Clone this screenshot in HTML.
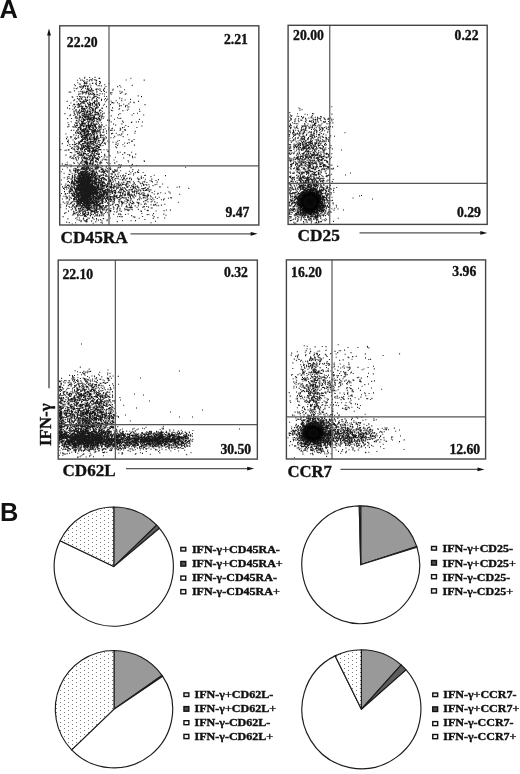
<!DOCTYPE html>
<html lang="en"><head><meta charset="utf-8"><title>Figure</title><style>html,body{margin:0;padding:0;background:#fff}svg{display:block}</style></head><body>
<svg width="520" height="774" viewBox="0 0 520 774" font-family='&quot;Liberation Serif&quot;, &quot;DejaVu Serif&quot;, serif' font-weight="bold" fill="#111">
<defs><pattern id="dots" width="8" height="4" patternUnits="userSpaceOnUse" x="0" y="0"><rect width="8" height="4" fill="#fff"/><rect x="0" y="0" width="1" height="1" fill="#7c7c7c"/><rect x="4" y="2" width="1" height="1" fill="#7c7c7c"/></pattern><radialGradient id="core"><stop offset="0" stop-color="#050505"/><stop offset=".55" stop-color="#050505" stop-opacity=".97"/><stop offset=".8" stop-color="#050505" stop-opacity=".5"/><stop offset="1" stop-color="#050505" stop-opacity="0"/></radialGradient></defs>
<rect width="520" height="774" fill="#fff"/>
<text x="-0.6" y="17.8" font-size="25.4" font-family='&quot;Liberation Sans&quot;, &quot;DejaVu Sans&quot;, sans-serif'>A</text>
<text x="0" y="521.4" font-size="25.4" font-family='&quot;Liberation Sans&quot;, &quot;DejaVu Sans&quot;, sans-serif'>B</text>
<ellipse cx="310" cy="202" rx="13.5" ry="13.5" fill="url(#core)"/>
<ellipse cx="313.3" cy="433" rx="12.5" ry="10.5" fill="url(#core)"/>
<path stroke="#000" stroke-width="1.1" stroke-opacity=".9" fill="none" d="M84.5 181.6h1M85.7 183.7h1M83.4 178.7h1M81 189.9h1M82.7 199.3h1M80.6 183.4h1M84.7 177.2h1M89.7 207.3h1M82.6 183.7h1M82.1 176.3h1M86.4 190.3h1M85.9 192h1M84.9 181.3h1M80.9 195.5h1M84.4 183.4h1M87.2 179.2h1M79.3 189.7h1M82.7 195.3h1M77.1 182h1M79.5 191.1h1M77.3 187.1h1M83.6 214.8h1M79.6 181.3h1M85.6 201.1h1M85.1 187.5h1M83.8 186.8h1M74.7 194.9h1M82.4 196.5h1M84.3 200h1M84.9 191.1h1M78.5 182.3h1M82.6 182.9h1M80.7 192.8h1M81.3 193.5h1M88.6 201.3h1M81.4 192h1M84.4 198.1h1M87.9 202.4h1M82.2 189.6h1M84.1 173.9h1M84.9 176.8h1M84.7 174.3h1M79.7 203.1h1M84.8 179.9h1M89.8 199.7h1M78.5 193.6h1M87.9 204.3h1M85 197.5h1M82 187h1M92.3 186.1h1M87.5 188.8h1M79.8 189.7h1M84.8 183h1M86.7 187.7h1M83.8 203.3h1M87.2 171.8h1M84.2 190.5h1M87.1 179.4h1M90.1 189.8h1M81.9 196h1M85.3 187.5h1M82.7 195.3h1M85 172.9h1M79.9 198.5h1M82.2 182.3h1M83.7 193.9h1M88 189.7h1M89 163.4h1M79.3 180.8h1M81.4 190.1h1M87 202.8h1M76.7 190.7h1M82.7 190.4h1M84.1 174.6h1M89.4 201.6h1M87.2 205.2h1M83.2 188.3h1M83.1 185.9h1M83.5 172.6h1M90.4 196.4h1M82.8 213.7h1M83.3 194.8h1M85.9 200h1M84 193.1h1M83.7 178.6h1M80.2 200.7h1M84.5 176.3h1M82.8 186h1M89 190.6h1M87 196.4h1M84.4 192h1M87.1 191.7h1M83.2 180.8h1M88.6 175.8h1M84.5 188.6h1M86.8 181.3h1M79.5 175.6h1M85.9 176h1M77.9 183.3h1M76.6 170.4h1M83.3 175.2h1M81 172.5h1M85.1 189.7h1M93.3 191.9h1M81.3 207.1h1M82.1 173.8h1M85.3 181.5h1M86.4 196.7h1M83.8 185.9h1M83.7 184.9h1M87.2 204.2h1M86.5 184.8h1M80.5 177h1M84.2 175.5h1M84.6 191.2h1M80.4 190.9h1M85.5 175h1M81.2 178.6h1M88.3 193.1h1M85.3 193.5h1M84.8 181.9h1M82.2 193.9h1M84 193.4h1M76.7 171.1h1M80.1 185h1M85.9 191.9h1M76.2 182.6h1M87.8 167.7h1M77.7 185.3h1M87.5 195.1h1M81.2 203h1M87.5 167.2h1M85 212.8h1M78.5 177.3h1M89.4 197.1h1M90.1 199.7h1M84.2 197.3h1M83.4 189.4h1M83.9 177h1M80.7 194h1M88.8 181.2h1M82.4 164h1M84.3 214.9h1M81.4 194.7h1M82.1 205.3h1M79.5 179.3h1M89.4 201.9h1M83.9 203.1h1M88.3 202.8h1M84.6 187.8h1M81.8 176.6h1M83.2 186.3h1M82.3 167.1h1M84.5 171.8h1M83 188.9h1M83.3 178.6h1M79.1 186.4h1M81.4 187h1M91 206.3h1M81.9 200.3h1M80.4 187.6h1M85.8 199.5h1M90 180.6h1M78.8 184.8h1M83.7 196.6h1M82 176.2h1M77.6 185.3h1M87.4 175.5h1M84.4 189.1h1M84.8 203.5h1M81.6 180.9h1M86.3 190.1h1M82.4 179.5h1M83.9 177.1h1M80.2 176.3h1M79.8 201.8h1M89.7 210.4h1M82.5 192.6h1M85.6 181.2h1M84.4 194.7h1M82.8 184.8h1M82.5 195.6h1M87 190.8h1M83.3 190.7h1M83.9 193.8h1M84.6 182.5h1M89.1 184.2h1M87.2 171.6h1M86 183.8h1M82.3 174.5h1M79.1 186.6h1M88.2 178.9h1M88.3 189h1M84 192.3h1M86.6 174.5h1M87.5 180.3h1M87.7 179h1M88.1 195.1h1M82.7 204.2h1M90.4 196.1h1M79.6 184.7h1M87.9 201.9h1M86.4 173.6h1M87.9 202.2h1M91.8 181.8h1M90.3 161.6h1M80 213.2h1M77.9 203h1M87.7 178.2h1M80.5 189.6h1M84.5 186h1M87.8 189h1M78.1 173.9h1M76.3 181.5h1M85.5 192.4h1M84.7 190.1h1M83.5 199.4h1M84.7 188.8h1M81.1 210.3h1M78.6 181.2h1M83.9 190.5h1M80.7 169.8h1M78.1 176.1h1M86.5 200.6h1M84.3 179h1M86.1 193h1M80.6 187.4h1M81.9 178.1h1M80.6 184.7h1M81 183.1h1M85.3 183.4h1M81.4 195.2h1M85.9 194.2h1M85.8 182.5h1M92.4 179.4h1M79.1 190.7h1M88 187h1M84.2 197.8h1M84.4 213.2h1M78.8 196h1M82.7 187.7h1M87.4 186.4h1M84.2 179.9h1M84.8 179.4h1M83.4 178.5h1M89 184.2h1M84.4 183.9h1M75.9 195.1h1M81.8 184.2h1M76.8 186.1h1M71.8 176.4h1M82.4 203.6h1M89.7 192.8h1M84.7 205h1M79.9 195.6h1M80.8 202.2h1M88.9 185.6h1M85.1 194.8h1M84.7 213.7h1M84.3 176.4h1M84.6 199.2h1M87.6 204.1h1M86.7 192h1M85.3 195.3h1M80.4 200.2h1M86.5 181.6h1M81.8 192h1M88.8 179.6h1M79.5 181.4h1M84 182h1M84.5 186.6h1M79.3 189.4h1M91.2 192.4h1M90.2 174.2h1M82.7 207.3h1M87.5 199.2h1M86 195.1h1M74.3 184.5h1M85.5 187.1h1M84.3 193.3h1M84.8 192h1M80.3 171.6h1M83.4 195.2h1M83.8 216.4h1M89.1 170h1M85.8 197.7h1M84.5 191.6h1M90.5 186.9h1M82.3 201.4h1M83 176.5h1M77.4 189.6h1M90.6 202.3h1M88.3 186.1h1M88.1 183.9h1M87.1 189.1h1M84.9 183.7h1M85.3 203.1h1M83.5 179.1h1M83.7 196.5h1M84.7 175.8h1M90.4 194.5h1M86.7 187h1M84.3 162.8h1M82.2 187.9h1M82 177.6h1M90.8 183.7h1M86.5 203h1M84.8 177.1h1M83.1 177.6h1M80.2 202.1h1M84.2 189.1h1M87.9 203.1h1M83 191.2h1M83.6 179.4h1M83.6 187.4h1M84.9 200h1M78.3 197.2h1M83.6 188h1M81.2 188.5h1M87.9 186.9h1M81.5 182.4h1M86.8 206.9h1M90.4 188.1h1M83.3 177h1M82.2 183.3h1M85.2 195.1h1M84.5 194.3h1M80.6 186.7h1M86.3 181.5h1M92.4 188.2h1M83.5 171.7h1M83.7 175.3h1M80.4 195.8h1M85.7 183.3h1M79.6 191.7h1M80.2 199.9h1M89.5 194.3h1M81 188.2h1M88.7 208.8h1M90.4 194.5h1M85.5 184.5h1M86.7 195.2h1M92.1 192h1M83.7 179.6h1M82.2 188.7h1M79.2 186.4h1M84.7 168.8h1M90.3 186.3h1M88.2 185.2h1M80.8 183.7h1M81.2 171.9h1M82.5 184.5h1M85.6 187.6h1M83.7 189h1M85.3 176.9h1M85.7 194.2h1M83.3 176.1h1M84.3 185.8h1M85.3 200.7h1M84.2 181.2h1M86.5 183h1M91.8 198.5h1M86.8 184.3h1M84.7 185.1h1M77.9 190.2h1M86 198.2h1M76.9 166.5h1M79 179.9h1M87.8 178.2h1M87.3 177.4h1M83.9 179.7h1M77.8 179.8h1M83.1 190.9h1M81.9 179.3h1M87 189.2h1M93.3 191.9h1M85.3 180.9h1M81.5 189.3h1M79.9 203.9h1M84.3 191.1h1M83.8 181.8h1M80 187.4h1M85 179.1h1M80 190.6h1M88.8 196.4h1M88.6 180h1M88.7 186h1M82.7 198.8h1M86.5 183.2h1M84 189.8h1M83 178.1h1M83.2 180.1h1M79.4 183h1M78.9 208.7h1M87.6 184.1h1M83.8 183h1M85.3 182.6h1M88.4 186.4h1M77.7 194.2h1M81.4 189.8h1M85.2 207.5h1M86 190h1M83 201.8h1M88.5 190.6h1M85.3 193.8h1M79.8 174.3h1M80.9 186.8h1M87.6 187.3h1M86.3 185.7h1M77.1 167.5h1M89.8 196.4h1M86.8 184.3h1M89.7 183.8h1M83 185.6h1M83.3 185.8h1M80.1 191.9h1M94.4 175.9h1M83.8 179.2h1M90.7 190.8h1M82 189.4h1M85.1 184.4h1M78 182.5h1M83 180.1h1M88.3 187.4h1M79.6 199.2h1M88.7 177.9h1M85.8 202.5h1M80.4 196h1M82.5 183.7h1M82.7 195.4h1M84.3 174.1h1M82.4 171.6h1M81.3 175.7h1M83.3 184.1h1M80.5 184.9h1M79.5 183.1h1M84.3 188.9h1M87.9 167.7h1M78.5 192.7h1M84.5 174.5h1M82 181.7h1M80.7 184.1h1M87.8 177h1M82.5 175h1M90.3 178.4h1M81.5 187.9h1M86 193.6h1M83.6 193.4h1M81.6 178.6h1M86.8 180.5h1M83.9 179.3h1M86.9 192.3h1M84.3 168.6h1M80.3 199.8h1M84.1 183.4h1M84.7 180.6h1M88.2 191.2h1M81 197.8h1M84.3 191.3h1M77.8 198h1M87 189.3h1M80.3 199.7h1M77.5 199.8h1M84.3 187.1h1M88.8 201.7h1M78.6 189.6h1M80.3 188.8h1M81.6 179.2h1M80.1 185.3h1M86 195.4h1M81.4 175.5h1M81.7 194.2h1M86.8 191.3h1M81.6 190.6h1M86.2 167h1M80.7 187h1M79.8 194.2h1M77.3 180.8h1M91.8 188.9h1M83.3 165.4h1M85.5 194.4h1M84.4 181.7h1M85.1 196.3h1M84.7 170.5h1M91.9 194.6h1M80.4 185.7h1M78.4 195.7h1M80.6 179.2h1M79.3 182.1h1M87.4 209.3h1M87.7 180.1h1M80.8 181.3h1M79.1 185.4h1M83.1 178.3h1M89.9 199.3h1M73.5 204.4h1M86.6 181.3h1M80.3 171.6h1M88.6 199.1h1M80.3 198.5h1M83.4 195.8h1M78.6 199h1M80.7 179.8h1M89.9 186.4h1M87.7 174.9h1M82.9 174.5h1M81.1 197.3h1M77.1 181.6h1M83 209.7h1M84.4 188.7h1M84.2 181.9h1M84.1 195.6h1M80.1 205.1h1M84.2 192.6h1M84.3 176.4h1M89.5 191.5h1M91.8 201.1h1M84 183.3h1M81.5 180.7h1M84.2 197.7h1M82.1 189.3h1M81.6 177.5h1M84.3 184.4h1M80.4 180.8h1M86.9 190.8h1M84.1 189h1M85.5 198.9h1M83.8 194.7h1M81.7 173.1h1M80.8 191.9h1M83.6 196.5h1M82.4 192.3h1M85.4 197.8h1M84.5 182.8h1M79.2 179h1M84.8 196.8h1M79.3 177.9h1M82.1 167.5h1M83.4 197.7h1M76.4 181.1h1M84.9 185.1h1M85.1 174.7h1M83.9 175.4h1M82.8 177h1M83 184.6h1M80.7 191.5h1M83.4 166.2h1M82.3 195.1h1M84.9 176.8h1M79.8 177.9h1M85.4 194.4h1M85.1 187.3h1M83.9 173.4h1M82.8 205.5h1M86.7 179.8h1M78 190.3h1M86.3 189.9h1M85.4 201.4h1M85.6 183.7h1M86 197.6h1M82 181h1M83.5 198.7h1M87 180.8h1M86.2 184.6h1M85.3 206h1M78.6 191h1M86.6 189h1M89.1 209.3h1M88.4 191.4h1M85.4 180.2h1M78.4 195h1M88.2 176.8h1M83.9 198.7h1M74.6 199.5h1M86 182.6h1M78.7 182h1M79.4 189.7h1M82 188.1h1M89.5 178.7h1M83.1 193.4h1M85.6 168.6h1M91.3 183.9h1M90.7 184.2h1M84.1 185.4h1M83.6 190.9h1M79.6 176.3h1M81.8 193.6h1M86.2 186.3h1M86 181.8h1M84.9 175h1M88.4 176.8h1M81.5 191.4h1M84.3 178.8h1M87.4 188.6h1M86.8 198.1h1M88.7 197.8h1M86 202.8h1M83.3 185.2h1M85.9 177.7h1M80.6 197.7h1M78.1 190.9h1M86.8 198.7h1M84.3 188.1h1M85.7 199.4h1M77.9 196h1M83.1 194.8h1M82.2 192.8h1M81.1 191.8h1M75.7 190.2h1M83.2 190.1h1M88 197.4h1M86 183.1h1M82.2 204.5h1M84.4 187h1M87.5 197.4h1M73.7 187.1h1M84 185.7h1M86.6 207.3h1M87.2 185.1h1M91.1 175.9h1M88.9 181.2h1M85.7 185h1M85.7 208.5h1M87.6 190h1M82.4 196.9h1M84.3 178.5h1M88 191.3h1M92.1 194.4h1M83.9 205.1h1M84.3 181.4h1M85.3 193.7h1M89.7 190.9h1M84.4 178.3h1M90.2 187.8h1M80.7 185.5h1M83.8 165.9h1M83.7 193.7h1M87.6 193.1h1M88.6 183.8h1M78.6 175.3h1M80.9 202.1h1M85.8 190.5h1M81.9 197.7h1M78.6 201.4h1M88.6 183.1h1M86.4 195.7h1M86.4 185.7h1M82.6 187.4h1M88.5 187.2h1M83.6 188h1M88.8 198.6h1M80.9 189.2h1M81.2 186.5h1M85.3 185.4h1M81.8 191.2h1M87.1 179.5h1M85.5 183.2h1M80.9 187.5h1M84.8 182.6h1M83.1 186.9h1M88.1 182.2h1M82 207h1M82.8 200.6h1M89.2 192.3h1M93.2 187.5h1M92.3 208.8h1M84.7 191.1h1M85.4 187.2h1M90.5 190.9h1M84 190.9h1M80.7 201.4h1M85 187.8h1M86.3 207.9h1M81.3 179.6h1M78.1 194.6h1M78.9 178.5h1M87.1 205.3h1M81.5 184.9h1M83.9 187.4h1M85.3 196.8h1M86.9 199.9h1M83.2 177.4h1M86.4 184.7h1M81 174.7h1M83.1 189.3h1M80.5 187h1M88.9 184.7h1M84.4 181.5h1M81.6 184.3h1M83.1 180.9h1M83.6 193h1M87.2 202.4h1M78.3 169.7h1M80.5 186.9h1M83 184h1M94.4 192.7h1M88.2 179h1M84.1 186.6h1M87.3 178.1h1M92.5 194.6h1M83.6 188.9h1M83.1 186.5h1M89.2 191.5h1M86.4 185.7h1M87.1 173.2h1M82.5 193.7h1M92 190.7h1M91.2 186.5h1M86.7 197.4h1M87.2 199.6h1M76.6 177.6h1M87 180.6h1M83.7 202.7h1M86.2 201.5h1M87.2 181h1M83.2 176.8h1M77.9 181.9h1M85.9 183.3h1M81.6 173h1M83.2 188.3h1M82.1 175.8h1M83.2 176.5h1M75.5 196.7h1M89.2 181.5h1M85.5 187.3h1M88.8 194h1M92.2 195.7h1M84.6 184.8h1M77.5 188.4h1M81 180.2h1M79.8 204.6h1M82.5 194.2h1M84.8 177.5h1M76.7 188h1M85.8 194.8h1M78.6 192.6h1M85.7 205.4h1M84.1 201h1M83.3 182.9h1M84.2 187.2h1M82.4 175.8h1M82.1 190.4h1M77.9 189.4h1M84.4 213.7h1M91.7 188.9h1M92.2 168.1h1M89.7 181.6h1M87.3 189.1h1M81.9 176.1h1M90.1 179.8h1M84.3 184.5h1M84.2 191.2h1M83.4 186.4h1M84.9 179.6h1M82.8 195.5h1M84.2 182.9h1M80.3 183.3h1M83 174.9h1M93.4 180.5h1M84.2 194.2h1M83.6 172.6h1M86.6 187.3h1M87.3 194.8h1M80.2 184.4h1M83.7 190.3h1M88.1 177.4h1M85.6 200.4h1M85 198.5h1M90.6 190.2h1M81.9 171.3h1M84.8 178.1h1M82.5 197.3h1M90.3 204.3h1M76.9 190.8h1M81.9 199.8h1M82.4 182.2h1M87.1 186.2h1M86.9 188h1M89.9 192h1M78.4 173.5h1M87.4 196.9h1M83.4 200.6h1M81.9 177.1h1M86.6 175.1h1M80.9 191.3h1M76.4 181.8h1M83.1 165.5h1M78.7 195.7h1M82 189.5h1M85.9 183.5h1M85.7 208.1h1M90.7 189.3h1M83.7 180.8h1M78.5 189h1M81.6 178.1h1M80.9 180.8h1M79.8 191.7h1M86.2 182.7h1M82 183.7h1M76.8 203.9h1M87.2 196.2h1M84.1 195.6h1M85.9 193h1M84.9 192.6h1M87 201.8h1M84.6 187.8h1M89.3 205.6h1M86.2 179h1M86 185.6h1M86.1 174.9h1M78.8 184.7h1M83.9 192.9h1M83.5 201.8h1M85.3 181.7h1M79.2 188.1h1M90.9 184.6h1M84.9 181h1M79.8 176.7h1M77.8 188.6h1M83.4 171.5h1M84.2 189.1h1M81.7 188.2h1M84.9 181.8h1M82 178.4h1M86.7 174.8h1M81.7 205.8h1M84.3 175.3h1M88.3 202.8h1M94.5 193.7h1M80.6 184.5h1M82.7 177h1M81.2 197.9h1M87.6 204.4h1M80 179.1h1M82.6 185.2h1M84.4 198h1M80.7 191.2h1M80.8 207h1M82.6 182.6h1M76.3 193.2h1M78.9 176.1h1M82.9 207.9h1M85.1 181.1h1M83.8 167h1M77.6 186.8h1M82.7 186.7h1M87.6 206.2h1M86.7 184.8h1M84.2 187.9h1M81 193.6h1M87 203.1h1M82.2 187.4h1M79.9 197.9h1M81.4 192.9h1M90.1 185.2h1M85.4 188.7h1M89 188.3h1M82.6 179.3h1M88.2 199.5h1M82.2 174.8h1M83.9 199.1h1M94.2 197.1h1M87.5 187.1h1M82.5 180.7h1M84.2 185.8h1M85.8 192.5h1M89.2 195.1h1M82.6 190.7h1M77.7 197.4h1M83.4 182.7h1M84.6 190.2h1M84.9 173.1h1M89.6 195.3h1M85.7 189.5h1M87.7 184.1h1M80.2 199h1M87.9 194.6h1M92.7 161.2h1M87.5 188.4h1M85.5 174.2h1M85.1 198.1h1M91.5 211.6h1M80.9 183.1h1M84.1 188.7h1M86.3 185.6h1M87.4 191.3h1M82.8 194.1h1M85.7 200.2h1M83.4 178.6h1M85 202.9h1M84 179.2h1M80 190.6h1M84.4 199h1M87.9 194.8h1M80.7 179.1h1M83.6 181.3h1M87.1 183.6h1M80.3 187.5h1M85.2 198.9h1M80.4 175.7h1M88.9 192.4h1M93.5 193.8h1M92.4 193.3h1M83.6 192.4h1M87.4 202.4h1M85 192.6h1M84.9 196.1h1M90.5 193.4h1M79.4 205h1M88.6 170h1M84.3 200.2h1M90 185.5h1M85.2 185.3h1M81.9 178.8h1M85.6 170.2h1M87.4 184.4h1M84.6 181.5h1M86.4 192.7h1M82.5 174h1M76.2 201.6h1M88 190.6h1M87.2 185.6h1M85.1 181.3h1M84.8 180.5h1M88.5 177.3h1M82.7 182.8h1M81.7 188.1h1M83.8 186.3h1M89.1 174.6h1M79.1 185.5h1M89.1 179.5h1M82 189.5h1M80.2 205.7h1M89.4 193.9h1M84.1 185h1M79.4 172.6h1M83.1 174.6h1M88.1 172h1M89.1 194.9h1M82.8 180.7h1M86.1 188.6h1M87.3 182.1h1M82 188.9h1M85.9 201.3h1M84.4 181.5h1M82.4 184.8h1M82.6 180.3h1M84.8 196.3h1M84.6 178.3h1M82.3 177.2h1M82.8 174.8h1M88.8 174.6h1M85.3 192.5h1M88 212.4h1M89.2 178.5h1M86.8 197h1M93.4 190.4h1M81.3 177.5h1M87.7 185.4h1M83.3 185.8h1M91.7 181.4h1M91.1 206.3h1M76.9 169.9h1M80.7 191.6h1M87.1 191.1h1M87.6 182.5h1M87.4 189.4h1M84.2 196.3h1M86.3 189.5h1M87 192h1M84.2 194.6h1M88.5 168.7h1M75.7 202h1M87 209.6h1M80.5 197.3h1M88.2 197.6h1M83.6 174.6h1M81 186.9h1M86 180.3h1M80.9 182.4h1M80.9 197.2h1M78.4 180.4h1M84.4 186.8h1M86.4 169.9h1M88.5 186.5h1M83.9 188.9h1M88.6 181.3h1M84.6 181.2h1M84.1 205.9h1M86.7 176.5h1M88.6 178h1M83.2 180.3h1M83.5 199.4h1M83.9 208h1M84.8 191.2h1M81 181.2h1M88.5 183.9h1M82.9 198.1h1M86.3 179.3h1M81.3 201.8h1M85.9 201.5h1M86 188.7h1M82.9 194.1h1M92.4 195.1h1M85.9 202.8h1M91.4 178h1M88.2 199.2h1M81.9 184.4h1M83 180.7h1M86.2 189h1M84.7 186h1M84.7 178.6h1M83.4 172.8h1M77.4 179.1h1M83.6 201.8h1M75.8 206.6h1M86 194.2h1M81.7 199.3h1M81.7 183.1h1M83.6 187.3h1M85.6 190.7h1M78.9 177.7h1M77.7 178.6h1M80.3 188.9h1M76.5 185h1M80.7 177.9h1M90.7 191.7h1M80.4 185.5h1M87 197.7h1M79.2 188h1M85.7 185.1h1M83.3 189.2h1M84.3 186.4h1M86.7 181.7h1M91.3 184.2h1M85.3 195.1h1M85 194.1h1M80.7 200.2h1M86.8 171.9h1M83.5 184.3h1M87.7 184.1h1M84.3 189.6h1M91.3 183.7h1M76.8 183.1h1M83.3 195.4h1M87.9 189.7h1M83.1 176.9h1M81.4 200.7h1M83.5 197.5h1M79.1 182.5h1M85 195.9h1M94 181h1M89 198.7h1M80.2 185.9h1M81.1 180.4h1M82.9 184.5h1M88.4 180.7h1M81.3 189.8h1M81.8 189.7h1M88 188.3h1M87.9 182.7h1M83 153.2h1M80.1 188.9h1M78.5 170h1M81.8 190.3h1M75.8 198.7h1M87.4 190.6h1M82 184.3h1M86.4 186.3h1M91.8 186.7h1M89.1 182.8h1M80 182.5h1M87.9 179.2h1M89 199.3h1M81.6 187.9h1M80.8 197.1h1M84.1 185.6h1M78.3 188.7h1M90.2 186.4h1M75.1 192.4h1M80.2 195.9h1M83.4 190.3h1M83.6 181.6h1M85.1 180.6h1M85.6 203.8h1M83.7 185.3h1M88.9 185.2h1M76.2 201.9h1M84.5 198.3h1M81.7 193.1h1M85 184.2h1M85.4 210.4h1M80.9 191.7h1M82 193.2h1M87.6 186.4h1M85.9 174.6h1M81.8 175.3h1M92.5 191.9h1M93.5 191.7h1M78.8 185.7h1M85.7 176.9h1M94.3 174.3h1M87.6 184.9h1M85.4 174.2h1M83.7 196.5h1M82.4 199h1M83.7 214.9h1M82.4 196.3h1M87.4 182.4h1M82.9 179.7h1M82.8 155.2h1M79.8 182.3h1M84.3 186.3h1M81 197.2h1M83.8 193.8h1M88.6 193.6h1M85.9 190h1M86.5 194.3h1M85.9 201.8h1M84.7 177.9h1M84 183.7h1M83.3 174.8h1M87.5 203.4h1M80.3 200.3h1M89.7 195.1h1M84.6 176.6h1M81.6 189.6h1M82.6 185.8h1M81.9 188.8h1M85.1 186.2h1M81.7 192.9h1M89 184.2h1M81.5 196.1h1M75.6 190.3h1M81.6 185.2h1M76.7 186.9h1M84.3 183.8h1M88.6 195.7h1M87 185.4h1M79.3 190.8h1M81.5 184.3h1M91.4 173.9h1M85.7 196.6h1M84.5 177.9h1M88.6 194.5h1M94.1 192h1M89.6 172.3h1M85 179h1M85.9 183.1h1M86.9 180.2h1M82.1 176.8h1M80.4 195h1M84.7 185.7h1M80.8 191.7h1M84.3 183.9h1M84.9 190.9h1M93.6 180.9h1M81.2 187.7h1M84 193.5h1M83.9 188.4h1M86.2 183.7h1M88.6 177.7h1M82.6 189.6h1M81.3 191.3h1M78.1 185.5h1M80.9 180.7h1M86.6 193.2h1M84.7 211.6h1M80.5 185.1h1M83 191.2h1M84.6 191.6h1M86.5 163.6h1M82.2 189.2h1M83.5 181.3h1M77.4 201.2h1M80 185.6h1M90.8 180.6h1M76 185.9h1M83.2 189.6h1M85.4 182.7h1M83 187.5h1M81.3 175.1h1M84.3 185.9h1M84.5 195.4h1M84.2 206.7h1M77.2 194.7h1M83.9 190.6h1M81.2 199.2h1M82.4 197.7h1M85.4 203.8h1M87 198.3h1M88 186.9h1M82.6 190.5h1M88.1 189.7h1M89.1 190.9h1M88.9 189.9h1M89.9 180.6h1M83.9 168h1M83.8 181.6h1M87.7 168.8h1M79.2 188.6h1M85.3 188h1M82.4 172.1h1M83.1 194.5h1M77.7 196.2h1M81 188.9h1M84.4 203.8h1M88 205.8h1M88.4 176.5h1M84.2 197.8h1M83.8 192.2h1M81.3 192h1M86.1 196.9h1M83.5 181.2h1M86.9 182.4h1M91.3 180.1h1M84.4 180.8h1M78.7 187.1h1M81.1 174.2h1M78.8 178.1h1M79.8 193.5h1M89.6 187.3h1M85.4 191.6h1M78.6 170.1h1M87 180.6h1M89.4 182.7h1M83.1 188.3h1M81.9 182.4h1M83.2 196.9h1M85.6 187.4h1M87 188.2h1M89.1 188.1h1M89.2 194.7h1M89.1 183.5h1M89.8 198.7h1M87.1 192.4h1M78.5 189.5h1M84 188.4h1M85.7 192.9h1M83 197.6h1M88.1 197h1M83.1 191.6h1M80.9 196.3h1M90.1 189.1h1M87.1 199.9h1M85.4 187.7h1M88.1 168.3h1M88.6 200.7h1M85.8 189h1M74.9 176.9h1M87.7 207h1M79.8 201.7h1M114.2 196.5h1M95.7 194.7h1M72 180.3h1M96.3 184.9h1M85.4 201.1h1M112 193.4h1M77.9 215.7h1M64.2 187.3h1M90.8 160.3h1M86 187.3h1M85.2 195.2h1M65.4 196.6h1M94.9 192.5h1M109.2 180.9h1M68 211.1h1M103.5 183h1M83.5 200.9h1M117 187.9h1M95 176h1M87.8 210h1M102.7 159h1M96 180.6h1M83.2 197.3h1M98.2 187h1M84.1 201.4h1M69.4 190.4h1M113.4 185.8h1M86 219.8h1M83 188.8h1M93.9 189.6h1M72.1 177.6h1M74.4 182h1M84.3 200.1h1M84 199h1M90.8 191.7h1M102.9 182.6h1M84.5 200.6h1M95.7 169.6h1M96.9 187.3h1M77.5 188.5h1M92.6 180.7h1M79.2 193.7h1M102.2 183.1h1M95.2 181.3h1M90.2 215.2h1M74.6 201.4h1M91.3 207.4h1M81.2 192.5h1M98.1 204.4h1M88.6 202h1M80.7 207.6h1M100.6 222.6h1M98.3 188.9h1M83.2 195.2h1M103.4 191.2h1M86.6 146.2h1M86.4 173.7h1M91.4 192.1h1M81.3 200.1h1M84.9 184.4h1M88.2 206.7h1M107.6 208.6h1M107.2 186.5h1M87 210.4h1M108.5 214.7h1M89.5 198h1M94.4 179.2h1M100.2 211h1M93.4 189.8h1M117.8 187h1M92.8 193.5h1M76.2 185h1M105 205.9h1M85.3 202.1h1M86.5 207.8h1M101.5 181.7h1M99.4 189.9h1M99.2 203.4h1M101.3 186.7h1M89.5 188.9h1M100.8 184.4h1M81.4 206.9h1M85.9 201.7h1M102.2 191.6h1M94.5 189h1M74.7 197.5h1M94.2 202.9h1M87.9 201.9h1M80.6 188.1h1M95 197.6h1M85.3 203h1M71.9 201.9h1M77.2 151.9h1M110.3 180.4h1M72.6 181.9h1M92.6 189h1M97 194.3h1M97.4 204h1M75.9 200h1M86.3 190.3h1M91.6 192.3h1M99.2 214.9h1M82.6 184h1M76.6 196h1M101.5 212.4h1M102.7 196.5h1M94.3 165.4h1M83 196.9h1M94.7 187h1M91.3 190.5h1M99.6 205.7h1M75.6 198.1h1M91.3 188.6h1M88.2 203.6h1M77.2 197.7h1M92.5 193.4h1M90.4 195.9h1M85.3 195.3h1M94.6 187.6h1M73.7 186h1M89.4 192.3h1M95 179.6h1M93.3 175.6h1M102.4 208.9h1M76.2 188.9h1M72.7 191.7h1M92.7 190.2h1M95.2 192.3h1M114.4 192.3h1M97.1 192.8h1M79.9 181.5h1M99.3 204.1h1M80.3 183h1M72.9 205.5h1M120 167.1h1M93.7 178.2h1M98.2 204.9h1M96.5 190.1h1M110.8 183.3h1M93.3 196.9h1M104 178.4h1M78.2 193h1M74 163.2h1M106.4 186.1h1M107 183.6h1M95.9 199h1M92.6 203.4h1M91.9 180.9h1M82.1 212.9h1M107.7 184.3h1M97.6 165.3h1M95.8 161.1h1M94.3 212h1M102.1 190.9h1M95.8 183.6h1M98.6 182.3h1M76.6 177.8h1M95.9 209.6h1M115.2 190.9h1M84 215.3h1M88.5 189.4h1M100.3 161.4h1M101 203h1M97.2 187.2h1M71.4 188.9h1M95.8 212.4h1M76.4 188.6h1M80.5 207.1h1M96.3 191.9h1M86.6 182.2h1M99.3 198.6h1M126.2 184.2h1M98.9 208h1M98.3 204.5h1M79.7 192.8h1M82.6 199.9h1M77.8 199.3h1M83.9 188.4h1M77.4 203.6h1M82.4 189h1M87.6 200h1M78.5 179.6h1M73.7 193.3h1M74.3 197.4h1M95.2 181.8h1M90.7 186.6h1M101.8 185.1h1M102 201.5h1M86.1 182.7h1M97.7 197.7h1M73.4 211.9h1M116.3 196.7h1M103.7 171.1h1M87.5 193.7h1M76.6 205.6h1M94.4 188.4h1M68.5 206.5h1M81 200.1h1M98.6 197.6h1M90.9 188.7h1M84.4 185.4h1M100.9 188.8h1M78.1 192.9h1M93.3 198.9h1M84.3 197.6h1M80.3 188.2h1M95.3 193h1M78.6 197.2h1M111.9 171h1M83.3 182.2h1M112.9 181.8h1M77.4 189.5h1M97 188.6h1M76.2 188.8h1M74.6 180.8h1M91.8 200.9h1M97.8 195.8h1M75.3 170.8h1M103.6 192.4h1M80.8 177.5h1M91.5 214.3h1M94.4 186.3h1M96.8 187.1h1M69.3 193.3h1M108.6 189.6h1M96.5 191.4h1M85.1 212.3h1M78.2 195.1h1M70.5 203.1h1M74.3 206.9h1M96.3 179.5h1M86.1 214.2h1M77 201.2h1M83.9 204.7h1M108 181h1M86.2 202.9h1M83.3 197.6h1M105.5 185.2h1M95.3 221.9h1M90.5 199.6h1M83 189.1h1M72.1 194.8h1M76.5 204.1h1M84.5 206.9h1M87.5 199.8h1M94.1 208.1h1M96.3 211.4h1M92.6 176.2h1M92.5 185.9h1M78.4 180h1M65.2 193.5h1M84 211h1M79 200.7h1M82.5 178.7h1M86.8 188.4h1M75.7 205.6h1M77.2 185.4h1M88.8 191h1M91.3 196.2h1M82.5 168.6h1M95.7 202.4h1M87.5 196.7h1M78.3 199.7h1M90.5 179.5h1M111.6 182.3h1M82.2 184.5h1M103.4 195.5h1M105.8 193.2h1M107.2 193.9h1M80.5 215.6h1M113.2 209.2h1M91.3 182.9h1M87.1 183.8h1M87.4 214.6h1M96.9 188.1h1M90.6 210.2h1M88 213h1M104.8 185.2h1M81.7 188.8h1M78 193.3h1M99.1 181h1M98.1 179.5h1M102.6 187h1M77.7 203.3h1M102.4 186.4h1M95.5 189.6h1M110.3 186.2h1M75.6 174.5h1M92.5 211.6h1M86.8 161.8h1M71.7 183.8h1M81.8 199.5h1M103 174.1h1M84.6 200.1h1M81.7 208.5h1M100 181.1h1M101.4 195h1M101.3 177.8h1M80.9 198.8h1M89.3 193.4h1M101.9 195.1h1M82.5 210h1M81.4 198.4h1M99.5 209.8h1M108 200.5h1M76.8 176.7h1M60.1 195.7h1M73.3 198.6h1M78.4 173.5h1M88.4 209.6h1M97.1 193.1h1M88.3 197h1M81.9 180.6h1M91.8 193.2h1M78.9 196.1h1M89.5 188h1M82.6 193.3h1M120.8 164.7h1M99.4 210h1M80.4 177.8h1M78.5 163.9h1M85 179.8h1M71.1 181.4h1M81.6 199.3h1M81.5 180.4h1M100.2 195.9h1M85.1 179.8h1M80.9 220.9h1M74.6 199.3h1M76.5 217.7h1M89.2 179h1M87.5 200.9h1M103 179.8h1M82.8 199.8h1M102.2 201h1M93 171.5h1M89.9 177.4h1M66.9 177.1h1M75.2 172.7h1M98.5 182.7h1M106.1 179.7h1M92.4 173.4h1M98.8 193.5h1M85.3 199.3h1M85.7 175.1h1M82.4 184.9h1M101.2 192.3h1M93.9 189.2h1M87.3 183.1h1M86.2 202.7h1M96.4 203.2h1M93.7 201h1M80.4 189.5h1M109.7 218h1M93 214.8h1M90.1 186.9h1M107 190.6h1M101.8 207.6h1M89 181.8h1M96.2 197.3h1M77.7 192.7h1M82.6 183h1M64 189.1h1M104 171.7h1M68.2 185.1h1M97.8 166.2h1M80.4 221.8h1M78.7 211.7h1M87.8 208.1h1M93.1 196h1M97 205.1h1M110.4 208.6h1M94.1 205.3h1M100.1 204h1M83.1 180.2h1M98.2 197.7h1M91.8 185.1h1M84.7 176.7h1M88.9 177.2h1M89.3 197.6h1M92.2 205.8h1M94.6 174.3h1M84.1 214.8h1M81.5 211.2h1M98.6 187.1h1M70.5 186h1M82.9 191.1h1M107.9 204.8h1M82 177.7h1M97.9 196.5h1M71 165.2h1M119.9 193.9h1M60.2 207.1h1M106.5 196h1M107.9 202.2h1M100.5 198.4h1M87.5 201.5h1M94.1 193.9h1M79.7 181.2h1M99.3 189.1h1M77.1 191h1M86.9 208.4h1M101.5 213.1h1M77.2 197.5h1M85.8 182.2h1M91.9 182.5h1M74.6 189.6h1M103.4 210.1h1M93.9 196.3h1M72.6 191.3h1M89.5 182.1h1M81.1 203.5h1M82.4 195.8h1M90.9 191.3h1M81.8 193.3h1M101.1 213.9h1M81.9 189.9h1M101.3 213.9h1M89.5 208.1h1M99.8 192.7h1M83.8 203.5h1M84.2 190.4h1M76.7 181.2h1M96.6 188.5h1M100.8 180.2h1M114.4 198.6h1M104.8 192.2h1M92.9 199.4h1M87.6 202.7h1M94.5 151.4h1M89.7 196h1M106.8 168.6h1M100.9 194.2h1M80.4 180.6h1M82.1 193.4h1M105.7 209.8h1M93.5 169.8h1M87.3 194.5h1M103.6 191h1M85.5 167.4h1M86.8 200.4h1M84.7 192.4h1M67.4 185.4h1M99.9 182.6h1M83.5 186.9h1M81.4 168.6h1M98.4 179.9h1M89.2 187.2h1M90.2 187h1M70.7 191h1M89 178.4h1M73 199h1M93.5 185.7h1M94.2 174.3h1M89.8 181.4h1M113.5 187h1M96.1 203h1M96.9 198.3h1M91.6 187.6h1M87.8 192.3h1M101.1 194.8h1M102.7 218.5h1M75 184h1M102.1 198.1h1M95.9 201.4h1M101 179.6h1M95.4 194.5h1M75.7 194.1h1M76.5 185.9h1M111 199.4h1M92.9 205.4h1M73.7 206.7h1M94 189.5h1M85.8 194.5h1M68.8 222.6h1M63.7 177.7h1M71.6 194.9h1M93.1 203.6h1M89.4 194h1M87.1 200.5h1M93.3 194.2h1M96.9 201.8h1M65.8 208.7h1M86.5 189.1h1M80.5 194.6h1M75.8 191.3h1M83.7 186.8h1M88.6 191.7h1M86.9 177.3h1M73.3 201.7h1M84.4 214.1h1M113.2 214.2h1M77.9 208.6h1M70.6 179.5h1M93.2 211.8h1M96.9 182.7h1M95.3 191.3h1M77.1 216h1M101.5 178.1h1M81 202.9h1M76.9 195.7h1M83 190h1M88.7 180.6h1M98.2 197.5h1M97.2 186h1M89.7 205.6h1M100.7 207.9h1M90.9 174.1h1M100.3 185.4h1M73.9 187.9h1M71.9 176.6h1M98.9 177.5h1M74 193.2h1M86.5 189.3h1M88.9 170.5h1M84.4 185h1M84.8 198.7h1M106 176.3h1M60.9 180h1M100.2 212.6h1M116.4 209.1h1M90.3 170.9h1M89.8 174.4h1M98.4 196.9h1M111 176.5h1M76.3 188.7h1M91 186.1h1M87.9 199.3h1M96.4 159.1h1M91.8 163.4h1M97.6 176.1h1M85.2 205.2h1M90.6 190h1M82.3 169.8h1M82.4 198.4h1M88.4 201.2h1M88.4 188.8h1M76.5 187.7h1M108.1 197.7h1M88.4 207.7h1M74.1 194h1M102.7 198.9h1M81.4 191.4h1M95.8 187h1M89.8 180.1h1M92.9 195.3h1M92 188.1h1M83.4 188.8h1M90.5 204.1h1M113.4 198.3h1M64.3 203.3h1M90.8 171.5h1M95 199.3h1M77.9 184.3h1M74.2 181.5h1M114.8 180.9h1M85.7 207.7h1M113.9 202.8h1M96.2 182.7h1M90.9 177.2h1M95.5 192.2h1M97.3 186h1M103.6 213.6h1M95 173h1M91.7 168.2h1M92 188.7h1M105.5 192.1h1M99.4 193.7h1M78.5 201.8h1M82.7 219h1M93.8 187.5h1M82.8 184.9h1M85.7 169.1h1M79 195.2h1M87 203.1h1M94.9 188.6h1M101.4 207.3h1M90.1 192.4h1M113.9 211.7h1M89.1 196.3h1M126.7 178.3h1M101.5 183.7h1M95.7 172.1h1M84.3 169.4h1M88.2 203.3h1M92 217.4h1M112.1 191.3h1M74.1 188.9h1M111.9 177.6h1M87.1 204.8h1M98.3 197.1h1M60.8 184.3h1M91.6 201h1M86 199.3h1M97.8 167.7h1M91 201.7h1M76.9 193.8h1M100.9 186.9h1M98 186.6h1M96.9 214.7h1M101.6 212h1M102.7 215.7h1M89.7 177.1h1M74.4 183.5h1M74.1 203.8h1M105.5 176.3h1M98.2 182.6h1M91.2 168.5h1M85 216.1h1M90.4 205.8h1M90.3 198h1M86.1 194.8h1M82 186.6h1M114.9 186.8h1M92.6 200h1M83 182.7h1M75 208h1M81.7 185.6h1M98.3 180.6h1M98.7 208.9h1M87.5 190.1h1M90.6 199.2h1M86.5 186.6h1M77.3 162.7h1M105 199.1h1M94.3 174.5h1M118.5 206.1h1M81.3 171.8h1M88.4 167.8h1M100.2 196h1M87.2 197.5h1M74 193.4h1M79.1 176.2h1M91.2 203.6h1M93.9 173h1M88.9 186h1M101.5 181.8h1M101.4 187.1h1M93.7 203.1h1M90.3 183.8h1M87.1 199.3h1M96.3 201h1M100.6 169.8h1M90.7 176.8h1M95.2 187h1M86.3 184.3h1M73.8 196h1M78.5 166.9h1M98.8 201.4h1M95.1 201.7h1M108.3 189.8h1M90.6 174h1M99.9 192.1h1M105.2 185h1M101.4 199.4h1M83 190.9h1M87.9 201.5h1M91.5 186.4h1M78.7 210.8h1M95.5 162h1M101.8 178.8h1M84.5 198.4h1M112.7 172.4h1M86.7 201.6h1M87.7 176.2h1M87.3 193.2h1M81.9 180.1h1M94.8 186.3h1M90.2 194.3h1M109.1 190.6h1M97 187h1M96.2 220h1M87.5 192.1h1M73.7 179.4h1M89 204.1h1M80.2 202.7h1M100.9 207.9h1M89.6 215.2h1M109.2 179.8h1M98.5 205.8h1M99.6 206.8h1M92.7 192h1M92.4 195.2h1M97.5 153h1M100.6 184.5h1M81.8 215.2h1M95.7 168.8h1M120.1 185h1M89 195.7h1M87.1 199.5h1M82 213.2h1M73.3 169.1h1M103.7 192.6h1M90.7 203.2h1M93.4 174.9h1M111.2 191.5h1M118.9 216.5h1M79.8 209.1h1M102.1 199h1M97.2 158h1M94.6 190.3h1M95.5 197h1M89.8 188h1M108.3 191.1h1M94 189.2h1M104.4 179.4h1M100.3 195.2h1M95.3 187.9h1M93.8 188h1M110.2 190.9h1M95.9 202.1h1M89 195.1h1M80.2 176.4h1M86.1 190.3h1M78 198.2h1M91.3 185.9h1M93 206.9h1M66.4 202.1h1M90.2 179.1h1M97.5 196.2h1M91.9 217.8h1M79.1 212.3h1M104.6 191.3h1M82 203.7h1M75.9 183.2h1M77.6 173.2h1M89.9 199.2h1M101.3 195.2h1M103.4 198.7h1M92.4 191.7h1M76.3 196.2h1M82.5 185.3h1M79.7 198.2h1M88 202.8h1M69.6 191.2h1M91.3 202.6h1M97.4 169h1M88.3 181.8h1M95.3 210.8h1M79.2 214.9h1M73.3 195.3h1M82.7 190.7h1M103.3 175.5h1M101.9 196.7h1M84.8 202.1h1M103.9 172.7h1M86.3 199.3h1M107.4 198.4h1M95.6 197.7h1M84.8 177.3h1M99.2 199h1M81.1 172.5h1M79.2 211.4h1M73.3 193.8h1M93 176.9h1M89.4 209.5h1M89.1 207h1M85.3 183.5h1M106.5 220.7h1M85.1 178.9h1M81.7 196.1h1M104.3 207.4h1M106.3 162.5h1M93.9 205h1M70 191.2h1M83.1 191.8h1M97 178h1M90.2 196.3h1M107.9 177.6h1M74.3 179.4h1M97.8 186.2h1M82.8 176h1M105.2 212.4h1M89.1 174.7h1M101.9 182.2h1M82.6 187.9h1M73.8 192h1M77.2 202.3h1M83 202.6h1M78.2 188.1h1M103.8 187h1M105.4 192.5h1M93.1 202.7h1M78.1 201.1h1M88.6 185.3h1M82.1 165.2h1M106.7 219.9h1M93.6 204.4h1M95.6 195.4h1M85.4 196.4h1M66.9 185.2h1M81.1 179h1M77.2 187.7h1M94.3 189.1h1M91.1 183.9h1M80.8 173.1h1M85.5 187.9h1M108 199.5h1M79 185.6h1M79.4 192.3h1M87.4 165.1h1M82 189.3h1M85.1 190.4h1M96.1 176.1h1M109.9 169.5h1M69.5 197.4h1M89.8 181.5h1M90.5 198.3h1M89 186.5h1M87.8 200.1h1M86.1 187.6h1M101.5 172.4h1M84.7 190.9h1M88.5 187.7h1M90 200.5h1M91.2 186.1h1M88 186.9h1M101.5 203.2h1M89.9 207.2h1M92 201.9h1M89.4 205.5h1M78.5 197.9h1M80.5 202h1M77.9 203.4h1M92.2 197.2h1M81.8 192.8h1M77.8 193.8h1M92.7 223.3h1M96 192.2h1M69.8 188.9h1M109.4 187.3h1M90.4 191.6h1M88.8 195.2h1M102.3 177.3h1M90.8 166.3h1M83.1 195.8h1M115.2 171.1h1M77.6 195.4h1M88.9 193.8h1M99.7 207h1M77.7 213.7h1M88.8 196.8h1M94.4 184.8h1M117.6 176.7h1M79.7 181.7h1M89.5 192.5h1M97.6 165.1h1M90.9 193h1M76.2 191.8h1M94.7 200.4h1M91.2 187.6h1M95.1 193.3h1M103 182.4h1M101.7 186h1M94.7 168.9h1M93.6 193.6h1M77.4 212.1h1M88.5 194.1h1M92.5 196.8h1M85.4 179.2h1M91.1 210.6h1M80.5 182h1M107.6 202.4h1M114.7 193.4h1M85.5 179.5h1M94.6 205.4h1M87.3 192.2h1M104.5 194.3h1M95 197.9h1M90.9 191.7h1M87.4 187.1h1M91.5 198.1h1M78.5 186.7h1M97.8 192.8h1M81.8 183.3h1M96.2 172.6h1M91.5 183.2h1M102.6 185.6h1M89.8 192.2h1M101.8 207.4h1M79.4 170h1M97 193.7h1M87.4 163.2h1M92.2 178.4h1M90.8 185.4h1M100.8 162.7h1M66.8 167.8h1M93.7 194h1M72.8 193h1M103.9 190.5h1M67.3 181.6h1M78.5 220h1M70.8 189.9h1M108.9 180.8h1M75.2 213.8h1M91.3 200h1M83.8 187.2h1M69.3 207.5h1M86.1 194h1M97.6 200.4h1M87.9 195.1h1M100.8 178.6h1M85.8 204.6h1M90.1 194.1h1M85.6 178.9h1M94 182.1h1M111.8 204.4h1M94.2 187.2h1M92.2 192.6h1M82.9 200.5h1M81.3 193.7h1M106.8 172.2h1M77.2 200.3h1M79.5 204.2h1M88.9 203.3h1M85.1 213h1M112.5 196.7h1M62.8 202.1h1M94.2 212.7h1M98.2 188.2h1M77.1 214.6h1M82.6 214.6h1M95 202.2h1M108.7 215.9h1M79.4 203.1h1M71.8 180.6h1M101.2 206.8h1M107.5 196.2h1M86.1 197.4h1M64.5 194h1M106.7 209.7h1M87.7 199.2h1M102.9 183h1M89.5 198.3h1M85.7 201.5h1M84.8 182.6h1M106.9 186.4h1M106.5 187h1M65.4 184.1h1M79.2 196.5h1M110.4 205.2h1M85.8 216.6h1M74.4 207.5h1M90.1 205.3h1M88.8 206.9h1M88.9 209.4h1M84.5 187.1h1M86.4 201h1M84.8 196.2h1M93.8 190.3h1M80.7 186.1h1M86.7 185.4h1M88.3 188.5h1M105 175.9h1M94.3 198.8h1M88.7 191.7h1M96.2 193.4h1M94.7 196.4h1M102.5 201.4h1M95.8 184.3h1M110.6 190.6h1M105.5 171.1h1M89.5 163.1h1M85.2 166.8h1M100.1 212h1M95.9 168.3h1M88.9 198.1h1M73 211.2h1M68.9 186h1M94 213.2h1M98.9 216h1M99.2 204.3h1M75.2 222.8h1M101.9 200.1h1M83.9 182.5h1M94.5 198.8h1M94.8 186.3h1M80.8 175.1h1M83.2 175.5h1M66.2 222.1h1M79.5 185h1M69.3 191.8h1M95 183.5h1M90.7 193.9h1M100.5 189h1M94.1 186.8h1M82.7 176.4h1M94 173.8h1M85.5 182.5h1M97 196h1M93.6 219.2h1M78.6 205.9h1M90 215.9h1M90.6 198.5h1M86.5 191.1h1M100.3 175h1M109.7 192.2h1M85.8 164.3h1M86 188.3h1M64.1 213.4h1M88.5 196.5h1M85 206.9h1M65.1 187.3h1M93.3 174.4h1M96.8 186h1M81.6 187.1h1M85.7 207.9h1M78.9 218h1M98.8 182.7h1M72.5 187.6h1M86.4 190.4h1M112.4 187.8h1M90.6 176.1h1M95.4 193.5h1M88.3 197h1M76.5 197.3h1M89.6 176.6h1M94.7 190.8h1M78.2 169.7h1M93.9 204.2h1M104.3 179.1h1M102.3 188.8h1M71.8 186.5h1M78.8 184.8h1M71.4 178.6h1M102.3 169.4h1M97 214.9h1M98.1 195.7h1M79.9 195.8h1M76.6 219.7h1M90.9 191.1h1M91.2 199.6h1M80.2 192.7h1M91.6 207.8h1M97.4 198.9h1M92.6 196.5h1M78 189.1h1M65.7 196h1M87 207.5h1M91.9 165.4h1M87 190.7h1M85.1 187h1M82 188.5h1M98.2 166.7h1M89.4 201.9h1M91.4 181.4h1M78.8 189.5h1M82.9 185.9h1M91.9 170.7h1M78.4 186.6h1M75.5 168.5h1M86.2 180.2h1M103.8 188.3h1M92.2 192.4h1M106.8 193.1h1M88.5 190.6h1M86.4 220.2h1M74 198.1h1M83.4 176.5h1M106.5 184.5h1M93.8 183.9h1M98.4 190.1h1M98.1 184.6h1M89.9 181.3h1M87.6 213.9h1M91.4 193h1M97.7 188h1M95.3 189.2h1M95.7 189.6h1M91.8 210.5h1M81.1 198.7h1M87 207h1M79.2 151.9h1M101.6 196.7h1M65.8 206.2h1M87.5 218.1h1M117.5 192.8h1M86.1 170.1h1M76.9 200.1h1M89.8 184.7h1M104.8 169.2h1M88.2 184.4h1M97.1 206.2h1M91.1 208.1h1M85.7 201.8h1M126.2 178.8h1M83.8 177.3h1M84.4 191.5h1M94.4 173.7h1M94.7 209.6h1M98.9 198.3h1M91.6 204h1M73.5 193.7h1M96.1 191.6h1M86.4 194.8h1M86.7 168h1M72.9 205.4h1M83.4 204.4h1M81.6 187.4h1M89.6 192.4h1M73.3 196.4h1M90.6 212.9h1M91.4 198.1h1M77.1 193.1h1M82.8 185.9h1M80.1 173h1M100.4 184.8h1M60.9 193.5h1M86.1 189.3h1M70.9 193.5h1M85 202.3h1M99.7 198.2h1M82.7 196.2h1M91.6 201.1h1M80.3 195h1M112.3 192.2h1M100.5 198.7h1M103 170.1h1M74.7 208.9h1M77.3 175.8h1M102.4 203.5h1M87.8 192.8h1M87 207h1M93.8 193.1h1M75.6 180.3h1M98.9 206.6h1M90.2 195h1M95.5 194.2h1M82.3 193.7h1M95.9 205.7h1M81.9 203.3h1M101 195.6h1M103 172.5h1M100.5 187.4h1M95.9 194h1M97.3 216h1M99.6 191.5h1M86.8 208.2h1M91.1 191.2h1M86.7 192.3h1M74 194.7h1M83.8 173.2h1M97.6 205.1h1M106.3 198.2h1M82.8 189h1M79.6 177.9h1M106.7 195.5h1M79.9 210.9h1M113.8 184.4h1M90.6 178.9h1M79.8 198.2h1M101.3 172h1M109.5 163.8h1M73.5 186.9h1M107.9 183.8h1M86.8 189.1h1M107.1 185.6h1M85.6 197.1h1M71.9 189.9h1M95.8 185h1M100.7 186.8h1M114.1 201h1M109.8 205.2h1M98 204.5h1M87.3 201.8h1M84 149.9h1M86.6 179.7h1M80.4 188.7h1M86.8 195.4h1M60.7 171.7h1M92.1 211.3h1M89.7 196.7h1M119.5 184.7h1M98.7 194.9h1M84.5 188.3h1M96.5 182.9h1M75.9 199.4h1M83.1 186.9h1M68.5 174.4h1M106.5 184.5h1M96.8 191.3h1M76.5 178.7h1M89.3 209.2h1M100.9 178.6h1M95.7 215.6h1M94.4 204.4h1M80.1 180.6h1M82.7 194.5h1M91.1 208.2h1M100.6 190.3h1M80.5 177.3h1M77.1 194.3h1M103.2 218.7h1M79.3 173.5h1M102.4 200h1M92.8 193h1M100.1 191.3h1M110.1 187.8h1M97.9 188.7h1M98.9 206.4h1M79.4 200.6h1M82 179.9h1M97.4 213.1h1M107.6 176h1M106 201.5h1M116.6 195.3h1M93.6 208.5h1M92.3 197.5h1M101.6 206.6h1M90.2 192.6h1M89.3 205.6h1M78 197.4h1M101.4 220.9h1M77.7 183.9h1M95.9 208.4h1M73.7 199h1M102.6 195.2h1M78.2 185.6h1M99.7 198.8h1M71.7 173.8h1M84.9 175.2h1M103.6 202.2h1M80.7 172.7h1M90.8 211.6h1M84.5 189.4h1M63.4 196.2h1M93.5 193.9h1M95 198.4h1M77.3 189.3h1M96.6 188.2h1M80.8 191.3h1M78.5 206.6h1M90.1 207.7h1M82.2 209.5h1M116.4 197.7h1M72.1 190.4h1M98.5 171.1h1M101.4 201.3h1M67.2 203.9h1M70.1 187.7h1M96.5 203.5h1M84.5 209.7h1M94.4 194.2h1M103.1 206.7h1M85.7 197h1M77.8 170.4h1M92.4 187.7h1M79.3 199.9h1M93.6 181.8h1M92.7 187.3h1M74.1 180.5h1M109.8 192.5h1M102.5 193.9h1M99.8 205.7h1M76.4 203.4h1M85.3 195.1h1M83.7 196.1h1M85.2 194.4h1M77.1 194.5h1M95 213.1h1M92.6 160.7h1M94.2 190.7h1M84.2 197.1h1M104.8 207.7h1M92.2 178.8h1M82.6 204.2h1M89.3 187.2h1M101.1 168.2h1M86.5 188.3h1M87.1 177.4h1M82.4 201.5h1M97.7 181.9h1M84.9 216.1h1M83.1 194.8h1M81.5 182.5h1M96.4 186.4h1M83.9 178.8h1M70.7 198.1h1M97.2 212.4h1M81.9 190.2h1M94.1 205h1M94.3 180.8h1M103.8 197h1M102 223h1M83.4 174.7h1M88.1 209h1M75.2 208.3h1M109.3 168.6h1M95.1 174.4h1M106 180.3h1M86.3 205.6h1M66.4 187.4h1M107.6 190.8h1M91.1 202.2h1M91.5 194.5h1M90.6 195.9h1M97.4 188.8h1M96.1 207.6h1M71.7 182.9h1M102.5 214.8h1M83.9 188.6h1M84.6 182.6h1M109.9 201.4h1M100.6 198.8h1M86.1 167.2h1M68.7 195.9h1M91.9 175.4h1M96.2 182.2h1M89.1 203.2h1M75.7 181.8h1M80.9 197.6h1M75.6 188h1M92.5 218.1h1M99.4 191.7h1M101.8 177.7h1M81.6 178.6h1M92.7 181.2h1M96.4 194.6h1M84.1 192.9h1M88.3 205.5h1M114.4 195.1h1M92.4 194.6h1M100.2 197.1h1M85 191.2h1M90.5 196.7h1M70.3 203.1h1M89.7 203.1h1M103.7 185.8h1M114.1 169.9h1M103.8 182.3h1M97.9 196.5h1M90.6 160.5h1M83.1 186.7h1M88.2 198.7h1M97 185.5h1M81 178.3h1M100.7 215.6h1M78.7 210.8h1M69.5 189.4h1M78.4 210h1M70.8 209.7h1M74.2 178.1h1M87.7 180.6h1M92.5 189.3h1M103.3 178.5h1M104.5 193.8h1M84.2 175.7h1M105.3 192.7h1M94.4 206.8h1M90 195.5h1M95.1 189.3h1M73.6 212.8h1M81 181.1h1M88.8 205.3h1M97 188.8h1M85.7 195.5h1M88.5 193.1h1M101.1 194.3h1M106.2 192h1M98.8 182.5h1M104.6 185.3h1M85.3 198.4h1M86.5 191.2h1M93.7 177.5h1M86.5 183.5h1M84.2 183.6h1M109 191.9h1M87.7 194.9h1M78.9 193.8h1M95.6 184.1h1M111.1 192.8h1M90.9 174.8h1M104.2 155.1h1M85 191.8h1M84.3 171h1M82.1 180.2h1M88.4 176.8h1M111.1 200.7h1M76.7 176.7h1M108.8 196h1M78.4 186.1h1M87.3 176.4h1M99.6 171.9h1M97.2 198.4h1M93.2 197.4h1M71 202.4h1M94.2 216.2h1M78.2 195.9h1M119.5 196h1M87.5 190.7h1M92.2 193.7h1M76.8 187.7h1M84.5 180.6h1M75.2 218.2h1M101.3 168h1M87 195.5h1M96.5 198h1M82.1 194.2h1M84.2 179.7h1M104.8 189.7h1M78.8 186.2h1M69.3 178.2h1M94.7 191.5h1M76.9 186.8h1M84.9 184.9h1M100.5 201h1M80.6 178.3h1M100.1 197.8h1M82.2 184.1h1M107.1 197.6h1M105.2 192.9h1M84.6 195.2h1M87.5 179.3h1M80.4 181.9h1M92.3 180.9h1M103.2 194.2h1M73.4 201.7h1M100.6 206h1M74.8 185.5h1M80.1 193h1M69.4 170.9h1M114.2 163.1h1M90.7 180.7h1M92.8 183.3h1M82.2 171.7h1M102.3 168.8h1M65.8 198.8h1M90.3 181.4h1M115.4 170.1h1M85.6 222h1M90.2 194.1h1M97.7 187.7h1M80.7 200.6h1M90.3 181.9h1M101.1 212.4h1M92.2 171.8h1M94.3 174.8h1M86 190h1M93.6 181.8h1M90.6 210h1M106.7 170.9h1M98.3 182.2h1M87.2 194.8h1M61.9 199h1M98.2 204.7h1M98.7 196.1h1M79.5 220.2h1M67 185.5h1M76.9 193.9h1M100.7 202.7h1M77.8 187.5h1M84.7 187.8h1M92.5 185.6h1M104.1 183.2h1M89.8 176.9h1M88.8 184.4h1M83.7 171.5h1M108.8 196.4h1M102.3 170.9h1M88.9 218.2h1M73.9 213.5h1M80.9 205.8h1M96.7 188.7h1M81.7 183.9h1M100.3 207.3h1M94.2 193.8h1M93.4 198.7h1M97.5 182.1h1M95.7 205.2h1M80.2 181.1h1M86.3 192.8h1M116.9 169h1M76.1 182.9h1M84.5 197.9h1M102.3 185.6h1M88.2 185.6h1M80.7 201.6h1M74.8 190.4h1M96.2 207.4h1M101.7 160.1h1M106.1 198.7h1M90.6 197.9h1M102 171.4h1M78.1 174.5h1M91.9 202.7h1M82.2 177.5h1M92 183.1h1M98.6 199.1h1M102.3 187h1M78.6 197.5h1M104.6 180.1h1M84.5 195.2h1M78.2 205.3h1M88 195.5h1M73.2 162.9h1M90.1 199.7h1M93.3 192.1h1M87.7 179.6h1M96.2 209.3h1M86.4 168.7h1M90 215.6h1M73.4 183.1h1M90.5 211.7h1M80.2 190.7h1M84.8 174.1h1M88.9 192.5h1M92.2 195.6h1M71.1 198.3h1M72 205h1M86.5 179.7h1M95.5 197.7h1M94.1 200.8h1M100.3 187.8h1M105 179.2h1M95.7 178.9h1M89.8 201h1M78.1 201.6h1M79.1 180.6h1M84.6 174h1M93.1 207.3h1M92.5 171.2h1M90 193.3h1M88.2 180.9h1M97.3 168.6h1M92.4 192.9h1M93.4 188.8h1M93.5 209.9h1M83.7 220.7h1M78.1 188.8h1M95.6 204.5h1M94.8 204.8h1M87.5 184.5h1M85.2 180.1h1M116.2 212.1h1M81.3 186.5h1M87.5 190.9h1M93.1 187.5h1M76.7 189.5h1M91.3 183.5h1M110.7 201h1M100.7 207.5h1M97.3 186.4h1M96.8 173.4h1M91.3 191.9h1M101 172h1M88.2 183h1M85.1 207.2h1M91.2 221.3h1M100.4 196.1h1M93.8 177.5h1M97.8 201.4h1M66.7 162.2h1M103.7 182.3h1M116.9 211h1M105.4 200.9h1M86.3 173.4h1M80.2 169.8h1M93.2 202.3h1M78.6 190.7h1M98.3 183.6h1M84 196.6h1M101 183.8h1M105.7 166.4h1M66.6 201.7h1M93.4 182.9h1M82 178.3h1M73.8 174h1M82.9 194.5h1M87.5 180.9h1M101.9 199.3h1M72.5 187.8h1M102.1 205.3h1M113.2 186.3h1M96.9 182.8h1M96.3 165.8h1M89.8 177.1h1M76.5 200.6h1M94.4 175.1h1M98.4 177.9h1M119.5 195.6h1M98.4 197.5h1M94.9 182.5h1M108 192.3h1M74.5 170.5h1M76.9 187.4h1M85.7 202.9h1M82.5 212.4h1M98 189.1h1M86.3 187.9h1M110 197.1h1M107.5 205.6h1M98.9 197.6h1M85.6 181.6h1M97.1 195.9h1M99.3 203.8h1M77.7 182.1h1M94 174h1M98.1 197.9h1M92.5 196h1M108.1 203.8h1M104 192.4h1M80.5 183h1M91.4 185.7h1M80.4 178h1M96.7 179.1h1M80 184.1h1M100.6 185.1h1M94.5 205.7h1M101.2 175.5h1M88.3 190.7h1M73.3 183.7h1M110.3 210.6h1M88 194.7h1M105.8 186.5h1M94.9 201.9h1M97.7 192.2h1M111 185.2h1M93.9 211.2h1M106.1 200.5h1M72.9 213.7h1M100 206.3h1M87.2 201.4h1M88.5 193.1h1M90.1 177.4h1M94 200.6h1M109.1 192.3h1M68.7 200.1h1M90.5 191.3h1M81.8 182.5h1M103.4 178.4h1M85.1 200.5h1M95.3 208.1h1M85.4 187.7h1M97.7 197.3h1M101.7 209.3h1M85.4 180.6h1M90.6 187h1M73.7 177h1M93.5 206.7h1M99.8 194.8h1M83.6 185.5h1M102.9 170.1h1M66.2 189.1h1M68.7 204.3h1M74 187.6h1M84.4 186h1M90.2 199.7h1M89.1 175.5h1M89.2 192.1h1M98.3 199.2h1M84.6 181.4h1M75.5 180.8h1M75.7 194.7h1M114.3 190.2h1M63 188.4h1M88 194.2h1M106.8 194.4h1M95.6 179.5h1M80.5 182.9h1M90 197.3h1M99.9 206h1M103.9 209h1M79.7 180.6h1M98.7 205.6h1M92.9 201.3h1M102.7 191.1h1M106 197.8h1M86.1 202.2h1M73.3 214.6h1M94.6 177.9h1M110.4 199.3h1M97.9 189.7h1M92.6 188.9h1M117.6 206.3h1M78 202.1h1M100.4 178.5h1M83.4 187.9h1M90.6 194.5h1M91 173.4h1M107.4 202.7h1M79.2 190.6h1M83.8 193.7h1M71.7 195.9h1M95.6 214.9h1M84.7 192.1h1M94.9 187h1M77.7 214h1M85.9 185.1h1M101.9 184.8h1M88 173.7h1M97.2 205.5h1M96.1 195.1h1M85.9 197.7h1M72.1 193.7h1M101.3 189.9h1M92 181.5h1M101.3 181.6h1M66.9 197.2h1M71 193.2h1M65.4 212.6h1M79.9 181.8h1M102 185.4h1M96.5 178.5h1M89.6 209.4h1M91.5 175.8h1M98.7 201.6h1M86.5 210.1h1M94.6 189.8h1M91.6 201h1M64.8 164.3h1M85.6 186.7h1M105.6 170.3h1M85.4 193.9h1M88.4 191.8h1M83 181.8h1M84.4 203.8h1M102.9 196.2h1M86.9 184.9h1M78.2 185.1h1M83.4 189.3h1M67.4 218.9h1M69 182.5h1M99.1 197.1h1M98.1 184.6h1M68 202h1M99.8 197.3h1M95.3 188.7h1M81 168.8h1M98.4 185.1h1M71.3 207.1h1M76.1 188.5h1M73.4 199.8h1M77.2 185.5h1M100.1 167.7h1M74.7 197.2h1M76.8 195.8h1M79.1 184.2h1M92.2 186.9h1M86.1 195.4h1M99.9 184.1h1M81.8 196.1h1M75.2 189.1h1M84.2 161.4h1M90.4 189.8h1M79.3 184h1M93.2 180.9h1M110.8 196.9h1M83.2 185.4h1M90.4 198.6h1M105.4 205.7h1M82.4 193.5h1M80.1 171.8h1M77.3 182.3h1M94.4 203.4h1M95.8 188.4h1M88.1 181.3h1M90.3 190.6h1M104.5 198.2h1M99.8 195h1M73.7 200h1M89.7 181.1h1M91 188.2h1M98 188.5h1M87.2 191.4h1M82.3 164.8h1M84.4 188.7h1M69.3 174.5h1M89.4 209.6h1M82.8 211.7h1M95 213.3h1M77.9 202.1h1M84.6 185.5h1M78.4 204.1h1M77.4 189.2h1M97.7 199.6h1M84.3 180.2h1M94.7 184.2h1M76.7 197.7h1M90.7 214.5h1M70.2 191.4h1M84.1 220.7h1M96.3 175.3h1M91.6 191.4h1M87.5 179.5h1M99.2 190h1M91.7 184.9h1M95.7 190.9h1M98.3 204.2h1M88.7 203.9h1M86.1 195.1h1M93.3 191.8h1M84.7 193.3h1M93.9 193.4h1M102.2 199.2h1M99.3 191.9h1M85.1 198.3h1M74.7 175h1M88.8 202h1M88 214.3h1M102.2 194.2h1M85.1 173.6h1M87.1 209.2h1M97.9 187.6h1M84 153.4h1M87.6 189h1M109.1 199.6h1M106.6 196.8h1M96.7 207.8h1M92.5 199.8h1M78.3 193.4h1M95.9 166.4h1M90.1 177.5h1M92 194.1h1M83.5 200.5h1M89.3 178.6h1M87.3 184h1M93.1 197.9h1M105.8 167.3h1M93.6 166.8h1M70.4 188.9h1M78.3 195.1h1M71.3 185.7h1M80.3 162.3h1M95.9 192.1h1M94.1 174.7h1M82.6 200.2h1M92.5 190.5h1M80.8 195.2h1M73.1 200.1h1M73.3 185.1h1M79.6 202.5h1M105.8 207.8h1M74.1 196.9h1M103.7 208.9h1M104.7 183.8h1M87.3 203.6h1M88.9 195.3h1M82.4 179.1h1M89.1 190.8h1M97 185h1M89.5 184.7h1M100.9 193h1M103 205.5h1M93.4 187.8h1M93.2 193.5h1M88.7 173h1M93.4 193.2h1M76.6 206.7h1M94.1 202.3h1M91.8 198h1M79.5 185.1h1M114.1 179.3h1M78.3 190.6h1M79.4 174.6h1M92.6 176h1M67.2 204h1M80.3 180h1M71.9 215h1M78.3 173.5h1M87.9 197.4h1M93.1 176.8h1M102.1 194.1h1M98.6 178.5h1M103 192.4h1M96.1 189.8h1M84 186h1M102.2 198.4h1M83.8 211.3h1M82.3 184.2h1M106.9 203.2h1M98.4 192.9h1M91.9 191.5h1M98 220.1h1M99.5 163.9h1M73.7 183.1h1M88.3 168.5h1M75.8 187.8h1M90.8 188.9h1M105 196.3h1M95.3 215h1M80 208.6h1M89.2 186.2h1M75.4 198h1M89.8 213.3h1M95.6 194.1h1M92.4 194.5h1M67.2 198.3h1M85.5 172.5h1M95.2 181.4h1M92.9 196.2h1M102.7 198.9h1M74.6 180h1M95.4 187.7h1M81.9 190.3h1M91.6 189.9h1M94 200.8h1M97.2 193.2h1M82.7 194h1M91.5 173.6h1M75.9 178.3h1M73.1 196h1M95.7 171.3h1M88.7 195.3h1M70.7 183.3h1M79.6 181.4h1M89.6 200.2h1M107.2 183.1h1M101.3 180.7h1M98.5 183.1h1M68.8 192.5h1M94.8 164.5h1M93.9 191.5h1M94.1 188.7h1M86.7 204.1h1M109.5 187h1M106.3 159.9h1M88.3 208.9h1M78.1 177.7h1M112.9 191h1M83 174.1h1M103.1 177.6h1M111.3 185.3h1M78.5 202.8h1M92.7 202.6h1M85.3 184h1M95.2 198.2h1M93 186.9h1M111.7 193.1h1M96.1 193.7h1M89.2 199.7h1M102.3 183.7h1M86.2 190h1M85.1 194.5h1M115.1 192.8h1M79.9 181.4h1M83.7 213.9h1M89.8 185.7h1M77.2 201.4h1M65.1 194.3h1M101.5 207.4h1M80.3 163.4h1M83.1 218.1h1M85 188.9h1M78 175.7h1M77 193.3h1M91.2 220.8h1M116.9 198.2h1M97.8 175.7h1M97.9 185.6h1M72 208.9h1M89 173.5h1M75.7 189.3h1M98.2 187.8h1M86.7 219.6h1M89.8 187.8h1M88.3 208.6h1M82.6 182.9h1M71.8 181.2h1M96 204.6h1M73.4 199.6h1M75.7 169.3h1M85.9 199.9h1M81.2 199.9h1M92.3 183.7h1M100.9 194.4h1M92.2 195.1h1M91.6 185.3h1M89.6 184h1M99.2 182.9h1M68.1 188.1h1M93.5 174.4h1M78.6 191h1M75.1 172.3h1M89.4 192.5h1M84.9 190.5h1M96 178.2h1M102 202.6h1M62.6 216.6h1M88.5 208.7h1M111.8 173.9h1M99.3 208h1M106 194.4h1M90.5 190.9h1M72.8 183.9h1M76.4 191.5h1M97.5 209.5h1M100.3 198.6h1M80.9 186.2h1M86.2 182.9h1M92.3 186.2h1M69.2 199.1h1M85.3 215.6h1M107.9 177.9h1M114.5 191.5h1M88.1 186.6h1M110.4 181.8h1M83.3 196.7h1M80 198.7h1M63.6 173.3h1M100.3 178.2h1M85 207h1M116.2 195.6h1M93.1 198.3h1M91.5 185.1h1M68.6 186.7h1M106.6 197.5h1M85.2 185.1h1M87.5 177.3h1M64 191.6h1M100 203.2h1M100.7 178.3h1M82.4 205.2h1M90.4 200.6h1M93.9 180.4h1M100.4 191.6h1M90.5 191h1M109.2 199.7h1M86.6 200.1h1M82.4 174.8h1M84 174.2h1M60.2 204.8h1M80.1 193h1M100.9 196.9h1M92.4 195.9h1M79.9 211.3h1M93.4 176h1M66.1 205.6h1M86.1 181h1M95.4 200.9h1M97.4 208.8h1M80.5 173.8h1M99.9 196.7h1M110.9 188h1M84.5 187.8h1M97.9 192.1h1M71.5 178h1M66.8 179.2h1M96.4 200h1M89.9 202.4h1M91.7 184.3h1M82.7 172.8h1M86 221.3h1M98.7 205.7h1M109.2 196.2h1M86.9 178.3h1M70.4 184.1h1M104.1 194.7h1M96.3 179.2h1M97.2 212.1h1M91.5 193.3h1M116.1 196.6h1M90.3 178.3h1M95.3 179.9h1M68.1 181.4h1M82.7 195.1h1M81.5 188.2h1M89.1 187.8h1M93.4 195.6h1M80.8 194.4h1M109.3 210.6h1M77.2 189h1M84.2 178.6h1M92.2 191.4h1M75 210.3h1M96 184.5h1M96.7 192.2h1M86 187h1M111.4 196.7h1M90.4 194.8h1M92.6 181.2h1M78.4 188.6h1M70.1 203.6h1M82.1 205.6h1M85.7 203.4h1M84.2 202.6h1M98.3 187.3h1M62 186.9h1M76.4 203.5h1M68.4 176.6h1M104.9 190.8h1M82.9 167.8h1M83.5 186.7h1M76.7 182.5h1M99.8 176.2h1M84.7 199h1M92 182.2h1M66 186.9h1M102.9 188.3h1M94 182.2h1M95.8 209.7h1M103.7 185.3h1M87.2 194.1h1M87.5 174.9h1M97.7 185.5h1M94.3 187.4h1M86.6 187.7h1M89.9 184.1h1M83.6 193.4h1M97.7 211.5h1M100.2 189.9h1M89.5 189.8h1M111.1 186.6h1M71.7 224h1M86.8 212.2h1M109.1 198.7h1M84.6 200.6h1M71 182.5h1M105.5 189.6h1M95.7 194.3h1M75.7 193.1h1M98.4 180.7h1M77.7 181.6h1M74 198.2h1M87.7 195.6h1M83.9 164.7h1M76.8 192.8h1M85.2 207.8h1M77.9 183.4h1M90.1 194.7h1M89.2 173h1M98 202.2h1M84.2 177.4h1M74.1 175.6h1M74.2 187.6h1M86.6 221.8h1M107.2 183.8h1M99.2 175.5h1M82.1 197.5h1M100.3 194.5h1M76.1 212.7h1M101.1 175.4h1M85 171.3h1M98.3 187.6h1M96.6 196.4h1M86.3 196.2h1M93.2 205.4h1M77.2 172.6h1M88.6 181.1h1M102 189.9h1M136.7 202.3h1M97.6 197.7h1M90.5 186.2h1M77.8 178.6h1M101.7 202.9h1M70.4 203.7h1M93.6 189.3h1M75.6 212.3h1M107.2 176.2h1M102.1 184.7h1M82.9 183h1M83.1 185.7h1M74.3 180.4h1M73.3 184.7h1M94.6 190.9h1M96.7 185.9h1M93.5 200h1M92.5 190.5h1M83 191.6h1M93.6 210.4h1M72.5 195.6h1M89.6 193.6h1M106.5 191.4h1M104.7 192.4h1M84.1 198.9h1M85.6 181.4h1M105.4 206.2h1M110.1 211.6h1M72.2 206.3h1M84.5 185.4h1M92.2 171.3h1M103.5 186.1h1M79.8 193.6h1M96.9 202.2h1M86 189.3h1M116.9 187.8h1M94.4 211h1M87.9 183.1h1M85.6 205.2h1M101.7 203.1h1M97.3 174.7h1M77 195.2h1M92 184.5h1M74 179.5h1M80.8 168.1h1M74.5 171.7h1M74.2 196.9h1M81.6 186.7h1M78.2 195.1h1M95.6 178.1h1M98.7 187.5h1M86.7 188.2h1M76.6 171.9h1M98.8 170.5h1M66.1 197.2h1M67.2 193.5h1M97.9 179.7h1M97.1 190.3h1M100.7 200.1h1M87 214.9h1M74.9 180.3h1M83.6 199.5h1M96 218.6h1M80.6 192.5h1M81.4 210.3h1M73.4 158.7h1M76 210.1h1M99.2 191.5h1M94.7 167.7h1M76.1 201.6h1M77 205h1M83 207h1M95.8 206.9h1M76 191.2h1M87.5 182.1h1M64.7 185.7h1M75 191.2h1M94.3 196.8h1M99.9 185.5h1M76.1 192.2h1M80.6 202.8h1M98.7 195.8h1M85 220.9h1M83.2 219.1h1M95.5 177h1M91.8 184.4h1M102.3 174.9h1M98.7 176.8h1M82.8 198.6h1M88.1 179h1M88.8 178.3h1M73.8 188.2h1M78.3 201.8h1M100.7 187.1h1M71.2 187.1h1M101 203.3h1M92.8 197.6h1M87.9 197.4h1M95.7 203.7h1M95 178.7h1M103.5 194.4h1M84.9 183.5h1M86.9 204.7h1M86.7 202h1M111.2 178.3h1M100.4 208.7h1M78.8 176.7h1M85.7 206.6h1M81.4 194.2h1M89.7 180.5h1M92 177.3h1M116 187.7h1M68.5 191.3h1M101.4 182.5h1M94.6 198.8h1M81.4 173.7h1M87.8 191.5h1M83.8 191.6h1M90.1 167.7h1M101.2 195.6h1M72 175.5h1M104.7 159.7h1M85.2 183.8h1M106.9 188.7h1M94.3 203.2h1M103.8 185.4h1M96.1 210.5h1M102.1 210h1M90.2 205.6h1M80 208.6h1M97.3 196.1h1M97.8 184.5h1M113.8 199.9h1M66.5 204h1M87.3 194.7h1M101.8 188.5h1M75.1 171.5h1M87 200.3h1M114 196.1h1M105.9 174.9h1M79.5 192.9h1M106.1 200.9h1M86.8 138h1M94.3 145h1M94.1 130.7h1M75.4 133.4h1M85.2 130.7h1M91.8 170.8h1M95.4 126.9h1M99.6 90.4h1M71.7 96.9h1M87.2 139h1M93.7 147.5h1M98 140.4h1M101.9 142.1h1M79.9 126.4h1M84.6 86.4h1M78.9 105h1M76.6 112.7h1M97.7 89.3h1M95.6 124.3h1M91.8 117.9h1M82.1 139.5h1M94 140.1h1M75.8 88.6h1M85.7 125.4h1M86.9 139.1h1M95.2 114.9h1M90.1 142.4h1M90 126.4h1M84 147.6h1M87.8 126.3h1M86.6 117.9h1M93.9 134.1h1M86.2 140.6h1M96.4 127.8h1M73.5 111h1M97.8 102.8h1M86.3 112.8h1M97.2 108h1M88.4 126.7h1M94.9 125.8h1M100.3 119.7h1M83.1 121.7h1M88.4 125.8h1M86.3 159.4h1M89.5 150.6h1M74.1 107.8h1M86.3 131.8h1M85.6 113.8h1M81.1 119.3h1M86.1 115.8h1M74.8 106.6h1M99.5 88.9h1M103.5 126.5h1M80.4 150.1h1M77.9 99.8h1M90.1 133.8h1M73.7 112.3h1M89.6 128.3h1M81.8 102.2h1M84.9 116h1M89.8 118.9h1M103.4 126.8h1M93 118.2h1M95.9 137.2h1M76.5 120.7h1M88.4 126.4h1M77.2 130.2h1M80.8 111.4h1M98.7 95.5h1M83 110.7h1M82.3 111.2h1M83 175.1h1M85.1 166h1M99.8 109.7h1M77.8 111.4h1M77.3 129.2h1M92.6 135.1h1M74.3 104.7h1M84.6 97.2h1M97.2 168.1h1M87.7 146.9h1M83.6 83.8h1M80 101.4h1M82.7 126.7h1M88.8 134.6h1M98.1 113.1h1M95.8 82.2h1M82.9 126.6h1M81.5 135.9h1M93.5 121.3h1M72.4 109.3h1M83.9 135.2h1M84.9 119.9h1M78.3 94.1h1M79.2 123.6h1M90.5 89.9h1M73.7 144.7h1M79.9 132.6h1M82.1 97.1h1M88.3 126.4h1M76 151.6h1M85 117.9h1M85.4 161.3h1M84.5 83.5h1M81.9 117.2h1M79.3 86.6h1M97.1 119.6h1M86.6 81.7h1M95.8 108.2h1M81.5 124.6h1M92.8 130.5h1M87.7 131.6h1M80 149.3h1M93.8 138.3h1M74.9 139.3h1M92.9 97.3h1M80 117.4h1M90.9 199h1M99 176.6h1M92.2 141.5h1M82.4 139.3h1M87.2 145.4h1M84.3 111.4h1M77.6 169.2h1M78.1 112.1h1M87.7 119.2h1M91.9 174.6h1M86.8 130.1h1M88.3 105.2h1M78.9 119h1M96 112.6h1M77.1 125.5h1M92.7 102.4h1M100.7 118.7h1M70.2 92.1h1M89.4 111.7h1M89.9 87.2h1M89.2 137.4h1M80.9 89.4h1M84.7 138.3h1M75.6 111.1h1M88.4 113.8h1M91.7 150.3h1M81.7 123.9h1M83.3 133.6h1M87.7 127.8h1M86.4 111.4h1M87.8 86.7h1M76.3 123.2h1M64.4 113.6h1M92.4 170.8h1M99.1 110.4h1M75.4 169.2h1M81.6 155.4h1M89.7 106.2h1M95.2 101.1h1M92.6 153.9h1M97.9 117.9h1M86.7 125.2h1M90.6 115h1M90.6 91.3h1M83.6 112h1M97.2 97.5h1M92.4 83.3h1M95.3 114h1M83.9 165.5h1M95.8 161.3h1M78.4 119.7h1M90.5 124.6h1M65.4 134h1M78.8 155h1M93.3 129.2h1M83.4 109.4h1M88.6 111.5h1M73.7 149.4h1M100 185.9h1M92.1 105.7h1M90.6 141.4h1M89.9 119.4h1M98.9 124.7h1M88.9 152h1M74.9 122.9h1M85 88.3h1M91.9 120.1h1M83.7 92.5h1M92.2 128.5h1M88.1 89.6h1M92.2 112.5h1M74 84.7h1M79.7 112.2h1M92.7 110.2h1M85.3 136.1h1M90.1 154.7h1M103.4 116.7h1M84.6 99.8h1M89.2 170h1M82.5 130.3h1M82 136.5h1M86.5 136.5h1M75.1 157.6h1M69.7 146.5h1M98.5 138.2h1M86.3 140.4h1M96.5 99.9h1M88.2 106.2h1M88.4 118.7h1M92.7 123.7h1M93.1 121.8h1M77.2 129h1M97.2 122h1M79.1 110.7h1M88.8 80.9h1M108.4 142.2h1M87.8 136h1M101 99.4h1M84.3 133.8h1M92.3 131.2h1M87.6 123.2h1M80.1 91.3h1M79.5 106.4h1M89.9 161.6h1M74.2 99.9h1M80.2 112.7h1M92.5 93.6h1M82.1 109.1h1M79.8 129.9h1M84.1 137.9h1M88.4 122.2h1M85.6 106.3h1M102.5 145.5h1M83.5 145.6h1M88.1 117.2h1M87.2 149h1M88.5 104.7h1M73.8 113.5h1M96.6 145.2h1M86.9 114.7h1M86.8 91.5h1M74 104.2h1M91.1 88.2h1M86.6 135.2h1M98.4 78.3h1M83.7 146.4h1M76.9 80.3h1M88.2 122.5h1M79.6 84.7h1M90.6 113.5h1M78.2 146.9h1M86.1 149.4h1M85.3 153.9h1M86.9 119.1h1M82.9 124h1M80.5 127.1h1M86.7 136.7h1M82.4 111.4h1M88.4 148.8h1M84.9 129.5h1M68.6 149.9h1M86.7 133.3h1M98.6 138.3h1M89.7 103.1h1M92.1 110.9h1M90.9 89.1h1M83.3 113.9h1M76.2 116.9h1M93.8 142.2h1M95.9 89.9h1M91.8 202.2h1M90.7 118.3h1M90.4 152.8h1M86.9 147.3h1M87.3 114.8h1M89.9 158.2h1M82 140.6h1M91.8 98.4h1M84.4 109.7h1M67.3 126.9h1M68.4 126.2h1M102.9 105.2h1M93.1 102.6h1M92.7 138.9h1M81.7 209h1M77.9 129.9h1M85.4 135.1h1M87.4 120h1M80.9 103.2h1M88.5 127.8h1M92.8 159.3h1M92.1 126h1M78.7 143.6h1M69.5 115.6h1M87.2 184.3h1M81.8 80.1h1M90.9 135.9h1M100.6 134.8h1M100.6 127.9h1M89.6 93.3h1M96.3 92.8h1M100.6 115.4h1M87.6 123.7h1M89.5 90.9h1M94.2 94.6h1M87 135.2h1M83.2 147h1M81.1 107.2h1M87.3 103.7h1M82.2 103h1M93.8 183.1h1M84.6 133.4h1M99.2 119.5h1M97.1 146.3h1M77.2 178.5h1M96.1 150.4h1M84 85.4h1M98.4 119h1M91.5 111h1M86.9 112.5h1M92.8 90.6h1M82.8 111.3h1M90 93.9h1M90.5 129.6h1M86.2 122.2h1M90.5 85.7h1M79.2 78.3h1M91.9 109h1M77.5 137.3h1M92.4 133.4h1M91.2 119.4h1M82.9 108.6h1M112 102.5h1M85.6 112.6h1M88.6 90.4h1M81.3 110.2h1M99 104.3h1M83.6 189h1M95.5 138.6h1M79.8 116.2h1M90 119.8h1M84.5 118h1M95 125.7h1M85.1 110.8h1M80.5 120.6h1M91.2 146.7h1M77.9 141.8h1M79.8 128.7h1M93.7 154.4h1M72.4 126.6h1M93.7 96.4h1M84.3 77.2h1M80.2 103.6h1M89.5 119.4h1M92.7 131h1M82.9 148h1M86.2 106.6h1M94 100.8h1M93.7 140.3h1M87.2 150.5h1M81.4 109h1M80 129.5h1M82.8 155.5h1M93.1 129h1M92.3 119.6h1M98.8 154.2h1M85.2 137.1h1M84.6 124.2h1M84.6 109.3h1M103 89.7h1M71.1 118.5h1M90 118.3h1M91.3 148.5h1M88.2 90.6h1M106.5 157.1h1M97.1 121.9h1M93.9 150.8h1M80.5 96.7h1M91.7 129.7h1M84.8 151.6h1M88.1 123.9h1M89.4 84.1h1M83.9 112.7h1M92.8 134.4h1M100.8 85.9h1M96.1 84.8h1M89.5 126.9h1M72.3 97.2h1M96.5 138.1h1M96.4 91.5h1M84 101.5h1M93.1 158.4h1M81.4 99.4h1M94.2 120.9h1M79.2 127.2h1M80.5 97.2h1M88 148.4h1M76.2 125.5h1M87.9 132.2h1M92.1 78.9h1M83.4 116.3h1M92.3 115.3h1M89.6 139.1h1M84.3 158.2h1M83.7 114.7h1M74.3 114.3h1M82.4 132.3h1M81.8 159.3h1M101 100.4h1M96 136.7h1M77 114.9h1M94.3 112.7h1M89.7 141.5h1M84.9 101.3h1M91.6 94.3h1M94.2 137.7h1M83.4 120.4h1M85.8 114.5h1M89.3 117.7h1M80.1 133.5h1M89.4 111.8h1M87.3 140.2h1M82.5 131.5h1M81.3 158.2h1M90.4 152.8h1M94.9 142.6h1M90.6 116h1M81.2 124.1h1M93.9 106.3h1M89.3 192.5h1M92.7 115.6h1M97.2 135h1M80.8 155.1h1M86.9 87h1M83.2 100.5h1M81 111.3h1M103.9 96.3h1M95.4 89.4h1M73.9 108.2h1M91.4 153.5h1M83.6 139.3h1M97.1 122h1M88.6 121.9h1M86.6 79.6h1M89.1 138.6h1M91 131.8h1M88.2 94.1h1M86.2 126.4h1M86.9 116.4h1M92 108.2h1M79 96.5h1M88 104.3h1M87 97.6h1M84.1 132.8h1M93.8 130.4h1M77.7 129.3h1M85.1 116.7h1M81.2 111h1M92.3 172.3h1M88.4 151.2h1M91 130.1h1M75.3 123h1M91.6 108.5h1M82.1 115.8h1M86 91.6h1M87.1 86.6h1M94.4 118.5h1M93.9 79.8h1M102 142.2h1M89.4 149.1h1M84 82.4h1M93.2 128.1h1M100.7 126.6h1M90.7 124.1h1M83.4 131.8h1M90.2 139.9h1M90 142.9h1M88.3 166h1M82.1 122h1M67.8 142.9h1M83.7 80.7h1M96.4 118h1M89.7 90.8h1M70.5 156.2h1M88 179.7h1M73.3 134.9h1M103.8 88.8h1M89.5 118.5h1M78.4 122.1h1M94.3 126.3h1M81.8 148.6h1M92.5 145.2h1M78.6 155.5h1M93.3 109h1M77.4 107.4h1M98.6 156.8h1M88.5 114.7h1M79.8 87.1h1M73.6 88.3h1M100.8 122.8h1M99.5 144.1h1M78 158.9h1M101.1 117.1h1M89.3 109.7h1M86.2 162h1M87.3 110h1M85.9 157.9h1M99.4 127.3h1M89.2 127.4h1M73.4 115.5h1M104.6 128.8h1M95 109.8h1M79.4 104.4h1M85.2 118h1M80.8 105.2h1M88.4 129h1M91.1 123.6h1M89.9 114.9h1M83.3 116.4h1M81.6 115.7h1M94.7 164.9h1M87.2 121.2h1M105.9 106.6h1M81.6 114h1M94.3 138h1M88.4 116.4h1M82 117.7h1M98.8 115h1M89 125.5h1M80.9 131.2h1M85.5 132.5h1M96.1 80.5h1M78.3 94.7h1M93.4 141.4h1M85.8 149.1h1M98.8 153.9h1M101.9 125h1M92.8 150.1h1M89.4 120.5h1M102.7 118.4h1M99.9 82.9h1M80.6 101.9h1M86.4 106.6h1M86.3 144.3h1M84.7 162.8h1M76.1 109.7h1M95.2 130.7h1M88.7 128.3h1M88.8 102.1h1M99.2 78.4h1M83.5 102.6h1M87.5 85.5h1M90.2 113.5h1M84.6 117.8h1M87.1 116.9h1M94.1 117.2h1M87.9 133.4h1M98.6 98.1h1M82 143.5h1M89.6 79.6h1M76.6 122.9h1M87.1 131.1h1M82.4 101.6h1M98.9 81.5h1M93.9 137.3h1M92.1 104.5h1M102.7 140.8h1M99.5 140.5h1M93.7 121.2h1M82.5 121.3h1M76.4 146h1M87.8 130.7h1M85.2 98h1M82.8 125.5h1M85.7 135.1h1M74.8 126.4h1M99.9 126h1M78.9 117.6h1M82.6 118.4h1M92.6 98h1M75 85.7h1M95.4 149.4h1M95.5 105.5h1M85.5 126.9h1M79.4 83.9h1M84.2 125.3h1M73.2 100.7h1M99.1 195.2h1M88.4 96h1M82.1 97.3h1M80.7 144.8h1M92.6 149.6h1M77.8 127.6h1M83.4 143.2h1M73.9 90.9h1M93.4 138.3h1M89.3 108.2h1M106.1 96.5h1M87 112.6h1M84.5 109.8h1M82.3 86.7h1M94.9 176.9h1M74.9 110h1M94 102.7h1M90 142.5h1M83.9 119.5h1M80.7 154.4h1M96.5 114.6h1M103 130h1M84.4 123.6h1M92.3 125.4h1M102 116.1h1M83 118.7h1M86 162.9h1M78.2 104.4h1M86.8 107.7h1M87.3 112.7h1M84.6 135.4h1M82 131.2h1M75.2 144.5h1M77.2 88h1M80.1 127.7h1M93.2 116.9h1M83.9 114.2h1M81.1 125.3h1M92.5 128h1M81.9 124.9h1M82.9 85.9h1M93.3 118.9h1M90.9 159.7h1M81.2 111.7h1M89.9 136h1M87.8 115.7h1M97 101.2h1M81 98.5h1M95.1 111.4h1M91.5 153.5h1M79.8 141.5h1M96.5 103.8h1M95.4 146h1M77.3 118.1h1M104.1 104.2h1M78.7 131.9h1M80.6 98.7h1M85.4 82.4h1M94.2 153.3h1M87.2 134.7h1M99.1 83.6h1M91.3 120.6h1M99.3 116.4h1M110.9 110.4h1M67.1 118.6h1M84.3 120.4h1M79.2 99.1h1M88.8 119.6h1M88.8 145.9h1M78 103.6h1M78.6 127.7h1M85.8 92.9h1M86.4 130.8h1M66.7 137.1h1M95.9 182.6h1M88.3 143.7h1M87.9 132h1M90.4 156.1h1M79.6 96.8h1M87.6 147.8h1M96.5 107.9h1M96.8 106.1h1M91.8 148.4h1M85.7 127.2h1M81.3 154.1h1M98.8 85.7h1M92.3 128.1h1M84.5 108.4h1M70.1 114.8h1M72.1 144.5h1M98.3 126.6h1M89.6 97.2h1M81.9 88.3h1M85.7 100h1M109.5 155.9h1M98.1 119h1M76.9 113.3h1M86.9 133.7h1M77.8 121.8h1M73.7 127.2h1M89.4 139.8h1M108 129.7h1M101 143.2h1M88.4 92.3h1M84.9 123.1h1M89.7 112.9h1M96.6 124.3h1M75.8 120.7h1M72.4 106h1M103.7 113.1h1M90.3 145h1M101.4 108.1h1M90 91.2h1M100.3 136.3h1M82.9 145.6h1M92.2 115.1h1M101 124.9h1M96.5 101.2h1M84.1 116.8h1M95.5 149h1M82.4 141.5h1M76 125.5h1M92.4 115.1h1M99.7 81.9h1M95.1 129.6h1M77.4 133.1h1M95.3 147.7h1M93.7 171.3h1M84.1 131.1h1M67.1 145.4h1M96.5 94.6h1M95.5 151.5h1M92.2 143.2h1M73.4 155.3h1M75.5 138.5h1M96.5 133.1h1M94.8 158.2h1M92.2 105.8h1M85.9 137.8h1M91.3 148.5h1M83.4 102.9h1M85.4 93.9h1M80.7 132.7h1M90.2 125.1h1M84.5 137h1M96 137.9h1M94.1 103.4h1M81.1 130.4h1M103.5 149.7h1M78.5 113.5h1M91.8 115.3h1M97.2 94.7h1M98.8 142.2h1M69.3 169.8h1M96.5 88.9h1M98.3 140.8h1M100.2 144.3h1M69.2 108.6h1M82.3 113.2h1M87.2 96.8h1M84.2 103.2h1M99.4 126.4h1M82.2 138.2h1M98.4 125.2h1M92.8 143.2h1M75.7 127.4h1M79.6 93.9h1M84 157.8h1M88.8 151.3h1M96.4 105.1h1M86.4 165.6h1M95.7 133.9h1M74.6 125.7h1M62.1 169.2h1M91.9 83.4h1M84.9 139.8h1M79.4 116.5h1M91.6 99.4h1M104.4 159.3h1M87.1 134.4h1M81.8 91.4h1M80.8 106.5h1M104.7 143.2h1M87.7 166.1h1M98.4 128.7h1M97.2 113.3h1M80.2 80.1h1M96.1 118.6h1M95.2 83.6h1M92.2 109.6h1M96.6 162.1h1M83.2 135.2h1M87.4 141.7h1M83.5 137.3h1M94.4 131.4h1M82.4 146.4h1M91.3 94.3h1M78.7 114h1M87 143.6h1M84.9 105h1M87 112.1h1M89.1 152.2h1M86.4 160.2h1M86.1 108.1h1M70.4 103h1M97.4 137.1h1M82.7 129.5h1M85.9 106.5h1M81 137.5h1M96.5 136.4h1M80.3 124.9h1M92.3 194.6h1M98 156.1h1M102 142.8h1M98.1 147.9h1M93.3 195.2h1M77.8 149.8h1M99 105.4h1M98.1 130.8h1M95.1 124.8h1M94.8 109.1h1M88.7 129.4h1M83.7 129.1h1M97.2 121.7h1M98.8 111.1h1M79.2 143.3h1M95.8 84.1h1M90.1 143.2h1M95.6 123.3h1M90.4 129.7h1M96.8 164.1h1M95.6 80.8h1M76.4 101.9h1M95.1 138.8h1M88.5 108.2h1M78.6 113.1h1M76.5 112.4h1M95.7 128.3h1M102.5 139.7h1M83.9 116.1h1M95.9 128.4h1M92 133.8h1M93.6 106.6h1M76.7 104.7h1M93.3 171.1h1M89.3 102.3h1M94.4 153.3h1M88.2 124.8h1M97.4 159.1h1M90.5 107.5h1M93.9 135.8h1M99.7 131.2h1M89.7 117.6h1M96.6 130.7h1M90.1 104.3h1M92.6 121.2h1M83.8 113.3h1M94.8 141.8h1M98.6 120.9h1M87.5 89h1M94.9 114h1M91.8 120.7h1M79 101h1M91.2 155.7h1M99.3 133h1M84.2 143.8h1M73.3 104.4h1M90 113.4h1M82.9 147.8h1M104.2 88h1M87.9 132.1h1M88.2 125.3h1M83 110.9h1M90.4 125.3h1M83.6 96.8h1M80.7 128.6h1M87.8 93.3h1M81.5 91.8h1M99.3 157.4h1M78.5 105.9h1M82.5 147h1M76.8 104.2h1M70.7 121.7h1M100.4 145.9h1M76.5 131.8h1M89.1 165.4h1M107.2 120.1h1M70.5 137.8h1M76.9 98.4h1M99.2 127.2h1M89.7 160.8h1M83.7 135.5h1M88 127.1h1M89.3 113.9h1M100.8 91.5h1M85.1 142.3h1M89.5 105h1M98.3 132h1M104.9 98.5h1M83.4 169.5h1M90.8 94.3h1M83.6 126.5h1M82.9 187.8h1M85 128.5h1M83 101.7h1M73.9 138.3h1M71.7 147.6h1M82.2 144.6h1M98.4 128.5h1M86.9 169.9h1M93.8 124.9h1M94.5 111.8h1M87.3 139.8h1M87.9 135.2h1M103.9 94h1M85.5 163.2h1M84.2 117.2h1M91.9 157.7h1M86.1 161h1M104.2 154.2h1M85.5 136.7h1M95.1 101.2h1M96.1 146.4h1M102 169.1h1M77.4 143.3h1M101.3 162.8h1M88.4 104.1h1M87.4 148.4h1M85.7 146.4h1M85 86.4h1M85.4 83h1M68.9 105.5h1M92.5 125.3h1M88.8 134.5h1M80.4 117.7h1M87.8 121.7h1M107.4 120.5h1M91.5 125.5h1M85.1 137.7h1M102.5 135.6h1M81.7 121.9h1M87 129.7h1M83.7 112.1h1M86.3 143h1M94.4 110.8h1M93.1 164h1M82.2 122.7h1M87.2 130.1h1M89 104.5h1M84.9 114.8h1M88 127.4h1M82.3 123.8h1M82.2 107.9h1M88.7 94.5h1M79.7 124.3h1M91.7 127.1h1M86.7 137h1M80.6 154.3h1M83.2 115.6h1M86.9 119.8h1M89.2 77.5h1M86.5 91.4h1M81.1 148.9h1M100.1 137.4h1M95.8 107.3h1M89.2 107.6h1M96.1 121.1h1M91 79.8h1M86.1 135.3h1M89 114.7h1M110.3 169.1h1M96.5 97h1M96.9 148.3h1M85 106.4h1M93.2 148.7h1M106.9 99h1M91.8 141.6h1M97.1 112.4h1M98.6 102.9h1M93.6 119.6h1M101.3 135.2h1M90.2 133.5h1M92.4 162.7h1M83.1 143.8h1M90.8 113.4h1M99.7 113.8h1M84.2 138.9h1M88.2 90.1h1M81.8 94h1M88.4 127h1M85 116.2h1M92.7 162.8h1M87.2 131.4h1M83.3 136.7h1M85.8 167h1M87.3 110.9h1M84 123.4h1M96 98.7h1M93.8 129.9h1M89.4 149.2h1M78.4 157.5h1M92.5 122.5h1M77.7 105.7h1M89.8 104.4h1M88.6 88.7h1M83.4 126.5h1M81.4 157.3h1M86 158.4h1M86.5 83.3h1M96.1 131.7h1M91.7 92.1h1M96.9 143h1M78.2 143h1M79.3 127.7h1M115.6 144.1h1M87.9 124.8h1M85.9 137.6h1M89.5 169.1h1M96.4 151h1M78.5 107.2h1M90.6 103.5h1M88 117.6h1M93.7 117.9h1M89.6 125.4h1M83.9 108.5h1M81.1 139.9h1M68.3 124.6h1M96.3 132.7h1M76.2 123.8h1M84.9 139h1M101.8 93.8h1M84.8 163.2h1M93.2 132.4h1M86.5 134.9h1M93.9 139h1M88.5 150.8h1M84.1 142.1h1M99.3 129.7h1M86 119.2h1M77.3 82.7h1M85.5 129.1h1M92.6 116h1M79.1 116h1M94.7 183.9h1M94.5 77.4h1M105.6 125.2h1M83 154.1h1M93.6 147.9h1M74.6 154.8h1M84.8 92.2h1M89.1 99.9h1M91.5 139.4h1M87.8 116.5h1M87.5 166.7h1M83.2 129.6h1M84.6 128.8h1M90.7 135h1M92.8 117.2h1M93.4 127h1M96.3 107.1h1M97.9 123.1h1M73.5 111.9h1M84 130.4h1M86.9 88.6h1M83 86.8h1M96.8 135.5h1M94.3 129.7h1M87.3 100h1M89.2 118.4h1M98.5 97.9h1M85.4 175.1h1M85.7 85h1M95.6 166.9h1M92 103.6h1M99.8 134.7h1M91.2 117.6h1M94.3 114.6h1M83.8 147.5h1M80.6 144.5h1M88.1 116.9h1M66.6 101.4h1M91.5 176h1M96.1 159.3h1M88.8 127.7h1M86.4 116.8h1M97.1 131.5h1M87.9 126.3h1M96.2 154.1h1M106.1 100.1h1M94.1 124.7h1M95.9 104.6h1M92.2 156.9h1M90.3 169.3h1M90.5 121.9h1M88.8 137.7h1M97 159.4h1M75.1 116.8h1M86 100.9h1M93.6 150.2h1M81.4 136.9h1M87.4 119.1h1M82.6 160.8h1M91.8 130.2h1M95.3 79.8h1M100 132.9h1M92.3 122.8h1M82.4 171.3h1M90.3 123.9h1M92.9 119.1h1M99.7 135.2h1M70.8 130.4h1M91.2 89.1h1M73.4 127.3h1M94 116.1h1M91.8 159.4h1M92.3 184.3h1M95.4 96.4h1M91.4 100.2h1M83 103.2h1M91.1 107.9h1M98 107h1M87.3 125.7h1M88.5 151.5h1M78.4 91.8h1M97.6 85.8h1M84.1 78.3h1M82.2 151.9h1M84.6 157.5h1M81.2 86h1M86.2 83.5h1M98.6 127.6h1M94.7 151.7h1M99.8 149.7h1M100.3 129.2h1M81 141.4h1M92.1 132.5h1M100.4 110.5h1M106.9 172.1h1M76.7 124.3h1M76.7 96.5h1M92 112.7h1M85.5 85.8h1M80.2 124.8h1M91.3 151.8h1M81.8 92.7h1M69.8 152.5h1M88 176.7h1M89.2 133.8h1M93.4 95.4h1M95.8 103h1M89.7 116h1M86.3 92.3h1M82.8 93.1h1M74.8 117.9h1M84.6 119.9h1M96.3 139.5h1M93.5 94.4h1M104.8 171.2h1M87 150.9h1M73.7 146.6h1M94.9 108.1h1M96.6 167.9h1M78.7 115.8h1M75.1 169.8h1M89.4 151.2h1M94 101.9h1M79.1 113h1M85.4 171.2h1M81.9 149.4h1M78.6 120.5h1M77.5 129.5h1M89.3 129.3h1M85.1 105h1M82.7 119.4h1M67 107.9h1M102.3 113.7h1M80.5 136.1h1M87 100.4h1M78.9 142.6h1M91.2 127.1h1M75.9 143.5h1M88.9 146.6h1M86.6 155.6h1M95.6 140.1h1M79.2 142.1h1M82.9 119.9h1M86.2 138.6h1M105.1 101.8h1M76.2 118.2h1M90.5 143.1h1M82.8 123.1h1M90.6 135.5h1M93.4 97.9h1M89.3 158.6h1M90.2 109.9h1M90.4 134.3h1M83.3 123.8h1M86.3 147.7h1M74.7 114.8h1M85.2 99.3h1M86 116.7h1M94.1 94.5h1M91.2 137.8h1M91.9 160.5h1M68.7 92.1h1M91.6 132.1h1M87.9 155.3h1M87.3 132h1M77.5 132.5h1M92.5 137.1h1M97.4 138.8h1M96.4 165.6h1M87.4 139.7h1M93.2 93.3h1M95.5 112.5h1M102.8 129.6h1M98 104h1M89.2 117.8h1M88.8 111.2h1M89.4 106.8h1M89.9 141.8h1M84 114.6h1M94.3 96.9h1M82.4 106.4h1M81.5 125.3h1M90.9 177.4h1M83.4 130.9h1M86.1 161.6h1M71.2 136.8h1M88 133.9h1M87 103h1M91.8 90.3h1M89.7 97.3h1M82.4 169.3h1M104.3 84.7h1M84.4 108.8h1M95.9 153.5h1M102.9 141.1h1M83 81.3h1M88.8 121.5h1M81.4 111.4h1M96.5 119.4h1M85.3 143.2h1M79.1 109.8h1M98.7 116.3h1M95.5 161h1M97.6 114.9h1M89.6 136.1h1M110 92.9h1M101.9 108.4h1M83.5 91.2h1M85.8 128.2h1M80.9 108.6h1M89.1 144.1h1M88.4 150h1M94 125.5h1M88.7 114.7h1M76.1 130.8h1M81.4 125.7h1M99.5 93.6h1M97.4 151.3h1M86.7 130h1M86.9 144.1h1M86.6 90h1M88.2 146.4h1M74.4 177.3h1M95.3 139.8h1M82.7 87.7h1M89.2 125.2h1M67.5 122.8h1M89.9 129.7h1M98.9 118.4h1M69.9 136.7h1M100.3 112.5h1M91.8 130h1M82.1 106.9h1M75.1 126.7h1M97.4 149.3h1M90.1 111.8h1M92.8 141h1M85.8 101.8h1M81.5 114.8h1M95.1 118.2h1M80.3 155.6h1M95.3 104.9h1M74.4 154.9h1M80.5 87.2h1M76.2 120.2h1M98.6 147.2h1M73.8 141.7h1M78.7 98.7h1M93.4 93.3h1M89.9 146.3h1M105.8 92.3h1M103 138.8h1M93 111h1M93.6 123.9h1M73.2 182.6h1M80.8 163.3h1M85.3 145.3h1M86.6 89.4h1M76.8 132.2h1M80.4 125.5h1M81.1 121.6h1M96.6 157.9h1M91.5 80.7h1M85.3 132.1h1M85.8 127.3h1M90.4 105.1h1M82.3 167.7h1M85.9 92.1h1M74 124.8h1M88.5 147.6h1M67.8 149.9h1M74.7 151.9h1M78.9 164.8h1M94.9 131.9h1M96.3 143.9h1M93.1 134.6h1M89.9 138.1h1M67.7 140.1h1M89.7 163.6h1M83.1 176.5h1M98.4 166.7h1M100 135.4h1M108.1 150.9h1M94.2 136h1M95.2 155.5h1M78.3 165.7h1M88.4 157.3h1M76.5 160.7h1M95.9 148.2h1M76.8 125.7h1M85.8 125.5h1M80.2 148.8h1M83.4 157.1h1M91.9 165.7h1M82.6 145.7h1M89.7 150.9h1M78.6 153.2h1M100.4 163.1h1M81.8 149.1h1M96.9 136.5h1M107.2 163.3h1M65.5 155.1h1M78.6 154.7h1M85.8 134.3h1M98.4 149.9h1M83.3 128.8h1M91.1 125.3h1M81 147.1h1M92.8 144.6h1M76.6 157h1M95.3 167.8h1M60.3 149.6h1M70.4 172h1M104.3 142.7h1M89.2 159.4h1M79.5 134.4h1M107.8 151.6h1M97.3 146.1h1M98 147.4h1M83.8 157.3h1M93.3 126.8h1M92.3 151.4h1M72.5 140h1M93.1 151.4h1M86 154.8h1M99.4 145.4h1M99.6 145.4h1M81.8 135.8h1M82.1 156.8h1M89.4 141.7h1M93.6 155.5h1M83.9 132.4h1M86.6 166.8h1M93.2 137.4h1M91.5 164.2h1M98.3 144.5h1M89.8 156.7h1M79.5 148.2h1M71.4 158.4h1M95.1 150.1h1M84.6 165.6h1M84.4 158.3h1M85 158.4h1M73.2 170.6h1M84 141.4h1M63.7 166h1M83.9 150.9h1M79.4 131.8h1M104.5 155.9h1M91.7 147.5h1M85.6 170.8h1M89.1 143.9h1M94.3 150.6h1M80.6 152.9h1M85.5 126.5h1M84.3 156.3h1M110.5 137.8h1M88.3 167.3h1M69.5 170.5h1M94.9 149.9h1M111.5 130.5h1M78.8 152.2h1M119.7 152.2h1M87 158.9h1M96.8 146.4h1M82.4 135.3h1M85.1 148.2h1M76.2 138.6h1M77.8 171.8h1M67.8 141.3h1M98.2 142h1M77 149.4h1M91 134.7h1M90.6 144.5h1M81.6 148.3h1M88 144h1M86.7 146.9h1M83 165.3h1M88 155.3h1M88 133.5h1M78.1 144.7h1M75.6 159.2h1M79.7 142h1M88.7 151h1M100.4 149.6h1M101.2 156.5h1M90.5 147.8h1M96.3 148.3h1M88.7 139.4h1M97.8 154.4h1M88.7 138.6h1M91.2 171.3h1M84.9 149.8h1M87.5 147.2h1M105.2 159.7h1M76.4 149h1M87.6 151.1h1M82 149.4h1M96.4 141.1h1M104.4 138.7h1M84.6 141.4h1M61.8 163.9h1M93.2 142.3h1M93.2 145h1M71.9 144.5h1M85.3 158.6h1M86.9 174.4h1M66 138.6h1M93.8 156.7h1M91.6 151.5h1M89.7 146.3h1M77.6 156.2h1M80.9 134.4h1M81.6 160.2h1M92 152.7h1M78.3 137.7h1M101.1 169.6h1M91 160.5h1M67.2 164.3h1M103.2 132.1h1M89 146.7h1M82.3 143.6h1M88.4 157.7h1M70.4 166.6h1M89.2 126.6h1M64.5 150.2h1M77.9 148.5h1M100.1 162.3h1M99.2 149.5h1M84.3 134.4h1M78.4 147.6h1M96.2 137.3h1M87 140.5h1M89.4 150.5h1M93.3 144.1h1M77.4 153.4h1M94.9 131.4h1M67.6 178.5h1M101.1 165.5h1M72.7 158.8h1M81.5 134.1h1M81.2 123.5h1M94.2 139.4h1M94.4 147.1h1M90.8 177.4h1M92.5 166h1M91.8 143.6h1M86.7 164.8h1M69.5 165h1M65.8 150.2h1M65.8 164.9h1M86.9 154h1M85.2 142h1M86.1 135.6h1M89.5 148.5h1M85.2 162.2h1M78 133.4h1M73.3 130.2h1M69.6 156.7h1M98.8 116.7h1M95.9 172.4h1M74.6 144.6h1M84.8 159h1M91.5 172.8h1M102.3 132.2h1M81.7 137.1h1M89 177.5h1M98.2 146.5h1M71 148.4h1M80.4 152.8h1M86.9 163h1M80.5 166.3h1M107.2 151.3h1M95.5 145.9h1M89.2 149.6h1M78.3 153.7h1M95.4 166.1h1M93.2 151.7h1M82.5 172.3h1M83.2 139.5h1M73.5 156.5h1M86.6 171.5h1M95.4 165.8h1M96.7 154.1h1M92.7 139.2h1M95 141.3h1M81.7 148.1h1M82.9 153.8h1M98.6 146.9h1M91.5 132.1h1M79.8 140.9h1M92 156.4h1M95.1 160.2h1M93.9 132.8h1M88.3 145.5h1M82.4 129.5h1M91 143.1h1M103.2 193.5h1M88.6 150.8h1M81 145.8h1M90.4 142.8h1M75.7 135.2h1M89.4 127.2h1M84.4 149.5h1M96.2 146.6h1M88.2 168.1h1M97.1 129.9h1M108.8 155.3h1M85.2 166.5h1M79.4 126h1M91.5 158.1h1M86.4 130.2h1M88.6 156.4h1M81.6 168.1h1M92.4 150h1M87.9 153.5h1M67 141.5h1M85 153.5h1M90.3 163.9h1M98.3 147.8h1M81.8 148.3h1M79.7 154.8h1M98 160.1h1M81.5 129.9h1M88.2 150.7h1M91.6 141.6h1M94.1 156.1h1M87.3 162.7h1M76.8 153.8h1M96.7 165.9h1M83.1 137.8h1M82.3 145h1M106 137.9h1M95.4 150.7h1M77.3 151.2h1M82.7 147.6h1M84.9 135.1h1M80.2 149.1h1M69.3 144.6h1M94.7 157.4h1M94.4 146.7h1M89.5 164.3h1M83.4 152.8h1M89.2 127.2h1M93.2 147.9h1M77.4 132.5h1M84.1 161.9h1M82 167.6h1M93.7 149.7h1M89.6 155.5h1M75 132.3h1M81.4 122.4h1M103.7 143.2h1M78.1 146.9h1M88.6 131.4h1M81.3 151.1h1M98.8 153.9h1M86.6 157.9h1M83.1 169h1M76.2 160h1M84.9 145.5h1M94.9 151.3h1M93.4 157.4h1M74.8 137.2h1M101.7 166.3h1M84.8 161.1h1M77.3 147.2h1M88.3 142.2h1M81.3 196.7h1M81.7 160.4h1M81.2 161.6h1M86.3 172.1h1M82.5 162.1h1M71.2 152.6h1M92 158.7h1M82.3 138.8h1M98.3 158.8h1M92.1 131.1h1M92.9 155.3h1M88.8 156.9h1M99.2 130.9h1M84.1 173.6h1M77.9 135.9h1M90.3 162.9h1M61.8 143.6h1M83.7 153.9h1M89.1 142h1M83.2 180.7h1M98.8 162.8h1M93.6 172.4h1M88.1 159.8h1M83.4 158.7h1M97.3 152h1M80.8 147.2h1M83.2 157.7h1M94 152.2h1M92.6 148.3h1M106 133.3h1M85.1 146.4h1M69.6 157.7h1M93.2 144.4h1M98.8 154.5h1M85.5 148.5h1M101.6 137.6h1M103.6 139.1h1M80.9 141.1h1M82.6 146.7h1M75.4 147h1M92.1 164h1M93.7 136.9h1M92.7 125.1h1M75.6 158.7h1M80 144.7h1M73.8 148.8h1M72.1 181.6h1M74.5 168.3h1M72.4 157.5h1M85.4 161.9h1M91 151.8h1M92.8 162.1h1M86.8 142.8h1M80.8 141.6h1M86.9 144.6h1M92.3 169.8h1M84.3 169.5h1M87.5 142.9h1M84.2 164.6h1M82.2 148.4h1M87.3 163.6h1M76.7 146.4h1M96.8 162.1h1M72.5 149h1M91.3 146.8h1M74.4 150.1h1M101 152.3h1M95.1 143.2h1M79.5 133.5h1M82.8 171.3h1M76.5 145.6h1M86.5 128h1M90.8 122.5h1M110.7 115.9h1M74.3 142.9h1M98.5 167.2h1M81.6 130.3h1M89.6 146.5h1M95.1 127.8h1M92 164h1M90.9 154.9h1M130.5 167.6h1M146.4 182.5h1M150.9 181h1M141.4 213.5h1M116.7 186h1M105.1 202.3h1M109.5 168.6h1M98.6 194.4h1M153.4 199.8h1M122.6 192.6h1M127.6 160.5h1M128.6 195.1h1M156.7 202.7h1M116.9 208.8h1M143.8 197.8h1M130.3 172.8h1M123.3 190.5h1M96 203.8h1M139.8 183.2h1M114.1 199.8h1M118.5 187.3h1M129.1 194.1h1M127.1 202.1h1M143 184.5h1M128.2 194.8h1M129.9 197.1h1M126 184.1h1M136.1 193.7h1M121.7 189.8h1M144.2 175.5h1M114.7 174.7h1M103.4 196.4h1M125 192h1M143.9 161.5h1M117.7 167.3h1M115.9 189.3h1M120.3 192.2h1M128.2 200.3h1M122.9 178.2h1M130.4 200.1h1M99.1 189.3h1M148.8 186.9h1M134.6 191.3h1M112.4 204.8h1M146.8 199.7h1M132.6 203.7h1M148.4 184.8h1M107.5 189.6h1M151.3 179.1h1M126.4 186.4h1M93.9 188.2h1M137.3 187.4h1M121 201.6h1M110 198.1h1M122.3 202.1h1M95.6 194.5h1M134.7 205.9h1M122.3 194.4h1M121.5 204.6h1M147.5 199h1M126.2 201.8h1M115.4 192.2h1M111 178.1h1M124.7 175.7h1M142.1 216.5h1M116.7 197.7h1M109.6 198.3h1M139.9 191h1M126.6 187.5h1M157.9 179.6h1M106.9 192.2h1M128.7 192.4h1M98.2 179.4h1M121 177.7h1M134.7 184.6h1M143 188.9h1M106 187.2h1M138.5 202.8h1M137.7 178.9h1M123.7 197.9h1M163.6 210.6h1M125.6 203.7h1M112 179.3h1M132.2 157.6h1M96.9 203.1h1M149.7 199h1M140.9 186h1M119.5 208.4h1M135.1 188.1h1M133.9 194.3h1M155.5 180.5h1M116.1 196.8h1M105.7 187.8h1M94.2 187h1M121.1 206h1M101.4 195.6h1M122.9 175.1h1M132 201.3h1M118.8 203h1M111 183h1M144 188.3h1M122.5 193.6h1M129.2 190h1M140.3 194.5h1M105.5 200.8h1M111.4 187.1h1M164.2 218h1M123.2 184.5h1M109.5 186.5h1M121.7 216.6h1M116.8 221.6h1M106.6 193.5h1M119.3 190.8h1M125.3 180.1h1M125.4 206.7h1M133.9 195.1h1M98.8 182.8h1M102.5 197.9h1M137.8 209.4h1M118.8 201.2h1M144.4 219.5h1M130.3 206.9h1M103.8 198.3h1M133.9 192.6h1M110 199.6h1M129.6 207.6h1M144.6 203.3h1M158.2 205.7h1M124.5 195.7h1M136.4 202.2h1M130.3 207.6h1M137.8 191h1M86.2 177.4h1M119.6 213.7h1M130.1 200h1M132.9 187.7h1M114 195.8h1M138.3 190h1M142.6 172.5h1M126.7 190.8h1M122.1 175.9h1M120.1 195.4h1M127.8 191.7h1M143.8 206.6h1M148.7 191.6h1M118.4 197.5h1M111.3 189.4h1M113.4 188.4h1M140.8 176.2h1M129 204.9h1M130.2 195h1M133 186h1M131.4 195.5h1M123.7 188h1M109.6 184.3h1M116.1 196h1M127.5 207.6h1M131.7 189.8h1M119.9 175.9h1M119.2 185.6h1M146.7 214.6h1M118.4 183.3h1M129 207.3h1M120.7 190.1h1M112.4 201.9h1M102.3 191.7h1M117.4 174.1h1M113 188.1h1M138.7 218.3h1M108 191.4h1M119.3 199.8h1M135.7 189h1M123.9 191.4h1M133.2 196.9h1M138.5 198.7h1M100.1 219.6h1M119.3 192.8h1M110.9 190.8h1M146.3 185.1h1M123.8 177.3h1M133.2 173.7h1M151.7 201h1M120.2 170.7h1M126.8 209.9h1M131.9 203.3h1M121.5 189.5h1M144.9 179.2h1M138.1 193.4h1M141 193.3h1M126.4 206.6h1M120.4 184.1h1M120.2 188.5h1M120 192.4h1M100.5 189.7h1M131.2 185.5h1M138.1 172.5h1M125.5 173.4h1M118 184.9h1M126.2 190.3h1M129 205h1M130.6 220.7h1M153.1 213.6h1M112.5 197.8h1M131.2 215.6h1M136.1 191.6h1M126.8 186.7h1M122 220.8h1M110 180.2h1M116.5 188.1h1M136.4 189.9h1M147.7 210.6h1M115.6 185.9h1M132.8 202.4h1M133.5 188.2h1M140.9 178.4h1M129.3 195.9h1M132.3 195.1h1M139.2 179.2h1M107.9 182.7h1M126.3 183.5h1M98.7 204.6h1M95.6 198.6h1M113.1 195.9h1M102.2 198.9h1M133.3 187.3h1M140.7 198.8h1M120.9 185.8h1M123.5 177.1h1M122 184.6h1M121.6 195.6h1M127.6 194.1h1M130.9 205.8h1M118.5 172.8h1M113.6 190.4h1M117.7 197.8h1M137.7 181.5h1M119.2 196.1h1M147.5 188.2h1M121.9 179.5h1M146.3 206.5h1M107.5 176.4h1M115 205.1h1M132.8 188.1h1M132.9 181.8h1M123.2 182.5h1M156.4 184.2h1M126.6 182.9h1M129.9 196.3h1M116.9 170.7h1M150.6 208h1M138.5 203.1h1M131.8 209.7h1M100.8 181.3h1M131 165.3h1M118.5 185.6h1M131.5 191.1h1M139.3 196.7h1M114.2 186.9h1M128.8 192.1h1M138.8 194.9h1M128 174.5h1M120.5 214.8h1M109.5 179.6h1M115.4 196.3h1M106.4 206h1M140.4 183.7h1M127.1 193.2h1M107.2 212.7h1M125.4 189.7h1M106 205.7h1M76 196.6h1M143.7 195.9h1M143.1 201.7h1M103.3 190.4h1M114.7 190.6h1M128.6 204.7h1M119.7 196.3h1M112.6 199.1h1M117.7 178.8h1M121.9 193.3h1M117.1 207.7h1M128.6 203.9h1M122 197.3h1M114 187h1M125.8 185.8h1M100.5 198.4h1M147.2 210.2h1M99.3 193.7h1M124.2 208.8h1M130.6 189.6h1M131.7 207.6h1M129.4 181.2h1M144.4 195.4h1M108.5 180.4h1M124.4 201.1h1M127.6 200.1h1M118 181.8h1M116.5 184.3h1M144.8 187.9h1M114.7 175.3h1M118.2 182.1h1M121.3 182.8h1M122.2 202.6h1M127.8 209.8h1M122.3 187.9h1M131 189.7h1M127.4 195.7h1M132.6 186.9h1M145.9 189.8h1M112.7 203.2h1M150.1 195.9h1M118.7 192.2h1M135.4 186.3h1M127.8 210.8h1M120.9 185.8h1M96 194.6h1M149.5 180.8h1M114 186.1h1M113.6 194.3h1M141.3 188.5h1M126.5 199.6h1M153.8 194h1M150.5 176.6h1M136 165.5h1M129.1 205.1h1M136.8 186.2h1M105.7 210.9h1M127.9 193.3h1M127.6 184h1M118.3 199.9h1M129.1 189.9h1M103.5 193.3h1M138.8 182h1M144.6 200.8h1M106 206.3h1M127.5 186.9h1M148.4 214.5h1M131.6 186.4h1M109.9 196.2h1M110.6 173.6h1M138.1 170.1h1M152.7 218.4h1M109.1 210.2h1M125.9 206.9h1M113.7 172.8h1M121.1 195.9h1M129.9 198.2h1M124.7 194.1h1M115.1 196.7h1M156.7 182.1h1M122.9 191.2h1M122.6 179.5h1M141.8 189h1M125.5 197.6h1M122.3 183.8h1M139.4 189.8h1M109.9 188h1M136.4 193.3h1M140.6 204.2h1M135.2 196h1M122.6 197.9h1M125.2 175.9h1M99.7 188.8h1M123.4 202.9h1M129.6 182.8h1M138.2 187.9h1M127.4 181.5h1M119.5 209.1h1M112.8 187.7h1M124.6 184.4h1M127.3 200.5h1M143.3 206.3h1M125.4 199h1M117.8 204.9h1M123.7 195.7h1M118.1 191.6h1M121.8 187.8h1M92.5 187h1M101.6 186h1M107.5 197.5h1M132.2 191.8h1M124.1 194.2h1M127.5 200.4h1M142.5 192.5h1M109.8 176.7h1M142.2 183.6h1M131 179.7h1M114.7 170.2h1M147.4 194.3h1M104.1 178.7h1M108.5 177.7h1M122.2 180.2h1M131.3 203.6h1M122.4 189.4h1M93.6 205.1h1M120.8 192h1M124 187.9h1M163 199.9h1M145.6 200.2h1M127.1 194.5h1M109.1 180.6h1M130.3 187.6h1M108 178.9h1M128.3 190h1M130.7 194.2h1M119.3 210.8h1M129 210h1M120.4 201.2h1M116.8 204.5h1M148 195.8h1M120.7 211.4h1M127.9 197.6h1M133.6 198h1M137.9 205.7h1M147.1 195.3h1M132.1 196.8h1M108.7 181.2h1M155.3 204.3h1M142.4 194.7h1M137.5 202.7h1M145 190.4h1M103.2 171.7h1M119.7 199h1M117.7 207h1M142.8 177.7h1M107.8 181.4h1M120.5 189.4h1M147.7 190.1h1M134.8 172.6h1M119.5 214.1h1M153 205.1h1M105.5 185.6h1M131.9 171.3h1M121.8 197.4h1M132.8 216.8h1M121.1 202.9h1M112.8 206.9h1M128.4 181.7h1M105.7 195.8h1M133.1 175h1M120.5 216.7h1M138.8 199.8h1M118.6 167.7h1M115.3 170.8h1M131.1 198.8h1M143.4 194.7h1M94.6 189.3h1M126.9 200.4h1M134.4 217.1h1M104.2 197.4h1M112.2 171.3h1M134.7 191.1h1M112.9 177.3h1M115.7 183.3h1M150.6 196.9h1M111.2 190.9h1M112.4 180.2h1M91 192.6h1M109 183.2h1M107 199.3h1M150.5 190h1M143.2 197.6h1M106.5 189.7h1M154.2 201.9h1M136.5 191.3h1M122.5 192.8h1M137.1 186.1h1M130.8 194.6h1M113.8 171.6h1M111.7 184.7h1M125.1 194.1h1M119.9 187.2h1M114.2 187h1M139.5 197.7h1M109.4 186.7h1M138.3 187.7h1M118 176.3h1M126.7 181.8h1M108.6 178.8h1M125 214.5h1M113.6 176.8h1M99.3 180h1M124.8 195.2h1M124.4 210h1M137.4 172.5h1M129.3 174.3h1M110.1 194.3h1M116 196.9h1M88.4 175.8h1M108.5 171.2h1M144.3 181.3h1M147.5 201.8h1M136.4 192.3h1M129.6 201.7h1M133.8 191.5h1M132.3 192.4h1M99.5 200.2h1M112.2 191.4h1M142.6 195.6h1M142.6 181.8h1M128.7 185.6h1M120.5 198.4h1M119.4 189.9h1M117 183.8h1M111.4 200.7h1M96.6 199.3h1M127.3 192.7h1M118.4 183.7h1M121.9 203.5h1M150.5 222.7h1M133.8 182.9h1M114.7 174.3h1M133.7 183.4h1M102.8 181.6h1M140.7 177.6h1M129 178.6h1M122.2 202.9h1M133.5 203h1M146.7 210.5h1M118.2 201.7h1M110.4 187h1M156.4 205.7h1M125.3 185.4h1M147.2 188.6h1M115.1 178.6h1M130.7 207.4h1M115.6 204.8h1M134.5 187.1h1M121 189h1M115.1 193.1h1M148.1 195.1h1M130.1 202.8h1M94.9 193.5h1M121.6 197.5h1M111.4 174.7h1M107 189.1h1M116.4 171.2h1M118 214.1h1M125.6 209.4h1M113.3 201.3h1M97.4 206h1M117.1 216.7h1M138.1 203.9h1M104.8 173.6h1M134.2 190.2h1M131.9 164.4h1M118.4 182.9h1M129.6 177.7h1M113.9 192.5h1M119.1 197.3h1M109.8 181.5h1M132 189.2h1M145.4 196h1M114.9 190.7h1M142.8 190.5h1M111 184.2h1M142.4 207.4h1M162.1 184h1M153.6 216.6h1M125.7 198h1M145.1 175.3h1M153.7 205.1h1M133.9 217.3h1M160.2 192.8h1M136.6 207.3h1M144.1 193.2h1M147.7 188.6h1M185.1 167.2h1M144.3 209.2h1M140.3 190.7h1M160.9 199.7h1M141.9 183.1h1M152.5 185.6h1M113.4 207.9h1M154.2 191.3h1M149.1 191.2h1M128.8 181.7h1M171.1 197.9h1M145.6 204.1h1M146.3 190.5h1M128.4 193.5h1M123.4 182.1h1M140.3 211h1M125 188.8h1M157.2 193.9h1M163.3 214.1h1M139.2 193.1h1M123.7 178.5h1M143.1 185.4h1M132.4 191.6h1M152.1 215.2h1M152.3 198.1h1M142.6 193.1h1M150.6 204.8h1M166 210h1M176.6 187.3h1M141 211.4h1M160.9 205.1h1M145.6 200.6h1M132.4 169.5h1M169.9 197.8h1M155.6 211h1M151.6 192.6h1M155 221.2h1M146.8 196.5h1M132.5 184.4h1M177.8 202.2h1M163.7 198.9h1M153.6 204.9h1M164.8 193.2h1M169.9 210.1h1M146.1 189.5h1M158.7 197.2h1M144.2 181.9h1M159.7 186.8h1M145.3 198h1M188.3 188.4h1M143.6 190.7h1M157.6 193.4h1M156.7 198.5h1M144 204.2h1M164.3 204.2h1M148 207.1h1M142.7 198h1M149.4 189.7h1M137.3 178.1h1M168.5 191.9h1M159.3 186.9h1M165 175.6h1M127.7 214h1M153.7 175.3h1M137 199.7h1M150.7 201.9h1M169.7 193.1h1M146.5 196h1M167.3 187.2h1M165.5 215.3h1M178.9 186.9h1M119.6 179.8h1M154.6 184.6h1M142.7 188.6h1M135.3 196.3h1M151.2 199.5h1M130.7 178.8h1M113.6 199.7h1M134.9 220.6h1M145.2 187.8h1M179.2 194.3h1M137.8 203.5h1M130.6 209.2h1M117.7 188.3h1M143.7 185h1M145.5 184.5h1M151.7 208h1M126.2 205.8h1M137.1 171.6h1M113.1 171.9h1M152 182h1M124.2 179h1M105.4 200.3h1M167.9 198.2h1M157.4 217.6h1M155 204.6h1M154.9 197.1h1M131.9 141.1h1M108.8 112.2h1M103.2 90.6h1M119.1 108.7h1M129.2 155.6h1M100.7 117.3h1M128.7 142.6h1M128.4 103.9h1M113.2 137.8h1M120.6 105.6h1M115.7 100.8h1M119.7 128.2h1M127.8 126.5h1M109.8 167.3h1M130.4 78.3h1M128.5 139.6h1M128.9 171.3h1M96.8 164.1h1M98 114h1M126.5 105.4h1M112.2 110.8h1M111 133.6h1M110.2 130.4h1M103.8 135h1M115.6 142.2h1M110.7 94.3h1M111.4 92.6h1M124.1 89.8h1M105.5 86.5h1M131.3 122.1h1M93.9 133.9h1M146.8 197.7h1M103.5 140.3h1M125.3 125.5h1M129 165.8h1M118.7 103.9h1M127.1 134.7h1M117.5 153h1M99 147.6h1M122.6 136.6h1M131.6 115h1M112.6 89.3h1M99.8 120.6h1M112 107.9h1M122.4 144.8h1M122.1 121.1h1M131.1 141.1h1M124.4 152.9h1M96.3 100.5h1M143.7 80.1h1M119.3 85.5h1M128.4 107h1M114.9 157.3h1M117.1 145.5h1M119.4 91.3h1M136.4 127.5h1M135.8 122h1M125.7 80h1M141 96.6h1M124.6 100h1M133.3 102.2h1M119.2 98.1h1M129.8 102.1h1M138.1 101.4h1M95.6 158.2h1M143.2 115h1M122.4 131.9h1M115.2 146.7h1M97.3 150.8h1M115.4 144.5h1M93 109.1h1M119.8 93.5h1M116.9 102.7h1M139.3 111.4h1M115.2 125.1h1M130.9 122.5h1M132 156.4h1M142 122h1M116.1 176.4h1M127.4 154.5h1M101.8 111.2h1M106.4 149.7h1M118.6 164.5h1M105.2 136.8h1M114.2 136.4h1M113.7 197.2h1M117.1 117.7h1M108.9 120.9h1M134.5 157.2h1M138.9 119.4h1M121.2 100.6h1M117.6 143.9h1M137.7 95.9h1M124.3 146.3h1M111.4 128.9h1M103.7 157.3h1M112.3 90.3h1M143.7 160.7h1M112.2 133.4h1M151.5 181.5h1M118.9 106.3h1M116.5 178.2h1M133.9 145.1h1M116.2 147.6h1M123.2 104.2h1M107.2 141h1M104.9 144.2h1M110.6 101.2h1M121.5 91.9h1M111.4 102.9h1M96.8 166.9h1M124.3 129.5h1M117.1 151.8h1M115.8 133.3h1M112 128.3h1M93.5 131.4h1M136.9 113.2h1M113.5 160h1M124.9 130h1M134.7 131.4h1M131.7 85.4h1M121.3 133.8h1M119.1 105.7h1M122.4 110.6h1M129.2 154.7h1M125.5 93.7h1M113.9 119.3h1M124.1 143h1M123.2 158h1M126.8 110.2h1M121.3 134.1h1M134.4 133.2h1M121.3 92.7h1M112.5 142.2h1M108.3 127.9h1M117.2 86.6h1M125 106.7h1M133.3 113.5h1M118 114.7h1M113.1 124.1h1M113.2 188.1h1M133.6 102.6h1M120.2 129.1h1M113.3 102.9h1M127.3 107h1M104.1 99.8h1M120.3 118.4h1M118.5 109.2h1M117.5 135h1M106 131.1h1M130.1 99.4h1M138 179.8h1M104 91.5h1M120.3 135.2h1M126.3 187h1M144.5 104.6h1M114.3 162.9h1M108.3 165.6h1M118.9 134.7h1M119.8 165.6h1M122 127.6h1M139 109.3h1M94.9 161.5h1M94.6 104.2h1M129.2 155.4h1M127.7 109.3h1M103.4 140.3h1M124.8 94.2h1M119.5 113.6h1M121.4 98.8h1M109.9 104.6h1M113.9 130.3h1M109.1 120.1h1M119.6 130.4h1M116.4 161.7h1M138 121.7h1M101.2 116.7h1M123.7 127.3h1M135.2 154.1h1M122.2 154.5h1M131.2 152.2h1M118.6 118.5h1M126.9 143.4h1M108.5 83.7h1M127.9 161.9h1M103.4 137.5h1M133.6 139.5h1M101.9 114.1h1M95.1 126.6h1M125 105.9h1M117.1 141.2h1M120.3 87h1M123.8 152.8h1M118.7 140.5h1M109 182.9h1M121.4 123.9h1M122.9 122.3h1M124.6 130.5h1M141.4 126h1M110.7 121.9h1M119.8 93.4h1"/>
<path stroke="#000" stroke-width="1.1" stroke-opacity=".9" fill="none" d="M318.4 208h1M320.9 204.3h1M318.4 195h1M301.2 189h1M314.9 209h1M303.9 194.9h1M304.3 190h1M316.7 208.2h1M316.1 193h1M320.9 201.4h1M316.7 206.9h1M303.6 209.4h1M316 208.3h1M313.1 214h1M307 194.4h1M303 195.4h1M319.4 206.7h1M323.8 205.6h1M301.3 201.6h1M307.4 211.6h1M323.7 189.8h1M319.1 194.7h1M306.2 211.9h1M295.5 189.3h1M318.5 191.2h1M301.5 202.9h1M298.7 210.9h1M312.9 193.9h1M312.9 192.6h1M314.9 208.3h1M295.2 210.1h1M319.2 209.6h1M319.1 192.1h1M296.7 201.7h1M302.4 214.1h1M323.3 207.4h1M315.7 211.6h1M308.5 187.9h1M312.8 193.4h1M294.1 208.3h1M317.5 208.6h1M303.6 193.6h1M301 210.3h1M311.1 187.7h1M322.7 205h1M293.6 196.7h1M304.6 189.5h1M304.2 193.2h1M317 200.7h1M308.1 182.9h1M303 209.5h1M311.5 209.3h1M322 209.8h1M306.7 193.3h1M313.6 194.9h1M316.1 191.3h1M308.3 194.5h1M309 210.6h1M320.3 199.6h1M310.8 222.9h1M301.9 206.4h1M294.1 200.2h1M299.8 208.1h1M312.7 195.4h1M319.3 201.4h1M308 193.1h1M301.1 185.5h1M318.5 193.3h1M308.8 192.1h1M316.8 206.2h1M300.8 204.7h1M303.3 214.8h1M327 205.2h1M314.4 192.9h1M311.6 194h1M321.6 220h1M319.9 197h1M301.9 188.2h1M314.5 208.8h1M309.5 214.8h1M316.2 197.6h1M316.2 192.4h1M315.6 206.8h1M308.9 194.2h1M299.9 201.8h1M323.4 198.8h1M307.4 195h1M323.6 219.7h1M315 207.7h1M306.9 194.6h1M300.6 198.3h1M314.3 195.7h1M306.7 212.3h1M306.7 209.2h1M313.8 193.8h1M305.3 207.7h1M316.8 217.9h1M314.6 216.8h1M310.1 212h1M297.7 201.1h1M300.3 214.4h1M301.9 200.5h1M300.5 193.9h1M316.4 193.8h1M303.6 197.1h1M300.8 206.4h1M297.6 209.9h1M314.5 214.2h1M315.4 194.4h1M305.6 209.5h1M316 219.3h1M298.5 197.3h1M318.5 197.9h1M302.5 214h1M311.6 208.8h1M313.3 189.1h1M307.5 193.6h1M305.8 196.1h1M314.2 195.6h1M318.6 199.1h1M310 212.8h1M316.7 202.6h1M305.7 213.6h1M317.5 192.8h1M298.5 193.5h1M300 198.1h1M310.5 217.2h1M320.5 213.5h1M321.9 193.7h1M294.2 208.6h1M307.2 189.6h1M320.1 206.6h1M312 211.4h1M306.1 190.5h1M304.9 187.9h1M313.3 188h1M330.7 193.3h1M301.6 199.4h1M318.4 207h1M307.5 194.4h1M305.1 208.9h1M304.2 191h1M301.2 212.5h1M322 205.1h1M306.7 191h1M320.8 204.6h1M297.4 204.8h1M329.7 211.7h1M317.4 200.7h1M303.3 209.1h1M310.9 210.1h1M330.5 200.6h1M305 207.6h1M299.5 195.5h1M308.2 214h1M315.5 208.6h1M315.1 186.6h1M297.5 214h1M321.1 205.9h1M316.3 200.3h1M310.1 210.5h1M313.1 211.1h1M316.8 203.3h1M316 213.1h1M316.3 217.3h1M324.2 199.7h1M306.8 208.7h1M317.2 216.7h1M316.7 197.5h1M304.5 213.6h1M312.9 190.1h1M315.1 209.4h1M294.8 192.7h1M305.1 196.6h1M296.5 202.4h1M298.9 204.4h1M309.5 191.8h1M315.5 215h1M303.8 197.3h1M298 205.4h1M319 210.8h1M308.5 189.5h1M303.8 197.2h1M305.6 212.7h1M317.7 210h1M290.7 190.3h1M318.9 196.8h1M295.3 217.6h1M307 211h1M317.2 211.2h1M311 190.2h1M314.2 192.1h1M316.5 197.8h1M312.2 192.1h1M300.8 203h1M312.8 194h1M292.2 200.5h1M322.9 199.4h1M316.8 187.8h1M312.5 187.6h1M322.2 197.1h1M318.8 215.2h1M323.5 205.1h1M307.3 194.8h1M317.8 198.5h1M300.1 192.7h1M296.8 204.1h1M310.5 209.8h1M311.5 193.5h1M316.3 194.6h1M321.7 204.9h1M298.8 214.5h1M321.8 208.5h1M313.6 208.3h1M298.3 217.7h1M317.2 214.2h1M310.6 213.2h1M322.7 198.2h1M311.6 189.6h1M301.5 214.9h1M309.6 191.5h1M317.5 193h1M315.3 208.3h1M315.3 206h1M308.6 209h1M301 201.7h1M299.1 203h1M316.4 209.1h1M320.8 183.6h1M320.8 204.1h1M304 211.5h1M321.3 215.3h1M321.8 207.2h1M304.7 196.8h1M313.9 209.3h1M322.9 216h1M319 196.9h1M316.8 187.2h1M309.1 184.8h1M311.2 192.5h1M302.7 205.4h1M321.3 198.3h1M307.9 212.3h1M303.4 195h1M316.7 209.5h1M316.1 204.7h1M303.8 209.3h1M302.8 207.9h1M303.5 192.5h1M312 193.8h1M300.5 204.1h1M316.5 207.4h1M307.8 217.7h1M316.9 206.6h1M316.3 198.6h1M302.7 196.9h1M302.1 192.6h1M314.6 192.5h1M318.1 202.9h1M305.1 196.5h1M297.4 200.5h1M320.8 198.9h1M317.4 202.3h1M311.5 182.6h1M297.6 204.1h1M318.2 197.6h1M319.8 203.4h1M322.3 197h1M301.6 204.7h1M315.6 191.4h1M315.6 197h1M306.1 193.8h1M319.4 197.1h1M302.6 196h1M292 193.6h1M325 194h1M312.3 191.1h1M299.2 196.5h1M296.1 198.6h1M305.6 190.2h1M307.7 211.4h1M316.3 191.5h1M319.2 190.5h1M302.1 194h1M321.1 209.9h1M299.7 204.5h1M304.6 191.7h1M320 193.3h1M318.1 201.2h1M307.9 193.2h1M316.5 193.7h1M313 208.6h1M308.5 212.5h1M298.9 207.3h1M307.7 212.8h1M290.1 195.6h1M304 210h1M316.1 189.1h1M289.9 208.7h1M324.9 205h1M307.5 208.7h1M298.2 203.3h1M313.2 210.4h1M326.2 207.3h1M303.8 207.3h1M312.2 192.2h1M311.1 210.8h1M305 210.6h1M312.2 209.5h1M319.4 196.7h1M303.7 211.2h1M317.5 208.8h1M298.1 198.9h1M319.1 208.5h1M324.6 197.5h1M300.8 204.4h1M303.5 187.1h1M323.2 197.2h1M321.7 199.4h1M303.1 213.7h1M315.6 206.9h1M309.7 194.7h1M297.9 194h1M302.2 198.7h1M313.8 196.3h1M312.2 191.8h1M312.1 210.7h1M301.2 182.7h1M298.9 205.3h1M321.5 202.7h1M320.9 201.5h1M325.5 202.8h1M303 213.4h1M305.4 209.4h1M304.7 208.7h1M323.7 197.4h1M309.6 209.7h1M312.7 194.4h1M321.8 209.4h1M311.3 192.2h1M307.2 217.4h1M312 211h1M319.4 198h1M320.5 187.2h1M308.7 210.6h1M324.7 200.1h1M308.2 216.9h1M320.3 206h1M316.1 221h1M312.8 189.9h1M303.6 215.9h1M305.2 210.6h1M302.6 198.3h1M308.5 191.3h1M314 195.6h1M303 198.1h1M316.5 196.8h1M322.5 214.3h1M310.4 212.7h1M318.9 199.9h1M320.2 202.7h1M302.5 214.2h1M302.3 198.8h1M313.1 213.3h1M300.7 203.2h1M314 208.9h1M304 196.4h1M297.5 198.2h1M310.2 189.8h1M304.7 194h1M301.9 198.4h1M303.1 191h1M302.4 197.5h1M300.6 201h1M304 182.9h1M333.4 192.2h1M298.3 205.1h1M300.9 202.2h1M310.3 192.1h1M318.1 194.2h1M300 189.9h1M314.8 190.1h1M308.4 191.4h1M323.9 200.9h1M304.9 219.8h1M321.1 209h1M303.2 210.8h1M297.5 201.9h1M303.6 213.4h1M317.4 202.4h1M303.5 209.7h1M317 193.1h1M306.1 186h1M306.1 193.2h1M307.7 212.1h1M322 208.4h1M298.8 200.6h1M321.9 207.5h1M303.5 194.8h1M304.7 211.6h1M305.1 195.1h1M304 195.1h1M319.2 200.9h1M310.1 188.7h1M303.2 198.3h1M299.8 204.6h1M299.2 199h1M318.3 210.6h1M316.3 189.5h1M302.6 200.2h1M321.6 201.8h1M311.4 211.9h1M308.3 195.1h1M308.4 219.9h1M298.3 208.3h1M300.1 208.1h1M313.1 193.2h1M302.9 198.5h1M290.5 208.7h1M295.5 214.9h1M306.6 209.7h1M299.1 191h1M316.5 196h1M309.4 186.8h1M298.9 180.7h1M310.2 211h1M313.8 181.9h1M302.6 211.5h1M310.7 192.3h1M318.4 204.3h1M300.7 201.9h1M311.7 210.9h1M316.7 199.1h1M301.7 197h1M298.6 208.8h1M301.8 210.2h1M300.2 208.7h1M308.6 192.5h1M303.6 190.5h1M312.9 212h1M318.8 202.9h1M315.5 216h1M322.6 190.1h1M321.9 199.8h1M298.4 203.7h1M293.2 211.2h1M316.6 192.6h1M316.8 211.6h1M315 208.7h1M306.5 191.6h1M311.1 184.9h1M317.5 198.8h1M305.1 194.8h1M303.6 198.1h1M320.5 210.6h1M314.7 207.3h1M315.9 189.2h1M318.7 200.4h1M318.4 206.2h1M309.6 220.1h1M316.1 198.2h1M322.6 207.2h1M307.3 216.1h1M322.1 206.4h1M293.5 198.6h1M320.6 193h1M301.1 207.4h1M298.5 195.6h1M302.4 199.8h1M314.2 208.8h1M299.5 211.3h1M309.1 194.4h1M289.3 193.9h1M312.2 211.1h1M322.4 195.7h1M300.5 211.9h1M319.4 198.3h1M307.7 209.5h1M301.5 202.9h1M297.3 202.6h1M327.3 200.9h1M300.1 206.9h1M307.9 210.8h1M320.3 208.3h1M311.2 188.4h1M295.1 202.8h1M305.3 181.1h1M300.1 206.9h1M296.7 206.5h1M312.5 193h1M316 206.3h1M304.2 197.1h1M305.1 211.3h1M316.3 195.9h1M302.1 197.2h1M318.5 203.7h1M316.8 194.4h1M309.9 218.5h1M301.7 199.2h1M314 214.8h1M322.8 199.7h1M321.5 196.4h1M313.8 210.8h1M320.7 203.5h1M304.9 196.2h1M316 182.3h1M309.6 189.2h1M295.2 199h1M317.3 213.3h1M316.1 209h1M298 213.1h1M301.7 203.5h1M323.7 215h1M303.2 206.4h1M313.4 207.9h1M317.6 195.8h1M303.4 205.6h1M316.6 194.3h1M324.1 209.9h1M315.8 209.2h1M291.9 198.2h1M319.8 201.8h1M324.1 206h1M318.9 190.9h1M313.7 194.6h1M316.1 208.8h1M332.1 200.4h1M304.7 192.5h1M307 185.7h1M318.1 198.7h1M311.8 189.1h1M294 202.8h1M312.5 215.3h1M303.1 192.7h1M311.8 193.1h1M296.6 194.3h1M325.9 195.6h1M322.9 215.1h1M301.6 201.4h1M300.2 196.3h1M310.4 218.7h1M300 199.1h1M320 196.1h1M317.7 210.5h1M309.7 192.3h1M317.6 198.2h1M306.1 191.5h1M302.9 192.1h1M295.7 199h1M307 195.1h1M299.9 203.9h1M312.9 195h1M318.5 205.8h1M291.7 199.8h1M301.7 193.1h1M318.1 203.9h1M301.9 189.2h1M317.1 207.7h1M300.8 204.4h1M317.3 206.9h1M305.2 212.4h1M294.6 205.1h1M319.8 208.7h1M296.3 196.9h1M300.7 199.3h1M315.7 210.9h1M300.6 201.4h1M309.6 212.4h1M307.8 210h1M302 203.3h1M304.9 215.4h1M311.9 190.9h1M302.5 201.2h1M311.6 212.3h1M313.9 213h1M312.7 208.4h1M318.7 205.2h1M327.4 213.7h1M299.5 200.4h1M306.2 209.8h1M316 204.9h1M316.3 197.4h1M317.9 199.4h1M314 195.2h1M312 194.4h1M300.3 198h1M301.8 209.6h1M312.6 191.5h1M309.3 191.6h1M314.4 209.8h1M319.3 214.2h1M319.2 207.6h1M301.1 193h1M321.5 202.9h1M303.1 197.7h1M306.8 193.1h1M298.1 199.7h1M320.6 204.5h1M317.7 200.7h1M312.7 209.3h1M316.9 206.4h1M312.5 194.4h1M319.1 200.4h1M292.4 201.7h1M298.1 208.1h1M294.9 204.1h1M311.4 213.8h1M306.9 193.8h1M321.7 208.5h1M302.2 208.3h1M305.2 188.6h1M301.3 197.9h1M297.3 220.9h1M300.7 202.5h1M312.6 193.9h1M328.1 203.5h1M324.3 207.2h1M301.5 189.1h1M291.9 177.6h1M291.8 187.2h1M292.9 210.1h1M317.8 213.7h1M308.2 219.4h1M296.3 190.8h1M303.6 212.2h1M322.8 205.5h1M292.1 203.3h1M305.4 208h1M313.9 211.4h1M289.8 199.5h1M311.2 212.6h1M298.1 204.2h1M295.1 192.2h1M316.5 188.6h1M318.7 207h1M306.8 183.1h1M293.7 214.9h1M317.4 199.6h1M320.4 190.4h1M299.6 205.7h1M318.1 191.3h1M293.3 202.9h1M298 200.1h1M310.9 213.4h1M296.9 210.7h1M316.4 211h1M322.5 198.4h1M310.1 213.8h1M324.1 203.6h1M321.5 205h1M322.6 190.5h1M300.2 208.4h1M329.5 188.2h1M320.4 206.8h1M317.2 203.2h1M312.7 192.7h1M311.9 211.6h1M300.8 201.2h1M306.2 210.2h1M319.7 196.1h1M313.6 211.8h1M308.8 190.6h1M321.3 197.3h1M301.7 200.1h1M318.5 198.4h1M306.2 212.3h1M315.7 208.9h1M324.2 202.7h1M317.2 210.2h1M296.6 211.8h1M299.5 196h1M314.2 208.8h1M319.3 221.7h1M307.8 181.1h1M314.5 196.9h1M308.1 209.6h1M327.3 195.3h1M311.1 210.4h1M315 191.2h1M319.5 198.4h1M316.2 205.9h1M309.7 194.4h1M314.2 193.5h1M305.9 215.3h1M300.2 200.1h1M307 213h1M305.6 221.9h1M315.5 216.8h1M326.9 202.2h1M301.7 195.1h1M320.8 186.2h1M315.9 216.4h1M297.3 218.9h1M309.4 190.2h1M315.1 194.1h1M316.7 209.6h1M305.3 213.2h1M320.9 185.8h1M293.8 223.3h1M317.4 196.2h1M322.4 205.7h1M299.9 194.4h1M320.4 210.3h1M302.2 215.8h1M309.5 211.5h1M313.6 210.4h1M317.8 194.5h1M304.4 194.1h1M299.5 197.5h1M316.4 178.1h1M306.8 190.6h1M319.5 200.8h1M322.9 196.5h1M308 194.9h1M308.5 210.6h1M291.8 210h1M316.6 198.8h1M319.6 194.7h1M326.8 186.1h1M305.4 194.6h1M305.2 210.3h1M307.6 192.1h1M303.9 207.7h1M311.1 193.8h1M300.7 219.1h1M314.7 216.1h1M302.7 194.9h1M314.2 192h1M292.8 208.2h1M300.8 213.9h1M318.7 202h1M304.3 191.3h1M311.2 188.1h1M325.4 193.6h1M305.9 212.1h1M308.5 211.7h1M311.7 194.4h1M323.4 197.2h1M331.4 208.8h1M315.9 222.5h1M309.1 179.3h1M317.9 196.6h1M300.5 194.9h1M317.9 202h1M290.4 218h1M316.2 199.9h1M332.7 203.9h1M301.9 199.7h1M316.4 206h1M301.6 196.3h1M302.5 201.8h1M299.6 183.4h1M296.4 208h1M300.6 184.7h1M291.3 200.1h1M294.5 194.4h1M316.4 212.4h1M302.6 189h1M295.6 209.8h1M301.8 201.3h1M297.8 203.8h1M306.6 187.9h1M306.7 190h1M290.9 201.1h1M315.1 215h1M319.4 216.5h1M322.3 203.7h1M301 201.6h1M317.4 219.7h1M308 211.7h1M317.9 198.1h1M316.5 201.6h1M297.1 200h1M302.4 196.2h1M290.2 205.9h1M303.2 195h1M297.3 201.5h1M303 221.6h1M315.5 185.2h1M326.2 199.4h1M320.7 210.4h1M297.8 207.3h1M322.7 206.9h1M317 198.7h1M322.2 200.5h1M293.4 193.5h1M297.1 194.1h1M303.5 189.9h1M321.7 212.5h1M312 194.5h1M316.8 209.7h1M301.6 198.7h1M320.2 205.5h1M301.1 205.8h1M307.7 182.9h1M315.6 215.8h1M323.1 211.6h1M307.1 189.3h1M307.9 210.6h1M326.6 200.4h1M326.6 214.1h1M311.7 211.5h1M306.6 211.3h1M316.3 220.7h1M312.8 212.4h1M302.6 197h1M322.5 190.9h1M333.5 210.1h1M302.1 187h1M302.6 199.3h1M298.2 196.1h1M317.5 214.8h1M296.6 205.4h1M313.6 210.6h1M316.9 198.8h1M296.2 213.4h1M311.3 221h1M318.2 201h1M313.4 212.9h1M304.5 184.8h1M320.6 191.1h1M322.8 193.2h1M322.5 187.9h1M301.4 202.2h1M317 210.8h1M296.6 212.2h1M321.4 201.2h1M304.6 215.8h1M308.6 214.4h1M298.7 198.2h1M295.5 196.7h1M326.7 206.3h1M306.3 220.2h1M324.6 189.1h1M312.9 210.3h1M315.8 192.6h1M320.2 195.5h1M318.2 203.1h1M316 195.2h1M326.1 191.4h1M319.3 196h1M300 209.8h1M307.1 217h1M303.5 186.9h1M324.3 206.6h1M288.5 202.6h1M317.6 209.6h1M301.4 206.1h1M316.7 202.2h1M297.5 216.6h1M312.9 212.7h1M313.9 192.1h1M303.6 194h1M317.5 215.6h1M311.1 186.3h1M323.3 209.6h1M301.3 213.3h1M325 190.6h1M321.8 202h1M304.1 197h1M315.1 194.2h1M303.8 207.1h1M297.1 188.1h1M315.9 192.3h1M294.8 199.5h1M316.6 204.3h1M303.6 207h1M295.1 219.1h1M298 205.6h1M291.9 210.7h1M326.8 188.3h1M291.8 196.1h1M297.8 211.9h1M313 189.3h1M310.4 214.4h1M319.7 207.3h1M322.4 203.5h1M309.3 191.9h1M304.6 192.6h1M318.9 198.5h1M315.7 213.4h1M315.9 193.2h1M294.1 196.7h1M302.7 186.7h1M299.9 212.1h1M316.4 219.6h1M320 207.1h1M327.2 194.6h1M309.9 192.6h1M302 205.4h1M317.5 191.4h1M290.8 201.5h1M291.9 179.1h1M315.9 207.8h1M296.7 221.4h1M299 199h1M300.1 210.6h1M312.3 190.5h1M328.6 204.5h1M298.4 197.2h1M302.2 201.6h1M315.4 194.7h1M314.2 208.3h1M307.2 194.4h1M319 197.2h1M313.3 196h1M322.5 206.9h1M297.1 198.9h1M312.4 194.6h1M313.8 184.2h1M301 185.2h1M317.7 204.9h1M297.3 219h1M318.4 197.9h1M292.9 189.8h1M291.5 204.1h1M315.3 207.5h1M294.7 195.6h1M309.3 219.7h1M307.4 193.7h1M294.5 215.9h1M292.3 192.6h1M314.7 209.4h1M305.4 214.4h1M320.3 221.8h1M336.2 187.5h1M311.7 209.9h1M326.8 195.9h1M313.3 192.7h1M315.2 194.2h1M302.8 209.2h1M325.8 208.5h1M308.2 210.1h1M299.1 198.9h1M314.9 208.7h1M302.1 213.3h1M310.9 219.1h1M320.9 203.9h1M322.4 200h1M327.5 194h1M321.3 198.8h1M313 190.3h1M326.2 196.9h1M321.9 193.6h1M311.8 192.7h1M325.4 192.4h1M324.7 213h1M304.4 209.1h1M309.7 214.5h1M319.3 194.9h1M313.3 190.5h1M311.4 190.5h1M319.8 200.4h1M298 212h1M325.9 208.8h1M314.9 208.5h1M301.9 212.2h1M309.9 209h1M310.6 179.5h1M296.4 195.2h1M323.7 201.2h1M314.6 216.6h1M320.8 201.8h1M307.2 216.7h1M309.8 216.4h1M320.5 205.8h1M315.1 208h1M320.2 213.7h1M327 206.1h1M297.5 198.6h1M297.9 193.7h1M315.8 206.9h1M308.1 212.4h1M313 219.3h1M311.4 209.4h1M309.6 212.7h1M301 200.8h1M314 188.9h1M323.6 196.7h1M303.1 206.1h1M329.1 197.1h1M326.1 219.8h1M303.1 213.5h1M318.8 200.7h1M300.7 218.2h1M300.8 217.4h1M293.5 209.6h1M301.2 202.6h1M302.7 212.9h1M292.4 219.8h1M329.3 205.2h1M307.7 194.5h1M300.4 207h1M306.7 191.2h1M303 198.6h1M296.3 192.4h1M302.7 204.3h1M306.2 210.6h1M313.8 193.4h1M323.4 187.9h1M319.9 202.7h1M307.1 216.3h1M294.3 200.1h1M320.5 192.3h1M312.4 212.2h1M337.5 209h1M307.9 189.2h1M317.3 191.3h1M302.3 214.7h1M301.4 194.6h1M312.9 193.2h1M317.5 205.5h1M321.6 197.1h1M325.2 192.5h1M323.8 219.8h1M316.2 208.6h1M323.2 207.8h1M301.6 202.6h1M317.3 201.8h1M309.5 209.7h1M327.9 191.4h1M304.2 195h1M301.5 209h1M310.4 189.8h1M304.8 217.3h1M323.5 200.1h1M295 204.3h1M298.3 214.7h1M317.9 203.8h1M299.5 197.2h1M323.1 207.3h1M292.5 208.9h1M320.5 194.6h1M302.3 208.6h1M306.2 211.4h1M327.8 206.9h1M304.5 211.1h1M312.9 215h1M328.6 198.1h1M311.3 185.9h1M303.3 196.2h1M298.8 214.4h1M304.1 213.5h1M305.2 208.8h1M316.7 196.7h1M305.9 209.5h1M321.5 193.3h1M325.5 186.3h1M294.5 211.7h1M310 187.7h1M299.6 214h1M316.6 223.2h1M310.4 194.9h1M301.4 196.4h1M294.5 206.1h1M319.7 211.7h1M318 213.1h1M328.4 211.5h1M308.8 194.8h1M316.7 199.8h1M295 204.1h1M306.8 186.2h1M303.8 197.7h1M321.5 189.8h1M308.4 212h1M308.4 194h1M306.4 212.6h1M292.8 208.1h1M310.1 213h1M314.4 217.3h1M299.9 188.7h1M301.6 201.9h1M318 192.7h1M303.7 211.5h1M315 215h1M299.1 204.8h1M296.7 214.5h1M298.9 187.6h1M323.8 196.1h1M310.7 211.7h1M302.1 189.2h1M324.5 205.2h1M318.2 204.6h1M300.8 209.9h1M317.3 215.3h1M297.2 198.6h1M321.3 211.9h1M318.3 205h1M315.1 217.9h1M316.5 193h1M322.6 196.8h1M303.8 215.9h1M328.3 210h1M298.5 202.2h1M316.9 190.8h1M318.9 205.8h1M295.3 213.6h1M310.1 211.1h1M319.9 215.9h1M300.2 196.1h1M312.3 216.6h1M301.3 203.6h1M323 215.5h1M305.5 188.1h1M300.9 198.1h1M311.6 195.3h1M312.8 190.4h1M316.1 181.6h1M322 206.5h1M301.2 192h1M313 194.5h1M290.9 204.8h1M300.6 206.9h1M316 195.6h1M310.9 216.6h1M322.1 196.6h1M307.3 214.9h1M324.7 220.6h1M316.4 210.4h1M325.7 194.9h1M322.6 215.1h1M296.9 204.3h1M316.5 206.6h1M305.8 191.1h1M314.8 189h1M299.3 215.9h1M317.4 217.6h1M300.4 220.3h1M323.6 205.3h1M308.7 209.9h1M312.8 216.7h1M322.4 201.9h1M322.4 211.1h1M296.5 203.9h1M323.3 208.6h1M306.1 219.9h1M313.5 188.4h1M311.6 213.6h1M316.1 199.6h1M320.1 198.4h1M305.3 190.1h1M310.5 177.9h1M318.3 222.8h1M320.7 210.9h1M313.2 185.4h1M315.2 209.1h1M307.5 217.6h1M308.1 186.7h1M288.7 205.3h1M293.8 202.1h1M314.1 213.2h1M317.6 193.7h1M314.8 196.8h1M311.6 179.4h1M307.8 213.4h1M315.9 208.8h1M310.5 185.8h1M324.6 210.9h1M297.6 189.4h1M305 190.7h1M308.3 184.5h1M292.6 189.2h1M299.4 193.7h1M320.5 192.3h1M315.3 213h1M309.2 209.4h1M322.7 203.3h1M301.3 197.2h1M328.4 202.2h1M309.9 190h1M320.7 193.7h1M315.4 197.7h1M309.4 194.2h1M293.5 189.3h1M291 212.3h1M310.4 186.1h1M319.4 190.4h1M303 191.4h1M295.8 201.2h1M296.4 171.9h1M316.9 215.9h1M317.3 213.9h1M321.6 210.9h1M317.7 197.2h1M300.8 186.5h1M310.3 212.8h1M318.6 202.2h1M314.3 210.8h1M288.6 213.2h1M317.7 198.4h1M319.6 185.3h1M315.1 207.2h1M313.6 211h1M314.5 195.1h1M321.6 204.8h1M305.5 209.4h1M309.7 176.4h1M308.2 210h1M302.6 200.6h1M302.6 191.4h1M291.7 187.3h1M319.7 199.4h1M322.1 196.1h1M303.8 208.8h1M313 193.4h1M323.4 207.1h1M311.7 210.8h1M307.7 216h1M301.6 198.8h1M320.8 210h1M308 175h1M317 185.4h1M322.2 181.5h1M319.6 216.1h1M303.7 210.4h1M325.7 195.8h1M292.4 206.2h1M323.4 185.4h1M301.6 216.8h1M303.4 223.1h1M290.3 197.7h1M296.1 213.6h1M294 205.6h1M316 205h1M320.8 210h1M322.6 215.4h1M335.8 205.4h1M321.3 194.8h1M316 212.3h1M313.2 209.4h1M320.2 205.8h1M292.1 202.5h1M318.1 196.2h1M304.7 193.5h1M320.4 195h1M302.9 211.5h1M303.1 188.9h1M306.3 193.3h1M325.1 215.6h1M313.1 218.8h1M313.7 210.9h1M295.3 223.1h1M318.5 196.1h1M304 207h1M314.4 196.6h1M315.2 206.9h1M296.4 206.5h1M301.7 202.4h1M321.7 180.9h1M310.5 193.3h1M317.9 215.9h1M318.3 193.1h1M312.7 192.5h1M322.7 210.2h1M300.7 200.5h1M328.5 200.6h1M305.3 192.7h1M307.3 210.9h1M328 194.1h1M300.1 189.5h1M319.1 199.6h1M307.1 211.9h1M311.9 190.9h1M337.7 218.2h1M311.2 208.8h1M298.9 205.9h1M319.1 196.5h1M327.5 212.5h1M321.5 203.1h1M317.7 206.3h1M307 211.4h1M306.5 209.6h1M310.9 190.8h1M306.9 222.2h1M305.1 213.4h1M311.1 211.3h1M318.7 211.6h1M330.3 192.7h1M321.7 204h1M327.8 212.6h1M296.8 191.5h1M318.8 200.2h1M321.4 212.7h1M317.6 214h1M319.6 205.2h1M296 213.6h1M301.2 204.3h1M291 181.2h1M305 194.6h1M308.4 192.4h1M318.6 203.9h1M312.4 192.7h1M302.4 203.5h1M301.2 201.9h1M315.7 197.7h1M313.7 196.1h1M311.5 214.7h1M297.1 212.7h1M309.9 194.5h1M317.3 200.8h1M299.6 199.8h1M314.2 193.6h1M316.7 209.8h1M307.8 182.4h1M298.8 209.5h1M299.9 203.3h1M294.9 213.7h1M293.3 222.2h1M316.8 196.3h1M313.1 190.5h1M295.2 198.4h1M291.1 203.4h1M293.5 203.2h1M325.4 210.3h1M320.8 207.6h1M297.6 212.2h1M300.9 192.9h1M319.1 176.7h1M316.9 201.8h1M318.7 203.2h1M315 186.4h1M326.2 197h1M315.4 207.1h1M307.2 194.2h1M302.8 212.3h1M318 222.1h1M329.1 206.3h1M303.6 213.8h1M296.5 214.8h1M316.1 189.9h1M315.7 205.8h1M302.9 195.8h1M302.4 205.3h1M323.7 207.8h1M314.5 194.6h1M326.4 200.8h1M289.5 192.9h1M314.3 219.2h1M312.9 187.9h1M322.2 202.7h1M304.3 192.7h1M326.7 199.4h1M320.1 197.5h1M318.1 203.6h1M309.2 209.5h1M306.3 209.5h1M295.7 203.1h1M309.4 213.1h1M316.9 199.5h1M313.4 185.2h1M319.7 209.9h1M311.8 212h1M309.1 192h1M318.9 206.9h1M306.5 180.1h1M302.7 209.9h1M323.2 209.3h1M305.8 210.2h1M314.2 216.6h1M306.3 192.5h1M312.7 211.4h1M326.4 181.1h1M298.5 198.9h1M297.2 209.1h1M316.2 185h1M325.2 205.3h1M318.4 204.7h1M301.9 211h1M316.8 211.9h1M323.3 206.3h1M322.2 190.6h1M317.3 199.4h1M305.9 180.7h1M307.6 192.2h1M302.1 203.8h1M328 207.5h1M322.3 202h1M310 183.6h1M312.9 190h1M304.5 191.3h1M315.5 196.6h1M315.3 196.5h1M314.7 222.9h1M311.1 211.7h1M297.5 196.9h1M294.9 196.6h1M331.5 197.2h1M306 182.7h1M308.8 213.2h1M302.6 208.2h1M325.6 203.1h1M293.3 206.5h1M305 183.3h1M322.3 203.2h1M318.4 202.3h1M311.2 189.5h1M296.5 180.7h1M317.8 212.9h1M319.6 192.3h1M316.6 200.1h1M316.3 218.1h1M303.2 187.8h1M312.7 212.1h1M313.9 177.9h1M308.3 210.8h1M301.2 197.3h1M308.3 180.5h1M302.2 202.5h1M299.2 201.3h1M320.2 186.6h1M314.4 188.6h1M307.3 194.8h1M303.8 192.7h1M301.9 192.4h1M300.3 215.1h1M322.5 196.9h1M307.7 212.4h1M321.6 209.9h1M315.9 195.1h1M309.7 184.4h1M325.6 208.4h1M304.3 213.2h1M302.6 206.1h1M301.5 195.1h1M298.6 212.9h1M315.2 189.3h1M304.7 184.9h1M322.3 199.3h1M329.1 207.4h1M309.1 217.9h1M303.1 217.5h1M316.3 198.6h1M316.3 204.2h1M297.6 210.3h1M317.1 192.1h1M300.5 200.4h1M298.6 196.4h1M306.7 194.7h1M323.9 197.2h1M304.4 219.6h1M314.6 218.8h1M301.5 216.1h1M316.1 186.2h1M292.7 207.8h1M317.6 198.2h1M318.4 201.9h1M301.8 192.3h1M314.3 208.9h1M301.3 200.4h1M291.7 188.3h1M313.2 212.9h1M317 191h1M325.9 208.6h1M302.1 209.8h1M314.4 212.1h1M303.9 173h1M296.8 182.5h1M293.2 192.8h1M303.7 193.3h1M310.8 221.1h1M328.1 215.1h1M323 210.4h1M302.9 205.7h1M303.4 183.6h1M305.3 211.5h1M293.4 219.1h1M325.7 198.9h1M312.6 209.5h1M316.9 207.1h1M326.4 199.6h1M325.4 211.8h1M322.1 197h1M313 210.3h1M305 211.1h1M320.3 217.2h1M303.6 189.4h1M291.9 212.7h1M326.9 187.5h1M325.2 218.7h1M304.3 190.7h1M304.4 215h1M312.5 185h1M309.4 189.6h1M298 212.1h1M296.3 203.4h1M320.9 192.5h1M298.1 200.3h1M299.4 202.9h1M302.2 196.8h1M297.6 216.2h1M300.9 205.3h1M317.3 213h1M304.2 193.5h1M323.8 199.5h1M294.5 215.4h1M301.5 187.8h1M310.4 190.2h1M315.8 210.9h1M293.9 200.1h1M288.8 204h1M317.3 206.8h1M300.3 205.7h1M300.8 205.8h1M298.3 197.9h1M298.6 199.5h1M319.3 200h1M299.3 195.4h1M311.8 214.9h1M306.3 188.6h1M296.9 197.3h1M334.2 208.2h1M300.6 202.3h1M320.3 218.5h1M320.9 221.6h1M324.3 213.5h1M304.7 213h1M321.4 202.6h1M315.2 184.3h1M299.3 185.3h1M297.8 196.3h1M313.9 211.5h1M305.1 195.8h1M313.9 182.1h1M294 209.1h1M325.3 206.2h1M325.6 197.7h1M299.8 205.8h1M308.8 187h1M308.7 193.4h1M305.2 210.7h1M325.7 190.6h1M310.9 212.9h1M315.9 206.4h1M300.6 202.5h1M316.1 185.2h1M292.2 196.8h1M306.2 208.3h1M308.7 214.6h1M295.3 197.7h1M300.9 206.7h1M315.7 194.8h1M308.9 194.8h1M302 202.3h1M319.1 208.5h1M322.6 181h1M322.7 204h1M307.4 213.5h1M307.9 192.8h1M303.5 217.1h1M313.7 186h1M315.1 196.4h1M315.5 206.8h1M316.7 192.2h1M310.1 215h1M320.7 209.3h1M313.8 193.6h1M317.9 192.2h1M296.6 205.4h1M305.8 214.1h1M310.4 193.6h1M313.5 194.8h1M323.8 201.7h1M297.8 201.6h1M293.4 201h1M303.6 218.7h1M310.3 211.4h1M316.2 199h1M297.7 220h1M300 206.6h1M296.2 197.5h1M322 204.2h1M309.4 214.5h1M309.7 193.2h1M320.4 186.7h1M294 197.4h1M309.6 183.1h1M300.7 194.5h1M306 191.5h1M316.9 213.1h1M303.2 189.2h1M290.2 200.5h1M314 208.2h1M317.2 202.1h1M301.5 196.1h1M317.4 138.2h1M312.8 135.1h1M298.3 131.5h1M288.6 140h1M301.5 109.8h1M310.5 171.3h1M316.2 141.1h1M302.8 193.5h1M290.5 158.3h1M303.9 187.7h1M309.6 189.2h1M302.6 165.7h1M307.4 155.5h1M298.7 193.9h1M299.5 177.6h1M311.2 155.4h1M293 146.9h1M308.6 160.2h1M320.2 184.8h1M302.8 178.3h1M303.5 144.6h1M300.1 156.2h1M295.5 164.5h1M302.6 149.4h1M295.7 157.9h1M306.1 134.5h1M302.8 138.9h1M297.1 167.7h1M308.6 166.4h1M318.2 152.2h1M316.1 217.1h1M305.4 155.7h1M307.9 178.6h1M297.8 167.5h1M305.7 147.8h1M314.7 178.2h1M315.7 189h1M321.5 160.6h1M293.1 173.4h1M311.9 137.1h1M323.5 154.9h1M308.1 175.3h1M320.3 160.4h1M307.8 139h1M297.6 147.7h1M311.2 154.3h1M303.1 153.2h1M307.7 161.8h1M315.7 166.3h1M314.5 150.6h1M317.6 178.5h1M292.7 177.3h1M319.5 132.5h1M299.8 144.5h1M308.9 131.9h1M304 169.1h1M296.6 182.9h1M316.8 154.7h1M298 192.7h1M302.5 145.5h1M322.5 152.1h1M291.3 165.3h1M317.5 203.7h1M303.9 131.5h1M315.8 175.2h1M307.9 162.6h1M303.2 191.3h1M315 125.8h1M301.1 130.4h1M302.6 204.9h1M310.3 193.3h1M297.2 188.6h1M293.8 157.4h1M291.6 188.2h1M317.3 160.9h1M327.1 132.3h1M319.8 157h1M301.7 153.6h1M302.9 133.5h1M298.2 145.6h1M308 142.5h1M318.4 174.1h1M307.3 185.9h1M307.9 189.6h1M311.1 132.8h1M296.2 175.4h1M305.6 181.7h1M311.7 171.3h1M309.3 136h1M323.4 164.6h1M292.7 183.8h1M324.6 122.1h1M313 174.7h1M301.1 149.2h1M305.6 125.9h1M308.3 148.7h1M318.7 156.5h1M305 182.1h1M308.2 181.2h1M295 192.6h1M322.9 180.1h1M312.8 148.5h1M303.6 149h1M295 164.6h1M308.1 151.4h1M317.1 117.4h1M331.3 106.8h1M327.5 180.1h1M304.7 163.4h1M304.2 211.7h1M298.7 147.1h1M313 187.4h1M300.9 164.2h1M314.2 173h1M311.7 162.1h1M312.7 189.1h1M298.8 173.7h1M320 148h1M306.5 157.6h1M296.4 154.3h1M308.2 162.4h1M310.3 166.2h1M309.2 149.2h1M318 145.3h1M320.6 160.1h1M331.4 114.1h1M307.7 170.9h1M320.8 170h1M327.4 131.8h1M308.4 159.7h1M306.3 171.6h1M314.1 185.9h1M314.9 172.5h1M302.6 184.8h1M302.9 157.5h1M314.3 178.4h1M307.1 156.9h1M306.4 162.5h1M320.9 116.9h1M312.2 125h1M311 186.5h1M289.7 187.2h1M310.3 138.9h1M305.8 120.3h1M303.7 190.2h1M296.4 169.1h1M306.4 209.9h1M327.2 193.2h1M300 213h1M321.6 181.8h1M307 145.5h1M314.9 189.1h1M332.4 122.9h1M313.3 174.9h1M298 149.3h1M306.5 193.6h1M299.9 145.5h1M314.3 185h1M317 187.8h1M313.3 167.7h1M298.4 144.4h1M302.6 177.3h1M308 147.4h1M326.1 176.3h1M303.4 162.4h1M301.1 179.7h1M318.4 135.1h1M302.3 142.4h1M298.2 208.1h1M307.3 168h1M317 155.2h1M310.2 136.3h1M305 146.4h1M323.2 166.1h1M322.7 128.3h1M292.6 158.8h1M297.1 153.2h1M299.5 108.8h1M306.5 160.1h1M310.4 191.8h1M307.9 148.5h1M309.5 154.3h1M313.3 166.6h1M295.8 144.2h1M311.7 160.7h1M321.3 148.2h1M310.7 143h1M304.6 196.1h1M314.4 162.7h1M305.5 140.4h1M295.7 141.9h1M316.4 181h1M312 113.5h1M315.6 175.6h1M303.8 146.9h1M314.4 144.6h1M323.1 189.1h1M305.5 178.5h1M303.9 137.7h1M321.2 159.4h1M309.8 176.5h1M297.1 156.8h1M304.7 170.7h1M322 141.7h1M312.5 193.6h1M327.6 197.8h1M315.3 142.7h1M311.5 122.8h1M319.5 147.6h1M302.8 182.5h1M319.6 165.3h1M308 158.5h1M306.4 164.6h1M312.9 121.3h1M304.3 158.7h1M297.7 157.2h1M300 143.4h1M314.1 180.5h1M311.9 142.8h1M309.8 143.2h1M316.2 178.2h1M300 176.4h1M304.9 161.8h1M325.2 165.9h1M299.5 170.1h1M321.8 168.7h1M306.3 134.3h1M314.2 181.7h1M311.4 212.5h1M306.5 170h1M310.1 153.1h1M318.6 190.6h1M302 176.3h1M299.5 140.4h1M317.6 157.5h1M305.1 145h1M307.3 186.7h1M307.2 125.7h1M304.8 192.7h1M291 142.3h1M308.1 167.8h1M304.4 148.6h1M295.6 170h1M303.4 190.3h1M311.4 176.4h1M326.3 128.2h1M303.6 153.2h1M322.4 163.5h1M304.5 209.1h1M313.6 146.6h1M306.5 149.5h1M316.5 139.8h1M310.4 158.6h1M305.1 177.2h1M293.7 134.1h1M318.9 196.6h1M294.1 192.9h1M303 181h1M326.6 176.3h1M309.9 132.3h1M310.3 145.6h1M311.5 216.2h1M305.7 128h1M312.5 168.2h1M307.5 155.5h1M305.8 135.5h1M313.7 135.2h1M315.4 154.4h1M312.6 167.1h1M318.5 172.9h1M327.7 175.5h1M326.2 161.8h1M310.1 160.8h1M298.3 176h1M320.5 143.4h1M310.3 125.3h1M316.8 181.9h1M317.7 174.6h1M298.1 193.4h1M310.9 127.3h1M329.2 137.6h1M306.7 168h1M288.5 134.6h1M321.9 187h1M318.9 176.8h1M322.9 134.1h1M298.1 180h1M313 122.3h1M322.4 148.1h1M307.5 165.9h1M313.2 194.6h1M307.2 180.6h1M323 122h1M309.7 136.8h1M315.1 167.2h1M317.7 173.4h1M289.8 191.6h1M320.7 127.7h1M297.7 130.4h1M307.3 148.3h1M306 145.1h1M314.1 162.8h1M307.6 151.4h1M305.2 129.3h1M316.2 165.7h1M329.8 123h1M303.4 141.6h1M302.9 168.2h1M303.7 136.3h1M297.4 159.4h1M297.4 177h1M316.4 191.5h1M304.4 183.1h1M301.3 172.9h1M308.3 126.8h1M301.5 137.4h1M324.5 145.5h1M309.6 156.2h1M292.7 134.7h1M303.8 148.3h1M300.3 189.1h1M300.6 148.2h1M304.1 152.3h1M303.4 155.9h1M302.6 150.3h1M296.6 216h1M312.8 184.1h1M300.8 204.3h1M299.1 179.6h1M317.1 166.2h1M320.9 157.4h1M298 137.7h1M307.5 165.3h1M318.1 184.8h1M291.4 164.6h1M318.1 139.8h1M308.4 143.4h1M313.2 152.4h1M307 190.3h1M300.5 178.6h1M304.3 137.4h1M312.4 174.2h1M296.6 163.5h1M324.2 212.9h1M331.4 120.9h1M318.1 134.6h1M304.8 158.6h1M310.9 135h1M307.3 156.4h1M317.9 143.7h1M310 136.1h1M323.6 156h1M312.3 144.5h1M295 134.9h1M307.5 152.8h1M309.2 159.9h1M303.5 167.8h1M297.1 113.8h1M328.4 148.5h1M308.5 190h1M308.9 121.5h1M293.2 162.5h1M314.6 146.3h1M308 187.5h1M319.9 191.2h1M325.8 166.1h1M302.9 146h1M302.1 117.8h1M320.6 145.3h1M319.8 137.1h1M312.3 160.1h1M316.3 199.5h1M306.2 208.8h1M309 167.1h1M309.2 162.4h1M316.5 167h1M316.9 153.9h1M300.2 204.9h1M303.9 139.7h1M312.2 162.3h1M316.3 143.3h1M309.4 183.9h1M313.4 176.6h1M310.5 164.5h1M299.5 160.8h1M306.1 174.4h1M305.6 147.4h1M296.4 205.4h1M301.4 185.8h1M305.4 180.9h1M309.5 149.3h1M307.5 124h1M319.5 141.1h1M316.8 214.8h1M321.8 149.2h1M326.1 138.9h1M314.8 117.2h1M299.8 186.9h1M305.8 190.9h1M323.9 165.6h1M330.2 118h1M321.7 157.9h1M316 183.6h1M301.1 198.2h1M310.2 171.7h1M312.1 171.4h1M318.3 200.3h1M317.6 204.3h1M300.7 129.7h1M320.8 172.1h1M303.8 130.2h1M312 140.8h1M315.6 190.1h1M316.1 131.9h1M314.3 156.4h1M303.9 192.8h1M308 172.5h1M318.4 118.4h1M304.8 158.2h1M297.8 154.9h1M309.4 213.5h1M300.4 162.4h1M309.2 162.3h1M298.7 187.6h1M304.9 165.3h1M305.6 127h1M318.5 161.3h1M300.6 172.1h1M297.5 165.4h1M310.2 188.5h1M317.2 183.8h1M300.2 174.7h1M314.1 157.2h1M309.3 162.5h1M314 211.3h1M290.9 119.1h1M310 190.6h1M306.6 173.1h1M311.2 143.8h1M302.4 161.4h1M307.9 177.3h1M308.9 166h1M322.5 176.6h1M311 138.9h1M309.8 165.2h1M323 166.9h1M302.4 139.8h1M294.6 121h1M298.2 116.5h1M302.4 187.1h1M310 156.8h1M317.2 159.4h1M301.8 156.4h1M299.1 143h1M317.8 206.9h1M319.6 179.7h1M301.4 200h1M316.5 131.1h1M307.2 177.3h1M304.2 178.8h1M307.7 132.8h1M300.6 139.6h1M292.2 140.9h1M295 188.1h1M301.5 167.7h1M311.9 143.7h1M312.8 179.8h1M317.4 145h1M301.1 165.2h1M308.6 160h1M294.7 140h1M299.2 186.3h1M319.1 163.3h1M327.5 157.1h1M302 185.2h1M288.4 167.8h1M321.9 130.6h1M318.7 161.4h1M344.5 132.8h1M329.4 122.7h1M312.2 171.8h1M298.6 169.1h1M291.4 115.8h1M305.1 148.1h1M308.6 162.6h1M294.3 121.5h1M315.8 189.6h1M318.6 142.9h1M299.2 172h1M306.4 178.4h1M294.9 137.8h1M319 170.7h1M300 164.8h1M297.6 172.2h1M289.3 150.7h1M298.7 186.7h1M291.6 180.1h1M319.4 201.2h1M315.2 189.2h1M296.6 127.2h1M300 147.4h1M308.1 172.9h1M309.9 187.4h1M298.3 144h1M322.3 162.2h1M315.2 169.8h1M329 159.1h1M293 136.5h1M316 174.8h1M311.1 141.6h1M306 172.8h1M297.3 138.2h1M313.9 154.6h1M303.7 185.6h1M322.5 137.4h1M319.9 163.8h1M318.1 178.2h1M290.4 159h1M312.1 154.9h1M326.5 162.1h1M327.3 139.2h1M321.4 181.2h1M320.3 180.3h1M301.2 206.1h1M323.6 169h1M327.8 189.7h1M313.2 149.1h1M314.1 174.1h1M307.5 138.5h1M310.8 168.1h1M305.9 153.8h1M313.7 186.3h1M293.7 157.6h1M302.7 154.2h1M313 178.8h1M311 143.7h1M323.6 151.1h1M318.6 193.9h1M322 145.9h1M308.4 152h1M319.7 190.9h1M302.2 172.1h1M317.9 170.6h1M311.4 168.5h1M301 116.6h1M318.5 125.8h1M323.6 140.8h1M316.7 140.1h1M322.1 178.8h1M318.3 150.6h1M318.2 197.9h1M300.9 161.2h1M290.2 177.4h1M305.5 145h1M303.3 172.8h1M297.7 184.1h1M310.1 145.2h1M301.7 194.5h1M308.9 155.8h1M299.9 201.6h1M306.3 130.7h1M323.9 153.1h1M298.5 178.4h1M291.3 160.1h1M323.1 147.3h1M316.6 178.3h1M308.5 185.9h1M304.8 151.7h1M311.9 181.3h1M305.2 151h1M318.6 141.9h1M305.8 194.5h1M302.5 147.6h1M314.4 149.5h1M300.8 181.2h1M314.4 137.1h1M297 138h1M303.4 155.3h1M310.7 164.2h1M301.8 185.5h1M318.7 157.1h1M307.9 145.4h1M311 129.4h1M289.1 153.7h1M314.5 150.1h1M309.7 189.8h1M288.9 121.1h1M311.3 116.8h1M301.7 155.7h1M297.8 172.8h1M294.6 202.6h1M309.1 120.7h1M309.1 165.6h1M306.7 146h1M329.1 202.7h1M308.6 170.4h1M292.9 161h1M311.9 188.7h1M318.1 170.7h1M299.8 145.4h1M329.8 185.4h1M303.1 153.7h1M305.1 158.9h1M304.9 130.4h1M317.4 200.5h1M321.3 175.6h1M297.6 130.2h1M303.5 141.4h1M299 211.3h1M306.5 150.8h1M296.2 168.5h1M306.9 114.8h1M312.9 148.6h1M324.5 164.6h1M308 154h1M314.7 172.4h1M317.8 173.8h1M301 130.6h1M309.6 127.4h1M327.5 175.5h1M312.5 181.9h1M330 126.6h1M296.6 178.5h1M301.6 125.7h1M309.1 157h1M298.5 193.8h1M315.3 119.6h1M297.5 161.1h1M312.2 155.7h1M293.7 132.2h1M300.2 180.6h1M311.3 137.2h1M314.8 144.1h1M299.1 132.9h1M293.6 172.2h1M314.4 175.3h1M298.7 195.8h1M312.8 154.8h1M321.9 139.8h1M293.5 145.2h1M321.3 178.4h1M320.1 202.3h1M302.9 181.2h1M304.5 114.3h1M323.2 134.1h1M312 140.8h1M313.2 182.3h1M319.9 140.9h1M314.3 180.5h1M337.2 166.4h1M322.9 164.9h1M310.5 160.2h1M310.2 141.4h1M306 195.8h1M321.2 163.9h1M297 199.3h1M317.9 137.3h1M303.1 117.1h1M290.5 196.5h1M318.9 130.5h1M313.4 163.4h1M311.9 150.8h1M305.9 156.4h1M308.8 151.8h1M302.7 132.1h1M322.6 129.5h1M322.9 165.7h1M308.6 141.9h1M312 162.2h1M318.3 196.1h1M311.4 147.9h1M304.6 180.6h1M306.8 144.7h1M312 135.8h1M307.7 153.8h1M305.3 154.9h1M313.4 125.7h1M318.4 143.1h1M300.3 178.2h1M317.6 155.7h1M309.5 163.6h1M306.7 179.8h1M302.4 156.2h1M302.9 141.4h1M304.5 124.8h1M310.5 158h1M308.4 173.8h1M329.5 165.1h1M314.1 189.9h1M311.8 149h1M308.4 166.9h1M301.3 138.2h1M312.9 174.6h1M294 147.6h1M325.6 176.2h1M325.1 143.7h1M294.4 119.8h1M321.5 136.2h1M320.4 151.9h1M320.7 141.8h1M316.2 152.2h1M325.9 173.7h1M301.3 159.1h1M304.8 171.6h1M315.5 155.5h1M309.9 141.8h1M295 134.1h1M319.7 174.5h1M307.2 187.7h1M313.2 133.8h1M319 134.8h1M303.8 168h1M300.6 161.7h1M307.9 153.2h1M296.9 157.9h1M296.6 116.3h1M311.6 155.9h1M327.7 154.3h1M297 171.7h1M325.5 140.8h1M319 145.5h1M319.5 164.6h1M305.2 143.7h1M320.7 211.7h1M294.2 135.5h1M301.4 160.7h1M312.7 135.3h1M317.2 194.5h1M295.6 162.8h1M290.3 164.5h1M313.6 185.9h1M312.4 193h1M316.4 142.5h1M308.7 165.9h1M296.3 146.8h1M320.8 189.4h1M311.1 215.8h1M331.3 153.7h1M324.6 166.8h1M308.1 137.9h1M297.8 162.8h1M321.3 169.8h1M292.3 189.4h1M316.7 126.1h1M306.7 178.9h1M318.6 180.5h1M313.2 145.8h1M299.4 110.3h1M315.3 163.6h1M309.1 147.4h1M318.5 199.9h1M329 153.6h1M307.5 177.8h1M326 168.7h1M308.5 164.6h1M315.6 127.7h1M311.4 141h1M302.8 162.4h1M310.8 157.6h1M305 156.9h1M315.2 179.6h1M298.9 160.9h1M299.8 178.2h1M318.3 162h1M314.9 169.4h1M315.3 146.2h1M315.2 121h1M320 181.6h1M314.3 182h1M318.8 176.4h1M301.8 138.9h1M314.8 188.1h1M302.2 162.2h1M297.1 164.1h1M307.3 142.4h1M316.1 147.1h1M309.8 143.4h1M327.5 169.2h1M316.4 142h1M313.9 159h1M310.8 145.6h1M296.1 126.7h1M310.1 161.1h1M309.9 163h1M327.2 161.6h1M308.4 186.3h1M302.4 159.5h1M311.1 135h1M292.3 208.9h1M312.6 160.3h1M309.8 178.7h1M311.5 163h1M308.8 190.5h1M314.5 130.4h1M309.4 187.6h1M320.6 156.4h1M313 147.5h1M296.8 133.7h1M314 160.5h1M293 131.4h1M300.8 178.1h1M303.7 146h1M298.4 148.1h1M309.6 210.7h1M305.9 179.8h1M302.1 143h1M313.4 169h1M302.2 118.1h1M322.5 140.3h1M316 155.1h1M305.2 140.5h1M314 133.8h1M302.7 176h1M303.2 144.1h1M319.9 138.7h1M293.5 144.1h1M314.2 142.7h1M328.9 179.8h1M290.1 193.8h1M297.7 134.1h1M303.5 160h1M290.2 144.8h1M307.4 172.7h1M317.7 158.5h1M301.6 191.9h1M310.6 117.9h1M315.7 143.7h1M327 166.6h1M308.5 146.8h1M316.7 148.7h1M314.6 129.9h1M305.9 154.8h1M313.1 177.2h1M316.4 139.5h1M296 147.6h1M305.6 157.5h1M312.4 194.4h1M312.8 212.4h1M326 198.2h1M320.1 197.3h1M296.6 154h1M325.5 141.7h1M302.2 192.8h1M300.9 141.2h1M320.4 173h1M306 143.8h1M292.1 132.7h1M315.7 161h1M313.9 136.6h1M314.8 151.6h1M295 181.7h1M317.5 154.5h1M303 184.9h1M318.5 148h1M296.6 168.2h1M299.5 133.7h1M289.2 192.9h1M320.2 166.6h1M311.7 173.6h1M323.3 117.7h1M311.4 120.6h1M317.1 157.2h1M312.7 152.6h1M308.2 150.7h1M310.7 174.9h1M313.7 217.3h1M320.8 133.5h1M315.4 168.4h1M318.3 160.4h1M297.9 187h1M312.5 118.1h1M310.8 131.9h1M313.7 131.7h1M299 165.4h1M310.7 147.1h1M298.4 108h1M310.1 140.2h1M308.4 118h1M307.4 139.8h1M312.4 154.2h1M304.1 139.1h1M309 190.2h1M316.3 216.5h1M324.6 171.8h1M313.3 119.8h1M317.5 195.5h1M315.1 212.4h1M326.2 154.4h1M330.6 168.7h1M302.7 187h1M316.3 164.2h1M312.3 191.1h1M325.4 173.2h1M302.6 146.7h1M291.5 152.7h1M323.3 141.7h1M312.1 192.5h1M316 167.3h1M313.4 154.1h1M312.1 179.7h1M313.4 161.1h1M305 185.6h1M312.5 163.5h1M308.6 144.2h1M303.4 129.1h1M322.6 168.8h1M301.6 143.9h1M298.4 156.6h1M316 130.3h1M324.2 193.2h1M296 166.9h1M299.1 149.8h1M298.4 121.6h1M313.1 212.8h1M314.9 162.1h1M308.6 144.4h1M306.6 158.3h1M303 162.9h1M320.7 131.3h1M303.1 188.3h1M300.7 173.9h1M306.8 160.2h1M308.9 142.3h1M313.2 113.8h1M302.7 147.3h1M327 153.7h1M328.7 128.8h1M297.6 166.5h1M310.6 179.2h1M298.8 146.9h1M306.3 148.6h1M296.5 158.5h1M311.9 195.3h1M310.8 116.8h1M295.4 146.4h1M290.2 150.6h1M321.6 203.6h1M307.3 171.8h1M309.8 191.1h1M323.9 149.9h1M298.9 161.3h1M313.3 172.9h1M302.2 158.7h1M311 157.7h1M289.9 195.4h1M305 155h1M308.3 192.8h1M310.2 143.9h1M294.4 151.2h1M306.5 177.6h1M318.1 172.2h1M308.1 183.8h1M317.8 160.2h1M315.8 158.5h1M311.6 147.2h1M305.3 119.1h1M309.8 148.7h1M299.5 185.6h1M315.9 157.5h1M312.4 164.4h1M321.2 190.9h1M317.7 168.1h1M314.9 145h1M311 187.9h1M317.8 122.1h1M323.2 150.3h1M306.2 146.3h1M296.1 150.7h1M295.2 145.1h1M319.3 206.8h1M313.9 153.7h1M314.6 155.5h1M291.9 122.8h1M303.3 125.7h1M293.2 140.1h1M297.4 128.5h1M303.3 172.2h1M302.1 144.4h1M325.3 147.8h1M296.1 155.7h1M302.7 136.2h1M301.4 127.3h1M309.8 142.1h1M316.5 164.4h1M300.8 156.5h1M292 137.7h1M313.1 168.6h1M297.9 176.2h1M319 198h1M298.6 136h1M302.4 183.5h1M304.4 165.7h1M328.6 166.6h1M317.1 120.9h1M312.7 138.8h1M298.7 159.4h1M297.6 158.1h1M301.9 198.3h1M325.4 149.8h1M322.4 165.5h1M310.5 151.5h1M301.8 126.5h1M291 150.6h1M304.4 161.9h1M314.7 190.7h1M313 145.8h1M301.8 136.8h1M314.3 158.7h1M307.4 145.1h1M318 221.4h1M311.6 180.8h1M316.9 158.2h1M312.4 146h1M304.2 132.6h1M321.1 157.2h1M315.9 149.8h1M304.5 148h1M311.8 115.4h1M303.7 182.3h1M298.6 151.1h1M299.6 179.2h1M297.6 141h1M309.3 169.9h1M312.3 180.7h1M293.2 139.4h1M310.4 156.4h1M318.7 157.1h1M297.4 144.9h1M299.9 157.3h1M318.4 160.4h1M307.3 151.1h1M320.1 116.5h1M305.6 166.4h1M294.4 123.2h1M308.7 157.5h1M308.5 185.1h1M312.1 127.6h1M300.4 156.4h1M304.4 164.7h1M329.8 158.6h1M303.4 148h1M325.2 160.2h1M297.6 176.8h1M311.4 134.4h1M312.9 155.6h1M317.9 177.7h1M309 144.8h1M302.5 129.7h1M310.1 179h1M294 177.2h1M293.4 159.5h1M325 143.6h1M317.6 197.9h1M327.9 191h1M314.1 179.9h1M294.2 147.4h1M299 162.8h1M312.2 137.8h1M295.8 127.7h1M319.8 162.2h1M305.8 171.8h1M295.8 123.8h1M314.4 172.7h1M293.1 163.4h1M298 169.9h1M318.9 128.9h1M304.9 169.3h1M292.2 133.5h1M296.5 149.3h1M307.5 181.5h1M307.9 168.9h1M318 146.3h1M316.6 183.8h1M304.4 126.5h1M327.8 127.5h1M304 176.3h1M299.6 144.4h1M291.9 173.2h1M309.8 121.4h1M314 123.6h1M318.4 152.6h1M316.2 147.6h1M319.2 166.6h1M326.2 157.4h1M312.1 183.1h1M328.4 118.4h1M320.2 148.7h1M295.1 165.2h1M305.6 122.3h1M317.3 182.4h1M297.4 169.2h1M324.4 148.8h1M321.2 162.8h1M313.8 137.2h1M298.7 152.6h1M314.4 130.6h1M323.1 121.5h1M316.2 132.4h1M299 173.4h1M328.2 141.5h1M309.7 167.5h1M322.7 182.7h1M319.2 129h1M324.2 169.8h1M300.6 149.8h1M290.6 164.1h1M323.3 184.1h1M315.2 174.5h1M301.7 177.6h1M301.4 129.9h1M308.9 177.2h1M326.1 187.9h1M296.2 185.8h1M326.4 175.6h1M304.3 178.2h1M323.1 158.6h1M299.9 185.6h1M316.3 171.6h1M313.4 124.9h1M324 144.4h1M328.4 126.2h1M315.8 184.4h1M320.2 118.3h1M302.3 154.1h1M297.6 168.9h1M315.9 148h1M295.8 184h1M298.6 142.7h1M313.4 145.5h1M293 135h1M293.9 179.9h1M316 162.9h1M308.8 171h1M294.5 161.2h1M312.4 148.4h1M319.5 118.8h1M308.4 172.8h1M294.3 186.8h1M296.9 133h1M320.1 164.5h1M295.5 163.5h1M328.1 121.5h1M325.7 157.5h1M299.1 166.1h1M300.1 177h1M328.4 156.4h1M323.8 118.3h1M328.5 155.8h1M317.6 186.1h1M310 156.5h1M301.8 164.8h1M295.2 118.8h1M316.5 177.5h1M319.6 144.1h1M318.4 124.8h1M302.3 180.6h1M318.1 140.5h1M317.6 181.7h1M305.3 141.6h1M293 132.5h1M328.5 187.7h1M315 119.3h1M314 150.8h1M291.8 163.6h1M313.8 186h1M310.8 158.1h1M305 151.1h1M316.1 136.4h1M325.5 139.2h1M325.9 137.7h1M293.7 152.8h1M293.6 123.2h1M303.5 177.1h1M317.8 183.1h1M294.5 145.9h1M297.4 165.4h1M299.7 187.6h1M310 175.1h1M326.3 153.2h1M314.8 123.6h1M310.7 146.9h1M310.6 136.4h1M314 123.4h1M319.6 126.1h1M307.3 154.5h1M314 169.8h1M320.6 120.8h1M303.2 136.5h1M304.2 123.6h1M293.2 168.6h1M297.8 167.3h1M313.2 132.2h1M323.5 169.4h1M306.3 151.9h1M311 181h1M315.6 180.2h1M307.5 178.9h1M319.2 170.3h1M295.1 189.8h1M295.2 162.3h1M327.7 166.8h1M315.4 122.4h1M289.7 154.5h1M309.9 171.1h1M323.4 178.4h1M323.9 127.5h1M327.1 187.3h1M307.1 139.1h1M293.1 130.6h1M324.7 119.4h1M328 140.1h1M293.3 178.1h1M299.8 154.7h1M301.4 120.3h1M302.3 147.3h1M323.4 153h1M302.5 173.2h1M290.6 164.3h1M319.2 134.9h1M309.3 167.8h1M321.6 159.4h1M315.4 123.4h1M328 167.9h1M308.8 165.1h1M309.1 179.8h1M327.2 162.7h1M296.4 175.1h1M304.3 142.9h1M328.1 167.7h1M328.5 119.4h1M321.4 169.3h1M316.9 118.3h1M322.1 159.1h1M324.4 156.9h1M314.4 124.9h1M308.4 148.1h1M310.2 134.3h1M301.6 174.1h1M304.1 147.3h1M319.9 155.1h1M290.9 125.7h1M324 164.8h1M300.4 136.7h1M312.2 179.9h1M296.5 177.8h1M321.5 123.3h1M319.1 134.2h1M296.6 125.8h1M308.3 182.1h1M309.1 166.5h1M312.7 119.7h1M290.4 160.9h1M320.4 171.7h1M316.9 119.5h1M313.6 133.5h1M303 133.2h1M314 128.2h1M312.2 125.4h1M300.2 162.7h1M305.3 128.1h1M326.8 167.9h1M301.2 150.4h1M308.6 128.1h1M303 153h1M315.8 182.6h1M304.9 182.6h1M325.9 188.8h1M295.1 159.5h1M301 128.1h1M327.7 129.6h1M315.3 174.6h1M318.2 158.9h1M307.1 184.2h1M291.6 181.6h1M290.9 166.8h1M319.8 178.5h1M328 154.9h1M308.1 184.4h1M317.5 153.6h1M302.6 161h1M319.1 189.1h1M299.8 175.7h1M304.1 159.7h1M320.1 129.4h1M309.2 128.2h1M309.7 182h1M290.3 118.5h1M301.3 163.2h1M299.5 165.9h1M306.1 143h1M296.1 134h1M326 160.8h1M321.7 187.8h1M320.9 154.7h1M305.3 163.5h1M314.8 148.7h1M302.7 135h1M300.3 163.1h1M325.5 170.7h1M320.4 156.8h1M323.6 180.7h1M314.4 189.2h1M315.9 127.7h1M328.4 137.6h1M312 168.7h1M299.8 158.3h1M297.3 123.7h1M325.8 144.6h1M297.2 143.3h1M291.5 187.1h1M311.8 126.5h1M292.8 181.9h1M307.5 185.6h1M301.6 142.4h1M302.4 157.5h1M319.3 159.5h1M302.3 185.9h1M325.5 137.2h1M321.7 156.5h1M322.8 150.6h1M299.9 182.9h1M302.6 186.9h1M299.9 131.3h1M305.3 161.7h1M300.6 158.7h1M305 128.1h1M313.9 153h1M312.9 129.3h1M319.4 137.1h1M322.5 150h1M304.4 125.1h1M325.1 137.7h1M305.2 143.4h1M297.8 120.2h1M304.6 183.2h1M300.2 187.3h1M299.2 166.8h1M293.6 173.3h1M324.2 130.7h1M298.9 153.4h1M325 121.3h1M325.5 135h1M328.6 123.6h1M303.2 176h1M290.1 181.3h1M320.2 129.5h1M320.6 124.9h1M325.5 126.9h1M310.1 185.2h1M323.1 137.3h1M302 148.2h1M291.3 181.5h1M298.2 118.6h1M323.9 160.4h1M319 155.4h1M295.1 130.2h1M302.7 162.6h1M307.9 179.7h1M325.9 128.8h1M321.9 128.9h1M298.3 159.2h1M299.4 170.3h1M325.5 176.2h1M319.2 187.8h1M319.1 179.4h1M304.6 155h1M325.2 153.8h1M296.3 157.9h1M290.3 146.7h1M326.5 176.6h1M293.6 127h1M289.6 171.7h1M321.7 127.9h1M308 137.6h1M326.1 153.3h1M307.9 184.3h1M314.4 186.7h1M307.1 176.9h1M310.2 157.1h1M299.3 166.6h1M292.6 130h1M308.5 163.5h1M307.8 181.2h1M314.4 163.3h1M293.2 153.4h1M300 143.6h1M293.3 149.1h1M289.5 146.7h1M299.5 158.9h1M293.7 185.4h1M297 146.3h1M311.5 156.2h1M310.3 171.6h1M300.4 133h1M290.1 161.8h1M326.3 157.9h1M328.4 174.9h1M302.8 169.3h1M313.5 119.7h1M294.7 138.8h1M314.9 119.5h1M296.9 168.8h1M309.9 166.2h1M326.7 161.3h1M319.5 178.2h1M300.4 182.7h1M323.8 141.6h1M300.7 179.2h1M316.6 155.2h1M298.8 184.9h1M323.9 122.1h1M294.5 128.1h1M297.5 165.9h1M314.8 129.7h1M290.7 165.9h1M318.7 127.5h1M302.2 180.1h1M322.9 156.6h1M300.4 120.1h1M314.7 139.9h1M309.9 153.4h1M321.5 169.5h1M300.4 138.7h1M290.3 168.6h1M325.5 165.9h1M300 181.4h1M323 146.5h1M302.6 126.8h1M301.9 134h1M300 176.9h1M320.4 153.3h1M295.4 158.9h1M316.3 141.2h1M308.3 177.6h1M310.8 121.8h1M323 189.6h1M289.5 172h1M316.2 134.1h1M312.8 168.1h1M299.2 135.1h1M289.5 138.3h1M325 160.3h1M312.8 157.9h1M328.9 175.6h1M312.3 165.8h1M305 118.2h1M314.2 130.3h1M327.3 119.1h1M297 169.9h1M328.3 164.1h1M302.6 186.7h1M308.1 157.2h1M310.9 162.7h1M294.2 167.9h1M299.1 133.6h1M302.5 148.6h1M301.2 167.4h1M290.2 148.2h1M318.7 157h1M324.2 119.2h1M300.2 145.5h1M289.6 147.2h1M313.4 172h1M307.7 173.1h1M293.6 179h1M324.6 168.8h1M313.4 152h1M321.1 166.6h1M293.4 153.7h1M305.9 149.9h1M314.4 143.6h1M305.7 180.3h1M321.9 136.2h1M326.5 123.6h1M320.2 120h1M303.7 138.1h1M304.9 121.4h1M310.7 171.7h1M331.7 181.6h1M328.4 202.7h1M330.8 192.9h1M333 168.3h1M330.1 135.9h1M332.6 169h1M330.4 194.7h1M333 221.4h1M331 157.2h1M330.4 212h1M330.5 145.6h1M334 136.3h1M329.4 175.2h1M332.1 126.9h1M332.7 179.5h1M332.6 119.2h1M330.7 212.3h1M330.1 147.7h1M331.8 148.9h1M333.5 188.4h1M330.9 119.3h1M331.4 165.1h1M332.5 202.7h1M330.3 188.8h1M331.1 174.3h1M330.8 189.3h1M331.8 181.6h1M333 190.4h1M331.5 169h1M290.3 196.9h1M289.9 173.2h1M290.7 220.4h1M290.4 176h1M289.6 172.5h1M289.9 128.8h1M290.6 210.2h1M288.8 130.9h1M288.5 157.6h1M289.8 216.8h1M289.7 123.9h1M290 206h1M289.9 187.6h1M289 126.4h1M290.8 185.7h1M290.9 178.8h1M289.1 216.9h1M289.5 212.7h1M290.8 127.8h1M290 220.6h1M290 127.7h1M290.7 200.3h1M289 159h1M288.9 210.3h1M290.2 161.6h1M289.5 117.1h1M289.1 211.8h1M288.9 148.4h1M289 190h1M290.8 209.2h1M289.5 150.5h1M288.8 189.2h1M289.3 150.1h1M288.9 204h1M290.8 220.5h1M289.1 136.2h1M289.4 201.8h1M289.5 216.6h1M288.5 153.8h1M290 124.9h1M289.3 176.5h1M290.6 188.8h1M289.5 144.9h1M289.3 112.6h1M289 177h1M289.7 131.1h1M290.8 153.8h1M291 193.6h1M289.7 127h1M290.5 169.2h1M289.1 134.6h1M290.7 183.7h1M290 160.2h1M289.3 182.5h1M290.3 140.7h1M289.9 185.3h1M289.6 125.5h1M289.9 177.6h1M291 116.1h1M289.3 187.7h1M289.1 205.7h1M290 176.7h1M290 164.7h1M289.1 213.7h1M289.4 194h1M289.5 211.8h1M289.2 183h1M288.5 209.3h1M288.6 218.7h1M289.2 152.7h1M290.8 216.7h1M289.9 210.3h1M290.8 142.1h1M289.8 132.6h1M289.9 167h1M289.5 205.9h1M290.3 119h1M290.1 190.3h1M288.7 160.6h1M289.4 202.5h1M289.8 115.1h1M289.8 184.4h1M288.6 144.5h1M289.3 184.2h1M290.3 120.3h1M289.6 220.7h1M290.5 214.5h1M289.2 153.8h1M290.2 161.7h1M288.6 214.8h1M345 175h1M350 173h1M352.5 198h1M359 196h1M361 195.5h1M372 199h1M341 150h1M336 207h1M343 210h1"/>
<path stroke="#000" stroke-width="1.1" stroke-opacity=".9" fill="none" d="M78 431.8h1M98.1 436.1h1M63.9 436h1M97.6 442h1M105 433.5h1M97.4 438.8h1M126.9 445.4h1M87.6 442h1M75.8 437.4h1M80.7 433.3h1M89.1 441.7h1M114.4 441.6h1M119.8 445.6h1M89.3 440h1M112.2 440h1M100.9 431.7h1M75.8 440.6h1M74.5 443.8h1M80.5 438.8h1M80.6 437.3h1M69.9 436.5h1M84.9 439.9h1M74 433.2h1M122.1 442.5h1M105.3 441.6h1M74 438.3h1M79 439.2h1M92.7 434h1M75.1 444.2h1M97.8 440.3h1M74.9 438.6h1M77.8 439h1M72.5 445.3h1M91.3 435.7h1M109.9 439h1M70.5 442.1h1M69.6 444.4h1M115.1 439.9h1M77.8 441.1h1M66.6 441.1h1M90.8 439.2h1M60 434.1h1M69.1 440.4h1M98.2 439.5h1M86.9 440.2h1M88.1 436.6h1M93.4 450h1M69.6 444.3h1M62.6 438.3h1M76 435.6h1M66.4 439.4h1M101.9 438.4h1M94.9 439.4h1M85 441.1h1M90.7 434.4h1M77.6 436.1h1M80.5 439.7h1M102.2 430.9h1M90.3 443.4h1M107 440.8h1M68.7 443.7h1M83.5 440.3h1M86 439.3h1M80.5 441.4h1M100.6 440h1M91.7 444.3h1M86.8 439.5h1M79.7 444.6h1M64.2 447.2h1M97.6 442.5h1M81.3 440.1h1M72.7 434.1h1M80.1 437h1M119.8 434.7h1M72.1 439h1M103.1 443.8h1M65.3 432.1h1M66.1 441.1h1M115.7 431.8h1M64.5 437.5h1M87.1 442.6h1M115.4 437h1M81.7 440.3h1M89 438.5h1M74 439.5h1M97.9 439h1M91 440.9h1M81.5 433.7h1M94.4 438.9h1M80.3 436.2h1M93.1 436h1M118.2 439.8h1M101.1 447.8h1M90.3 448.4h1M59.4 438h1M72 439.9h1M99.2 442.8h1M90.1 437.3h1M108.4 439.8h1M78.7 436.8h1M92 448.8h1M99.2 435.2h1M83.1 439.5h1M92.6 446.1h1M90.3 441.5h1M100.7 429.2h1M69.6 442.9h1M68.3 439.8h1M70 442h1M87 431.8h1M88.1 450h1M58.6 432.4h1M88.1 445.4h1M95.9 434.3h1M71.6 434.2h1M91 443.4h1M65.8 436.6h1M89.5 448.9h1M64 446.2h1M88.2 441.7h1M101.5 441.6h1M85.7 441.2h1M71.7 437.6h1M104.2 439.9h1M99.9 444.2h1M92.4 436.5h1M76.9 439.4h1M88.5 443.5h1M107.5 442.1h1M97.1 427.5h1M86.9 442.7h1M92.6 437.3h1M109.5 444.4h1M71.1 437.8h1M98.7 434.9h1M60.1 453h1M114.6 435.2h1M97.4 433.2h1M74.6 439.9h1M96.3 443.4h1M77.7 441.9h1M91.3 440.4h1M65.9 434.8h1M99.2 448.9h1M91.8 431.9h1M88.5 440.8h1M94.2 432.7h1M78.1 440.7h1M90.4 439.6h1M95.6 441.7h1M72.5 434.9h1M75.3 435.7h1M119.8 429.9h1M75.3 435.7h1M88.6 434.5h1M67.9 437.7h1M60.3 434.8h1M108.7 440.8h1M106.5 439.6h1M65 443.1h1M70 437.5h1M128.8 443.8h1M96.2 442.4h1M87.5 432.6h1M80.9 445.8h1M87.1 435.3h1M83.9 439.2h1M105.8 445.8h1M91.9 437.4h1M108.7 444.1h1M80.2 436.8h1M116.4 437.1h1M90.6 444.8h1M78.5 438.3h1M67.3 444.4h1M72.7 446.4h1M94.7 442.6h1M102.9 442.3h1M74.4 436.8h1M74.3 436.7h1M122.4 440.3h1M88.3 441.9h1M101.3 433.3h1M85.3 437.6h1M66.4 439.8h1M77.7 443.6h1M74.8 435.1h1M70.5 440h1M74.2 435.8h1M68 436.7h1M87.3 450.2h1M93.2 449.2h1M88.5 433.7h1M111.2 450.4h1M107.7 432.6h1M82.8 437.5h1M93.4 436.8h1M93.7 445.5h1M104.1 437.5h1M77.2 444h1M121.6 437.5h1M88.2 438.8h1M110.9 436.7h1M71 438.7h1M81 436.7h1M64.5 449.4h1M86.4 446.7h1M78.2 444.6h1M75.4 450.7h1M101.8 438.9h1M78 436.1h1M92.1 435.9h1M66.4 432.7h1M58.8 438.2h1M125.7 440.8h1M98.6 434.9h1M95.1 440.6h1M69 440.2h1M95.2 436.6h1M87.8 434.2h1M87.3 440.3h1M108.5 438.9h1M116.3 435.7h1M100.4 432.4h1M71.5 446.9h1M72.9 443.4h1M89.7 437.6h1M63.9 436.1h1M75.8 442.8h1M69.4 437.1h1M96.7 440.8h1M107.7 429.3h1M90.6 440.6h1M105.4 443.5h1M82.9 444.7h1M89.1 441.8h1M94.5 443.2h1M77.9 441.1h1M98 440h1M75.7 438.2h1M65.5 431.1h1M93.8 435h1M102.7 441h1M115.5 430.6h1M97.5 443.4h1M115.5 433.9h1M100 443.4h1M80.5 438h1M100.2 436.6h1M104.7 433.6h1M64.7 434.4h1M84.3 429.5h1M87.4 434.1h1M113.8 446h1M90.8 432.4h1M86.2 442.7h1M83.2 442.5h1M72.5 436.2h1M103.9 439.2h1M68.7 437.4h1M83.7 444.1h1M58.5 443.5h1M82.5 430.9h1M117.2 440.9h1M102.9 444.2h1M114.4 436h1M113.5 430.8h1M105.2 431.8h1M70.2 439.5h1M99.9 435.5h1M99.2 442.4h1M92.1 441.6h1M74.3 437.8h1M97.7 439.4h1M83.7 441h1M102.3 439.4h1M58.7 442.5h1M67.3 436.4h1M60.6 442.5h1M85.2 442.5h1M97.6 439h1M84.9 439h1M116 436.4h1M108.8 437.5h1M98.9 435.7h1M108.3 444.8h1M75.5 440.1h1M91.6 433.8h1M113.8 438.5h1M73.9 445.4h1M104.9 446.5h1M119.8 445.1h1M104.7 433.6h1M134 442.7h1M79.7 433.4h1M87.4 447.8h1M71.6 448.5h1M110.9 433.7h1M92.5 440.7h1M88.7 433.4h1M114.6 440.3h1M73.9 436.4h1M94.7 434.6h1M108.7 443.9h1M97.6 443.9h1M103 441.7h1M60.4 434.5h1M116.8 436.3h1M95.5 444.2h1M78.7 444.5h1M88.5 437.5h1M80.3 449.2h1M102.8 442.3h1M112.5 447.2h1M92.6 442.2h1M77.4 445.7h1M79 437.1h1M88.4 439.3h1M89 432.1h1M76.4 440.5h1M115.5 433.7h1M97 437.2h1M118 434.8h1M75.7 437.7h1M123.9 436.9h1M80.5 434.2h1M101.8 446.6h1M95.8 434.9h1M69.2 444.8h1M94.7 445.7h1M90.9 443.6h1M108.8 437.3h1M97.3 435.8h1M83.1 433.4h1M103.2 433.6h1M129.9 433.5h1M102 436.7h1M85.9 440.1h1M91.8 443.4h1M90.6 433.6h1M79 443.4h1M58.8 435h1M74.6 450.6h1M119.4 445.3h1M111.9 448.7h1M97.9 441.1h1M97.1 435.3h1M122.1 432.4h1M114.7 440.1h1M85.2 432.3h1M90.2 442.4h1M101.9 442.5h1M77.2 435.5h1M96.7 444.5h1M96.9 439.9h1M94.4 440.9h1M94.8 442.3h1M96.2 435.6h1M92.9 439.1h1M91.4 434.7h1M90.9 441.7h1M84.7 435.7h1M94.1 445.4h1M80.7 444.1h1M88.1 436.3h1M85.1 438.9h1M93.7 438.9h1M90.7 445.6h1M72.7 441.7h1M111.9 440.5h1M62.2 449.8h1M84.3 440h1M92 440.5h1M86.2 439.4h1M103.9 441.3h1M95.6 434.4h1M115.4 446h1M94.9 432.6h1M102.5 443.8h1M92.2 445.2h1M105.7 436.2h1M101.6 429.5h1M64.2 443.3h1M99.2 435.3h1M99.8 437h1M88.9 443.4h1M86 436.3h1M86.8 441.1h1M75.9 437.4h1M76.7 438h1M99.6 435.3h1M99.1 430.8h1M90.3 442.7h1M112.9 434.9h1M98 437.5h1M128 444h1M122.8 433.2h1M83.1 443.9h1M102 437.2h1M74.6 443.3h1M98.1 443.2h1M95.3 444.2h1M82.8 437.8h1M109.4 440.9h1M79.4 436.4h1M95.1 440h1M105.6 437.7h1M82.7 443.2h1M75 452.4h1M86.7 443.8h1M74 434.7h1M114.8 439.3h1M96.7 438.7h1M103.9 432.9h1M82.4 434.5h1M70 441.7h1M97.3 433.1h1M74.8 449.3h1M91.9 431.5h1M71.3 438.7h1M66.8 447.1h1M102.3 441.5h1M84 443.6h1M80.9 430.3h1M106.9 437.5h1M107.4 436.1h1M87 440.2h1M62 435.1h1M61.8 443.5h1M74.6 434.6h1M93 439.7h1M101.8 434.6h1M85.1 433.8h1M90.7 436.5h1M76.3 445.6h1M81.1 433.4h1M98.5 441.1h1M98.5 428.9h1M68.7 442.1h1M70 435.4h1M77.3 437.3h1M118.6 441h1M77.3 438.7h1M111.2 440.9h1M86.2 438.5h1M120.2 440h1M103.9 432.7h1M94.2 437h1M86.9 437.4h1M104.1 432.2h1M111.9 440.7h1M78.2 440.2h1M95.3 434h1M62.6 438.5h1M66 440.8h1M77.6 436.6h1M114.7 441.3h1M94.8 441.9h1M81.1 433.7h1M122.3 442.8h1M69.8 445.4h1M77.1 435.5h1M81.3 441.9h1M83.1 430.5h1M88.5 428.3h1M80 438.8h1M98.8 433.9h1M85.3 442.8h1M86.4 446.9h1M74.8 437.5h1M75.3 435.9h1M98.2 441.7h1M83.6 441.9h1M87.9 441.6h1M77.8 434.8h1M78.9 439.6h1M89 436.4h1M105.8 443.1h1M67.7 436.4h1M61.1 431h1M68.9 441.6h1M91 442.6h1M84.1 436.5h1M84.3 438.1h1M89 434.3h1M81.2 439.7h1M87.8 445h1M97.2 442.2h1M100.6 439.2h1M87.5 436.8h1M65.6 449.2h1M98.6 430.7h1M95.1 438.1h1M88.5 435.4h1M107.3 434.6h1M64.5 437.7h1M87.1 437.3h1M101.8 445.2h1M75.5 446.3h1M88.6 444.4h1M84.6 441.6h1M94.1 436.8h1M71.3 436.5h1M121.4 446.2h1M60.5 441.5h1M88.3 430.3h1M74.4 436.5h1M105.2 432.2h1M58.9 439.4h1M65.4 443.4h1M93.8 444.8h1M63 438.4h1M72.2 438.9h1M76.1 437.8h1M92.6 431.4h1M96.8 436.3h1M88.5 440.1h1M117.3 441.1h1M111.3 438.1h1M96.6 441h1M61.6 431.5h1M104.3 439.4h1M73 438.5h1M90.3 447.1h1M95.4 436h1M84.2 444.2h1M102.6 438.2h1M89.2 439.5h1M81.9 440.2h1M75.2 442.8h1M80.6 431.8h1M73 429.7h1M65.3 444.6h1M105.8 442.5h1M113.8 444.4h1M88.6 437.4h1M63.7 444.9h1M76 430h1M85.4 428.8h1M66.9 427.8h1M84.7 444.2h1M92.6 439.6h1M62.5 441.1h1M100.7 434.3h1M92.8 441h1M101 433.9h1M77 437.9h1M78.2 438.7h1M121 446.2h1M101.4 443.9h1M107.4 440.4h1M104.6 440.2h1M74 430.5h1M90.6 442.7h1M110.6 441.6h1M95.4 438.2h1M79.1 442.1h1M106.1 437.9h1M99.1 435.5h1M88.6 439.4h1M85.7 439h1M90.9 436.1h1M94 432h1M91.5 443.9h1M102.7 430.8h1M110.7 445.1h1M72.1 439.2h1M114.1 438.8h1M65.6 437.7h1M101.4 437.3h1M71.3 435h1M123.6 437.5h1M93.7 435.7h1M103.4 442.3h1M126.2 431.1h1M109.7 435.4h1M118.8 435.8h1M63.5 446.7h1M76.3 441.4h1M92.3 440.3h1M81.5 444.8h1M79.4 436.1h1M79.5 434.5h1M68.9 442.3h1M116.6 437.7h1M110.3 443.4h1M89.7 449.2h1M111.8 440.3h1M69.2 443.7h1M149.5 438.6h1M81.1 438.2h1M113 440.3h1M77.9 446.4h1M97.2 440.3h1M108.1 445.7h1M112.9 438.6h1M76.6 436.3h1M85.8 436.8h1M83.9 440.7h1M120.9 438h1M84.5 435.8h1M72.8 440.2h1M98.6 446.2h1M65.5 443.8h1M78.2 444.6h1M73.8 442.7h1M65.6 447h1M71.3 440.2h1M96.2 436.8h1M79.8 431.8h1M100.9 443.6h1M89.6 443.9h1M59.2 441.3h1M80.1 439h1M104.5 442.2h1M118.7 441.2h1M61.9 434.9h1M96.7 445.5h1M109.5 439.1h1M131.9 438.5h1M83.2 441.1h1M106.2 447.2h1M69.2 436.9h1M109 438.7h1M102.5 437.4h1M58.9 435.2h1M75.8 431.2h1M82.7 442.4h1M94 436.5h1M90.2 441.3h1M94.3 446.9h1M96.4 440.1h1M67.2 439.5h1M63.1 436.2h1M94.5 439.9h1M66.3 433.9h1M77.8 432.2h1M85.3 435.4h1M119.4 439.4h1M90.7 437.4h1M115.8 438.2h1M103.1 435.9h1M70.1 435.2h1M120.4 441.9h1M80 443.3h1M110.7 444h1M94.9 442.7h1M78.3 438.9h1M97.8 438.4h1M85.7 443.4h1M132.7 432.2h1M77.7 430.8h1M88.5 439.7h1M77.8 436.5h1M75 436.3h1M112.6 443.5h1M111.8 439.9h1M66 437.2h1M77.5 436.1h1M81.1 436.1h1M71.6 442.9h1M105.4 439.1h1M88.6 444.6h1M80.1 430.6h1M91.6 442.1h1M95 439.1h1M83.2 439.1h1M84.8 442.5h1M98.8 434.4h1M99.7 438.1h1M74.8 438.8h1M99.9 442h1M83.7 439.1h1M108.2 431.5h1M128.9 437.9h1M101.3 438.6h1M96.4 441.2h1M134.9 431.2h1M117.6 441.1h1M92.6 443.6h1M87 441.9h1M104 440.4h1M73.8 437.9h1M94.8 431.9h1M62.5 436.7h1M73.7 439.8h1M106.7 436.1h1M100.7 442h1M144 442h1M105.6 432h1M123.4 441.7h1M97 447.1h1M86.2 435.4h1M84 441.5h1M89.7 443.5h1M101.8 433.8h1M132.1 440.6h1M90.7 443.2h1M69.9 436.6h1M90.5 441.3h1M96.8 443.3h1M96.7 447.8h1M99.8 432.3h1M73.8 442.2h1M86.6 447.6h1M96.3 442h1M98.2 442.5h1M67.8 442.2h1M86.5 435.9h1M65.8 435.1h1M73.9 439.1h1M87.1 441.1h1M102.6 436.7h1M83.8 443.6h1M80.9 444.3h1M89.7 437.1h1M83.4 438.3h1M79.3 428.6h1M109.5 438.6h1M92.2 439.9h1M103.6 448.8h1M59 436.7h1M70.1 445.4h1M78.8 443.1h1M73.1 441.9h1M87.3 443.2h1M84.2 443.8h1M98 439.9h1M118.4 444h1M77.1 430.3h1M90.9 440.1h1M97.8 440.5h1M113.8 446.6h1M66.8 442.5h1M90.9 438.2h1M84 437.1h1M99.6 436.5h1M113.1 444.2h1M74.1 436.7h1M81.3 439.5h1M95.7 431.3h1M98.7 435.5h1M143.4 446.8h1M80.9 439.8h1M79.8 436.2h1M89.2 438.7h1M98.9 450.7h1M87.8 438.8h1M109.5 444.2h1M89.1 435.5h1M86.6 438h1M78.7 436.7h1M94.7 436.9h1M117.5 447.5h1M91 437.2h1M109.4 442.5h1M88.4 435.2h1M117.1 437h1M83.6 438.2h1M75.1 439.3h1M83.7 434h1M85.8 436.3h1M98.5 439.7h1M80.7 435.2h1M67 442.8h1M97.5 433.8h1M82.1 433.3h1M115.6 440.7h1M91.8 447.8h1M97.4 448.9h1M84.5 445.7h1M77.3 436.5h1M105.5 442.4h1M85.1 430.2h1M66.8 436.3h1M97.9 450.9h1M85.3 442.7h1M82.1 440.8h1M102.1 439.7h1M62.3 441.2h1M97.6 440.2h1M90.6 432.1h1M88.4 450.2h1M88 439.8h1M75.1 438.1h1M74.5 436.3h1M91.2 435.6h1M89 439.8h1M106.5 441.1h1M74.1 434.1h1M105 439.2h1M121.6 434.2h1M61.1 448.3h1M113.7 445.3h1M95.6 437h1M85.7 440h1M87.7 441h1M106.4 434.6h1M106.2 441.7h1M95.4 434.4h1M106.5 437.3h1M97.5 434.7h1M61.5 435.4h1M95.5 432.8h1M83.3 444.8h1M63.8 440h1M105.7 435.5h1M86.9 439.3h1M62.5 440.9h1M96.8 444h1M63.5 440.6h1M96.3 445.6h1M64.3 443.2h1M87.1 441.1h1M102.1 438.2h1M69.5 449.6h1M95.2 442.1h1M66.2 439.6h1M103.1 440.6h1M72.1 441.7h1M87.3 443.1h1M67.4 440.4h1M105.4 431.6h1M148.4 441.6h1M78.3 433.4h1M81.3 442.6h1M80 444h1M68.7 441.3h1M61.7 440.2h1M104.4 437h1M115.2 432h1M71.2 442.3h1M72.6 443.6h1M75.8 437.1h1M68.4 442.8h1M85.1 442.2h1M79.1 439.7h1M59.4 432.1h1M87.5 441.8h1M78 439.3h1M111 448h1M109.4 441.1h1M59 437.2h1M88.7 446.8h1M93.7 439.7h1M76.6 437.8h1M75.1 437.7h1M89.3 439.4h1M86.1 441.1h1M62.6 437.6h1M86.1 438.6h1M84.4 435.6h1M97.2 435.5h1M79.9 439.8h1M58.5 437.5h1M83.4 440.8h1M93.7 437.9h1M63.9 434.5h1M87.1 437.2h1M94 440.1h1M74.7 445.5h1M60.9 439.8h1M96.8 434.5h1M125.8 439.8h1M122.1 431.4h1M76.7 441.7h1M73.1 430.5h1M63.4 446.2h1M89.9 441.6h1M80.3 442.1h1M78.7 441.9h1M103.9 436.8h1M83.1 441.4h1M122.7 444.6h1M83.2 440.9h1M83.5 436.7h1M73.9 444.9h1M114.6 443.6h1M90.9 438.3h1M108.2 446.5h1M73.3 444h1M87.2 440.4h1M100.7 433.4h1M94.7 434.5h1M97.9 440.6h1M64.8 432.7h1M97.4 433.7h1M71.6 441.3h1M77.4 428.2h1M77.7 442.2h1M104.4 448.3h1M73.6 441.4h1M80 438h1M92.4 435.1h1M75.5 436.2h1M102.6 443.8h1M74.1 440.3h1M81.8 438.6h1M87.6 445.6h1M91 439.4h1M91.1 438.1h1M118.2 433.9h1M71 443.2h1M104.9 433.9h1M133.6 440h1M96.7 438.6h1M91.1 443.9h1M84.7 446.6h1M90.7 447.6h1M100.7 439.6h1M100 435.3h1M74.4 430.9h1M104.8 449.2h1M87.9 443.4h1M61.2 438.3h1M100.3 436.3h1M85.5 442.5h1M98.2 436.5h1M61.6 434.2h1M109.4 438.5h1M79.2 439.4h1M70.2 438.4h1M107.3 447.9h1M118.6 439.7h1M90.7 439.6h1M77 433.8h1M114.8 439.7h1M111.1 443.5h1M88.8 438.3h1M97.7 437.9h1M84.6 443.4h1M124 446.9h1M76.4 437.1h1M104.1 441h1M82.6 440.4h1M90.5 432.6h1M95.8 443.7h1M103.6 438.1h1M72 440.7h1M110.5 435h1M97.3 442.7h1M119.6 432.4h1M61.6 443.7h1M74.5 446h1M96.5 439.3h1M84.7 434.2h1M59.6 437.9h1M84 449.7h1M93.7 435.4h1M87.9 439h1M103.5 439.8h1M74.9 434.3h1M75.1 447.9h1M108.1 432.2h1M93.2 440.5h1M103.3 440.7h1M87.5 435.9h1M100.7 434.8h1M114.3 438.5h1M81.7 435.3h1M99.5 440.1h1M91.2 434.1h1M89.9 437.4h1M104.9 444.1h1M124.6 440.8h1M75.3 444.5h1M109.8 444.7h1M63.7 443.1h1M102 439.5h1M110.3 439.5h1M75.1 435.2h1M90.4 447.2h1M71.7 430.5h1M110.1 446h1M119.4 435.9h1M104.1 434.5h1M100 437.8h1M69.9 436.4h1M78.3 436.5h1M95.7 433.8h1M68.9 448.5h1M107.3 442.8h1M66.8 446.5h1M92.4 440.2h1M83 437.7h1M94.1 440.1h1M91.4 432.4h1M73.5 431.6h1M62.2 436.9h1M78.5 448.5h1M65.5 441.1h1M99.2 443.1h1M99.1 439.9h1M115.9 437.8h1M81.2 430.2h1M84.2 436.6h1M81.7 436.4h1M94.4 437.9h1M89.6 442.5h1M69.8 435.9h1M96.2 442.6h1M87.1 441.5h1M69.8 442.8h1M92.1 436.6h1M94.8 449.6h1M77.8 440h1M111.1 437.7h1M68 446.9h1M61.3 445.4h1M126.3 442h1M94.8 440.1h1M80.6 443.6h1M85.2 437.8h1M60.7 437.3h1M74.3 443.1h1M72.8 438.9h1M100.7 442.9h1M84.5 442.1h1M100.8 436.3h1M85.5 436.3h1M93.6 446.2h1M97.8 435.7h1M104.2 440.8h1M70.8 445.2h1M113.4 440.4h1M99.7 445.5h1M85 438.1h1M87.8 436.5h1M81.8 438h1M111.1 438.4h1M87.2 440h1M108.9 427.2h1M104.5 434.5h1M75.5 439h1M94 437.6h1M85.4 447.2h1M120.3 439.7h1M77.4 437.5h1M84.1 441.8h1M86.9 447.1h1M59.7 432.1h1M78.6 438.3h1M89 438h1M104.9 444.5h1M65.8 440.9h1M119.6 442.5h1M102 443.4h1M86.9 437.3h1M91.1 433.8h1M113.9 437.4h1M95.1 437.5h1M76.8 438.4h1M80.7 440.3h1M110.6 441.3h1M102.4 444.3h1M78 440.6h1M70.7 438.3h1M99.2 438.7h1M87.2 439.5h1M92.2 439.5h1M85.7 440.9h1M80.7 443.8h1M119.2 436.7h1M101.2 443h1M78.3 432.8h1M101.6 442.1h1M96.9 443.9h1M82.6 444.1h1M95.1 440.5h1M102.9 440.1h1M84.4 440.2h1M99.9 442h1M62.6 434.6h1M108 440.1h1M119.6 434.1h1M75.2 436.8h1M85.2 441.7h1M131 432.2h1M76.5 442.9h1M80.5 442h1M107.4 435.6h1M62.2 438.9h1M134.1 445.7h1M74.6 438h1M93.6 436.4h1M69.4 439.7h1M82.4 439.1h1M114.1 442.1h1M74.4 447.1h1M110 434.6h1M77.1 440.2h1M93.3 429.6h1M101.4 436.9h1M65.7 436.8h1M95.5 433.1h1M102.1 443.1h1M117.9 435.8h1M90.4 439.5h1M112.3 439.4h1M105.4 441.3h1M80.6 436.4h1M101 431.7h1M86.1 445.5h1M117 439h1M62.9 437.1h1M111.8 446h1M82.3 431.7h1M99.5 440.6h1M98 431.2h1M71.6 441.3h1M75 434.7h1M119.1 434.9h1M72.4 439.2h1M100.2 440.2h1M111.1 440.7h1M96.3 438.5h1M68.2 440.2h1M91.1 442.5h1M85.2 449h1M72.5 438.9h1M97 442.6h1M86.6 438h1M94.2 437.5h1M115.2 447.9h1M77.1 438.5h1M90.2 447.3h1M58.9 443.1h1M78.1 445.1h1M93.5 434.6h1M133.6 433.2h1M87.5 447.9h1M95.8 438.1h1M74.3 437.5h1M78.9 439.1h1M84.6 439.6h1M87.8 432.2h1M80.8 446.1h1M107.7 439h1M85.9 443.5h1M73.1 447.7h1M122.7 441.8h1M59.4 435.3h1M104.8 442.6h1M95.8 438h1M85.5 440.3h1M79.4 440.2h1M74 440h1M60.5 434.8h1M102.5 431.6h1M121.5 441.9h1M61.5 436.1h1M69.5 441.6h1M84.6 436.7h1M87.8 437.9h1M102.3 444.5h1M73.8 432.7h1M87.6 440.5h1M76.4 440.5h1M86.1 436.4h1M64.6 438.4h1M87.3 432.2h1M109.4 446.9h1M86.4 435.4h1M105.7 441.8h1M60.6 433.9h1M105.6 436.8h1M76.1 436h1M90.7 435.5h1M102.4 442.1h1M81.4 437.4h1M102.6 433h1M90.7 444h1M67.8 442.9h1M107.3 440.2h1M111 441h1M89.1 440.2h1M79.7 435.1h1M98.4 443h1M92.3 440.8h1M71.1 439.8h1M62.8 441.8h1M101.3 440.1h1M72.3 435.7h1M69.3 442.9h1M88.7 435.7h1M87.4 432.9h1M68.4 444h1M74.4 436.2h1M87.3 439.2h1M73.7 439.6h1M61.4 441.1h1M99.9 435.4h1M81 435h1M96 434.1h1M96.5 440.8h1M67.8 437.2h1M106.4 436.5h1M84.1 440.8h1M89 433.6h1M80.7 443.8h1M95.9 443.1h1M77 445.3h1M106.7 439.3h1M68.6 435.7h1M70.6 439.3h1M64.5 437h1M63.4 433.6h1M64.7 438h1M117 442.2h1M95.3 443.9h1M77.8 427.2h1M112.7 434.5h1M75.1 436.4h1M71.9 440h1M70.6 435.4h1M104.3 441h1M95.3 439.9h1M80.5 437.5h1M80.6 439.5h1M76.7 433.1h1M95.4 434.3h1M98.9 441.2h1M99 433.6h1M98.5 439.9h1M94.9 440.6h1M74.2 435.2h1M66.2 433h1M69.7 443.2h1M73.2 444.9h1M125 448.3h1M93.3 441.4h1M106.4 443h1M76.5 433.8h1M103.7 436.5h1M87.6 441.4h1M107.5 436.1h1M59.4 439.9h1M114.5 445.2h1M93.8 437.7h1M72.7 438.4h1M94.7 437.7h1M68.8 441.2h1M102.8 442.2h1M107.1 441h1M78.4 435.4h1M78.4 434.7h1M88.9 443.9h1M84.7 449.1h1M108.8 444.1h1M73.2 450h1M77.7 436.6h1M81 441.3h1M108.9 431.3h1M112.2 444.3h1M113.5 441.2h1M59.2 435.8h1M126.6 434.5h1M89.6 440.9h1M87.7 437.9h1M88.4 437.6h1M131.4 435.5h1M109.8 440.1h1M109.2 439.5h1M73.6 438.8h1M130.4 432.7h1M68.3 444.6h1M100.4 434.1h1M116.5 439.7h1M101.5 440.2h1M94.8 438h1M101.6 437.4h1M69.3 443.8h1M101.9 434.1h1M88 444.5h1M106.9 431.8h1M83.7 436h1M106.1 440.9h1M68.7 446h1M106.3 452.2h1M110.3 431.4h1M67.4 435.3h1M72.9 441.5h1M63.3 444.1h1M83.8 440.2h1M83.8 441.5h1M73.2 436.4h1M92.5 433.2h1M85 435.8h1M127.8 441.7h1M99.2 440.9h1M91.8 426.2h1M96.5 438.8h1M106.2 439h1M93.4 437.6h1M77.4 438.8h1M107.5 431.4h1M100.6 441h1M72.6 435.5h1M92.9 448.1h1M116.7 435.1h1M107.7 434h1M90.6 441.2h1M92.6 441.6h1M101.9 449.2h1M87 436.3h1M106.7 441.4h1M69.7 433.2h1M100 441.3h1M67.3 440.9h1M76.8 436.9h1M87.7 445h1M109.6 441.1h1M108.2 440.1h1M70.2 440.2h1M88.1 439h1M120.3 441h1M75.3 444.1h1M117.8 440.2h1M84.4 440.2h1M83.5 435.6h1M98.8 436.4h1M67 450.1h1M67.6 439.7h1M59.5 438.2h1M86.4 440.3h1M72.7 444.4h1M84.6 429.3h1M96 433.8h1M71.5 438.3h1M78.6 442.7h1M92.2 440.4h1M118.3 436.5h1M120.7 435.9h1M85.3 441.9h1M100.4 433h1M98.3 429.7h1M59.3 433.3h1M74.9 439.5h1M89.7 445.4h1M76.6 435.2h1M116.9 437.6h1M92.9 433.6h1M92.4 439.6h1M61.6 438.4h1M60.3 442.7h1M75.5 435.5h1M110.5 436.3h1M61.3 441.2h1M82.4 436h1M94.6 436h1M73.7 443.9h1M70.3 437.3h1M76.9 443.3h1M64.5 433.3h1M107 433.5h1M103.8 430.6h1M79.5 437.9h1M60.8 435.8h1M66.4 435h1M96.9 446.1h1M72.5 440.8h1M87.1 443.8h1M108.7 440.8h1M98 438.5h1M76 440.7h1M83.9 431.8h1M89 439.6h1M86.2 441.8h1M85.2 438.2h1M87.5 440.9h1M91.2 441.2h1M114.4 434.3h1M78 437.4h1M96.3 426.1h1M119.7 441.9h1M122.9 444.7h1M90 440.7h1M95.8 447h1M136.6 441.4h1M94.8 444.6h1M93.5 439.1h1M69.2 431.3h1M95.6 438.7h1M87.9 444.2h1M68.4 436.3h1M83.4 434.8h1M129.3 434.6h1M87.2 446.9h1M80.2 437.5h1M112.1 435.3h1M92.1 436.4h1M99.3 440.6h1M98.6 437.6h1M83.7 441.7h1M100.9 437.7h1M70.3 438.3h1M96 440.5h1M75.5 446.4h1M123 435.7h1M107.7 432.2h1M117.4 446.4h1M101.1 445.4h1M111.2 437.8h1M75.3 442.7h1M117.2 442.5h1M91.9 432.9h1M89.6 440.4h1M135.7 437.7h1M89.6 435.2h1M92.1 440.7h1M78 435.8h1M103.5 444.7h1M90.8 434.4h1M69.4 443.1h1M97.7 441.7h1M95.4 445.1h1M94.7 436.5h1M81.5 437.9h1M100.3 436.3h1M68.5 439.7h1M68 441.6h1M90.9 437.6h1M98 444.1h1M106.2 430.8h1M76.4 447.2h1M109.6 439.8h1M110.9 440.7h1M70.5 438.5h1M86.4 444.7h1M91.4 445.1h1M63 437.1h1M69.3 445.3h1M84.7 445.4h1M97.6 438h1M89.5 442.3h1M108.3 442.2h1M100.8 430.3h1M96.6 435.3h1M82.5 439.6h1M65 435.9h1M126.9 443h1M68.2 434.6h1M76.9 438.7h1M93.4 435.8h1M68.9 442.6h1M95 442.6h1M75.9 438.9h1M88.8 441.3h1M122.8 445.4h1M89.2 439.1h1M88.8 443.2h1M109.4 444.7h1M95.5 435.4h1M99.8 434.6h1M62.2 433h1M74.4 441.2h1M107.3 439.5h1M79.5 447.3h1M80.3 438h1M124.8 442.7h1M81.2 439.9h1M109.6 435.2h1M92.1 438.3h1M87.1 446.1h1M93.3 430.8h1M84 445.3h1M66.8 438.2h1M106.2 439.5h1M86.4 436.9h1M115.4 441.5h1M92.2 440.5h1M80.2 439.6h1M84.5 425.9h1M102 440h1M81.4 439.5h1M90.3 441.7h1M96.6 439.3h1M82.9 442.1h1M60.7 441.8h1M113.8 443.4h1M97.2 445.9h1M87 445.2h1M83.5 441.5h1M80 436.4h1M83.1 447h1M96.7 443.6h1M83.4 446.3h1M93.7 435.6h1M115.8 435.5h1M93 433.3h1M99.7 441.8h1M108.2 438.1h1M86.9 446.8h1M97.7 437.2h1M93.1 442h1M77.9 443.4h1M75.3 439.7h1M143.3 442.4h1M84.8 441.2h1M101.4 439.6h1M79.2 442.4h1M72.2 435.7h1M86.3 442h1M122.5 445.1h1M91.6 432.4h1M69.2 440.5h1M101.3 438.3h1M96.3 439.2h1M90.4 432.9h1M61.7 436.5h1M84.7 438.7h1M110.2 441.9h1M86.2 437.3h1M120.5 433.8h1M94.8 438.9h1M82.6 437.3h1M88.7 437.8h1M115.1 440.2h1M74.9 435.8h1M64.6 442h1M90.8 444.5h1M100 439h1M89.2 442.9h1M71.3 437.3h1M94.3 437.4h1M106.6 434.8h1M77.4 437h1M117.9 435.4h1M76.5 438.4h1M117.4 439.8h1M109.6 444.1h1M93.6 438.4h1M83.7 443.6h1M99 443h1M72.4 436.6h1M108.6 436.1h1M72.5 437.4h1M76.1 440.3h1M133.5 440.7h1M86.7 431.6h1M72.2 439.5h1M83.2 437.9h1M107.2 443.4h1M64.6 437.2h1M84.7 433.2h1M93.9 442.8h1M85.2 445.7h1M96.8 447.4h1M65.1 438h1M113.1 440h1M101.9 438.5h1M116 434.1h1M108.5 443.5h1M109 450.3h1M81.3 443.4h1M99.6 436.3h1M72 442.7h1M97.4 440.2h1M67.9 443.7h1M107.8 436.4h1M110.5 434.9h1M72.5 435.6h1M80.5 441.6h1M77.3 430.7h1M84.9 437h1M67 441.7h1M67.2 437.8h1M91.6 435.6h1M101.6 442.9h1M98.2 439.4h1M73.8 432.4h1M99.7 439.6h1M116.6 435.8h1M59.4 433.8h1M123.1 439.8h1M101.9 443h1M84.6 431.9h1M86 437.9h1M76 440.6h1M91.9 446.6h1M141 435.2h1M87.8 438.2h1M83.4 446.5h1M58.5 444.1h1M87.2 443.4h1M82.3 437.3h1M119.7 447.2h1M84.4 440.6h1M105.5 435.6h1M81.6 432.5h1M75.8 440h1M100.3 437.2h1M71.8 442.6h1M86.8 442.5h1M89.2 443.2h1M78.5 446.7h1M88.6 436.3h1M129.3 437.4h1M73.3 433.6h1M67 435h1M114.2 436.5h1M66.6 432.7h1M59.1 446.6h1M70.5 435.4h1M94.8 441.2h1M102.1 437.4h1M78 435h1M94.1 444.7h1M62 438.2h1M104.1 440.9h1M94.9 442h1M82.9 437.8h1M84 443.6h1M111.5 436.3h1M87.7 441.2h1M76.4 437.2h1M107.1 442h1M63 437.5h1M68.6 440.4h1M103.6 438.6h1M72 443.5h1M58.6 436.1h1M86.8 436.5h1M83.7 438.3h1M66.8 439.5h1M92 435.7h1M60.5 442.1h1M87.1 442.4h1M78.2 451.3h1M96.7 437.2h1M91.8 439.8h1M95.5 440.3h1M123.8 436.7h1M79.9 442.5h1M83.3 444.4h1M64.8 442.8h1M104.8 439.8h1M111.5 439.6h1M79.3 445.1h1M91.6 449.1h1M112.2 445.3h1M86.7 440.1h1M117.2 443.2h1M112.3 438.8h1M84.1 446.3h1M77 435.6h1M74.5 433.5h1M67 447.4h1M122.3 439.2h1M79.7 448.2h1M71.8 440.3h1M63.7 433.7h1M74.7 442h1M100.7 439.3h1M93.7 442.8h1M91.6 439.5h1M97.1 438.8h1M99.7 434.8h1M111.2 444h1M95.7 440.5h1M133.4 445.2h1M73.2 439h1M109 443.8h1M71.8 444.1h1M76.8 437h1M120.4 438.8h1M105.2 445.7h1M73.9 431.3h1M96.7 441h1M75.6 431.5h1M74.4 445.3h1M101.6 422.9h1M103.2 432.1h1M98.9 438.8h1M101.5 439h1M59.4 450.3h1M91 440h1M62.2 452.9h1M100.3 432.5h1M97.7 438.6h1M90.4 433.8h1M99.7 420.1h1M95.7 439.4h1M104.9 433.1h1M90.1 432.5h1M98.5 430.1h1M96.7 433.8h1M73.6 425.3h1M72.4 439.6h1M90.4 416.5h1M78.3 422.2h1M82.1 441.5h1M96 435.2h1M99.8 425.5h1M84.4 435.7h1M87.7 425.7h1M70.7 441.1h1M95.5 451.7h1M98.2 440.8h1M80.8 429.5h1M95 442.7h1M80.4 448.9h1M65.9 429.1h1M99.9 444.5h1M96.9 434.6h1M65.9 441.4h1M88.6 443.8h1M69 430.1h1M92.5 426.6h1M83.1 450.5h1M68.3 440.7h1M81 443.4h1M70.3 435.6h1M65.2 442.6h1M88.2 442.9h1M98.8 436.7h1M63.1 434.4h1M88.6 451.4h1M83.7 435.9h1M62.3 432.1h1M66.8 439.2h1M60 434.2h1M99.3 423.3h1M76.9 415.6h1M76 423.6h1M66.4 447.2h1M74.5 435.7h1M77.4 411.1h1M98.9 431.9h1M95.2 448.8h1M79.6 424.8h1M98.1 445.8h1M59.3 427.9h1M109.4 433.1h1M91.6 433.8h1M69.3 443.9h1M96.5 434.8h1M74.7 429.3h1M125.4 445.1h1M104.3 439.1h1M60.2 425.7h1M82.9 429.7h1M72.2 433.3h1M92.5 434.8h1M78.5 435.6h1M79.1 439.7h1M86 436.8h1M116.7 446.5h1M86.2 429.9h1M107.8 440.1h1M76.9 448.7h1M87.7 443.4h1M72.2 443.2h1M82.3 435.4h1M74.7 428.9h1M85.9 423.4h1M86.4 430.9h1M102.8 448.9h1M63.8 428h1M78.6 441.8h1M92.2 439.2h1M83.2 453.8h1M96.2 429.2h1M89.2 449.4h1M79 425.8h1M91.5 443h1M123.1 450h1M88.4 432.9h1M97.8 440.6h1M91.6 446.3h1M82.3 431h1M78.2 429h1M107.4 437.4h1M75.5 428.9h1M94.4 452.4h1M64.4 437.9h1M75 447.4h1M88.7 438.2h1M89 456.2h1M105.2 449.3h1M69.2 438.3h1M97.9 420.1h1M100.9 429.2h1M93 444.9h1M74.4 444.6h1M70.5 431.1h1M85.4 446.2h1M70.3 427.9h1M92.8 430.2h1M68.3 421.3h1M82.7 432.2h1M91.2 431.6h1M86.3 442.5h1M97.6 445h1M82 434.9h1M104.8 446.4h1M69.2 448.5h1M97.3 418.9h1M81.5 434.5h1M121.7 452.6h1M63.4 444.1h1M86.9 440.3h1M73.7 432.3h1M74.3 442.1h1M67.6 448.9h1M98.1 436.8h1M65.4 446.2h1M79.7 424.6h1M76 435h1M75.6 429.8h1M79.4 436.3h1M84.5 426.3h1M87.2 437.3h1M61 442.5h1M83.2 433h1M83.3 454.2h1M62.4 438.7h1M64.7 442.3h1M102.1 440.1h1M64.7 448.8h1M85.6 433.6h1M71.2 435.4h1M94.6 441.8h1M84.5 439.6h1M59.3 423.5h1M75 444h1M91.8 434.2h1M60.8 437.4h1M93.4 434.2h1M79.3 432.7h1M102.3 439.4h1M110.4 427.4h1M61.4 426h1M96.6 436h1M87.3 447.5h1M63.7 434.6h1M101.8 435.5h1M62.4 436.1h1M85.2 438.3h1M78.7 434h1M82 440.4h1M85.2 438.4h1M88.8 441h1M64.6 444.1h1M74.4 447.7h1M94.1 436.7h1M94.5 439.1h1M92.7 440.4h1M102.3 433h1M66.2 432.6h1M74.7 436.6h1M79.1 441.2h1M89.7 437.4h1M92.1 417.3h1M99.7 427.8h1M87.9 439.1h1M84.4 434.1h1M64.7 437.7h1M83.8 433.5h1M64.1 446.7h1M64.8 441.6h1M73 444.3h1M89.5 427.7h1M107.6 447.1h1M64.2 432.1h1M64.8 454h1M113.1 434.4h1M128.7 436.5h1M83.7 422.1h1M99.4 439.8h1M100.7 430.2h1M95.9 432.2h1M73.1 444.6h1M93 456.7h1M78.7 433.1h1M73.8 427.2h1M106.5 419.3h1M78.8 432.3h1M79.9 440.8h1M74.5 426.2h1M95.4 429.3h1M75.8 449.6h1M81.2 447.3h1M84 447.8h1M85 428.9h1M84.1 431.2h1M86.3 428.5h1M83.7 434.9h1M63.4 435.3h1M100.3 441.6h1M75.7 443.6h1M79.3 442.6h1M64.3 444.8h1M73.4 446.1h1M72.4 435.2h1M82.8 435.4h1M69.6 432h1M80.7 455.8h1M99.8 430.6h1M106.3 430.9h1M66.2 434.7h1M59.7 437.8h1M101.8 436.9h1M79.2 438.4h1M105 432.2h1M97.3 449.5h1M117.3 426.6h1M87.4 429.2h1M76.5 447.4h1M69.1 428.7h1M85.8 430.4h1M74.4 444.4h1M62.6 453.4h1M91.4 432.2h1M81.7 430h1M71 438.4h1M92.7 429h1M84.4 431.1h1M70 435.7h1M75.2 451.6h1M69.9 445h1M97.2 447.4h1M105.4 446.1h1M60.1 435.7h1M93.3 428.5h1M89.9 443.9h1M81.7 430.6h1M102.8 449.5h1M114.3 435.3h1M84.6 442.1h1M92.4 440.9h1M79 442.6h1M59.7 433.8h1M78.5 440.9h1M82.7 441.9h1M95.5 425.2h1M112.4 440.5h1M72 441.1h1M89.3 447.2h1M85.9 442.1h1M80 429.9h1M103.9 435.6h1M70.6 445.1h1M90.5 445.1h1M108 433.5h1M93.1 442.2h1M78.6 432.1h1M95.1 442.5h1M82.7 442.5h1M72.8 437.2h1M73.9 441h1M68.4 450.8h1M99.9 442.1h1M72.6 440h1M94.2 437.4h1M92.8 435.3h1M104.1 428.1h1M116.1 429.4h1M75.4 425.6h1M61.5 436h1M83.1 430h1M111.7 424.1h1M93.6 447.7h1M80.3 436.3h1M114.3 446.3h1M86.2 449.7h1M82.9 451.1h1M122 437.7h1M70.7 418h1M81.6 442.1h1M102.2 437.6h1M81.4 425.3h1M84.1 416.8h1M86.6 447.3h1M73.9 447.3h1M73.8 449.2h1M110.3 450.6h1M87.5 448.6h1M86.5 441.6h1M67.2 446.9h1M68.6 443h1M112.3 439.7h1M98.1 443.8h1M89.5 434.2h1M83.5 431.6h1M62.3 455.3h1M77.2 457.6h1M91.5 449.2h1M93.4 431.9h1M74 447h1M75.2 442.8h1M91.7 437.4h1M66.6 453.6h1M80.6 439.3h1M62.6 438.8h1M85 433.2h1M88.9 446.8h1M84.9 424.3h1M78 439h1M71.3 452.3h1M77.9 444.2h1M76.6 428.7h1M74.2 445.6h1M94.7 445.3h1M72.9 439.5h1M79.4 433.8h1M87.1 428.1h1M95.9 435.8h1M100.7 440.4h1M100.9 443.1h1M89.2 440.1h1M92.6 424.1h1M95.1 428.4h1M69 433.4h1M83.2 437.4h1M118 437.5h1M122.1 447.7h1M114.2 432.9h1M70.3 434.8h1M75.8 431.5h1M95.7 425.9h1M92.1 427.3h1M62.3 442h1M94.7 431.6h1M88.8 443.9h1M71.2 434.3h1M91.8 439h1M100.2 439.4h1M88.6 432.7h1M81.7 441.2h1M62.8 426.9h1M92.7 435.2h1M78.3 451h1M82 443.7h1M60 424.1h1M87.7 431.2h1M75.5 439.8h1M108.1 429.5h1M98.3 432.7h1M94 426.9h1M86.1 444.4h1M91.9 435.1h1M81.5 437.8h1M87.1 427.4h1M111.4 435h1M118.3 453h1M116.6 444.8h1M72 438.6h1M63.7 431.1h1M79.2 436h1M97.8 439.1h1M90.5 455h1M88.6 440.2h1M112.1 436.5h1M66.2 436.9h1M98.5 429.2h1M81.4 440.5h1M77.9 429.6h1M96.3 432.1h1M68.3 434.7h1M85.7 457h1M69 453.3h1M64.8 436.7h1M104.5 445.6h1M76.8 440.1h1M111.3 443.9h1M66.4 437.9h1M75.9 445.1h1M77.3 453.2h1M90.9 438.2h1M73.3 438.8h1M60.5 429.6h1M84.1 443.9h1M84.2 431.7h1M109.6 432.5h1M114.4 439.6h1M81.9 441.7h1M105.7 449h1M84.9 443.9h1M99.1 436.3h1M75.5 428.4h1M89.8 423.3h1M65.5 442.3h1M90.1 438.2h1M89.2 439.8h1M92.7 442.8h1M89.4 455.7h1M91.4 435.9h1M77.1 441.2h1M101.1 443.3h1M85.8 445.2h1M63.6 436.8h1M81.4 450.1h1M107.9 433.6h1M92.4 439.3h1M98.3 423.5h1M92.5 440.3h1M71.1 437.3h1M121.9 435.5h1M95.6 432.5h1M116.5 443.1h1M78.8 433.7h1M108.2 444.1h1M109.6 443.9h1M101.8 450.4h1M101.1 434.2h1M89.9 433.3h1M74.9 438.8h1M91 433.7h1M83.4 439.1h1M95.6 432.6h1M98.1 439.6h1M72.5 448.2h1M74.5 439.5h1M115.7 442.6h1M63.9 445.6h1M90.1 445.8h1M67.1 442.1h1M87.6 425.1h1M95.3 429h1M67.4 451.1h1M88.1 432.1h1M89.4 437.4h1M67.4 447.7h1M115 431h1M83.4 420.7h1M116.7 431h1M76.5 443.9h1M90.2 449.2h1M88.9 422.1h1M69.5 422.7h1M83.1 436.9h1M95.8 422.6h1M100.9 446.5h1M81.4 420.9h1M75.8 438.5h1M85.7 429.4h1M115.7 443.3h1M102.9 455.7h1M86.2 438.9h1M66.2 416.6h1M86.3 432.2h1M78.2 431.2h1M73.8 438.5h1M112.9 434.3h1M64.4 432h1M85.6 425.8h1M81.4 424.2h1M88.4 426.9h1M62 436.6h1M73.9 443.3h1M69.8 439.7h1M107.9 433.3h1M69.6 441.1h1M58.8 446.9h1M97.9 426.8h1M92.1 423.7h1M67.9 432.5h1M79.2 449.7h1M61.4 432.8h1M91.5 441.1h1M88.1 441h1M114.5 448.7h1M70 449.4h1M91.6 426.8h1M129.8 421h1M95.5 431.5h1M87.8 443.4h1M108.4 445.4h1M113.9 432.9h1M82.2 454.7h1M101.3 437.2h1M119.6 450.2h1M81.2 437.7h1M77.5 426.2h1M100.6 433.8h1M94.3 446.1h1M97.5 447.5h1M87.1 439.7h1M79.6 456.8h1M81.6 441.1h1M86.9 444.6h1M95.4 436.5h1M121.9 429h1M75 440.1h1M63.6 438.1h1M111.8 435.4h1M98.4 441.9h1M94.4 436.7h1M68 448.4h1M63 446.9h1M100.3 435.3h1M104.2 452.1h1M77 439.1h1M100 426.2h1M100.3 428.5h1M88.6 435.6h1M71.6 444.4h1M77.3 434.5h1M65 449.3h1M89.6 440.8h1M96.2 432.2h1M73.7 450.7h1M82 424.2h1M116.9 446.9h1M89.5 436h1M104.2 440.6h1M111.8 441.8h1M64.9 434.2h1M101.8 432.1h1M58.6 455.4h1M95.3 444.5h1M67 442.9h1M102.3 452.4h1M65.2 433.6h1M72.3 447.4h1M101.9 438h1M77.1 425.7h1M79.4 433.4h1M104.9 440.8h1M98.2 431.9h1M77.3 431h1M96.4 445.3h1M99.4 440.5h1M83.1 435.2h1M93.9 425.7h1M93.2 444.5h1M92 449.1h1M100.8 440.5h1M112.9 444.9h1M84.7 438h1M116.7 449.6h1M98.2 448.5h1M77.1 442.1h1M83.6 447.9h1M103.7 438.9h1M103.3 452.6h1M121 449.1h1M82.1 438.4h1M79.6 450.2h1M61.9 442.1h1M66.5 438.1h1M71.9 441.6h1M96.9 435.4h1M72.9 444.7h1M96.9 438.9h1M74.9 440.2h1M77.5 456.9h1M108 418.7h1M98.6 436.2h1M81.1 450.9h1M109.1 432.8h1M66.9 428.6h1M89.2 450.9h1M63.6 454.1h1M103.1 436.2h1M95.7 441.9h1M79.6 436.3h1M78.7 431.7h1M108.2 444.5h1M87.3 445.2h1M71.3 439.9h1M108.5 440.9h1M112.6 434.5h1M105.1 434.7h1M98.4 441.3h1M88.5 439.8h1M81.7 427.6h1M70.3 445.9h1M97.5 435.6h1M83.3 436.5h1M96.2 429.6h1M86.3 432.9h1M87.1 426.4h1M101.9 437.9h1M88.4 432.2h1M134.5 435.2h1M109.8 448.8h1M80.7 432.9h1M87.9 446.5h1M109.6 431.5h1M126.9 438.5h1M60.8 424.8h1M84.3 439.6h1M91.6 412h1M81.9 430.9h1M89.7 441.8h1M103.7 440.1h1M64.3 433h1M74.8 436.8h1M90.2 443.1h1M76.3 441.2h1M76.4 424.5h1M62.1 444.7h1M83.5 439.4h1M115.1 439.6h1M115.9 435.8h1M131.6 448.7h1M103.6 444.3h1M82.1 442.4h1M92.2 434.8h1M75.1 437.5h1M77.9 446.5h1M61.3 438h1M64.1 430.9h1M100.1 442.7h1M75.5 444.2h1M81.5 427.5h1M93.4 443.7h1M107 433.3h1M65.3 438.5h1M119.4 440h1M84.2 450.5h1M78.6 441.2h1M92.7 447.9h1M76.5 441.3h1M86.7 433.5h1M78.1 449.9h1M72.3 439h1M93.6 433.9h1M86.4 447.3h1M76.1 445.5h1M74.4 442.9h1M81.7 441.8h1M73 441.6h1M107.1 441.6h1M96.8 438.7h1M65.7 435.7h1M77.7 442h1M64 435.5h1M94.7 451.2h1M94.4 439.3h1M82.5 438.4h1M86 423.9h1M92.9 435.6h1M88.1 437.8h1M109.4 423.7h1M84.4 433.3h1M103.1 432.1h1M119.3 437.7h1M63.4 445.3h1M70.7 423.6h1M61 442.4h1M75.7 447.8h1M83.9 447.6h1M92 437.9h1M84.1 443.7h1M78.8 439.6h1M104.7 444.1h1M66.8 444.7h1M91.1 437.1h1M110.7 426.8h1M94.2 432.6h1M91.8 426.2h1M62.6 441.3h1M67.1 435.3h1M112.3 421h1M87.4 442.4h1M92.7 426.1h1M93 423.2h1M113.5 446.7h1M79.7 436h1M94.5 431.8h1M67.3 437.7h1M110.7 449.6h1M78.4 437.2h1M63 449h1M75.6 443.5h1M66 444.9h1M80.9 428.9h1M76 426.7h1M82.4 432.3h1M77.8 447.1h1M66.9 432h1M102.1 435.3h1M59.4 430.2h1M68.9 438.3h1M72.8 433.1h1M94.1 443.3h1M87.3 431.3h1M73.5 437.5h1M75.1 445.2h1M103.6 430h1M109.9 428.4h1M83.4 428.8h1M70.3 422.7h1M90 446.2h1M115 438.5h1M74.1 445.1h1M91.6 433.8h1M66.2 438.3h1M83.3 446.2h1M99 440.8h1M90.5 449.4h1M69.7 436.5h1M78.7 421h1M77.7 427.5h1M94.1 429.7h1M64.4 436.1h1M82.2 430.6h1M104.4 428.1h1M106 433h1M91.1 425.6h1M107.4 437.8h1M93.7 436.7h1M96.8 442.4h1M118 449.6h1M148.2 444h1M138.2 445.1h1M136.7 438.7h1M138 441.3h1M126.8 439.7h1M184.3 441.7h1M97.9 440.7h1M162 446.2h1M161.9 438.4h1M157.1 441.7h1M148.9 444.2h1M169.3 445.2h1M186.6 434h1M143.6 446.2h1M156.2 444.6h1M183 443.4h1M98.2 438h1M176.7 433h1M128.7 440.5h1M142.3 441.6h1M178.5 433.7h1M171.1 439.2h1M154.1 439.2h1M142 439.9h1M135.5 445.2h1M154.7 433.4h1M171.6 439.1h1M180.6 437.4h1M160.1 443.2h1M157.2 446.1h1M181.4 446.4h1M140.8 439.3h1M150.5 449.1h1M159.1 441.4h1M145.7 449.5h1M174.4 435.7h1M146.7 436.5h1M145 439.6h1M133.3 432.4h1M174.9 440.5h1M161.3 431.5h1M132.7 437.4h1M163.3 441.5h1M121.8 435h1M121.8 439.8h1M161.6 438.3h1M95 437.7h1M101.6 442.6h1M133.4 436h1M133.2 444.1h1M158.1 434.6h1M100 441.9h1M161 438.3h1M135.8 440.3h1M146.9 436.1h1M122.6 438.3h1M124.3 438.7h1M159.5 439.5h1M148.6 446.8h1M185.2 435h1M68.3 444.3h1M149.9 443.3h1M172 433.7h1M133.5 446.5h1M137.4 440.2h1M169.8 441h1M141.3 438.6h1M142.8 439h1M119.5 439.9h1M144.1 441.4h1M142.5 445.4h1M152.1 443.2h1M176 442.1h1M141.8 439.9h1M88.7 436.1h1M114 437.9h1M172.2 443.7h1M129 441.8h1M139.9 437.5h1M173.8 440h1M100.1 442.6h1M162.3 445.6h1M148 440.7h1M101.7 435.5h1M115.8 439.6h1M178.8 439h1M97.7 442.8h1M160.6 439.2h1M148.2 440h1M91 437.5h1M150.4 436.5h1M177.9 434.2h1M163.1 442.4h1M163.5 440.4h1M158.3 439.2h1M163.8 442h1M175.3 441.6h1M131 438.8h1M146.7 432.4h1M176 446.5h1M137.6 435.8h1M104.6 445.1h1M154.3 437.3h1M134 438.1h1M183.7 436.2h1M188.9 432.6h1M183.9 445.3h1M191.9 433.6h1M185 438.5h1M147.4 438h1M122.1 439.7h1M168.4 444.7h1M166.9 440.3h1M177.8 440.9h1M164.9 439.4h1M120.3 437.2h1M156.8 445h1M185.4 440.5h1M149.2 439h1M150.8 439.6h1M125 438.5h1M114.1 441.9h1M132.1 440.6h1M113.5 438.7h1M180.2 437.8h1M114 436h1M172.7 440.6h1M161.3 440.6h1M137.8 437.2h1M153.4 446h1M148.3 437.5h1M167.5 443.3h1M136.2 435.4h1M148.9 441.7h1M88.1 439.5h1M147.8 433.2h1M166.4 444.7h1M103 433.1h1M145.7 441.4h1M93.9 439.5h1M169.2 443.8h1M143.6 443.6h1M162.2 441h1M102.8 428.1h1M155.9 435.6h1M156.4 449.9h1M116.4 442.9h1M175.8 436.5h1M141.9 445.2h1M130.1 439.6h1M165 441.9h1M143.1 447.6h1M123.3 437h1M151.2 441.3h1M122.7 434.4h1M148.4 443.2h1M117.3 438.6h1M118.9 431.1h1M163.6 443.9h1M133.9 447.6h1M136.1 441.3h1M137.5 434.4h1M177.1 445.2h1M163.5 440.4h1M178.1 435.5h1M166.4 439.1h1M129.1 438h1M123.6 445h1M152.6 443.4h1M144.5 435.9h1M177.4 441.5h1M140.5 444.3h1M107.2 438h1M143.7 439.6h1M110.9 442.5h1M146.4 434.2h1M173.5 438.7h1M159.7 438.7h1M141.6 440.5h1M162 442.5h1M143.5 444.4h1M105.6 444.4h1M159.1 450.2h1M93.3 438.1h1M184.9 437.7h1M128.9 437.5h1M143.7 442.3h1M165.2 437.7h1M184.5 438.3h1M144.4 439.2h1M140.3 439.7h1M158.5 447.9h1M190.3 440h1M139.1 438.8h1M156 437h1M137.6 436.7h1M146.9 440.4h1M135.6 442.4h1M159.4 438.4h1M144.1 437.9h1M129.6 443.8h1M159.3 433.6h1M135.1 435h1M150 440.1h1M178.5 447.9h1M177.2 438.5h1M153.4 446.1h1M154.9 439.6h1M151.1 431.7h1M66.3 446.2h1M137.5 443.3h1M143.2 437.6h1M173.8 438.3h1M186.5 445.2h1M140.3 440.3h1M129.4 444.2h1M115.6 443.2h1M163.8 439h1M168.7 439h1M135.1 443.4h1M181.5 448.5h1M180 441h1M147.8 434.8h1M142.9 441.2h1M140.5 435h1M154.9 440.1h1M92.4 441.6h1M103.9 438.4h1M145.7 437.9h1M159.8 437.9h1M180.3 441.8h1M88.3 442.4h1M101 438.7h1M164.1 433.7h1M157.7 431.9h1M114.3 438.9h1M159.7 443h1M145.1 433h1M145.6 440.8h1M156.5 441h1M117.6 443h1M120.9 443.7h1M103.5 440.2h1M166.9 446.4h1M165 440.8h1M124.5 435h1M121.4 439h1M151.4 440.3h1M126.7 444h1M161.3 440.8h1M170.1 441h1M117.4 435.5h1M154.1 438.8h1M136.7 442.1h1M174.7 433.1h1M100.4 442.8h1M182 442.5h1M145.6 437.9h1M153.8 441.9h1M137.4 443.4h1M96.1 443.2h1M157.9 444.1h1M178.6 437.3h1M174.5 438.4h1M149.7 436h1M115.1 432.7h1M110.6 442.8h1M172.9 441.3h1M148.5 434.8h1M158.5 442.7h1M139.5 442h1M130.4 438.6h1M162.9 426.2h1M116.6 439.2h1M176.3 438.4h1M160.8 443.5h1M172 439.6h1M166.8 437.5h1M186.6 442.6h1M149.3 443.3h1M171.3 445h1M165 443.5h1M163.5 434.2h1M152.1 439.1h1M116.3 442h1M180 434.2h1M163.1 436.2h1M181.5 441.7h1M144 435.7h1M114.2 444.3h1M153.1 444.8h1M127.5 439.8h1M165.5 442.6h1M126.9 436h1M174.4 437.3h1M171.9 441.4h1M147.1 440.5h1M167.1 442.8h1M117.3 442h1M174.6 441.3h1M150.6 431.3h1M128.7 446.4h1M158.5 436.9h1M146 444h1M159.3 436.1h1M174.9 443.2h1M163.7 443.7h1M149.9 438.4h1M148.5 438.4h1M151.2 435.2h1M178.1 438.1h1M110.8 439.3h1M168.4 437.1h1M161.2 435.5h1M103.6 431.2h1M138 437.9h1M152.8 440.2h1M158.4 436.2h1M136.8 434.4h1M162.8 439.6h1M166.2 439.7h1M164.6 445.7h1M160.4 441h1M117.2 441.2h1M183 440h1M130.5 442.4h1M169.2 429.7h1M149 438.5h1M154.2 443.3h1M159.4 435.5h1M186.1 433.6h1M175 442.4h1M159 435.6h1M125.9 437.4h1M158.7 441.1h1M176.2 445.2h1M159 435.1h1M146.5 443.1h1M123.4 439.8h1M155.1 441.5h1M155.4 438h1M154.5 439h1M141.4 448.1h1M134.9 441.5h1M127.6 444.4h1M141.4 432.6h1M116.1 445.8h1M146.2 441.5h1M162.9 440.5h1M142.9 436.9h1M179.8 438.2h1M138.2 437h1M128.6 434.1h1M143.9 437.1h1M149 438h1M188.4 441.5h1M181.7 442.2h1M154.8 446.1h1M160.7 437.8h1M155.5 435.3h1M156.3 438.4h1M141.2 436.6h1M178.6 436.9h1M159.2 436h1M163.3 441.4h1M146.3 443.5h1M125.5 442.2h1M181.9 431.8h1M162.1 432.5h1M137.3 444.1h1M158.1 434.3h1M106.1 443.3h1M151.6 436.3h1M181.2 438.6h1M165.5 449.7h1M144.9 442.3h1M149.7 438.3h1M144.1 447.5h1M148.1 438.3h1M149.8 437.4h1M115.7 441.9h1M128.6 445.5h1M153.6 442.6h1M155.4 446.6h1M175.2 445.1h1M163.9 445.1h1M157.4 441.2h1M121.2 438.8h1M173.1 437.3h1M111.3 439.6h1M139.4 437.7h1M157 439h1M130.3 433.3h1M181.3 432.7h1M184.2 450.3h1M125.5 446.2h1M126.4 440.4h1M160.9 443.7h1M152.8 443h1M173.6 435.4h1M116.8 442.1h1M123.3 435.7h1M130.5 442.6h1M118.6 439.2h1M120.7 448.5h1M164.7 441.9h1M179.2 436.4h1M171.6 440h1M154.1 432.9h1M137.6 440.8h1M179.1 439.3h1M108.8 441.4h1M189.1 440.6h1M169.8 435.8h1M131.9 444.2h1M121 439.1h1M153.7 440.1h1M145.2 444.4h1M169.1 434.7h1M150.8 440.3h1M120.6 442.8h1M156.2 434.5h1M140.3 446.4h1M183 442.6h1M183.5 436.6h1M164.7 445.8h1M182.1 438.8h1M153.9 437.7h1M149.4 436.1h1M106.5 439.4h1M180.7 440.9h1M189.7 439h1M136.4 439.9h1M183.3 439.1h1M157.7 442.3h1M168.5 441.4h1M141.5 436.1h1M144.9 437.9h1M186.6 436h1M134.7 440.6h1M123.8 445.3h1M129.1 439.8h1M118.9 446.1h1M167.8 433.7h1M99.9 436h1M136 439h1M172.2 439.4h1M169 438.9h1M152.1 437.6h1M186.2 454.6h1M179.2 434h1M146.6 441.1h1M104.4 436.7h1M148.8 440.7h1M174 440.1h1M170.1 441h1M178.4 438.5h1M169.6 440.2h1M98.6 438.4h1M121.9 439.9h1M180.2 439.9h1M183.5 445.1h1M184.8 443.5h1M149.8 431.8h1M182.6 438.5h1M134.5 433.9h1M172.5 445.6h1M154.7 438.2h1M118.7 448.1h1M106.6 439.7h1M123.1 436.5h1M167.6 443.8h1M159.6 429.5h1M150.2 444.3h1M151.7 443.6h1M156.8 439.6h1M145.1 435.2h1M128.2 439.2h1M149.2 431.6h1M128.6 439.5h1M176.2 442.4h1M162.4 435h1M161.5 435.2h1M178.7 445.1h1M122.3 439.3h1M132.4 438.3h1M145.9 440.9h1M125 433.8h1M157 439.7h1M123.7 441.4h1M123.6 445.7h1M126.7 442h1M182.6 433.7h1M181.8 444h1M184.6 436.4h1M169.8 439.2h1M167.3 443.7h1M146.2 443.1h1M147.9 437.3h1M156.6 434h1M180.6 444.2h1M101.7 440.3h1M182.5 441.1h1M181.3 441.9h1M154.2 440.2h1M173.9 440.1h1M161 444.4h1M159.5 443h1M177 437.1h1M131.1 441.1h1M102.1 439.5h1M136.3 442.4h1M155.7 439.9h1M136.6 436.4h1M107.1 445.4h1M182.1 438.9h1M84.2 446.1h1M176.8 441.3h1M149.3 443.5h1M162.4 440h1M169.2 434.8h1M117.9 439.7h1M135.7 439.7h1M86.5 438.9h1M96.6 432.5h1M159.8 441.2h1M161.6 437.6h1M136.5 442.9h1M176.7 443.4h1M168.2 436.6h1M184.9 436.7h1M175 442.4h1M159.6 442.2h1M111.1 439.5h1M141.4 446.6h1M143.3 440.4h1M142 438.2h1M166.8 435.8h1M158.2 443h1M136.5 438.3h1M175 441.7h1M158.2 443.4h1M135.2 438.6h1M164.7 443.6h1M144.2 444.5h1M170.6 439.9h1M113 434.2h1M159.5 435.8h1M147 436h1M165 438.1h1M155 438.5h1M135.1 443.7h1M180.1 447.6h1M164.8 439h1M187.1 441.7h1M127.5 436.2h1M177.8 442.3h1M169.5 442.1h1M159.4 441.6h1M127.7 442.2h1M169 445.9h1M115.5 438.8h1M165.6 438.7h1M174.4 439.2h1M145 444.7h1M159.6 436.4h1M141.9 441.6h1M141.6 437.6h1M184.5 439h1M106.3 445.9h1M118.4 440.8h1M140.7 436.9h1M86.5 442.5h1M133 441.9h1M135.4 444h1M175.6 439.3h1M188.3 440.7h1M149.2 436.4h1M180.7 442.1h1M80.8 435.1h1M137.7 441h1M134.3 444.5h1M167.3 443.6h1M150.4 434h1M145.3 440.5h1M151.4 440.1h1M114.5 442.3h1M120.7 442.3h1M157.1 435.8h1M180.5 444.9h1M117.5 436.3h1M146.1 437.9h1M135.7 433.3h1M133.5 439.7h1M156.6 441h1M158.8 447.3h1M137.5 437.5h1M134.2 438h1M173.9 439.1h1M149.7 444.2h1M147.1 439.6h1M159.2 436.2h1M143.5 442.3h1M165.5 438.6h1M177.7 437.3h1M177.6 439.2h1M158.4 439h1M119.1 440.4h1M160.1 443.4h1M155.2 449.3h1M155.4 441h1M125 442.6h1M137.6 445.3h1M146.7 437.3h1M127.7 440.7h1M170.4 440.6h1M138.9 447.9h1M117.7 443.4h1M121.1 436.1h1M149 431.3h1M79.6 441h1M178.8 436.3h1M159.7 435.3h1M128.9 439.1h1M128.4 437.5h1M140.8 446.8h1M167.5 443.1h1M179 432.6h1M185.7 444.6h1M124.9 436h1M108 439.8h1M146.8 439.2h1M119.3 443.7h1M165.1 438.6h1M151.6 442.8h1M157 439.5h1M143.4 441.2h1M127.5 445.7h1M168.1 446.9h1M129.2 437.4h1M160 440.5h1M113.7 441.8h1M127.9 438.7h1M136.9 448.1h1M182.6 438.2h1M160.5 441.5h1M183 443.4h1M160.7 436.8h1M113.1 440.7h1M149.5 443.9h1M168.6 435.9h1M187.1 438.9h1M138.5 436.7h1M129.2 436.2h1M150.7 439.6h1M132.4 435.5h1M118.5 440.2h1M114 443.4h1M134.8 440.1h1M173.3 443.3h1M165.9 442.7h1M160.8 438.5h1M166.2 437.5h1M139.8 440.6h1M187.8 438.9h1M122.2 437.9h1M135.5 434.7h1M152.6 446.3h1M100.6 443.2h1M154.9 450h1M154 442.4h1M176.3 442.5h1M134.7 430.7h1M149.9 438.5h1M129.1 445.6h1M136.2 441.2h1M93.2 443.7h1M184.7 441.2h1M184.5 441.9h1M161.3 438.7h1M163.5 438.3h1M159.6 433.8h1M168.8 433.2h1M177.7 444.6h1M187.3 437.2h1M147.7 437.6h1M152.2 441.9h1M182 443.3h1M161.2 441.1h1M175.2 442.7h1M166.3 441.8h1M175 436.7h1M139.7 448.4h1M147.3 444.1h1M147.4 436.3h1M151.4 437.8h1M186.1 435.1h1M156.8 441.4h1M172.6 438.2h1M169.4 431.3h1M177.8 447.6h1M152.7 440h1M130.4 444.5h1M134 439.7h1M152.3 443.1h1M182.3 437.5h1M136.7 443.9h1M161.1 435.1h1M148.3 448h1M120.2 441.6h1M115.5 443.1h1M121.2 443.5h1M144.4 440h1M166.1 440h1M141.3 438.1h1M146.7 440.8h1M143.5 441.8h1M124.8 438.3h1M155 437.4h1M164.1 443.6h1M177.7 433.6h1M158.5 447h1M154.7 438h1M152.3 441.4h1M184 443.9h1M128.7 449h1M119.5 437.5h1M121.8 434.1h1M136.6 438.3h1M185.3 432.7h1M165.6 434.9h1M176.8 432.2h1M173.4 442.3h1M151.1 439.4h1M126.2 442.6h1M154.4 441.7h1M145.6 434.5h1M129.8 442.6h1M144 437.6h1M162.1 434.8h1M168 438.3h1M190 434.9h1M124 436.6h1M141.3 433.1h1M172.6 436.8h1M153.6 439h1M176.6 437.8h1M110.6 443.2h1M168.5 438.1h1M151.2 438.1h1M155.3 443.2h1M174.5 442.5h1M146.6 440.8h1M116.5 439.4h1M139.8 436.8h1M123.2 434.1h1M103.3 444h1M164.9 444.4h1M118 449h1M167.9 440.2h1M133.2 440.9h1M109.3 440.6h1M139.3 441.6h1M174.7 435h1M159.8 443.2h1M169.4 435h1M162.4 446.3h1M154.4 434.5h1M136.6 439.5h1M148.7 432.3h1M158.5 441.1h1M127 442.3h1M136.8 440.5h1M129.4 435.9h1M161.9 443.7h1M155 438.7h1M162.4 435.6h1M160.6 441.2h1M171.6 442.1h1M119 444h1M141.2 439.6h1M154.6 437.1h1M112.2 435.7h1M151.1 441.6h1M107.3 437.8h1M186.8 438.8h1M142.6 440.3h1M155.5 442.4h1M158.2 445.1h1M156.3 441.9h1M173.2 435.4h1M181 444.8h1M182.7 448.4h1M116.9 440.5h1M119.5 439.3h1M156.1 435.1h1M157.8 438.6h1M171.5 435.4h1M126.2 444.4h1M149.8 433h1M138 437.5h1M164.9 442.1h1M140.9 435.3h1M158.6 446.2h1M146.3 431.8h1M159.8 437.4h1M141.7 443.3h1M122.8 433.6h1M163.8 436.7h1M161.5 433.6h1M145.2 442h1M169.8 437.1h1M180.4 437.7h1M157.7 434.9h1M142.1 428.2h1M148.2 433h1M112.2 441.4h1M180.1 444.1h1M176.9 439.1h1M130.5 443.2h1M153.5 439h1M106.2 441.3h1M167.5 433h1M126.8 433.8h1M146.7 442.5h1M189.6 444.1h1M143.9 440.1h1M174.3 435.5h1M167.2 438.1h1M175.1 443.3h1M174.1 441.8h1M156.3 435.3h1M148.6 445.5h1M151 433.1h1M107.5 436.9h1M178.3 431.3h1M133.9 440.9h1M139.1 448h1M117.3 439.3h1M149.1 438.1h1M130.3 438.1h1M164.8 439h1M134.9 441.7h1M167.4 442.5h1M148.4 440.5h1M160.3 445.1h1M120.5 433h1M158.1 438.5h1M116.6 440.6h1M154.3 438.9h1M105.1 446.4h1M152.6 439.7h1M153 434.9h1M173.4 439.3h1M157 443.7h1M170.7 446.1h1M169.8 440.5h1M130.3 443.1h1M141.3 441h1M84 439.3h1M173.5 432.3h1M116.3 435.7h1M150.1 442.7h1M152 442.1h1M129.7 440.3h1M134.4 446h1M178.7 440.6h1M141.9 445h1M162.2 437.1h1M135.5 439.4h1M132.4 449.7h1M186.4 443.2h1M124.3 434.5h1M154.1 442.9h1M160.9 439.1h1M151.3 443.2h1M133.1 442.6h1M157.5 441.3h1M123.9 440.3h1M157 435.9h1M90.7 439.5h1M124.3 445.6h1M119.1 445.4h1M168.6 437.1h1M138.2 439.7h1M183.8 445.6h1M73.9 443.8h1M154.2 437.6h1M125.3 443.8h1M143.3 439.5h1M172.4 439.7h1M158.3 436.8h1M162.8 442.4h1M130.7 441.8h1M135.4 443.5h1M163.2 441.8h1M126.4 439.3h1M148.2 436.5h1M164.4 437h1M161.1 441.8h1M130.6 438.1h1M151 441.4h1M138.2 433.8h1M131.5 439.7h1M168.6 439.8h1M153.3 438.1h1M172 438.2h1M153.1 433.4h1M156.7 438.8h1M143.9 442.4h1M175.1 447.3h1M154.7 439h1M143.8 443.1h1M177.3 448h1M141.6 443.6h1M158.6 438.8h1M173.8 436.6h1M134.7 438.9h1M148.2 444.5h1M140.1 452.7h1M112.3 436.9h1M145.2 439.8h1M120.5 445.2h1M107.9 438.1h1M151.9 445.4h1M137.1 445.4h1M149.8 438.6h1M148.8 441.6h1M175.5 443.5h1M188 434.8h1M172.1 438.8h1M157.7 437.2h1M167.6 436.1h1M108.1 444.8h1M167 438.6h1M163 439.6h1M159.3 442.5h1M136.5 443.7h1M168.3 439.8h1M184.6 440.5h1M119.9 444.6h1M158.7 439.2h1M123.6 442.4h1M101.3 439.3h1M149 442.3h1M158.3 441h1M155.3 444.6h1M148.8 440.7h1M162 440.4h1M172.2 434.6h1M121.3 433.3h1M115.6 448.1h1M151.5 444h1M177.8 433.5h1M184 446.8h1M132.7 435.1h1M134.9 440.9h1M178.1 447.8h1M158.5 446.9h1M149.9 441.4h1M155.2 439.8h1M133 438.6h1M140.5 436.8h1M127.6 434.5h1M149 441.9h1M178.9 440h1M146.7 436.1h1M109.1 446h1M177.8 431.1h1M146.2 441h1M176.4 439.4h1M135.4 437.8h1M160.7 431h1M189.3 442h1M171.6 441.9h1M184.3 436.3h1M147.7 444.2h1M167.1 438.4h1M157.6 442.6h1M137.5 438.1h1M182.1 438.4h1M161.4 438.8h1M114.3 441.7h1M121.3 438.8h1M180.8 445.9h1M162.9 441.2h1M137 438.1h1M173.5 436.1h1M141.8 433.4h1M146.2 445.4h1M166.4 446.8h1M173.8 441.9h1M161.9 442.4h1M136.8 438.5h1M165.5 442.9h1M157.1 437.6h1M178.6 441.5h1M138.5 438.7h1M129.2 443.2h1M180.8 438.1h1M156.6 439.9h1M123.1 438.4h1M142 445.1h1M154.8 445h1M136.7 445.5h1M118.4 442.4h1M122.5 448.1h1M182.3 445.5h1M118.7 443.5h1M167.9 445.1h1M119.8 442.7h1M104.6 445h1M123.1 435h1M169.2 437.9h1M133.7 439.3h1M98.5 437.7h1M172.8 440h1M189.2 442.7h1M120.1 441.6h1M173.8 434.7h1M125.5 444h1M189.5 446.2h1M145 446.3h1M133.5 444.1h1M123.3 445h1M178.3 440.7h1M129.2 439.4h1M124.6 440.4h1M144.9 435.7h1M145.4 438h1M128.3 438.8h1M182.6 440.1h1M180.4 444.5h1M99.1 443h1M105.2 436.4h1M110.6 438.2h1M149.8 433.1h1M151.3 444h1M181.1 443.4h1M148.2 443.6h1M149.3 436.3h1M134.9 443.1h1M118.5 442.8h1M158 444.6h1M165.1 438.5h1M156.9 443h1M168.3 448.1h1M172.2 432.2h1M158.3 438.6h1M144.7 440.1h1M185.7 442.8h1M140.5 437.9h1M150.3 444.1h1M148.4 434.4h1M109 441.8h1M154.7 440.4h1M129.3 435.9h1M145.2 441.1h1M144.2 444.8h1M160.2 438.7h1M179 440.8h1M160.7 437.9h1M186.4 438.4h1M116.3 445.7h1M175.7 442.3h1M126.2 431.3h1M173.4 435.8h1M129.2 436.4h1M142.6 437.9h1M155.3 436.8h1M154.9 440.2h1M148.5 443.7h1M113.4 445.5h1M139.2 439.3h1M172.6 440h1M152.5 447.1h1M160.7 434.7h1M100.5 443h1M132.4 441.9h1M153.3 440.3h1M116.2 444.5h1M147.4 438.9h1M185 441.4h1M153.3 433.2h1M174.8 444.6h1M117.1 440.6h1M161.4 432.9h1M168.5 444.9h1M139.2 437.7h1M134.9 442.2h1M188.4 441.3h1M148.7 439.5h1M145.9 444.3h1M144.4 435.7h1M154.2 440.9h1M119.6 448.6h1M141.1 442.5h1M144.3 434.5h1M177.8 439.5h1M161.9 439.9h1M152 439.6h1M173.5 439.1h1M174.8 439.6h1M174.6 438.6h1M139.5 435.2h1M154.7 437.2h1M174.1 439.7h1M141.3 437.8h1M110.8 444.4h1M125.6 439.7h1M125.3 436.7h1M167.4 434.8h1M141.4 445.5h1M177.9 438.6h1M144.1 435.8h1M137.5 439.1h1M137.5 440.3h1M158.9 441.2h1M145.4 440.8h1M162.1 439.8h1M136.5 438.4h1M144.4 440.8h1M168.7 438.1h1M174.3 447.3h1M131.8 443h1M136.9 443.3h1M192.3 439.4h1M116.6 444.8h1M166.4 440.3h1M131.5 435h1M171 434.6h1M134.3 439.8h1M167.7 440.2h1M124.5 442.8h1M166 439.8h1M166.1 439h1M156.2 441h1M172.2 435.1h1M160 442h1M165.5 441h1M152.5 440.6h1M82.4 442.1h1M114.6 431.3h1M159.8 432.4h1M165.4 432.5h1M154.8 445.2h1M189.9 436.2h1M146.8 439.6h1M139.2 446.6h1M141.9 432.5h1M185.3 435.2h1M173.4 439.5h1M178 444.5h1M134.9 442.1h1M190.4 435.2h1M145.2 438.9h1M162.9 438.1h1M158 437.9h1M161.7 443.6h1M153.6 441.9h1M149.3 433.6h1M133.4 441.7h1M155.1 444.1h1M176.1 438.8h1M135.6 443.9h1M150.3 445.4h1M111.7 436.6h1M125.5 439h1M99.4 437.6h1M174.3 440.3h1M156 440.2h1M143.4 434.4h1M159.2 440h1M156.1 440.3h1M131.9 436.5h1M154.7 440.8h1M149.2 440.2h1M126.6 441.6h1M160.6 446.8h1M170.1 440.3h1M135.6 441.2h1M152.2 434h1M139.6 442.8h1M191.6 441.1h1M135.7 440.6h1M187.9 437.9h1M146.8 443.4h1M119.6 442.7h1M157.7 442.9h1M124 436.6h1M126.3 444.8h1M173.6 442.5h1M170.9 447.6h1M152.6 440.1h1M147.4 439.3h1M135.7 442.4h1M181.4 442h1M139.3 438.2h1M150.2 439.8h1M159 432.9h1M104.9 444.5h1M149.2 439.9h1M158.8 439h1M167.1 439.1h1M132.4 439h1M165.3 441.2h1M86.2 438.3h1M141.8 439.2h1M161 434.4h1M177.4 441.4h1M172.2 439.7h1M151.2 437.2h1M172.4 439.9h1M162.4 438.5h1M178.8 437.9h1M185.1 440.2h1M124.5 443.6h1M144 441.9h1M156 439.6h1M124.2 436.2h1M147.2 443.5h1M160 432.7h1M151.5 446.6h1M144.5 444.5h1M164.9 443h1M151.6 442.6h1M126.7 437.6h1M165.2 444.1h1M116.9 444.4h1M128.9 445.8h1M185.8 438.7h1M153.5 438h1M171.7 448.2h1M149.4 440.9h1M116.9 433.3h1M154.1 437h1M106.9 440.8h1M115 435.7h1M167.6 439.1h1M148.5 437.3h1M120.1 439.6h1M177.2 436.4h1M147 443.3h1M128.6 436.9h1M88.4 439.2h1M145.3 442.1h1M113.7 438.5h1M185.7 446.2h1M160 437.1h1M166.3 441.4h1M184.6 438.5h1M121.1 438.2h1M135.6 434.7h1M144.2 439h1M145.9 440.9h1M118.6 439.9h1M151.4 436.8h1M176.1 437.8h1M174.7 441.8h1M153.8 443.2h1M147.2 438.9h1M179.2 437.7h1M153.5 448.2h1M146.6 438.8h1M102.6 443.8h1M133.6 437h1M148.8 439.1h1M148 436h1M151.4 439.8h1M184.5 438.4h1M95.1 440.6h1M164.4 441.2h1M151.1 436h1M107.2 447.6h1M162.7 437.1h1M152.5 441.3h1M106.3 443.9h1M156 442.2h1M165.4 437.9h1M145.8 437.6h1M169.5 438.5h1M136.4 429.7h1M157.5 443.2h1M154 445.9h1M168.9 444.5h1M124.3 447.9h1M115.1 440.2h1M158.3 442.6h1M156.5 438.8h1M184.6 432.1h1M134.6 441.8h1M117.1 446.7h1M184.5 434.8h1M172.8 435.3h1M87.7 440.8h1M169.3 441.5h1M179.3 437.2h1M165.4 435.6h1M175.5 440.5h1M182.4 437.3h1M174.1 441.5h1M151.7 441.2h1M119.4 444h1M138.3 442.2h1M174 442.4h1M188.8 432h1M168.8 449h1M129.9 441.9h1M172.8 437.3h1M126.7 438.8h1M172.7 447.3h1M129.4 442.4h1M177 441h1M174.7 439h1M140.6 439.5h1M169.2 447.7h1M171.7 434.9h1M147.2 441.3h1M161.1 432.2h1M155.1 445.3h1M110.6 442h1M144 442.6h1M170.3 436.2h1M108.2 442h1M167.5 440.1h1M172.3 441.1h1M162.6 438.6h1M176 438.5h1M186.4 437.5h1M162.8 432.2h1M110.5 442.7h1M111 440.3h1M177.4 442.9h1M164.8 440h1M156 431.4h1M126 444.6h1M124 435.5h1M136.1 434.8h1M161.1 445.5h1M127.3 437.3h1M157.4 439.9h1M147.7 435.4h1M152.1 440.9h1M149.6 438.2h1M114.6 445.5h1M173.4 441.3h1M180.8 430.2h1M107.8 434.9h1M141.1 441.1h1M167.6 440.8h1M161.5 434.2h1M113.4 439.6h1M155.8 443.9h1M135.6 441.9h1M175.1 441.8h1M135.5 437.7h1M172.7 434.6h1M137.1 444.4h1M173.8 443.4h1M152.3 438.8h1M128.1 437.5h1M137.3 443.6h1M150.7 441.2h1M177.3 443.8h1M118.7 439.8h1M166.7 438.6h1M160.6 443.5h1M164.7 440h1M145.3 437.8h1M153.8 438h1M117.7 442.8h1M165.6 441.5h1M182.2 438.1h1M112.6 441.8h1M165.7 431.2h1M107.7 444.5h1M141.6 445.9h1M159.2 443.4h1M157.4 437.9h1M148.1 441.8h1M172.4 437.4h1M179.8 436.7h1M162 439h1M135.1 441.6h1M145.8 451.5h1M166.2 441.2h1M173.9 442.1h1M159.8 435.7h1M122.2 441.3h1M142.1 443.5h1M161.6 443.7h1M118.8 441.6h1M148.3 437.3h1M143.2 447.1h1M178.6 442h1M184.8 447.2h1M128.7 442.7h1M143 436.8h1M150.8 441.8h1M140 443.4h1M135.6 437h1M115.2 433.4h1M82.8 446h1M159.3 436.6h1M123.4 448.3h1M171.3 438.6h1M137.5 435.9h1M158.9 439.6h1M149.3 444.6h1M168.3 434.5h1M169.5 441.4h1M172.1 435.5h1M177.3 434.5h1M126.9 438.8h1M140.4 434.8h1M185.9 440.4h1M130.8 435.4h1M183.1 435.6h1M159.6 433.8h1M187.4 442h1M162.3 436.9h1M153.8 440.1h1M157.8 442.9h1M111.5 440.5h1M169 439.2h1M158.9 437.9h1M183.6 435.2h1M170.1 442.3h1M130.2 439.8h1M156.3 432.4h1M169.6 437.1h1M157.9 444.7h1M182 441.6h1M158.5 441.2h1M161 443.9h1M117 433h1M176.7 438.4h1M140 439.6h1M130.9 443.2h1M148.6 438.7h1M160.8 437.8h1M130.2 448.9h1M138 444.3h1M123.3 444.9h1M131.2 446.7h1M171 441.1h1M163.7 444.2h1M143.8 443.1h1M167.5 441.9h1M169.4 436h1M136.1 440.8h1M188.4 443.5h1M139.4 442h1M173.6 445.1h1M144.8 437.9h1M169.2 434.4h1M146.3 439.9h1M189.3 442h1M165.3 447.4h1M135.4 437.8h1M156.4 440.5h1M185.7 436.5h1M165.1 442.4h1M143.6 444.9h1M152.8 444.5h1M177.5 437.6h1M144.1 436.3h1M174.2 441.1h1M179.3 433.5h1M187 446.1h1M131 444h1M158.2 438.3h1M165.7 441.9h1M175.4 447.1h1M184.8 441.1h1M180.6 444h1M136.1 442h1M127.6 447.4h1M158.1 439.2h1M173.1 430h1M118.6 442.2h1M149.1 438.6h1M164.9 434.5h1M159.8 438h1M183.9 436.9h1M130.9 441.5h1M166.8 442.3h1M152.6 436.2h1M112.3 444.5h1M188.1 435.8h1M115 443.3h1M169.9 439h1M161.5 436.2h1M123.7 441.3h1M135 439h1M162.5 429.1h1M180.5 440h1M165.5 434.6h1M123.7 435.9h1M143.9 428.7h1M150.8 440.6h1M98.7 436.8h1M134.7 442.2h1M118.1 440.4h1M120.5 438.8h1M186.4 436.7h1M139.6 439.2h1M140.5 441.4h1M158.3 443.4h1M145.9 438.6h1M140.1 440.1h1M111.8 442.4h1M133.6 443.5h1M169.6 442h1M167.9 438.3h1M140.4 441.1h1M122.2 440h1M130.4 444.9h1M167.1 436.7h1M141.2 442.4h1M150.8 441.1h1M178.3 439.5h1M120.1 441.2h1M131.5 438h1M132.4 435h1M144.5 444.9h1M145.7 439.7h1M112.8 446.3h1M175.2 444h1M159.4 437h1M157.8 442.4h1M149.6 440.2h1M105.9 438.2h1M164.9 439h1M184.4 441.2h1M142.5 442.6h1M156.7 441.3h1M171.9 439.4h1M135.4 435.2h1M157.4 437.7h1M121.5 439.6h1M181.7 438.4h1M115.2 440.3h1M118.6 435.8h1M167 438.3h1M159.8 434.3h1M135.4 446.9h1M191.7 441.4h1M183.4 437.5h1M180.6 440.4h1M110.4 443.1h1M145.3 448.2h1M116 435.6h1M162.9 441.9h1M170.5 444.6h1M177.1 441h1M143.8 433.9h1M110.6 434.9h1M142.8 449.1h1M184.4 441.7h1M178.3 436.3h1M141.8 435.4h1M170.9 433.1h1M178.9 437.8h1M135.8 437.1h1M134.8 436.7h1M151.8 446.5h1M160.7 447.3h1M166.1 431.2h1M149.8 434.1h1M140.9 445.4h1M128.9 435.3h1M155.6 438.3h1M125.7 439.5h1M91.4 443.9h1M164.4 441.2h1M126 439.3h1M129.2 435.7h1M157.9 443.1h1M187.9 441.2h1M157.3 435.7h1M146.1 433.3h1M116.4 448.3h1M141.4 432.5h1M155.9 441.4h1M181 437h1M181.6 437h1M178.8 439.5h1M146.2 446.3h1M131.3 441.7h1M129.2 438h1M164.1 445.9h1M121.2 435.1h1M148.3 443.6h1M173.2 444.3h1M164.1 439.8h1M155.9 440.8h1M125.8 442.7h1M165.4 447.2h1M165.9 444.4h1M172.7 438h1M147.5 438.6h1M144.3 437.3h1M123.8 435h1M116.7 437.5h1M157.7 436.2h1M154 436h1M148 442.1h1M131.3 441.2h1M119.1 442.1h1M169.3 442.5h1M142.9 440.5h1M157.1 442.3h1M156.1 434.1h1M134.1 440.1h1M176.1 439.1h1M156.2 443.8h1M157.6 439.9h1M154 435.6h1M132.5 445h1M144.3 442.7h1M140 442.7h1M125.4 443.5h1M172.7 436.8h1M165.9 439.3h1M166 432.6h1M164.8 444.3h1M113 441.1h1M176.5 438.9h1M186.1 436.2h1M157.5 433.6h1M132 445.7h1M170.6 442.2h1M191.8 436.4h1M161.7 436.6h1M134.5 445.2h1M161.9 441.1h1M134.4 438.9h1M109.3 441.5h1M170.3 440.3h1M133.7 435.3h1M107 446.2h1M163.3 443.9h1M152.9 440.6h1M158.5 432.8h1M175.4 442.7h1M144 438.2h1M160.6 442.1h1M166.7 441.8h1M175.8 434.6h1M130.8 441.6h1M134.9 438.8h1M181.4 436.6h1M161.8 439.2h1M160.6 444.8h1M108.7 441.9h1M188.4 435.4h1M162.7 440.7h1M136.7 436.4h1M170.7 441.6h1M142.1 440h1M149 444.6h1M155.4 439.1h1M170.6 435.3h1M158.3 436.9h1M132.2 431.2h1M163.7 436.4h1M137.3 444.8h1M127.5 434.2h1M126.4 441.7h1M139.7 437.2h1M96.3 442.1h1M157.2 440.5h1M135.2 438.7h1M181.1 433.6h1M119.7 435.3h1M146 437.2h1M120.1 447.3h1M149.9 446.2h1M142.8 434.1h1M174.9 440.2h1M161.1 434h1M164.6 438.4h1M132.7 445.9h1M148.6 443.6h1M131.8 441.3h1M133.4 432.9h1M127.7 436.5h1M137.9 435.7h1M146.4 448.5h1M107.8 439.5h1M160 444.8h1M143.3 441.4h1M149.1 439.4h1M100.2 439.5h1M135.3 441.7h1M145 440.3h1M127.5 436.9h1M160.6 442.6h1M150.3 436.5h1M160.1 440.6h1M165.4 436.1h1M173.4 432.4h1M164 444.1h1M159.2 443.4h1M140.9 440.4h1M161.5 433.4h1M176.1 435.3h1M146.4 441.2h1M155.2 434.3h1M158 451.5h1M160.7 435.9h1M114.9 438h1M153.9 444.9h1M158.9 443.6h1M114.9 442.4h1M153.5 443.1h1M158.3 443.9h1M106.6 440.7h1M162.9 439.5h1M186.5 441.2h1M147 441.7h1M158.9 444.4h1M128.5 442.4h1M146.1 443.9h1M149 438.6h1M168.5 437.6h1M107.1 439.4h1M147.4 434.6h1M185.1 437.4h1M147.8 441.7h1M117.8 438h1M177.3 436.3h1M161.6 436.3h1M156.1 446.2h1M146.7 445.7h1M174.2 447h1M81.7 404.4h1M89.7 423.2h1M70.4 408.2h1M81.3 419h1M77.7 431.1h1M72.6 407.9h1M95.4 421.1h1M75.3 393.6h1M78.1 410.4h1M91.2 401.1h1M71.9 388.9h1M72.8 414h1M99.1 403.5h1M94.6 410.8h1M99.3 379.2h1M89.4 407.7h1M73 439.3h1M90.1 381.7h1M72 414.8h1M105.1 406h1M86.5 392h1M77.5 389.3h1M96.3 406.2h1M95.8 420.8h1M86.9 415.4h1M101.7 412.1h1M93.3 415.7h1M82.2 424.4h1M87.6 379.2h1M102.2 406.3h1M87.2 412.9h1M77.6 415.3h1M89.4 396.3h1M95.2 402.1h1M94 415.2h1M68.9 413.6h1M71.8 433.6h1M83.4 373.7h1M98.8 404.2h1M90.2 399h1M108.7 408.1h1M109.1 404.5h1M98.4 392.5h1M89.9 407.7h1M85.2 381.6h1M75.4 385.5h1M90.1 385.8h1M71.9 406.8h1M99.5 416.3h1M64.1 423.7h1M103.8 380.8h1M84.6 398.8h1M77.2 422.3h1M89.2 403.6h1M89.1 426.5h1M88.1 428.3h1M69.5 394.9h1M100.5 404.9h1M87.6 391.2h1M97.3 402.9h1M82 433.9h1M73.7 403.6h1M88.9 393.3h1M100.9 403.5h1M71 407.4h1M94.3 384.6h1M85.8 400h1M87.1 411.3h1M83.1 388.2h1M94 376h1M104.3 414.6h1M97.4 395.4h1M103.5 401.9h1M99.7 411.9h1M85.7 419h1M78.6 394.5h1M70.5 386.3h1M60.6 383h1M78.8 387.3h1M91.4 405.3h1M85.1 448.3h1M86.1 410.9h1M98.6 393.1h1M99.9 400.2h1M83.8 396.9h1M85.5 378.8h1M66.4 402.7h1M102.3 409.1h1M84.6 405.8h1M87.1 402.8h1M84.3 391.5h1M97.1 397.4h1M87.1 372.8h1M93.7 415.5h1M79.3 398h1M71.5 399.2h1M85 414.2h1M89.8 453.2h1M82.5 388.2h1M99.2 429.6h1M92.4 387h1M90.5 420.1h1M89.7 415.6h1M93.7 399.9h1M95.2 384.5h1M74 386h1M86.7 421.5h1M83.4 428.7h1M82.6 399.2h1M88.1 399.9h1M87.2 392.2h1M69.1 405h1M83.6 395.1h1M100.9 421.4h1M96 418.2h1M61.2 411.4h1M78.9 387h1M92.1 379.1h1M68.7 394.4h1M89.2 426.2h1M108.1 416.2h1M93.1 401.1h1M74.2 418.9h1M91.8 413.4h1M62.5 388.5h1M85.5 429h1M59.3 422.2h1M79.4 383.7h1M60.5 398.2h1M76.9 417.7h1M81 431.5h1M100.9 425.8h1M92.1 387.4h1M112 395h1M104.8 424.8h1M88 391.8h1M96.1 408.4h1M73.4 398.1h1M87.2 413.5h1M80.2 380.7h1M73.2 381.6h1M100.7 387.2h1M77.9 437.2h1M91.8 436.9h1M82.6 434.3h1M99.8 393.6h1M93.1 387.8h1M65.4 410.4h1M91.7 398.2h1M97 412.6h1M102.5 385.9h1M95 422.9h1M109 407.9h1M79.4 397.6h1M78.1 381h1M81.1 402.7h1M68.1 403.4h1M73.5 414.3h1M103 405.1h1M77.9 402.9h1M77.3 381.1h1M104.8 393.2h1M94.7 403.9h1M80.3 410.9h1M77.8 398.8h1M84.1 378.6h1M88.3 384.5h1M101.8 395.1h1M92.4 413.1h1M74.7 397.9h1M84.7 384.6h1M68.4 401.1h1M79.5 400.4h1M110.1 426.5h1M68.8 402.9h1M80.4 393.7h1M98.7 402.5h1M90.1 411.3h1M83.3 371.4h1M76.8 396.3h1M75.6 385.3h1M96.9 392.5h1M85.5 396.5h1M91.6 426.4h1M96.3 415.4h1M67 408h1M63.2 385.2h1M93 408h1M100.3 412.5h1M87.1 376.5h1M98.1 374.3h1M66 424.9h1M82.6 420.8h1M79.8 404.2h1M79.7 420.4h1M93.7 418.9h1M101.1 409.1h1M82 423.1h1M71.4 408.8h1M91.2 391.8h1M68.4 380.7h1M98.6 425.8h1M76.5 437.9h1M91.5 384.6h1M70 414h1M84.8 417.4h1M85 393.6h1M94.7 378.8h1M67.4 421.8h1M98.7 426h1M61.4 403.8h1M83.7 411.3h1M75.9 401.9h1M87.4 426h1M108 408.5h1M84.8 412.1h1M109.8 407.6h1M90 393.6h1M105.4 403.2h1M105.3 425.5h1M104.7 415.3h1M86.9 400.4h1M100.9 403.7h1M91.1 422.6h1M74.7 400.6h1M95.9 378.7h1M93.3 424.4h1M67.7 441h1M71.2 420.7h1M104 422.1h1M83.8 374.1h1M98.1 394h1M69.1 420.8h1M77.5 413.3h1M94.2 414.5h1M67.1 421.2h1M75.5 399.2h1M89.5 429.1h1M72.6 379.5h1M66.2 411h1M86.1 420.9h1M77 408.2h1M119.4 397.5h1M83.2 407.2h1M87 417.3h1M74.5 431.6h1M79.9 378.5h1M75.7 402.8h1M73.4 401.6h1M63.5 431h1M89.9 383.7h1M86.9 433.4h1M85.8 389.5h1M81.9 390.1h1M109.1 380.2h1M76.9 400.6h1M79.8 395.7h1M109.7 405.5h1M91.2 400.6h1M79.1 415.4h1M75.4 410.9h1M82.7 423.5h1M85.4 403.8h1M107.6 402.7h1M67.6 394.8h1M88.5 419h1M96.2 397.5h1M96.5 422.4h1M83.4 383.9h1M76.4 431.3h1M92 425.6h1M96.2 382.7h1M85.3 417.1h1M81.3 394.4h1M105.7 382.9h1M83.5 394.9h1M85.5 405.7h1M106.2 392.2h1M87.1 412.1h1M87.1 424h1M83.7 379.1h1M86.4 402.1h1M106.8 406.5h1M98.1 404.9h1M87.9 416h1M100.7 413.3h1M114.3 403h1M76.5 388.6h1M92 400h1M100.3 379.2h1M91.6 411.7h1M104.3 400.8h1M107.5 392.4h1M71.4 378.7h1M82.7 430.5h1M94.6 418.5h1M89.5 413.5h1M84.2 390.9h1M93.1 387.4h1M75.8 428.6h1M79.5 394.6h1M103.7 417.5h1M91.4 437.2h1M107 374.8h1M71.1 410.4h1M69.1 375.4h1M90.7 397.4h1M109.4 394.3h1M67.3 418.4h1M85.5 380.6h1M105.8 406.2h1M72 414.1h1M118.1 384.3h1M70.6 385.9h1M74.9 420.1h1M61.9 417.2h1M94.1 376.6h1M87.7 432.3h1M87.3 406.1h1M78.4 393.1h1M80.4 404.9h1M81.1 401.7h1M92 411.5h1M76.4 430.2h1M75.1 427.7h1M70.5 391.8h1M101.2 395h1M106 397.5h1M94.1 431.8h1M64.7 422.7h1M87.3 371.1h1M94 396.5h1M100.2 395.3h1M86.3 423.5h1M75.3 424.3h1M87.1 386.6h1M76 406.2h1M92.7 412.5h1M103 407.9h1M82 384.1h1M94.4 399.2h1M90.1 413.3h1M84 409.7h1M82.5 413.6h1M91.1 389h1M85.1 405.5h1M71.5 399h1M91.7 412.6h1M81.6 410.9h1M82.6 395.9h1M85.4 400.7h1M59.5 415.7h1M63.8 401.5h1M106.8 378.1h1M72.3 411.4h1M80.9 374.7h1M93.8 389.2h1M82.4 439.4h1M85 409h1M59.2 418h1M69.7 413.6h1M89.7 417.2h1M88.9 405.8h1M101.3 417.4h1M96.2 405.6h1M79.6 389.2h1M87.9 410h1M77.3 406.2h1M95.3 419.5h1M76.3 423.8h1M93 428.2h1M92.4 388.9h1M106 409.4h1M73.8 433.7h1M86.5 394.9h1M67.1 392.4h1M100.2 396.1h1M83.6 394h1M77.6 390.4h1M71.5 431.4h1M75.7 395.2h1M82.2 406h1M82.1 386.5h1M106.2 440h1M83.1 386.7h1M86.7 381.7h1M78 392.9h1M110.7 431.3h1M109.1 433h1M83.4 395.2h1M95 406h1M97.4 395.2h1M96.9 380.4h1M93 445.6h1M108.3 396h1M85.5 372.1h1M95 402.8h1M88.6 418.3h1M65.4 399.6h1M107.5 396.6h1M88.9 398.9h1M70.7 383.1h1M110.9 411h1M102.4 409.5h1M85.2 427.4h1M90.7 386.8h1M61.8 432.6h1M88.9 423.9h1M69.4 400.3h1M108.6 415.8h1M89.7 398.6h1M61.2 421.2h1M77.3 403.5h1M98 390.7h1M83.3 400.4h1M87.8 387.7h1M83.7 416.5h1M69.4 399.9h1M104.8 389.7h1M61.9 445.8h1M82 404.6h1M66.8 425.9h1M83.1 393.7h1M85.9 412h1M83.4 394.9h1M89 415.7h1M96.4 410.2h1M58.6 443.6h1M103.6 405.3h1M108.8 431.7h1M99.2 372.3h1M67.4 419.2h1M76.2 405.1h1M98.4 411h1M102.8 393.6h1M80.3 396h1M82.2 372.6h1M96.6 395.8h1M101.7 399.2h1M80 390.7h1M72 430.7h1M62.5 405.9h1M76.5 424.7h1M63.9 410.3h1M75.3 386.1h1M102.2 401.2h1M92 401.1h1M79.1 396.2h1M100.2 419.7h1M66 415.3h1M93 398.6h1M78.2 412.4h1M92.1 389.3h1M102.7 395.9h1M70.2 426.3h1M94.9 422.9h1M84.4 419.8h1M82.4 431.4h1M63.2 405h1M84.8 399.9h1M84.5 409.2h1M87 421.7h1M83.2 428.5h1M70.5 404.8h1M106.5 403.7h1M83.2 424.3h1M102.3 414.1h1M81.7 408.1h1M74.4 392.2h1M103.4 402h1M102.1 406.7h1M80.3 408.3h1M88.2 405h1M92.5 422.6h1M66.6 406.7h1M78.9 400.7h1M99.2 410.6h1M59 413.5h1M83.1 414.1h1M67.3 413.6h1M84.5 395.8h1M82.4 425.6h1M78.7 385.9h1M81.1 416.4h1M97.7 416.1h1M89.7 391.3h1M70.3 396.3h1M81.3 420.2h1M86.4 420.5h1M97 394.3h1M102.9 393.3h1M82.9 413.6h1M90.1 426.7h1M85.5 440.8h1M90.1 406h1M71.7 411.4h1M77 389.6h1M97 400.7h1M89.8 371.4h1M82.2 424.2h1M92.6 409.8h1M76.8 392.2h1M109.7 422.7h1M67 401.2h1M89.5 395.2h1M102.4 390.5h1M81 401h1M73.3 430.6h1M78.7 396.1h1M89 438.1h1M101.5 415h1M85.8 423.8h1M92.6 404.5h1M96.5 382.6h1M90.4 420.9h1M94.7 385.9h1M93.5 423.1h1M95.5 419.5h1M75.2 402.3h1M78.1 390h1M76.5 391.9h1M112.7 414.8h1M83.9 389.6h1M102.5 380h1M93.4 421.4h1M81.4 411.2h1M101.8 388.5h1M74.1 397.1h1M71.5 398.2h1M74.9 444.6h1M104.9 383.5h1M86.3 387.7h1M102.6 403.5h1M70.9 410.7h1M61.7 395.5h1M90.1 418.2h1M82.1 404.6h1M60 393.5h1M89.5 393.3h1M114.5 400.8h1M89.7 402.3h1M67.5 410.6h1M76.7 425h1M75.5 400.1h1M59.2 417.6h1M72.2 418h1M71 394.9h1M79.8 367.1h1M79.3 405.3h1M88 408.6h1M92.9 425.9h1M86.4 414.6h1M73.9 400.7h1M87.9 410.6h1M89.2 424.2h1M81.5 414.6h1M90.8 409.7h1M96 384.6h1M96.9 409.2h1M83.4 410.3h1M98.5 416.6h1M65.2 408.4h1M59.5 401.8h1M73.3 397.9h1M111.8 421h1M99.6 410.2h1M100.4 416.9h1M77.8 412.1h1M91 396.2h1M73.1 409.8h1M83.4 418.8h1M101.7 396.6h1M101.2 412.5h1M84.8 406.9h1M74.2 426.3h1M79.4 404.5h1M63.7 402.7h1M62.8 392.4h1M80.5 394.6h1M92.1 411.5h1M102.7 424.2h1M109.6 376.4h1M85.3 395.7h1M96 409.4h1M60.1 413.1h1M94.1 391.3h1M96 400.9h1M107.8 413.5h1M98.1 412.7h1M98.8 396.3h1M102.8 411.1h1M70.5 398.9h1M80.5 399.2h1M106.2 418.7h1M77.2 404.2h1M104.3 415.9h1M76.6 413.2h1M83 397.5h1M76 394.3h1M100.2 407.7h1M91.4 403.5h1M70.4 411h1M70.9 406.6h1M93.9 386.6h1M91.7 398.3h1M60.9 414.7h1M93.9 381.1h1M103 382.5h1M88.5 414h1M94.9 412.2h1M86.2 403.6h1M81.1 396.2h1M94 402.7h1M85.5 420.6h1M70.8 417.7h1M82.1 442.4h1M70.4 429.4h1M110.3 411.5h1M70.2 401.6h1M111.7 422h1M77.3 410.4h1M67.1 409.9h1M82.5 417.9h1M109.6 405.5h1M88.7 395h1M109.2 414.2h1M98.6 399.5h1M91.4 394h1M77.9 415.2h1M98.8 388.9h1M88.7 383.3h1M79.6 437.3h1M85.5 418h1M96.5 400.5h1M91.3 409.7h1M104.4 405.5h1M96.1 393.4h1M98.3 384.9h1M97.2 412.7h1M94.7 426.7h1M85.3 429.3h1M78.3 408.2h1M80.5 430h1M74 408.3h1M96.9 424.1h1M68.6 430.3h1M85.4 398.8h1M74.9 409h1M75.6 402.9h1M96.7 395.4h1M89.4 408.5h1M100.2 425.4h1M74.5 429.6h1M79.4 397.4h1M88.5 406h1M96.5 437.7h1M94.7 396.9h1M105.7 404.3h1M69.3 439.8h1M84.5 402.9h1M77.6 419.4h1M110.4 405h1M65.5 380.6h1M74.1 416h1M101.3 376.9h1M73.8 381h1M61.6 427.4h1M106.7 417.6h1M97.8 404h1M78.5 421.9h1M73.1 426.6h1M83.8 412.8h1M75.9 384.7h1M77.2 388.2h1M97.1 424h1M75.4 404.9h1M83.3 426.2h1M76.7 390.2h1M97.2 416.3h1M84.6 375.3h1M102.3 417h1M69 412h1M77.6 424.7h1M82.8 373.3h1M87.8 384.4h1M80.3 393.6h1M115.4 413h1M78.5 432.9h1M81.3 425.2h1M67.7 382.6h1M80.8 397.1h1M90.5 417.2h1M73.9 383.2h1M100.3 415.9h1M81.7 415.9h1M94.3 419.9h1M70 406.6h1M78.1 412.4h1M107 422.5h1M87.4 411.6h1M89.6 423.8h1M92.9 420.2h1M99.7 417.9h1M78.2 400.2h1M71.7 417.9h1M84.5 421.9h1M99.6 396.7h1M81.3 391h1M101.4 413.7h1M63.7 417.1h1M77 393.1h1M71.9 412.4h1M58.5 440.6h1M85.1 412.8h1M93.9 407.2h1M71.3 404.8h1M105.3 413.2h1M95.5 403.8h1M97.8 418.7h1M83.9 438.7h1M93.4 403.5h1M83.6 418.6h1M71.6 425.9h1M81.3 387.7h1M101.5 399.6h1M72.5 392.9h1M100.8 402.1h1M104.8 423.2h1M88.8 393.8h1M81.6 427.7h1M98 440.9h1M79.3 392.8h1M98 409.2h1M95.2 418.8h1M85.6 386.7h1M79.7 372.5h1M73.4 406.1h1M84.6 390.5h1M70.8 406.3h1M84.8 392.4h1M89.2 397h1M81.7 394.9h1M93.3 407h1M100.6 420.6h1M67.9 407.5h1M85.9 413.1h1M74.2 385.6h1M76.8 432.3h1M82.9 424.2h1M101.2 432.8h1M103 405h1M77.8 393.1h1M85.7 413.9h1M83.3 386.8h1M83.1 404.4h1M109.6 401.6h1M99.5 401.8h1M92.2 418.9h1M96.1 382h1M70.2 406.4h1M107.6 401.7h1M109.8 416.2h1M68.2 404.7h1M82.2 434.8h1M75.8 434.8h1M76.4 390.6h1M67.5 404.3h1M87.4 419.7h1M64.7 401.4h1M100.5 434.5h1M96.6 406.7h1M74.7 400.4h1M90.1 407.7h1M81.4 395.3h1M106.3 405.4h1M116.5 416h1M88.1 398.9h1M69.8 406.2h1M69 419.8h1M61.5 413.1h1M89 417.5h1M89 395.2h1M76 380.5h1M107.5 389.4h1M78 397.5h1M88.6 412.7h1M100 397.2h1M99 391.2h1M94.9 396.9h1M94.6 409.6h1M91.2 397h1M103.7 422.8h1M101.3 414.2h1M73.6 409.5h1M93.7 393.6h1M87.2 433.2h1M82.8 410.8h1M107.5 420.7h1M89.1 413.6h1M91.3 397.7h1M103.1 397.9h1M73.2 398.6h1M79.1 418.3h1M82.8 412.6h1M72.5 376.7h1M90.4 414.2h1M73.5 377.7h1M90.8 394.3h1M87.5 425.9h1M87.5 404.7h1M94 399.8h1M97 415.3h1M81.9 399.4h1M87.1 402.3h1M85.9 381.8h1M98 387.3h1M90 402.5h1M74.6 370.7h1M113.9 415.9h1M104.3 415.6h1M88.6 385.8h1M96.5 388h1M75 405.3h1M98.7 403.5h1M79.1 389.3h1M96.9 401.7h1M88.8 385.3h1M72.1 376.5h1M93.3 416.7h1M86.3 410.9h1M80.7 381.3h1M85.7 403.9h1M99 406.1h1M90.2 429.9h1M80.7 425.7h1M80.7 428.4h1M84.6 398h1M64.9 422.2h1M75.9 391.9h1M80.3 386.7h1M59.4 440.7h1M113.3 388h1M85.4 426.5h1M106.4 395.1h1M83.7 393.1h1M86.7 435.7h1M63.3 404.5h1M71.2 411.9h1M93.8 390.5h1M81.3 385.5h1M91.4 387h1M90.3 440.6h1M70.7 383.8h1M73.2 397.1h1M69.9 416.3h1M86.4 387.4h1M101.8 395.1h1M104.9 401.3h1M95.2 388.6h1M77.7 409h1M72.8 378.3h1M108.8 400.5h1M90.1 416.8h1M75.3 419.9h1M72 380.3h1M117.8 376.4h1M96 437.6h1M90.2 418.3h1M88.7 369.1h1M83.7 419h1M99.6 408h1M96.4 411.5h1M107.1 429.4h1M62.4 400.6h1M96.5 413.9h1M90.1 395.2h1M99.2 429.6h1M94.8 414.1h1M59.2 425.2h1M86.6 411.3h1M107.9 380.8h1M97.1 402.6h1M74 402h1M61.4 408.4h1M103.7 388.7h1M88.3 393h1M93.5 392.8h1M75.1 382.4h1M101.7 407.4h1M83.6 390.8h1M83.8 426h1M69.9 393.4h1M88.6 371.8h1M91.5 404.8h1M73.1 423h1M79.1 423.1h1M93.4 389.5h1M69.2 395.6h1M91.7 397h1M99.3 410.6h1M86.7 394h1M85.5 420.2h1M102.4 412.5h1M87.3 382.8h1M68.3 399.4h1M98 394h1M91.8 385.4h1M106.2 405.6h1M107.1 382.5h1M97.1 399.6h1M83.3 413.7h1M84.3 404.8h1M77.5 411.9h1M86.2 412.5h1M72.4 392.3h1M100.7 385.4h1M90.2 371.3h1M87.3 404h1M109.2 428.6h1M76.4 414.7h1M92.7 441.9h1M73.1 408.8h1M80.4 447.1h1M87.7 435.4h1M83.3 415.9h1M76.2 434.5h1M81.9 395.7h1M99.6 383.3h1M74.7 412h1M68.3 430.5h1M107.8 415.7h1M67.4 416.8h1M81.9 405.1h1M68.5 394h1M73.2 415.2h1M100.5 416.8h1M96.3 396.1h1M81.8 426.4h1M107.3 434h1M101.4 411.1h1M91.8 380.9h1M101 396.9h1M86.3 405.4h1M92 415.9h1M85.1 413.6h1M94.3 391.4h1M87.4 410.2h1M84.9 397.9h1M77.1 414.6h1M77.7 402.3h1M86.8 405.6h1M98.9 375.3h1M90.3 409.6h1M89.1 395.1h1M97.3 407.8h1M76.5 397.3h1M100.5 435.4h1M80.7 426.2h1M94.8 440.1h1M77.8 394.3h1M99.4 412.5h1M70.6 401.4h1M111.9 391.6h1M80 413.4h1M80.2 391.5h1M75.8 443h1M71.7 401.8h1M82.6 416.2h1M65.6 397.2h1M100 401.3h1M84.4 396.9h1M86.6 422.8h1M93.4 412.4h1M89 394.7h1M78.3 405.7h1M83.8 414.8h1M67.3 411.3h1M66.6 394h1M95.2 395.2h1M102.8 399.2h1M106.4 434.4h1M77.1 379.7h1M91.6 407.3h1M81.2 395.5h1M91.1 385.8h1M88.4 392.5h1M74.3 379.4h1M101.6 408.9h1M79.2 410.4h1M77.4 383.2h1M82 407.5h1M76.8 403h1M84.1 400.2h1M91.5 391.2h1M96.1 386.4h1M81.6 382.7h1M77.6 384.2h1M109.1 385.4h1M101.9 416.3h1M104.8 396.5h1M64.4 406.1h1M96 391.9h1M63.3 395.2h1M102.7 404.6h1M84.3 396.2h1M80.5 411.7h1M86.9 381.9h1M82.8 389.2h1M108.1 378.4h1M102.1 429.1h1M65.7 428.9h1M98.6 403.3h1M112.1 396.1h1M79.1 398.9h1M82.4 437h1M85.5 408.7h1M96.3 396.5h1M85.7 410.2h1M94.4 413.6h1M81 393.7h1M99.8 399.6h1M77.9 414.9h1M80.7 405.5h1M81.8 395.2h1M102.6 407.5h1M88.6 404.7h1M82.9 400.1h1M65.1 395.2h1M99.5 409.9h1M80.9 394.8h1M90.1 383.9h1M82.5 389.5h1M90.5 401.3h1M89.5 390.2h1M63 382h1M61.9 419.7h1M82.7 378.1h1M62.6 389.2h1M95.4 420.2h1M86.6 391.3h1M101.7 395.5h1M96.1 377.5h1M94.9 402.7h1M77 371.7h1M90.1 416.1h1M98.7 394.4h1M100.2 412.5h1M89.8 394.2h1M84.4 380.3h1M76.4 390.4h1M81.5 425.9h1M79.3 406.5h1M101.5 399.5h1M102.5 423.5h1M83.6 374.3h1M77.9 396.7h1M96.8 419h1M103.7 387.2h1M95.1 409.6h1M69.2 396.5h1M63.9 426.5h1M108.5 413.2h1M98.9 406.9h1M79.7 398.6h1M85.7 392.7h1M84.8 379.8h1M86.9 386.6h1M98.6 399.5h1M76.9 408.8h1M70.6 438.4h1M102.3 409.4h1M112.1 417.7h1M70.5 429.6h1M76.5 403.7h1M93.3 425.3h1M75.8 425.5h1M100.7 417.6h1M101.2 424.6h1M84.8 430.6h1M79.9 415.6h1M83.1 422.5h1M73.9 417.2h1M113.3 418.7h1M87.8 420.3h1M111.9 420.3h1M72.2 416.1h1M118 417.1h1M80.4 428.9h1M85.6 431.5h1M97.2 423.2h1M105.1 426.8h1M111.2 418.4h1M89.5 417.5h1M71.7 422.3h1M112.4 428.8h1M85.3 422.4h1M69.1 411.4h1M67.1 427.4h1M81 436h1M82.8 409.1h1M78.9 422.4h1M110.9 434.6h1M100.1 419h1M84.5 423.6h1M69 424h1M79.8 405.9h1M97.4 415.4h1M59.5 418.1h1M81.7 424.2h1M63.6 421.6h1M109.3 414.9h1M79.9 418.5h1M71.2 412.2h1M89 414.5h1M74.9 416.8h1M78.9 422.9h1M87.9 432.6h1M77.6 418.5h1M77.1 416.9h1M112.8 421.1h1M87.6 404.5h1M77 425.5h1M112 427.5h1M95.1 414.2h1M108.9 416.8h1M77.6 433h1M84.9 421.1h1M95 417.3h1M98.5 415.9h1M81.2 432.3h1M69.8 415.2h1M96.8 423.3h1M83.7 433.4h1M83.5 413.6h1M85.4 408h1M76.7 421h1M105.2 426.7h1M92.7 411.9h1M94.6 409.7h1M99 429.5h1M117.8 416.6h1M75.6 423.3h1M82.4 413.1h1M100 426.3h1M83.3 415.2h1M91 413.6h1M67.3 428.4h1M78.4 425.6h1M100.2 419.8h1M93.6 411.6h1M106.6 425.5h1M113 418.9h1M113.7 414.6h1M73.5 421.7h1M88.5 413.1h1M73 422.2h1M96.3 418.7h1M83.2 419.5h1M95.6 422.6h1M79.6 414.1h1M89.9 420.9h1M73.9 421.5h1M78.8 409.8h1M75.2 431.4h1M83.5 419.1h1M95 419.5h1M105.3 427.6h1M73.5 426.2h1M100.3 407.1h1M73.9 434.1h1M110.8 432.2h1M87.2 417.4h1M73.9 424.6h1M85.2 424.6h1M100.4 413.9h1M87.9 422.2h1M95.6 423h1M87.1 431.7h1M123.2 405.3h1M104.2 418.3h1M92.2 413.5h1M94.5 430.4h1M93.7 413.6h1M91.5 414.7h1M72.4 421.7h1M103.6 422.7h1M78.3 423.5h1M85.1 418.1h1M74.3 415h1M104.3 415.6h1M80.5 416h1M63.9 413h1M77.1 435.1h1M77.7 420.7h1M85.4 420.8h1M81.8 418.1h1M80.6 418.9h1M83.8 432.2h1M104.9 433.4h1M100 417.5h1M74.8 420.1h1M88.2 434.1h1M80.4 412.9h1M105.5 421.3h1M64.2 425.9h1M96.4 416.4h1M98.9 427.6h1M81.6 410.8h1M79.9 425.9h1M93 431.5h1M63.2 412.8h1M76.1 424.5h1M64.5 432.1h1M94.5 417.7h1M71.1 421.2h1M81.7 420.2h1M77.7 420.6h1M103.6 433h1M93.7 420.1h1M108.5 430.2h1M94.2 412.6h1M65.5 422.5h1M101 430.7h1M95.3 417.7h1M94 431.3h1M95.8 420.2h1M101.7 419.1h1M97.8 410.3h1M92.3 412.1h1M96 415.7h1M92.2 419.9h1M89.4 433.1h1M88.5 433.1h1M83.3 428.5h1M90.9 421.5h1M99.1 424.2h1M86 429.9h1M86 410.9h1M90.1 413.6h1M76.3 432.2h1M111 424.2h1M63.1 423.3h1M112.6 422.7h1M108.3 417.8h1M80.1 424.1h1M85.7 417.9h1M71.1 417h1M90.7 420.1h1M70.1 430.1h1M65.2 413.5h1M90.5 426.4h1M77.5 428.1h1M85.7 419.7h1M82.8 418h1M75.2 424.7h1M90.6 416.4h1M72.5 409.1h1M94.8 431h1M78.3 411h1M106.5 416.5h1M79.6 415.5h1M97.9 419.6h1M101.4 426.9h1M85.6 417.4h1M67.2 418.5h1M98.8 422.8h1M66.4 416.3h1M93.5 424.2h1M62.9 429.6h1M80.3 424.1h1M84.9 433.9h1M77.4 425.3h1M90.4 425.2h1M95.9 402h1M89 416.9h1M90.1 427.6h1M108.5 412.1h1M98.9 419.2h1M93 426.6h1M78.3 428.6h1M68.8 422.1h1M77 420.7h1M101.4 423.6h1M88.7 406.5h1M98.3 422.3h1M65 414.7h1M88.9 410.7h1M81.7 419h1M60.6 423.9h1M87.9 423.4h1M93.5 410.6h1M66 414.9h1M104.2 413.3h1M91.8 423.3h1M83.8 427.1h1M70.6 424.2h1M71.7 424.3h1M81.4 432.3h1M100.6 420h1M84.7 419.8h1M59.5 427.5h1M58.9 411h1M90.3 412.1h1M81.9 421.1h1M100.1 433.9h1M94.8 414.1h1M100.4 421.3h1M105.5 415.6h1M100.8 425.7h1M92.1 423.7h1M98.1 416.5h1M101 418.1h1M95.8 408.7h1M67.8 413.1h1M94.6 424.4h1M104 402.2h1M94.4 431.2h1M81.6 413.9h1M73.6 431.6h1M88.5 410.2h1M103.3 414.6h1M84.4 420.7h1M69 428.5h1M108.6 434h1M95.6 417.7h1M106.9 430.5h1M89.1 419.3h1M68.9 418.3h1M111 427.5h1M82.6 414.6h1M93 411.6h1M92.8 429h1M101.7 422.9h1M95.4 421.1h1M109.7 422.6h1M85.8 406.5h1M104.8 425h1M113.1 434h1M83.4 420.8h1M70.1 425.1h1M86.1 422.5h1M108.2 429.6h1M92.7 425.4h1M103.9 405.4h1M87.8 426.7h1M73.5 407.1h1M65.1 419.3h1M83.1 431h1M105 416.6h1M96.7 439.1h1M94.2 424.6h1M95.4 421.9h1M82.2 424.5h1M100.2 427.3h1M97.6 414.2h1M103.8 424.7h1M106 442.3h1M86.5 424.3h1M60.6 419.9h1M102.5 416.7h1M80.3 422.6h1M82.7 419.6h1M81.7 411.3h1M83.4 412.3h1M70.7 419.4h1M93.3 418.5h1M107.8 431.9h1M86.6 427.8h1M69 421.7h1M81.5 428.1h1M84.2 419.2h1M83.5 413.5h1M92.4 409h1M85.5 421.6h1M87.1 424.7h1M87.8 428.3h1M67.9 402.9h1M93.8 414.7h1M102.6 421h1M92.2 419.5h1M89.7 406.2h1M93.5 418.1h1M75.1 413h1M73.7 432.1h1M63.8 413.4h1M70.4 433h1M72.1 420.7h1M85.9 427.5h1M90.7 419.1h1M81.6 412.6h1M87.4 430.1h1M75.7 418.3h1M72.2 428.5h1M70.6 414.7h1M74.6 391.8h1M59.1 386.2h1M106.1 397.4h1M73.7 400.2h1M65.3 417.5h1M94.1 408.3h1M84.8 413.9h1M98.2 420.5h1M88.4 389.2h1M83.4 395.4h1M100.2 390.8h1M95.2 381.8h1M79.2 410.3h1M111.4 426.5h1M61.2 421.1h1M105.5 425.4h1M69.7 384.5h1M88.1 420.9h1M104.2 382.9h1M89.7 421.5h1M91.1 389.9h1M71.9 398.6h1M76.3 417h1M111.9 397.5h1M62.3 400.5h1M107.9 379.9h1M111.5 424.1h1M67.2 388.2h1M112.9 415.3h1M59.1 414.8h1M61 417.1h1M84.6 389.2h1M78.5 417.7h1M100 416.1h1M111.7 409.5h1M61.3 402.2h1M96.4 427.6h1M75 399.3h1M100 402.6h1M91.6 387.2h1M71.2 393.5h1M102.8 403.1h1M68.3 399.3h1M71.3 404.3h1M109.9 388.9h1M67.4 416h1M82 418.7h1M61.1 378.4h1M105.8 410.6h1M85 424h1M78.3 383h1M59.5 395.3h1M76 412.6h1M74 389.8h1M98.1 398.5h1M73.4 403.5h1M76.5 417.1h1M62 416.9h1M68.1 395.2h1M70.7 420.9h1M70.8 411.6h1M99.8 405.2h1M58.5 424.7h1M89.9 391.4h1M71.9 391h1M97 418.5h1M107.1 391.7h1M87.5 392.7h1M89.1 407.5h1M109.8 387.5h1M58.9 414.9h1M64.7 415.2h1M61.8 387.5h1M85.7 385.8h1M104.3 397.7h1M79 386.1h1M85.8 427.7h1M109.3 417.6h1M99.9 416.8h1M97.9 423.9h1M77.7 418.9h1M111 415.4h1M62.7 391.8h1M61.4 417.5h1M102.9 420.3h1M109.2 392.3h1M82.6 385.6h1M112 392h1M102.3 417.4h1M109.5 408.2h1M103.2 412.3h1M100.1 420.5h1M64.5 425.7h1M73.6 418.1h1M72.8 409h1M85.8 413h1M87.6 396.6h1M110.6 413.5h1M64.5 419.7h1M113.4 422.4h1M85.6 415.1h1M113 426.7h1M72.8 413.8h1M94.5 424.3h1M95.2 388.2h1M84.9 418h1M99.6 411.4h1M95.5 396.5h1M80 396h1M61.9 420.7h1M72.9 409.3h1M101.3 391h1M61.8 426.6h1M82.1 401.3h1M80.9 406.1h1M84.7 398h1M87.6 409.7h1M83.7 400.2h1M84.4 425h1M93.8 425.9h1M112.8 421.4h1M106.8 409.2h1M58.7 412.6h1M63.8 417.5h1M109 418.8h1M95.6 408.2h1M61.4 412.3h1M69 413.5h1M79.3 415.3h1M69.1 393.3h1M81.6 424.8h1M75.8 404.9h1M109.1 414.6h1M70.6 419.2h1M67.2 407.5h1M67.7 398.9h1M98.9 412.9h1M92.3 384.8h1M113.4 400.9h1M86.2 409.9h1M62.5 424.3h1M100.9 406.4h1M72.4 421.2h1M100.7 400.9h1M105.6 414.5h1M61.5 423.1h1M60.9 424.4h1M106.6 423.4h1M104.1 395.9h1M89.1 413h1M90.6 390.4h1M105.4 424.8h1M67.9 409.6h1M103.2 392.6h1M100.6 423.4h1M76 408.5h1M60.6 421.4h1M102.9 392.9h1M68.2 416h1M112.6 410.5h1M73.6 415.3h1M88.1 411.2h1M113.7 408.5h1M62.1 399.3h1M109 397.1h1M110 422.4h1M62.9 419h1M92.5 396.9h1M100.6 407.3h1M96.4 415.2h1M61.3 395.6h1M69.9 418.1h1M78.2 418.1h1M110.8 418h1M63.3 398.8h1M113.1 417.6h1M65.4 391.1h1M59.5 387.6h1M70.9 413.3h1M68 397.8h1M92.9 402.3h1M107.2 378.6h1M74.5 398.4h1M99.9 418.6h1M60.3 411.7h1M58.9 426.3h1M85.8 409.7h1M62.4 423.9h1M77.4 402.6h1M70.1 399.9h1M72.3 377.6h1M67.4 409.6h1M112.1 417h1M74.5 391.9h1M74.1 387.4h1M88.3 389.1h1M91.9 419.4h1M84.4 420.7h1M70.2 414.2h1M68.1 400.3h1M65.9 392.8h1M60.2 407.8h1M106.3 415.3h1M62.3 422.2h1M112.1 400.9h1M104.5 416.1h1M104.4 419.1h1M80.5 415h1M63.8 413.9h1M100.3 427.2h1M77.4 377.7h1M106.2 413.5h1M77 381.4h1M72.7 387.7h1M71.9 406.2h1M63.5 395h1M112.6 422.5h1M65.5 425.6h1M63.4 426.3h1M77.6 397.8h1M97.6 407.7h1M111.1 427.3h1M112.4 423.2h1M74.2 396h1M86.1 383.2h1M90.9 418.6h1M105.9 412.6h1M94.6 422.5h1M95.1 408.9h1M106.6 404.8h1M89.4 391.1h1M78.2 423.2h1M110.6 421h1M97.5 425.8h1M82.7 426.7h1M109.6 397.3h1M59.2 427.7h1M94.1 376.2h1M95 413.5h1M73.7 397.8h1M71.6 406.2h1M87.3 426.9h1M63 397.6h1M59.2 389.7h1M82.3 418.9h1M77.6 417.7h1M89.7 395.2h1M80 404.4h1M72.5 399.6h1M110.9 423.5h1M62.9 420.8h1M69.4 382.9h1M63.2 395h1M113.2 427.3h1M88.3 396.6h1M94.4 424.8h1M73.9 404.9h1M79.3 399.6h1M102.9 426.3h1M95.7 393.9h1M69.1 420.2h1M99.4 411.6h1M63.5 411.5h1M61.2 390.1h1M59.1 398.1h1M81.2 390.4h1M108.5 409.9h1M109.2 419.9h1M65.6 415.3h1M85 421.9h1M110.5 402.8h1M67.9 426.1h1M67.5 398.1h1M109.2 400.3h1M82.1 418.2h1M93.8 417.1h1M106.9 400.7h1M63.9 392h1M82.2 425.5h1M64.3 425.1h1M74.2 420.5h1M87.2 418.5h1M67.5 421.8h1M76.4 426h1M80.1 425.8h1M68.7 409.7h1M68.7 409.9h1M107.6 423.4h1M105.8 426.8h1M88.9 377.8h1M110.9 378.3h1M66.7 427.1h1M111.8 407h1M69.6 425.7h1M87.9 420.8h1M110.7 426.1h1M62.8 393.7h1M59.1 417h1M92.2 389.5h1M113.3 422.2h1M104.8 395.4h1M71.3 384.6h1M89.2 420h1M112.5 418.5h1M102.9 421h1M81.8 399.4h1M103.3 414.3h1M83.2 395.7h1M105.2 397.4h1M82 411h1M65.2 412.1h1M64.6 404.4h1M58.9 405.7h1M73.8 425.4h1M98.1 392.3h1M73.2 415.1h1M92 428h1M65.9 412.9h1M69.2 393.7h1M97.8 395h1M114.7 401.6h1M104.1 409.6h1M99.4 409.5h1M66.1 417.1h1M71.9 375.6h1M112.7 411.8h1M112.9 427.8h1M66.2 406.7h1M73.6 416.5h1M94.2 407.7h1M71.3 427.5h1M62.4 420.3h1M95.6 403.1h1M69.8 396.5h1M74.1 390.8h1M63.1 407.2h1M98.4 422.9h1M60.3 383.3h1M67.5 403.5h1M77.5 419h1M98.6 405.1h1M79.8 415.1h1M101 419.8h1M94.8 409.6h1M66.1 413.5h1M78.2 384.6h1M105.5 393.3h1M93 390.6h1M86.7 379.9h1M60.6 427.6h1M110.6 409.3h1M97.2 410.6h1M70.9 414h1M113 422.2h1M82.1 425.4h1M62.5 407.5h1M82.3 388.2h1M79.3 408.4h1M96 419.6h1M71.9 426.1h1M68.5 388.5h1M102.7 405.8h1M62.7 417.4h1M86.3 400.3h1M73.9 417.9h1M75.8 418.6h1M60.4 419.2h1M108.3 400.8h1M72.7 413.9h1M107.5 370h1M74 412.2h1M105.9 415.5h1M78.8 389.3h1M94.9 415.1h1M98.9 428h1M94.6 392.5h1M105.4 411h1M63.2 393.2h1M104.1 415h1M105 422h1M109.4 399.6h1M70.7 398.6h1M105.4 423.7h1M65.1 413.1h1M95.7 404h1M60.1 414.4h1M94.4 406.1h1M112.7 414.6h1M96.4 407.5h1M76.2 426h1M66.2 389.2h1M105.8 400.3h1M74.3 399.2h1M89.2 417.9h1M106.1 402h1M74.4 401h1M108.2 420.2h1M88.4 407.3h1M73.8 408.9h1M77.2 374.8h1M71.4 415.9h1M60.1 427.5h1M100.6 411.2h1M81.1 427h1M80.4 424.4h1M86.4 425.5h1M76.8 397.5h1M96.9 410.2h1M89.5 427.2h1M110.9 406.9h1M76.1 403.7h1M80.6 407.1h1M76.3 387.9h1M62.5 408.5h1M101.1 400.8h1M77.6 418.1h1M104.2 398.3h1M71.7 425.1h1M62.1 404.2h1M88.5 422.9h1M86.1 404.8h1M88.5 410.2h1M97.8 385.5h1M93.4 412h1M84 389.2h1M112.4 426.1h1M85.2 398.3h1M66 414.3h1M108.4 421.5h1M97.4 407.3h1M82.5 418.4h1M91.4 427h1M71.2 393.8h1M60.6 410h1M66.7 410.6h1M92.5 401.4h1M78 418.9h1M59.7 410.8h1M64.1 413.8h1M77.1 404.1h1M60.3 418.4h1M85.6 408.3h1M96.7 396.4h1M68.5 409.6h1M109.8 410h1M86.5 418.4h1M89.4 422.2h1M103.2 404.5h1M99.9 398.4h1M80.1 426.8h1M81.9 421.6h1M96.1 417.2h1M66.9 419.9h1M109.5 390h1M83.1 395.1h1M77.4 413.5h1M86.2 386.8h1M91.9 426.3h1M108.1 405.2h1M73.9 380.2h1M110 412.4h1M90.2 401.7h1M109 408.4h1M93.7 411.4h1M104.2 417.3h1M60.5 427.5h1M82.6 389.8h1M67.7 408.8h1M67.8 385.6h1M90.2 411.5h1M59 381h1M58.8 381.8h1M94.1 419.6h1M67.4 418.7h1M96 406.7h1M82.6 389.3h1M108.9 396.8h1M98.2 424.4h1M88 412.3h1M69.3 407.8h1M109.2 424.1h1M81.4 413.9h1M74 375.5h1M79.9 421.1h1M97.1 411h1M68.5 416.3h1M59.9 386.4h1M88.3 380.2h1M69.7 405.7h1M105.3 418h1M93.1 390.9h1M71 399.9h1M87.5 425.5h1M109.6 376.7h1M89.3 422.9h1M87.6 403.3h1M59.4 425.9h1M95.1 390.2h1M86.9 406.1h1M95.6 402.3h1M74.5 426.7h1M112.3 407.4h1M110.8 389.3h1M74.3 395.6h1M82.2 421.8h1M89.9 412.7h1M95.7 394h1M67.1 411.9h1M105.3 420.6h1M113 417.3h1M73.9 396.7h1M67.1 427.2h1M85.3 393.8h1M96.4 400.4h1M83.7 399.8h1M112.5 416.6h1M66.3 393.4h1M69.1 380.9h1M111.6 412.8h1M112.5 376h1M58.7 395.3h1M88.1 425.9h1M99.3 415.9h1M100.7 411.8h1M92.3 417.5h1M80.1 413.4h1M79.7 417.6h1M69.7 405.2h1M82.7 423.7h1M81.3 391.1h1M66.2 416.4h1M80.8 405h1M64.5 382.9h1M96.8 403.4h1M98.2 406.8h1M108.3 399h1M79.4 420h1M111.1 416.7h1M109.6 413.6h1M107.3 373.1h1M84.4 393.7h1M111.9 404.6h1M107 395.3h1M102 419h1M68 395.3h1M86.5 413.4h1M75.5 402.7h1M111.3 416.8h1M59 423.6h1M100 409.7h1M80.4 406.6h1M108.5 410.1h1M99.7 403.3h1M58.7 422.1h1M63.9 391.5h1M62.5 401h1M87.1 398.4h1M78.4 419.4h1M106 394h1M103.2 420.9h1M77.8 424h1M104 402.6h1M103.9 427h1M102.1 397.4h1M65.6 415.4h1M101.6 401.5h1M98.6 395.2h1M93.9 417.2h1M80.4 416.7h1M106.6 422h1M91.5 425.1h1M75.9 394.2h1M100.4 383.4h1M64.2 380.6h1M87.3 394.9h1M76.8 399.5h1M89.9 415.1h1M106.3 397.1h1M68.7 415.6h1M110.7 415.9h1M105.1 394.6h1M60.7 413.5h1M64.3 410.6h1M64.6 419.7h1M102.5 382.8h1M98.2 401.8h1M109.6 424.5h1M99 385.1h1M108.4 396.8h1M84.9 416.8h1M84.5 373h1M89.8 380.1h1M72 401.1h1M69.1 419.5h1M87.3 419.5h1M114.7 423h1M78.6 395.6h1M102.2 415.2h1M91.5 376h1M112.2 383.9h1M92.4 383.5h1M66.3 396.9h1M107.7 423.2h1M74.9 399.6h1M96.6 394.3h1M63.9 394.5h1M80.6 383.4h1M96.2 425.4h1M83.8 387.3h1M80.3 405.1h1M86.9 420.2h1M79 408.7h1M112.6 414.5h1M98.4 416.1h1M109.5 373.2h1M105.7 412.3h1M113 385.7h1M111.3 408.9h1M101.2 402.2h1M65.7 425.2h1M105.5 422.8h1M98.8 418h1M107.4 427.8h1M111.1 426.6h1M59.2 417.8h1M93.6 426.1h1M65.2 425.6h1M63.7 414.3h1M87.5 408.2h1M60.4 387.1h1M69.6 422.8h1M88.8 420.8h1M101.2 414.9h1M69.2 427.8h1M93.1 403.8h1M93.4 423.3h1M59.7 417.9h1M79.9 411.2h1M63 421.1h1M68.8 384.6h1M58.7 437.2h1M61.4 406.9h1M60.2 414.2h1M61.1 436.7h1M59.7 418.6h1M60.9 418h1M60.5 384.9h1M61.4 403.6h1M61.2 414.8h1M61.5 397.9h1M60 417h1M59.4 435h1M58.6 437.3h1M59 387.6h1M61.3 415.3h1M60.8 414h1M58.6 395.3h1M61.2 428.1h1M60.4 439.5h1M60.5 409.7h1M59.9 389.2h1M60.4 426.8h1M59.1 428.6h1M58.9 435.2h1M61 437.1h1M60 438h1M59.5 386.5h1M59.7 395.8h1M61.5 418.5h1M59.4 402.9h1M61.5 437.3h1M60.4 389.7h1M61.3 412.7h1M59.1 412.7h1M60.6 406.3h1M60.5 412.6h1M60.5 400.4h1M60.4 423.6h1M60.9 413.9h1M60.4 414.4h1M60.4 437.8h1M60 415.4h1M61.4 400.5h1M61.5 436.7h1M60.6 439.3h1M60.9 398.5h1M60.3 431.8h1M59.4 430.9h1M59.9 430.5h1M59.5 406.9h1M59 410.5h1M60.7 397.5h1M59.9 398.9h1M59.4 439.4h1M61.1 425.9h1M60.2 416.1h1M59.7 437.1h1M59.1 414.8h1M61 413.1h1M61.1 438.1h1M58.9 386.8h1M59.8 432.5h1M59.2 420h1M60.7 398.6h1M58.7 397.1h1M60.2 421.8h1M60.3 421h1M59.8 437.4h1M59.8 425.2h1M60 411.3h1M61.3 413.4h1M60.9 399.1h1M60.4 403.7h1M60.1 429.1h1M58.9 416h1M60.7 390.4h1M58.8 420.8h1M58.9 407.4h1M59.3 414.3h1M59.8 436.8h1M60.6 432.1h1M59.9 415.8h1M60 407.1h1M59.9 381.4h1M59.2 439.1h1M60.8 418.4h1M58.6 433h1M61 383.9h1M61.3 435.5h1M59.6 414h1M61.4 430.8h1M60 412.3h1M59.4 401.2h1M58.9 390.7h1M61.5 429.4h1M60.8 427.2h1M59.6 431.1h1M61.5 432.9h1M61.3 437.3h1M61.3 427h1M60.1 389.5h1M60.1 408.2h1M58.7 407.3h1M61.3 423.4h1M60.9 427.2h1M58.9 436.8h1M59.5 394.4h1M61.3 414.4h1M61.1 422.9h1M59.8 406.2h1M61.2 380.8h1M59.9 416h1M60.3 406.2h1M59.8 424.1h1M61.1 433.1h1M59.9 394.2h1M58.8 402.5h1M59.6 438.1h1M59.5 407.9h1M60.3 413.2h1M59.8 433.6h1M58.9 424.1h1M61 408.9h1M60.6 416.6h1M59.8 430.2h1M61.5 417.4h1M60.1 434.6h1M59.6 425.3h1M60.3 401.4h1M59.5 433.3h1M58.7 433.3h1M61.3 431.8h1M59.5 398.5h1M59.9 432.4h1M61.2 424.9h1M60 429.7h1M59.5 409.1h1M61 422.1h1M60.5 437.8h1M59.7 437.2h1M60.2 402.7h1M59.7 436.2h1M60.6 415.7h1M59.2 432.8h1M59 410h1M60.3 436.4h1M60.2 413.5h1M59.1 431.1h1M59.5 435.1h1M60.4 439.8h1M59.8 419.4h1M61 439.8h1M59.6 425.8h1M59.8 391.5h1M61 439.3h1M61.5 435.6h1M61.1 433.5h1M59.6 429.7h1M58.8 431.1h1M60.4 408.2h1M60.5 416.3h1M59.1 427.4h1M58.8 433.8h1M58.6 397.7h1M59.7 427.1h1M132.3 429.1h1M185.9 433.4h1M178.1 451h1M192.5 430.5h1M125.4 447.4h1M172.3 439.4h1M132.6 450.5h1M124.7 448.5h1M167.5 438.7h1M150.9 432.1h1M190.5 452.8h1M179.5 444.1h1M158.1 445.2h1M121.7 433.2h1M164.1 436.7h1M133.6 428.2h1M121.5 454.1h1M134.8 454.2h1M188.7 440.6h1M176.6 446.6h1M177.2 448.1h1M179 444.1h1M134.8 449.8h1M123.1 431.7h1M169.3 429.9h1M162.9 428.4h1M178.1 442.2h1M153.2 437.3h1M122.1 453.1h1M177.8 443.4h1M127.6 450.6h1M135.4 453.6h1M170.3 451h1M167.8 443.5h1M161.6 428h1M160.6 433.1h1M142 453.4h1M171 435.7h1M135.3 436.2h1M159.3 452.9h1M137.8 429h1M129.3 431.3h1M149.8 454.3h1M145.5 427.2h1M154.8 436.4h1M161.6 449.1h1M139.8 450h1M131.1 446.8h1M158 439.9h1M140.5 434.4h1M130.9 438.4h1M129.7 451.4h1M188.6 445.9h1M169.1 441.5h1M174.4 449.4h1M171.8 437.1h1M81 344h1M179 371h1M140 378h1M143 395h1M149 401h1M170 412h1M179 417h1M192 417h1M202 410h1M239 429h1M134 394h1M136 408h1M120 400h1M125 415h1"/>
<path stroke="#000" stroke-width="1.1" stroke-opacity=".9" fill="none" d="M307.5 422.2h1M304.9 429.2h1M307.5 442.1h1M308.3 443.5h1M315.3 426.5h1M320.5 446h1M307.1 426.4h1M317.5 428.1h1M308.9 424.7h1M321 426.3h1M317.6 428.4h1M312.4 423.9h1M319.3 439h1M312.8 438.8h1M307.1 438.5h1M307.2 430.6h1M317.2 441h1M317.1 429.3h1M327.1 438.7h1M306.3 423.8h1M319.7 431.6h1M305.7 428.3h1M305.6 446.5h1M323.2 420h1M307.9 436.7h1M309.4 437.4h1M319.4 438h1M309.5 441.8h1M303.9 426.3h1M297.5 432.6h1M314.7 443.3h1M321.7 420.8h1M308.1 438.9h1M318.9 425.7h1M302.9 429.3h1M320.9 426.4h1M307.8 447.6h1M295.8 420.4h1M301.8 436.7h1M318.5 429.2h1M308.9 439h1M316.7 443.7h1M317.3 439.6h1M322.2 433.4h1M320.3 420.2h1M305.3 432.7h1M319.6 430.2h1M322.3 440.7h1M316.6 438.9h1M318.8 435.9h1M314.2 442.8h1M317.3 437.7h1M319.3 432.6h1M307.7 438.5h1M308.6 438.4h1M327.2 435.2h1M320.3 437.1h1M315.5 426.4h1M312.1 450.8h1M325.1 436.6h1M306 432.8h1M307.9 421.5h1M318.6 435.9h1M327.4 439.3h1M298.8 438.4h1M307.6 441.2h1M319.1 439h1M307.2 435.3h1M309.4 439.8h1M312.6 448.5h1M314.2 438.3h1M311.5 425.6h1M324.9 440h1M305.8 436.4h1M309.1 437.9h1M322.2 432.4h1M304.3 431.3h1M311.1 438.3h1M311.9 427.5h1M324.9 439.6h1M319.4 432.8h1M317.5 429.8h1M311.4 426.4h1M320.9 423.4h1M311.9 427.7h1M318.8 436.2h1M322.3 430.7h1M320.2 436.5h1M322.2 432.2h1M315.3 426h1M317.6 423.7h1M310.9 442h1M322.3 430.7h1M318.3 438.1h1M308.8 421.3h1M309.7 427h1M312.2 421.6h1M308.3 423.9h1M319.7 440.7h1M320.6 443.4h1M312.6 426.8h1M306.6 434.2h1M315.5 416.7h1M306.6 421.6h1M321.1 439.7h1M317.9 440.1h1M306.5 441.6h1M307.3 439.5h1M307.8 436.5h1M325.2 433.2h1M315.3 438.3h1M306.5 427.5h1M308.3 428h1M303.4 427.3h1M312 441.1h1M307 439.2h1M326.7 433.6h1M303.8 429.4h1M318.3 442.9h1M310.2 424.8h1M306.8 438.4h1M320.1 438.2h1M317.5 439.9h1M324 432h1M301.2 436.2h1M320 426.5h1M320.1 430.6h1M315.2 441.4h1M323 422.4h1M313.6 442.1h1M312.5 420.4h1M304.3 430.5h1M291.2 427h1M325.2 431.7h1M324.5 424.1h1M314.7 443.6h1M310.1 425.1h1M303.6 435.2h1M304.2 439.4h1M322 437.1h1M322.1 426.2h1M310.5 446.3h1M319.3 431.8h1M306.6 420.6h1M316.4 427h1M318.4 430.3h1M301.4 440.1h1M305.9 431.7h1M312.2 426.3h1M320 431.2h1M313.9 425.7h1M318.5 422.4h1M321.1 436.4h1M306.4 434.9h1M316.4 427.8h1M316.7 437.6h1M321.1 429.4h1M315 427.1h1M319.1 428h1M316.7 422.6h1M319.9 438.9h1M312.8 414.1h1M305.6 439.7h1M327.4 422.8h1M314.8 422.2h1M316.4 428.7h1M322.9 434.5h1M329.5 434.3h1M319.1 432.5h1M317.4 425.5h1M309.6 428.4h1M312.5 426.1h1M323 427.8h1M308.6 438.5h1M304.9 425.3h1M321.6 428.8h1M312.5 427.9h1M312.4 440.1h1M313.1 427.6h1M318.1 440.1h1M320.6 422h1M317.2 438.9h1M318.4 442.2h1M321.5 432h1M306.6 433.6h1M314.6 425.4h1M311.7 427.6h1M303.4 435.6h1M314.3 441.9h1M301 440.8h1M330.4 429.4h1M314.8 422.9h1M319.5 440.9h1M306.8 420.7h1M312.2 420.6h1M306.7 438.8h1M307.6 426.7h1M309 428.1h1M317.6 437.9h1M323.7 442.1h1M315.5 427.4h1M316.2 428.7h1M310.5 427.3h1M299.4 433.6h1M314.7 438h1M322.6 438.2h1M312.3 445.7h1M311.4 441.5h1M320.7 429.2h1M300.4 436.8h1M324.7 440.6h1M318.6 437.1h1M306.7 437.3h1M309.1 443.4h1M314.3 440.9h1M330.7 425.1h1M319 424.2h1M320.9 430h1M306 433.6h1M308.8 444.3h1M307.5 420.2h1M319.4 442.7h1M314.6 441.4h1M307.6 440.7h1M310.9 438.8h1M319.6 424.3h1M312.7 423.1h1M318.1 445.2h1M315.5 442.3h1M302.3 425.8h1M323.4 434.1h1M317.3 442.9h1M301.1 420.5h1M310.8 441.1h1M319.3 431.7h1M320.5 434.1h1M319.3 429.2h1M318.7 418.6h1M321 434h1M319.3 438.9h1M321.3 433.2h1M305.3 448.3h1M322 440.9h1M317.9 443h1M322.4 437.8h1M322.4 440.2h1M305.4 450.1h1M315.5 421.5h1M321.5 442.6h1M306.2 434.3h1M315.7 425.1h1M322 429.8h1M318.5 443.1h1M314.4 439.4h1M302.7 437.6h1M302.7 432.8h1M303.5 437.8h1M314.7 439.3h1M311.5 449.5h1M322.9 427.9h1M321.7 442.7h1M320.9 434.7h1M307 426.1h1M321.3 435.5h1M314.6 427.6h1M320.8 433h1M320.5 434.2h1M312.8 439.5h1M315.4 420.4h1M317.1 428.2h1M310.3 418.7h1M309.9 442.3h1M317.8 429.5h1M320.1 440.4h1M311.9 427.1h1M306.1 436.1h1M329.7 435.3h1M310.3 442.7h1M312.6 421.5h1M304.9 429.2h1M319.2 435.6h1M299.1 440.5h1M311.2 438.5h1M306 437.7h1M322.8 429.6h1M321.1 435.2h1M325.1 436.5h1M317.8 436.3h1M306.4 438.8h1M303.9 436.3h1M307.8 442.8h1M329.7 419.8h1M311.4 444.2h1M319.2 430.3h1M306.6 423.6h1M321.7 435h1M320.1 431.6h1M316.5 437.5h1M315.6 426.9h1M300 426.5h1M307 440.3h1M304 438h1M301.6 436.7h1M317.2 442.2h1M311.4 449.4h1M311 441.2h1M313.5 427h1M312.9 440.3h1M307.1 446.5h1M309.3 423.9h1M322.4 429.9h1M306.5 435h1M307.9 428.6h1M319.3 426.3h1M306.2 432.4h1M325.8 441.1h1M303.4 420.2h1M317.9 438.4h1M323.1 440.5h1M324.9 444.3h1M309.5 424.8h1M307.2 441.2h1M317.9 430h1M311.3 423.6h1M307.7 426.3h1M311.9 425.1h1M306.2 427.3h1M311.7 439.5h1M309.9 420h1M321.5 432.2h1M305.2 435.9h1M328.5 433h1M322.2 435.2h1M317.1 427.5h1M318.2 438.4h1M302.2 435h1M322.6 427.1h1M325.5 447.1h1M318.5 427.4h1M311.2 427.1h1M315.4 426h1M306.1 432.1h1M313.4 443.4h1M314.3 438.9h1M306.7 432.8h1M319.8 425.7h1M319.8 423.3h1M318.9 433h1M302.1 436.4h1M306.3 424.4h1M314.3 422.5h1M303.9 443.2h1M309.7 443.7h1M290.3 433.5h1M321.9 435.3h1M323 427.8h1M304.3 432.4h1M312.7 427.9h1M313.3 425.4h1M302.1 432.5h1M326.8 447h1M317.6 422.2h1M318.5 431.2h1M307.4 430.7h1M306.8 430.3h1M317.8 439.3h1M324 435.1h1M316.7 442.5h1M298.6 440.8h1M321 434.2h1M319 441h1M309.1 443.6h1M308.6 443.2h1M314.3 421h1M304.8 432.5h1M315.8 421.4h1M316.5 444.8h1M306.5 438.8h1M316.4 428.6h1M305.8 441h1M306.2 432.1h1M313.4 440.8h1M301.4 438.9h1M306.2 433.1h1M305.8 425.4h1M306 437.6h1M320.2 445.9h1M308 437h1M311.3 439.1h1M307.2 436h1M319.8 432.2h1M318.5 435.9h1M319.5 429.4h1M315 439.9h1M316.3 444.1h1M313.7 443.9h1M313.1 427.7h1M311.5 426h1M318 439.1h1M319.5 434.5h1M310 437.6h1M311.3 438.8h1M323 441.8h1M322 437.2h1M317.6 440.6h1M320.3 432.1h1M313.5 422.5h1M304.3 429h1M311.7 440.2h1M326.4 425.9h1M314.4 425.6h1M302.8 428.8h1M318.9 429h1M309.4 427.1h1M326.1 425.6h1M322.6 424.9h1M302.2 426.8h1M320.1 433.2h1M327.2 426.6h1M324.4 440.4h1M318 430.3h1M323.1 438.1h1M323.3 423.9h1M307.2 429.8h1M305.1 446.6h1M308.2 426.5h1M308.7 441.3h1M319 429.4h1M311.1 426.3h1M307 448.9h1M328.1 424.3h1M302.6 425.5h1M305.5 446.8h1M299.7 443.1h1M303.7 427.7h1M310.3 453.6h1M322.3 432.3h1M313.2 438h1M304.3 434.6h1M326 438.6h1M313.9 425.9h1M322.4 435.1h1M310.1 440.7h1M312.6 442.3h1M298.3 438.9h1M321.2 440.8h1M313.4 438.6h1M314 424.9h1M317.8 438.1h1M310.4 423.8h1M321 432.1h1M304.8 409.8h1M312.5 427h1M307.1 426.4h1M315.7 439.4h1M324.4 432.1h1M318.6 443.5h1M320 439.5h1M301 431.3h1M319.1 431.1h1M309.2 428h1M304.5 430.3h1M311.1 441h1M299.2 443.8h1M308.6 439.2h1M304.9 431.5h1M317.7 425.4h1M317.6 415.7h1M315.5 423.9h1M316.2 437.2h1M304.7 441.6h1M310.1 449.6h1M316.4 444.3h1M296.2 427.3h1M300 429.3h1M318.8 443.3h1M320.9 432.1h1M321.5 421.7h1M307.2 426.9h1M324.7 439.9h1M307.6 428.9h1M312.1 425.8h1M320.1 426.5h1M329.2 442.9h1M310.2 450.2h1M303.1 434.7h1M306.5 434.6h1M310.1 426.5h1M310.1 441.8h1M322.1 430.5h1M319 437.3h1M305.8 442.3h1M331.2 434.3h1M308.9 428h1M316.1 440h1M309.7 442.7h1M329.7 430.1h1M326.1 447.4h1M309.2 415.5h1M288.7 434h1M292.6 431.6h1M306.3 440.9h1M304.5 435.1h1M332.1 440.5h1M345 428h1M326.2 424.9h1M323.9 436.8h1M319.6 449.5h1M323.4 445.8h1M320.2 439.4h1M320.6 446h1M316.5 439.6h1M311.9 439.2h1M311.5 409.9h1M331 434.6h1M333.4 438.8h1M307.9 427.5h1M300.3 438.4h1M308.3 438.8h1M331.5 417.1h1M306.3 435.2h1M306.1 443.5h1M306.4 435.7h1M319.6 428h1M315.1 426.1h1M330.5 453.7h1M319 435.2h1M325.9 433.3h1M318 447.7h1M304.1 432.3h1M309.4 424.6h1M328.1 452.9h1M318.3 429.7h1M316.4 447.7h1M314.4 444.9h1M323.1 440.1h1M290.7 431.2h1M299.1 433.3h1M302.3 430h1M325.2 431.4h1M322.8 431.5h1M314.2 423.9h1M306.5 431.8h1M317.1 424h1M316.8 441.5h1M335.3 433.4h1M324.9 447.5h1M307.6 428h1M320.3 435.1h1M305.5 447.5h1M294.9 430.7h1M310.6 426.4h1M304.5 427.9h1M305.3 449.9h1M306.8 445h1M313.7 446.4h1M305.9 427.9h1M309.7 440.6h1M306 444.6h1M291 428.8h1M312.6 426h1M316.1 438.5h1M319.4 424.1h1M329.2 445.3h1M307.6 418.7h1M313.2 427.4h1M302.2 431.8h1M301.9 433.5h1M295.4 425h1M302.2 423.5h1M298.3 438h1M303.2 424.3h1M324.5 440.5h1M319.2 434.6h1M329.5 443.6h1M312.6 420h1M320.5 416.7h1M307.9 437h1M292 433.8h1M329.6 435.2h1M320.9 430.6h1M345.7 430.5h1M309 423.5h1M318.3 430.5h1M309.8 441.5h1M308.4 429.2h1M309.7 428.7h1M321.1 451.9h1M324.1 452h1M317.9 429.7h1M330.5 439.3h1M316.8 452.2h1M294.2 432.4h1M321.1 429.9h1M327.3 438.1h1M308.3 440.1h1M297.6 433.7h1M328.1 422.8h1M342.5 439.1h1M301.8 437.3h1M321.1 439.5h1M320.9 446.6h1M302.4 425.5h1M299.8 445.3h1M321.3 419.1h1M315.2 427.9h1M325.5 440.6h1M304.4 438.3h1M330 441.1h1M294.5 439.8h1M306 438.9h1M301.1 430.8h1M305.1 446h1M320.6 434.1h1M319.5 434.5h1M306.1 431.5h1M304 429.2h1M297.2 426.4h1M311.2 427.2h1M322.7 429.1h1M322.9 422.1h1M321.3 421.7h1M323.6 432.5h1M318.5 445.2h1M298.4 434h1M322.2 430.9h1M323 439.7h1M323.6 427.5h1M307.4 441h1M309.1 443h1M310.6 424.3h1M297.4 426.5h1M297.9 448h1M320 440.2h1M308 426.4h1M302.3 430.3h1M323.2 428.6h1M310.4 442.3h1M308.8 423.4h1M302.4 437.4h1M323.6 436.4h1M305.5 429.9h1M320.8 424.6h1M313.9 451.8h1M308.7 444.7h1M297.2 439.3h1M322.6 438.9h1M313.6 438.8h1M307.1 416.8h1M301.4 439.6h1M301.6 443.8h1M312.1 450.2h1M319.4 427.9h1M304.8 439.7h1M312.9 426.2h1M302.5 454.1h1M338.4 415.5h1M311.4 439.3h1M303.5 444.1h1M297.1 426.3h1M328.6 439.3h1M319.8 446.1h1M325 432.2h1M317.4 448.2h1M306.8 431.5h1M316.5 418.1h1M308.1 417.9h1M318.4 423.1h1M329.1 419h1M321.7 428.2h1M320.6 426h1M333.3 429.4h1M309.1 425.3h1M299.5 432.5h1M300.2 438.9h1M301 446.5h1M330.8 434.9h1M317.8 452.8h1M305 432.6h1M322.1 430.1h1M323.9 444.7h1M312.9 427.5h1M327.5 425.5h1M303.5 436.5h1M302.4 426.6h1M307.2 439.9h1M325.7 425.3h1M327.8 422.6h1M316.6 441.2h1M306.7 421.2h1M303.6 423.5h1M340.3 433.8h1M318 437.6h1M310.6 447.4h1M328.1 428.1h1M312.8 419.5h1M311.9 426.3h1M338.1 433.8h1M312.3 427.5h1M308.1 428.9h1M328.5 422.7h1M307.7 429.7h1M312.4 454.4h1M331.9 411.4h1M317.9 449.4h1M329.3 424.4h1M317.7 422.9h1M324.9 436.2h1M303 441.7h1M319.8 436.2h1M301.9 423.5h1M315.2 448.5h1M323.8 436.1h1M307.3 442.6h1M326.5 453.9h1M298 425.5h1M303.8 440.2h1M319.4 432.2h1M317.5 426.8h1M306.9 426.7h1M334.6 438.7h1M330.7 433.9h1M314.7 419.5h1M309.5 423.8h1M303 436.1h1M305.6 431.2h1M320.4 442.5h1M301.4 435.6h1M305.4 426.7h1M311.2 444.8h1M324 443.6h1M302.4 436.2h1M304.7 428.9h1M313.2 438.4h1M322.3 449.4h1M328.6 407.4h1M321 428.4h1M294.6 433.2h1M322.6 425.3h1M300.2 442h1M303.9 434.8h1M311.1 450.5h1M329.8 443.3h1M305.2 431.7h1M315.3 424h1M319.7 419.7h1M297.7 429.9h1M319.1 437.1h1M317.3 450.6h1M318.1 425.7h1M318.2 424h1M300.1 439.3h1M314 440.4h1M323.7 434.1h1M299.6 419.4h1M320.7 436.8h1M311.5 438.3h1M311.6 423.8h1M306.3 432.9h1M310.8 439.4h1M323.4 441.4h1M310.2 442.8h1M313.7 449.8h1M300.9 424.5h1M312 438.6h1M302.7 439.9h1M316 442.1h1M310.6 440.6h1M324.3 432.1h1M301.6 436.8h1M324.9 443.5h1M311.3 438.3h1M313.1 425.5h1M296.6 435.4h1M310.5 444.3h1M296.8 429h1M315.8 427.6h1M316.5 446.1h1M330.7 430.6h1M318.1 435.5h1M311.2 439.1h1M319.6 440.7h1M305.1 438.4h1M300.5 417.6h1M328.2 431.9h1M316.4 448.4h1M295.8 430.5h1M301.2 448h1M322.1 448.2h1M313 450h1M305.2 444.5h1M299.7 440.3h1M318 428.4h1M303.3 428.7h1M325.4 439.4h1M314 440h1M308.3 429.1h1M321 425.3h1M320.3 430.8h1M297.3 431.5h1M314.8 437.7h1M314.3 444.5h1M321.1 428.7h1M328 441.4h1M305 430.7h1M302.7 446.6h1M317.9 441.4h1M319.2 432h1M304.9 426h1M337.8 440.1h1M305.8 431h1M299.8 440.2h1M319.2 436.3h1M337 424.1h1M328.8 434.7h1M330.1 436h1M300.9 423.7h1M304.5 448.6h1M301.8 439.5h1M314.7 426.9h1M317.3 443.1h1M323.5 429.9h1M324.5 434.4h1M325.7 420.9h1M313.9 425.7h1M300.9 450.4h1M330.5 436.9h1M330.4 430.6h1M330 445.9h1M320.2 445h1M306.3 427.3h1M325.1 441.9h1M323.3 435.3h1M328.9 433.8h1M327.6 435.3h1M327.2 437.7h1M299.9 431.2h1M311.6 441.9h1M335.6 450h1M319.9 439.2h1M308.3 427.5h1M306.7 436h1M341.5 443.4h1M332.4 439.3h1M299 436.1h1M309 445h1M318.8 411.9h1M313 440.3h1M322.1 425.1h1M296.9 419.2h1M295.3 431h1M331 440.1h1M308.3 420.2h1M302.9 433.4h1M311.6 420.7h1M303.2 419.8h1M312.3 438.7h1M327.2 450.1h1M300.8 438.4h1M321.1 437h1M319.8 439.1h1M322.7 442.6h1M321.7 427.3h1M326.1 420.5h1M319.7 433.7h1M320.3 428.8h1M310.5 441.3h1M325.4 448.1h1M325.4 426.3h1M317.7 442.6h1M341.4 437.1h1M304.4 427h1M323.3 420.8h1M310.2 408.8h1M329.3 435.8h1M317.9 424.8h1M306.4 444h1M307.1 438.1h1M309.5 438.7h1M316.3 437.6h1M313.4 442.7h1M317.9 442.6h1M323.9 429.6h1M316.9 426.7h1M334.9 425.9h1M326 427.3h1M315.4 426.2h1M320.9 439h1M303 436.4h1M328 426.1h1M305 427.1h1M333 438.1h1M328.2 440.3h1M314.3 441.5h1M295.7 437.8h1M326.3 429.4h1M325.5 434.2h1M328 437.6h1M310 422.2h1M319 439.7h1M326 437.7h1M304.6 437.4h1M308.6 444.2h1M306.5 427.6h1M330.3 434.1h1M314.9 427.3h1M291.6 434h1M326 448.1h1M306.1 438.6h1M314.3 423.8h1M311.5 428h1M315.8 423h1M323.6 441.4h1M315.8 438.1h1M300.5 451.1h1M329.4 428.5h1M321.4 428.4h1M321.1 422.8h1M305.7 444.3h1M314.4 444.8h1M320.6 444.5h1M315 448.6h1M330.2 433.4h1M336.4 433.9h1M293.6 433.8h1M309.4 443.2h1M314.9 440h1M316 423.5h1M309.5 422.4h1M322.9 438.7h1M331.1 439.6h1M299.3 436.9h1M317.7 422.2h1M303.7 437.9h1M317.6 419.5h1M335.3 425.5h1M319.3 435.4h1M309.5 439h1M324.1 438.5h1M334.9 442.1h1M327 443.4h1M309 427.9h1M308.2 418.9h1M311.7 424.4h1M289.3 435.4h1M316.7 439.4h1M302.7 432.4h1M303.8 419.9h1M310.2 425.4h1M309.8 426.1h1M312.2 444.2h1M321.4 448.4h1M317.4 440.8h1M345.8 420.4h1M306.5 431.4h1M319.4 440h1M317.8 436.3h1M293.9 427.7h1M325.6 431.5h1M323.3 414.7h1M306.6 439.3h1M317.4 440.4h1M313.4 422.6h1M328.6 416.2h1M306.6 451.2h1M313.5 424.9h1M303.9 438.2h1M304.8 443.7h1M288.9 435.5h1M302.4 432.5h1M293.9 431.4h1M320.7 432.2h1M310.9 422.5h1M312.9 438.5h1M305.1 430.5h1M325.7 426.4h1M306.1 423.9h1M302.4 426.9h1M327.8 433.4h1M330.1 421.3h1M321.2 430.2h1M310.2 423.7h1M330.9 419.3h1M329.9 447h1M292.6 437.7h1M319.3 448.4h1M319.2 445.3h1M317.3 422.4h1M324.2 429.2h1M312.8 440.1h1M309.7 440.1h1M320.5 434.8h1M316.9 426.8h1M294.5 445.6h1M317.2 438.9h1M297.3 442.2h1M322.4 431.1h1M305.3 432h1M304.8 444.2h1M303.9 445.6h1M338.1 431.8h1M315.3 439.8h1M327.4 440.9h1M322.6 431.8h1M302.2 432.1h1M305 425.7h1M297.3 436.9h1M304.5 442.7h1M326.4 431.2h1M316.3 438.7h1M321.1 437.4h1M305.4 436.1h1M315 418.3h1M331.4 434.2h1M308.7 436.7h1M316.6 428.7h1M321.4 439.7h1M305.6 422.1h1M331.7 437.4h1M327 441.7h1M311.7 441.7h1M320.5 450.7h1M311.5 426.7h1M317.7 427.1h1M318.3 440.6h1M324.3 427.7h1M307.9 440.5h1M306 427.7h1M324.5 440.3h1M327.3 430.2h1M313 444.4h1M321.8 422.9h1M321.5 435.8h1M305.1 431.2h1M315.8 446h1M317.4 426.7h1M302.8 434h1M332.4 421h1M322.1 442.4h1M329.6 435.4h1M322.5 432.8h1M321.3 436.8h1M305.7 428h1M314.8 427.9h1M292.7 439.3h1M327.3 442.6h1M319.4 434.1h1M315.3 428.4h1M300.8 443.9h1M299.9 435.5h1M327.6 440.5h1M307 434.5h1M314.2 423.3h1M327 428.8h1M308.3 424.6h1M326.7 435.7h1M318.9 436h1M320.1 424.6h1M298.1 419.4h1M305.7 438h1M324.8 445.2h1M309.6 443.4h1M310.5 428.1h1M320.1 430.3h1M338 451.4h1M322 434.2h1M319.2 448.7h1M314.8 421.5h1M303 431h1M321 439.8h1M304.8 440h1M290.1 441.8h1M325.3 445.9h1M318 428.7h1M320.8 430.8h1M326.3 434.7h1M312 427h1M321.6 448.5h1M322.6 412.8h1M318.1 437.4h1M322 438.2h1M308 439.2h1M320.9 446.6h1M321.4 434.2h1M312.4 439.8h1M303.5 425.8h1M298 440.8h1M298 405.1h1M320.1 423.1h1M316.4 446.9h1M322.8 433.3h1M305.6 435.7h1M322.7 427.4h1M292.4 435.3h1M298.3 439h1M324.8 429.5h1M302.3 431.7h1M304 427.8h1M307 431h1M314.7 446.2h1M312.5 454.8h1M325.5 441.1h1M318.1 440.4h1M314.4 443h1M299.4 427.9h1M328.2 433.1h1M312.1 427.9h1M332.1 427.8h1M338.1 423.6h1M329.6 435.1h1M335.4 425.3h1M309.6 442.5h1M313.4 440.8h1M328.7 430.9h1M320.7 437h1M299.4 435.3h1M325.5 434h1M315.8 448.8h1M310.5 427.2h1M302 440h1M306.2 433h1M326.6 428.6h1M328.6 428.4h1M304.3 433.9h1M306.5 436.6h1M319.2 435.7h1M315.4 425.2h1M335.6 437.3h1M312.8 423.7h1M297.6 430.2h1M303.6 432.5h1M330.1 435.1h1M315.4 438.9h1M315.2 440.3h1M305.4 442.7h1M309.4 439.9h1M319.7 444.7h1M312.4 426.9h1M320 446.2h1M305.2 437.6h1M317.3 429.4h1M328.3 425.7h1M324.5 435.6h1M305.1 427.8h1M318.7 434.7h1M304.2 444.5h1M325.3 425.9h1M322.7 427h1M322.3 426.3h1M336 426.3h1M335.2 437.1h1M327 428.2h1M305 436.8h1M321.5 433.3h1M310.8 438.4h1M307.8 437.6h1M318.3 429.5h1M330.6 427h1M309.4 427.1h1M320.2 446.4h1M323.7 430.1h1M332.7 424.4h1M296.7 448h1M305.6 439.2h1M303 420.5h1M336 428h1M310 441.4h1M330.1 427.6h1M316.2 448.9h1M295.4 434.7h1M325.1 430.1h1M327.5 435.8h1M326.7 427.1h1M332.7 431h1M315.3 439.8h1M294.6 412.1h1M301.8 435.5h1M314.5 422.1h1M322.3 433.3h1M325.1 441.4h1M323.9 440.3h1M303 440.6h1M292.8 431.4h1M298.7 433.7h1M311.7 441.5h1M338.3 427.1h1M303.9 436.3h1M316.1 438.7h1M306.7 434.3h1M308.6 438.7h1M306.4 426.7h1M306.4 431.2h1M319.7 430h1M331.6 419.7h1M308.3 428.3h1M319.8 445.5h1M306.2 429.9h1M298.2 428.9h1M312.4 439.8h1M297.1 438.7h1M324 418.6h1M329.6 415.8h1M314.1 440.9h1M306.6 432.6h1M321 450.9h1M321.3 451.6h1M314 426h1M322.3 440.7h1M320.7 449.5h1M310.2 447.9h1M326.9 438.9h1M316.7 440.5h1M295.3 426h1M313.2 440.9h1M306 434.6h1M316.7 422.3h1M305 429.6h1M306.1 434.5h1M319.5 429.9h1M303.7 425.4h1M326.8 428.8h1M306.7 432h1M291.9 415.1h1M304.3 440.2h1M299.3 433.4h1M303.2 430.1h1M322.2 427.3h1M296.3 434.1h1M304.5 442h1M314 422h1M317.7 422.6h1M315.4 440.1h1M306.8 435.6h1M307.9 441.8h1M299 433.6h1M322.8 440.5h1M310.3 425.4h1M332.2 414h1M293.9 457.7h1M322.2 435.2h1M315.9 438.4h1M301.6 429.2h1M319.4 435.3h1M309.9 428.2h1M325.8 430.3h1M301.6 425h1M301.1 430.9h1M320 448h1M305.4 432.3h1M321.7 435.9h1M308.5 438.4h1M302 443.3h1M313.3 419.5h1M312.6 439h1M312.5 438.9h1M304.6 438h1M311.9 439.3h1M313.4 423.2h1M336.2 437.9h1M311.8 423.3h1M319.2 414.3h1M308.9 439.8h1M300.2 429.9h1M302.1 440.7h1M302.3 435.5h1M318.9 442.7h1M321.1 417.7h1M323.8 436.8h1M326 422.9h1M321.7 433.8h1M321.4 432h1M328.9 435.2h1M338.9 433.4h1M296 424.2h1M316 450.9h1M319.7 431.2h1M308.2 425.9h1M307.1 431h1M311.1 427h1M308.5 427.9h1M325.3 427.6h1M302.9 434.2h1M320.7 436.9h1M306.3 418.5h1M318.1 419.8h1M333.2 438.3h1M303.2 443.7h1M324.6 436h1M326.3 442.4h1M300.5 427.8h1M331.4 424.6h1M340.4 444.5h1M320.4 438.1h1M325.6 423.1h1M318.7 442.4h1M321.8 425.3h1M318.8 427h1M314.2 425.6h1M303.5 414.6h1M330.5 427.7h1M309.3 440.1h1M320.4 440.7h1M324.8 416.4h1M304.3 440.9h1M318.3 438.3h1M319.2 431.6h1M329.2 431.9h1M317.3 419.3h1M309.7 441h1M321.5 440.7h1M330.7 441.7h1M310.2 425.6h1M304.2 443h1M324 433.2h1M321.2 434.5h1M302 430h1M299.2 427h1M303 432.1h1M320.9 428h1M330.4 436h1M334.7 444.7h1M329.1 426.1h1M331.8 431.3h1M324.3 437.6h1M303.8 429.3h1M331.9 433.5h1M308.4 443.6h1M306.8 439.7h1M304.3 432.8h1M304.3 443.8h1M321 451.8h1M305.7 435.6h1M328.3 438.7h1M302.5 426.1h1M319.2 438.8h1M303 436.5h1M326.2 419.5h1M316.9 424.2h1M301.8 436h1M329.5 431.6h1M320.3 438.6h1M343.9 427.3h1M308.9 429h1M317.5 418h1M320 420.1h1M307.5 424.8h1M301.9 424.9h1M316.8 428.1h1M321 425.4h1M321 437.5h1M349.5 437.8h1M325 433.9h1M318.4 437.9h1M323 434.2h1M323.5 431.7h1M296.1 434.4h1M310.1 426.4h1M313.4 423.9h1M307.3 428.3h1M296.4 434.7h1M315.4 439.2h1M331.2 414.5h1M314 439.5h1M328 437.2h1M305.6 431.9h1M310.6 439.7h1M307 429.6h1M306.4 436.6h1M320.4 446.1h1M310.3 426.8h1M298.2 442.2h1M306.5 427.2h1M311.9 425.2h1M328.6 433.6h1M316.1 428.1h1M317 444.2h1M302.6 446.5h1M306.6 442.2h1M323.8 429.4h1M321.1 439.9h1M317.1 424.8h1M311.1 423h1M311.4 425.6h1M305 443.3h1M333.3 429.7h1M312.2 421h1M329.4 441.8h1M297.7 444.9h1M323.9 436.1h1M287.5 437.8h1M300.8 445.6h1M299.4 440.7h1M294.2 427.5h1M328.8 419.5h1M309.6 409h1M311.6 440.7h1M311.2 422.3h1M302 446.4h1M305.2 434.4h1M293.2 439.8h1M323.5 427.2h1M299.5 440.4h1M312.3 442.1h1M304.2 436.3h1M319 430.1h1M324.9 434.7h1M305.1 446.6h1M329.9 434.9h1M318.8 452.5h1M309.6 423.5h1M312.7 443.5h1M318.5 446.4h1M333.3 441.2h1M306.4 442.7h1M293.5 434.3h1M304 434.7h1M314.5 427.9h1M307.2 424.9h1M301 430.6h1M298.4 447.3h1M323.1 442.9h1M314.2 439.3h1M319.6 450.6h1M316.1 439.1h1M337.5 433.9h1M338.9 437.4h1M320.1 433.3h1M305.3 441.9h1M303.6 445h1M303.5 424.9h1M326.7 421.8h1M321.3 429.7h1M323.9 441.1h1M311.2 439.9h1M311.4 421.2h1M310.4 426.7h1M297.1 442.9h1M317.7 420.7h1M306.9 441.9h1M306.6 429.1h1M327.5 444h1M308.8 440h1M310.4 422.5h1M307.4 437.6h1M320.4 427.1h1M320.4 436.7h1M302.6 424.3h1M333.3 424.7h1M307.7 417.2h1M310 438.4h1M324.1 425.2h1M322.4 437.8h1M307.9 442.7h1M327.4 435.9h1M310.1 426h1M315.7 422.5h1M303.4 430.1h1M303.3 433.5h1M329 436.1h1M313.3 421.6h1M302.7 429.3h1M326.2 434.1h1M323.8 433.4h1M311.5 447.5h1M321 431.3h1M320.2 446.3h1M303.7 450h1M318 427.2h1M324.7 436.8h1M306.9 444h1M307.9 416.1h1M300.3 437.2h1M313.3 425.9h1M307.2 444.9h1M338.9 437.2h1M319.2 435.3h1M303.6 427.4h1M322.4 434.9h1M298.4 434.8h1M322.8 432.6h1M328.7 442.6h1M290.9 431.3h1M320.4 441.4h1M305.1 438h1M322.8 412.1h1M302.3 436.6h1M336.5 437.3h1M306.9 427.9h1M329 438h1M327.7 434.8h1M318.8 431.1h1M318.2 437.8h1M319.2 435.9h1M321.3 434.4h1M291.8 444.8h1M316.7 442.6h1M316.7 442.3h1M336.6 433.5h1M313.1 439.4h1M319.4 412.8h1M295.3 446h1M303.4 428.6h1M298.4 430.5h1M321.3 435.9h1M292.3 434.6h1M327.3 434.1h1M318.6 440.8h1M327.1 434.5h1M303 417.1h1M310.6 444.7h1M328.5 440.7h1M307.9 440.5h1M289.9 441.5h1M316.6 428.2h1M309.4 424.3h1M301.3 430.9h1M309.8 426.7h1M327.1 451.6h1M330.6 444.5h1M321.7 437.5h1M295.6 440.2h1M319.3 429h1M322.2 420.2h1M318.7 434.1h1M319.1 431.4h1M303.4 450.5h1M302.8 436.9h1M325.4 422.4h1M328.7 437.7h1M322.5 435.3h1M288.6 433h1M306.9 418.7h1M302.4 430.2h1M305.9 425.1h1M322.5 450.5h1M315.8 424.8h1M306.6 429.2h1M313.1 438.1h1M301.2 433.9h1M321 434h1M327 437.4h1M311.6 421.9h1M320.5 435h1M304.4 429.8h1M289.2 445.8h1M294.1 446.3h1M312.1 418.6h1M326.7 445.4h1M313.2 417.6h1M319.3 436.5h1M311.5 418.1h1M326.4 435.6h1M332.8 440.7h1M314.9 438.9h1M320.8 440h1M313.4 419.3h1M320.5 429.4h1M308.2 428.2h1M336.5 433.2h1M338.9 420.7h1M325.2 432.1h1M321.4 427.2h1M309.9 439.1h1M302.3 451.9h1M317.5 438.6h1M298.8 449.6h1M312.3 420.1h1M308.5 443.3h1M309.8 426.4h1M300.2 429.4h1M319.6 432.6h1M306.6 432.6h1M302.8 433.5h1M316.5 428.5h1M306.6 433.6h1M313 443h1M321.1 423.2h1M324.9 435.1h1M327.3 433.3h1M334 434.2h1M324.1 445h1M313.4 443h1M324.5 426.8h1M315.5 442.7h1M329.7 444.6h1M302.6 429.1h1M301 442.6h1M313.2 418.2h1M307.4 430.6h1M334.7 419.7h1M323.1 435.2h1M315.7 447h1M320.6 422.2h1M304 436.6h1M328.6 443.1h1M318.8 424.5h1M316.3 439.6h1M318.4 436.2h1M320.2 428.8h1M303.7 416.2h1M319.6 434.6h1M302.9 426.9h1M302.2 420.3h1M321.8 434h1M321.4 437.9h1M322.7 445h1M295.2 446h1M333.1 430h1M306.7 439.7h1M319.5 432h1M297.4 444.1h1M322 435.4h1M313.7 442.2h1M321.9 432.8h1M311.1 426.6h1M292 430.3h1M323.2 431.7h1M318.4 449.7h1M330 431h1M296.2 427.5h1M315.5 443.5h1M326 426.7h1M303 430.3h1M310.9 446.2h1M320.3 437.7h1M318.9 426.1h1M326.6 436.8h1M320.2 453.1h1M316 426.3h1M311.9 438.4h1M304.4 433.9h1M327.6 444.4h1M306.8 435.4h1M337.3 418.5h1M314.8 421.6h1M319.2 434.1h1M319.9 440.3h1M311.2 446.6h1M312.1 439.7h1M294 437.5h1M332.5 427.6h1M317.5 445.7h1M323.4 425.3h1M299.3 434.1h1M337.4 432.4h1M324.4 438h1M303.9 431.5h1M293 440.7h1M316.6 423.9h1M319.6 428.8h1M318 429.2h1M330.8 442h1M310.2 447.5h1M311.2 438.9h1M304.9 436.5h1M310.6 422.6h1M320.2 439.1h1M329.9 434.1h1M303.1 432h1M302.9 439h1M319.1 430.9h1M311.1 427.1h1M322.8 451.4h1M315.6 443.5h1M325.1 428h1M315.1 426.1h1M330 425h1M320.4 449.5h1M311.3 447.2h1M305.2 442.5h1M328.4 425.5h1M309.6 438.4h1M332.4 427.1h1M319.7 440.3h1M299.5 448.8h1M310 443h1M303.1 439.7h1M319.8 433.9h1M308.2 447.8h1M306.3 431.3h1M309.1 437.1h1M315.9 441.7h1M295.4 438.5h1M327 444.7h1M317.4 426.1h1M296.9 435.5h1M305.3 430.5h1M327.8 430.9h1M335.3 432.6h1M315.7 439.4h1M319.9 429h1M307.4 436.9h1M312.7 442.4h1M306.8 434.3h1M327.3 440.9h1M333.8 418.5h1M304.1 442.9h1M298.3 432.2h1M302.2 427.3h1M334.3 431.3h1M305.2 434h1M334.5 429.6h1M298.2 434.2h1M332.7 411.3h1M312.2 425.4h1M336.3 446h1M315.9 447.8h1M303.1 431.6h1M300.4 435.4h1M308 424.3h1M300.8 437.8h1M310 419.7h1M313.2 438.6h1M300.2 436.8h1M342.5 421.8h1M324.1 416.5h1M319.3 437.4h1M322.7 439.5h1M323 423.5h1M318.9 434.7h1M308.1 445.5h1M316.1 437.4h1M289.5 433.1h1M324.3 453.8h1M321 441.2h1M330.6 433.7h1M306.4 427.6h1M328.3 439.6h1M313.4 427h1M314.5 440.7h1M331.5 441.8h1M305.6 426.1h1M334.2 424.5h1M300.8 429.1h1M307.3 430.6h1M316.8 428.4h1M305.1 439.7h1M311.1 438.8h1M321.7 440.8h1M319.7 445.4h1M303.4 435h1M342.7 427.4h1M319.8 443.4h1M324.7 431.8h1M289.1 422.2h1M300 429.4h1M307.8 423.6h1M325.2 428.3h1M307.4 445.3h1M301.2 427.9h1M306 447.4h1M311.8 448h1M323.2 420.1h1M321.1 446.4h1M301.8 421.6h1M328.7 435.3h1M306.7 432.8h1M308.8 436.9h1M306.5 426.3h1M315.7 428.4h1M311.7 423h1M324.5 414h1M333.3 434.8h1M305.8 433.5h1M322.3 431.9h1M308.6 437.8h1M297.5 412.9h1M328.9 444.7h1M314.5 439.7h1M328.8 419.3h1M302.5 443.1h1M303.7 446.4h1M311.7 439.1h1M307 429.7h1M331.7 422.2h1M317.3 436.4h1M302.7 435.4h1M306.2 431.4h1M310.3 442.1h1M318.9 433.1h1M329.3 440h1M320.3 432.4h1M309.6 418.7h1M327.7 432.9h1M313.4 415.4h1M306.4 441.8h1M319.9 422.2h1M309.3 437.9h1M305.8 439.1h1M317.8 424.3h1M321.6 437.1h1M325.7 448h1M327.6 439.4h1M319.3 420.6h1M330.5 432.2h1M301 432.8h1M325.6 443h1M328.3 434.4h1M323.4 432.3h1M328 436.7h1M324.2 437.8h1M297.2 427.3h1M307.5 436.2h1M321.3 421.3h1M321.7 417.9h1M323 437h1M323.9 423.3h1M310 418.1h1M305.2 441.3h1M309.3 427.3h1M310.1 420.2h1M308.9 424.1h1M304 435.7h1M300.3 424h1M326.1 456.4h1M311.2 426.1h1M334.5 431.1h1M319.2 428.9h1M321.4 435.5h1M331.8 443.4h1M302.2 438.7h1M332.1 438h1M319.9 442.1h1M337.4 432h1M312 453.3h1M312.9 441h1M320 449h1M298.7 437.1h1M311 440.1h1M318 443.6h1M313.6 421.5h1M319.9 437.4h1M319 432.6h1M323.7 436.1h1M309.9 442.1h1M320.5 430.4h1M322.1 418.1h1M304.1 439.6h1M334.6 427.7h1M331.9 434h1M308.8 426.9h1M299.8 429.8h1M313.1 415.6h1M311.2 440.1h1M322 430.9h1M345 429.8h1M324.6 442.9h1M326.9 427.1h1M301.9 439h1M328.1 421.6h1M333.6 437.1h1M310.2 442.7h1M301.4 443.9h1M318.9 436.6h1M320.8 428.9h1M302.2 434h1M323.6 436.8h1M315.1 440.4h1M314.7 442.5h1M302.9 422.4h1M333.4 447.5h1M329.2 433.5h1M327.3 447.3h1M307.8 442.5h1M329 434.4h1M305.3 419.7h1M318.8 425.4h1M309.4 426.1h1M316.7 427.3h1M326.6 433.3h1M310.9 426h1M316.2 447.6h1M298.4 438h1M315.2 442.9h1M313.7 440.5h1M314.4 442.8h1M330.4 434.9h1M331.6 435.4h1M302.5 431.5h1M300.9 433.4h1M301 438h1M331.5 420.2h1M301.5 444.5h1M320.9 424.4h1M303.9 420.6h1M315.9 444.3h1M292.4 432.6h1M332.6 422.6h1M329 434.5h1M312.1 424h1M312.2 439h1M306.4 435.2h1M325.9 428.2h1M307.7 444.9h1M302.9 432.7h1M315.2 444h1M322.1 433.8h1M301.5 437.6h1M296.3 427.8h1M323.5 435.3h1M299.3 433h1M326 441.6h1M303.6 430.3h1M315.8 425.3h1M292.8 430.4h1M320.2 423.8h1M322.8 438.4h1M319.9 430.6h1M319.6 437.9h1M349.3 438.1h1M351.6 418h1M347.2 439.7h1M346.4 437.7h1M357.3 441.7h1M341.4 435.6h1M354.4 440h1M322.5 450.9h1M384.5 427.7h1M323.3 434.7h1M368.7 432.2h1M358.7 440.2h1M355.2 436.5h1M347.1 436.3h1M346.7 430.3h1M367.9 437.6h1M354.4 434.9h1M355.5 440.9h1M341.3 421.2h1M347.3 437.1h1M342.2 437.2h1M346.5 437.2h1M351.8 442.4h1M360.9 438h1M351.4 432.3h1M336.5 437.4h1M347.2 427.6h1M363.7 437.8h1M354.2 450.9h1M364.1 433.9h1M339.3 436.5h1M358.6 448h1M358.5 434.6h1M356.6 446.4h1M362.5 437.1h1M383.5 429.5h1M339.7 439.3h1M331.2 427.5h1M361.6 433.7h1M336.1 433.7h1M339.5 445.2h1M381.5 432.4h1M351.9 426.6h1M363.3 427.3h1M327.5 443.7h1M346.8 436.3h1M348.2 435.3h1M364.6 441.5h1M359.7 436.3h1M343.3 431.2h1M371.4 431.3h1M361.2 436.9h1M356.3 428.9h1M350.4 440.1h1M343.7 438.9h1M355.7 423.7h1M322 440.2h1M325.6 439.4h1M360.1 430.3h1M385.5 428.8h1M346.5 428.9h1M331.9 434.4h1M343.2 439.8h1M365.1 432.4h1M369.1 433.2h1M337.4 431.3h1M350.8 432.4h1M360.4 434.4h1M366.3 429.7h1M354.3 432.7h1M346.6 435.3h1M375.8 419.8h1M360.1 422.5h1M340.8 431.7h1M359.4 441.1h1M352.5 449h1M351.8 435.3h1M333 440.3h1M340.5 439h1M348.6 439.8h1M348.8 441h1M325.6 433h1M329.7 438.2h1M369.2 437.9h1M382.3 434.2h1M358.9 437.3h1M326.2 425.6h1M331.5 432.5h1M318.6 444.8h1M348.8 445.6h1M336.9 432.1h1M353.3 438.2h1M374.4 441.7h1M360.4 436.7h1M357 424.2h1M348.3 442.6h1M332.8 432.9h1M342.5 435.3h1M342.7 427.8h1M347.1 429.8h1M376.6 440.1h1M366.3 425.5h1M341 427.3h1M337.4 432.1h1M339.1 435.2h1M327 440.7h1M348.8 440.6h1M315.6 439.2h1M343.1 429.6h1M332 430.3h1M346.8 432.1h1M358.3 439.1h1M383.8 431.8h1M355.6 438h1M338.4 429.4h1M347 441.9h1M362.8 442.6h1M340.3 428.8h1M337.9 426.7h1M340.8 439h1M344.5 440.2h1M366.4 437.5h1M348.7 442.4h1M348.8 437.4h1M348.9 440.4h1M348.6 432.6h1M346.8 441h1M338.5 433.6h1M334.4 437h1M371.1 445.4h1M338.7 430h1M345.2 438.6h1M344.7 433h1M336 440.6h1M329.7 440.7h1M354.3 432.3h1M345.2 443.6h1M367.4 434h1M365.2 440.2h1M331 439.7h1M329.8 432.4h1M379.1 432.3h1M340.1 435.3h1M345.4 441.6h1M333.8 430.8h1M357.3 445.9h1M355.9 433.1h1M379.4 442.1h1M347.4 429.4h1M365.6 433.9h1M334.4 442h1M385.6 441.4h1M358.2 435.3h1M350.6 431.4h1M341.5 427.6h1M347 428.8h1M352.5 427.1h1M345.3 452.6h1M345.5 452.2h1M341.5 437.6h1M330 423.7h1M353.8 440.4h1M296.9 439.6h1M341 433.3h1M358.8 441h1M351.5 433.9h1M359 441.6h1M393.8 428.1h1M346.7 435.8h1M357.8 436.9h1M373.2 433.1h1M348.7 439.4h1M349.3 437.3h1M347.7 431.1h1M324.6 437.6h1M355.1 436.9h1M326.9 442.3h1M346.6 443.7h1M363.1 433.4h1M352.6 434.6h1M320 432.5h1M347.9 433.5h1M337 431.6h1M326.2 434.4h1M353.6 436.4h1M386.5 427.9h1M355.8 428.9h1M369.5 430.2h1M354.1 435.4h1M355.5 422.3h1M383.4 448.5h1M367.4 427.9h1M348.3 438.8h1M358 439h1M360.6 447.1h1M347.8 436.8h1M349.6 431.7h1M383.4 437.6h1M369.7 429.9h1M346.7 445.4h1M368.2 434h1M339.8 440.3h1M366.4 430.5h1M362.8 428.4h1M336.3 440.9h1M374.2 436.1h1M374.9 437.6h1M374.2 432.6h1M372.6 446.2h1M348.9 443.2h1M360.9 440.9h1M365.2 438.5h1M364.4 428.2h1M359.6 434.6h1M358 432.5h1M370.4 429.6h1M355.9 444.2h1M325.5 435.6h1M366.3 437.6h1M358 433.1h1M330.7 429.3h1M344.7 438.1h1M337.8 430h1M329.7 441.9h1M379.1 437.6h1M368.7 430.2h1M334.4 425.4h1M369.7 435.6h1M359.8 427.5h1M368.3 423.9h1M353.5 435.2h1M360.9 432.3h1M361.7 435.4h1M343.8 439.9h1M332.1 436.4h1M361.4 439.2h1M347.9 430.3h1M343.2 440.1h1M346.5 440.5h1M368.3 424.2h1M348 430.3h1M376.7 435.9h1M333 440.1h1M362.7 440.8h1M367.2 439.6h1M341.2 441.2h1M320.8 429.5h1M351.9 438.2h1M364.2 437.7h1M354.1 445.2h1M354.1 431.3h1M322.4 433.1h1M357.4 429.8h1M355.5 429.9h1M355.9 433h1M356.1 445.7h1M364.6 440.3h1M334.8 444.8h1M367.3 439.6h1M336 428h1M365.9 433.4h1M386 441.2h1M339.7 433.6h1M352.3 441.8h1M354.7 435.4h1M351.4 440.4h1M349.4 445.5h1M339.3 438.5h1M363.5 444h1M368.3 443.1h1M352.9 436.5h1M342.1 425.2h1M339.9 424.5h1M330.5 431.4h1M344.5 443.3h1M323.8 433.1h1M317.3 444.8h1M344.8 428.4h1M355.7 430.7h1M341.5 424.3h1M334 435.6h1M361.9 438h1M345 445.4h1M364.9 452.3h1M359.2 425.4h1M341 438h1M352.9 434.5h1M360.2 431.6h1M348.6 434.4h1M365.4 436.1h1M381.7 428.3h1M330.2 433.8h1M346.7 441.8h1M342.3 430.1h1M374.5 436.6h1M370.2 434.6h1M352.5 447.9h1M358.2 432.5h1M357.3 424.9h1M351.9 439.8h1M367.4 445.6h1M336.8 441.6h1M350.1 430.6h1M346.5 435.2h1M362.7 439.3h1M366.6 434h1M345.7 434.3h1M345.9 432.5h1M342.1 436.3h1M346.3 434.8h1M341.6 428.9h1M338.9 422.5h1M361.8 437.7h1M349.1 441h1M371.9 439.2h1M381.2 431.9h1M352 432.3h1M358.7 440h1M361.1 438.6h1M330.7 426.3h1M334.5 433h1M373.8 441.6h1M319.7 437.7h1M391 437.1h1M367.5 431.2h1M356.1 435.6h1M363.6 424.3h1M364.7 432.5h1M338 422h1M329.2 429.9h1M346.8 436.2h1M357.8 450.1h1M350.9 441.9h1M342 436.3h1M337.1 435.9h1M335 431.3h1M348.2 443.9h1M327.9 438h1M350.7 429.5h1M337.8 438.8h1M347.6 434.9h1M330 437.6h1M347.3 441.7h1M357.5 432.4h1M342.9 439.7h1M336.7 430h1M365.3 419.7h1M337.3 429.6h1M320.8 434h1M382.7 444.3h1M337.9 437.8h1M341.5 443.1h1M376.3 433.7h1M370.8 433.3h1M363.8 437.4h1M354 439.4h1M359.7 429.8h1M366.9 428.8h1M345.4 440.4h1M351.1 437.9h1M345.5 448h1M338.3 432.6h1M348.4 435.5h1M366.2 434.4h1M342.9 434.6h1M347.7 436.6h1M346.3 432.3h1M342.9 438h1M348.3 445h1M315 449h1M329.3 434.1h1M363 434.9h1M335.3 434.6h1M352.2 435.7h1M347.6 428.3h1M356.9 437.6h1M363.5 445.6h1M344.5 435.5h1M341.5 435.9h1M357.8 429.5h1M359.2 430.7h1M346.6 433.4h1M365.2 433.1h1M357.9 422.6h1M365.8 432h1M343.1 429.6h1M359.9 438.8h1M373.5 420.4h1M374.3 441.2h1M380.2 435.9h1M342.7 435.3h1M350.7 434.3h1M342.5 433.2h1M366 433.3h1M355.7 429.3h1M340.7 430.1h1M346.8 432.6h1M354.3 436.7h1M337.5 434.8h1M330.9 439.1h1M348 439.9h1M362.5 436.7h1M344.6 431.1h1M337.2 440.9h1M369.8 429.1h1M340.1 441.9h1M320.1 439.9h1M358.1 443.9h1M369.9 439.3h1M326.2 438.8h1M385.4 428.9h1M362.5 420.3h1M331.9 439.8h1M335.2 438.6h1M335 429.5h1M367.1 442.5h1M324.3 429.3h1M329.3 434.2h1M305.7 437.3h1M349.6 426.8h1M362.9 436.8h1M345.4 444.6h1M360.1 427.6h1M329.1 423.1h1M355.7 424.2h1M360.1 431.2h1M361.2 440.1h1M352.1 435.3h1M357.3 440.3h1M349.3 436.5h1M403.6 449.5h1M353.5 422.5h1M375.9 441.8h1M344.3 441.8h1M325.4 441.6h1M353.1 437.5h1M359.6 435.6h1M348 435.5h1M336.3 426h1M349.3 441.8h1M342.4 436.4h1M348.2 436.8h1M388.1 429.7h1M348.6 437.7h1M368.3 452.2h1M355 442.2h1M373.1 436.2h1M385.5 429.6h1M399 441.6h1M360.2 436.6h1M363.9 445h1M342.8 434.5h1M346.3 438.5h1M338.1 423.4h1M354.9 434.8h1M352 435.2h1M362.4 437.6h1M365.2 440.2h1M356.1 423.3h1M365.4 439.4h1M350.6 440.8h1M344.4 437.6h1M327.4 439.6h1M355.9 443.4h1M340 431.1h1M352.4 431.9h1M344.1 431.2h1M348.2 443.9h1M352 424.6h1M367.6 431.7h1M348.5 431.2h1M358.8 427.9h1M368.8 439.5h1M333.4 435.1h1M338.5 423.8h1M332.5 445h1M352.7 436.5h1M334.7 433.8h1M370.9 433.7h1M322.6 423.7h1M355.4 437.4h1M356.9 443.1h1M365 447.8h1M343.4 434.2h1M329.3 426h1M349.6 426.1h1M351.3 438.1h1M344.4 436.8h1M358.9 433.8h1M368.4 443.9h1M347.6 428.8h1M359.7 434.1h1M361.1 434.7h1M304.6 434.8h1M322.9 442.3h1M350.5 439.3h1M375.2 435.7h1M338.7 434.8h1M360.5 437.6h1M343.5 425.5h1M343.7 424.5h1M342.9 436.6h1M355.9 437.8h1M347.1 422.8h1M339.9 438.6h1M336.1 427.1h1M333 423.7h1M316.7 444.2h1M363.1 440.4h1M352.4 450h1M343.2 439.9h1M372.2 435.3h1M340.2 453.2h1M351.7 432.4h1M360.3 433.5h1M330.3 429.9h1M346.8 438.3h1M357.3 440.3h1M374.5 436.1h1M350.7 432.3h1M339.7 443.2h1M324.5 433.7h1M365.5 436.4h1M352.6 437.8h1M346.9 433.4h1M367.3 442.2h1M315.5 424.2h1M347.7 437h1M326.3 433h1M325.4 439.4h1M377.3 428.9h1M327.6 431.9h1M350.3 438.5h1M356.6 440.9h1M344.7 436.5h1M372.1 430.1h1M315 426.9h1M319.5 443h1M372.5 435.5h1M340.2 431.7h1M334.6 441.3h1M357.2 439.5h1M320.3 440.5h1M383.7 440.1h1M352 434.1h1M392.2 437h1M361.1 430.1h1M328.9 435.8h1M345.2 427.1h1M361.9 437.5h1M358.1 435.7h1M380 436.4h1M348.2 434.4h1M329.2 438.1h1M320.2 438h1M351.7 437.9h1M346.9 438.4h1M372.3 438.6h1M360.7 439h1M336 443.2h1M336.3 439.8h1M345.7 435.7h1M345.6 437.8h1M364.5 429.2h1M370.8 438.1h1M320.2 444.4h1M348.7 443.1h1M342.1 440.5h1M358.2 445.3h1M363.2 430.7h1M350.5 442.2h1M345.7 421.3h1M345 438.5h1M344 431.1h1M361.3 446.5h1M363 443h1M346.7 431h1M352.8 434.7h1M359.5 443.8h1M335.7 434.4h1M349.4 428.8h1M343.7 431.5h1M371.7 436.4h1M330.8 439.5h1M334.4 429h1M362.2 432.9h1M380.4 439.6h1M343.6 442.4h1M342.2 435.9h1M325.8 440.1h1M357.6 428.9h1M349.6 441.9h1M351.2 447h1M337.1 427h1M363.4 435.9h1M357.6 431.9h1M386 429.6h1M349.6 437.6h1M337.7 431h1M369.1 429.7h1M395.2 431.2h1M344.3 442.1h1M369.7 431.6h1M340.8 433.9h1M346.6 437h1M336.8 441.5h1M371.8 430.8h1M357.2 418.1h1M365.1 452.2h1M379.9 446.7h1M313.4 440.7h1M320.8 439.1h1M342.7 433.6h1M344.5 418.9h1M349.8 433.4h1M379.9 431.3h1M357.9 436.6h1M351.4 444.2h1M343.9 439h1M330 443h1M329.3 432.2h1M361.4 417.2h1M334.7 447.6h1M354.6 436.3h1M370.3 436.8h1M355.7 441.5h1M336 443.8h1M369.7 435.9h1M348.6 430.8h1M325 439.2h1M342.8 437.2h1M359.9 427.5h1M324.3 439.6h1M350.2 432.6h1M354.2 436.1h1M342.8 432.1h1M364.8 436.3h1M358.9 422.9h1M342.5 437.3h1M353.7 441.4h1M372.1 436.4h1M345.1 425.5h1M369.2 427.2h1M351.1 441.4h1M361.8 436.6h1M351 437.9h1M348.2 442.4h1M375.7 434.3h1M337.6 431.3h1M327.5 427.5h1M335.8 436.5h1M372 432.7h1M329.5 432.6h1M359.4 428.9h1M365.3 437.2h1M343.9 432.6h1M345.5 423h1M350.1 444.2h1M328.5 439.2h1M352.1 427.3h1M335.4 445.3h1M349.7 443.1h1M368.9 447.4h1M347.9 436.5h1M360 423.2h1M373.8 433.2h1M348 428.2h1M365.6 434.2h1M353.1 435.8h1M350.2 426.4h1M344.7 433.7h1M372 432.8h1M333.6 440.7h1M371.3 425.9h1M341.3 451.4h1M368.3 427.3h1M362.6 435.1h1M350.7 437.1h1M340.3 442.9h1M370.4 435.7h1M348.5 449.7h1M335.5 443.6h1M340 440.4h1M320.8 445.3h1M346.9 428h1M338.3 439h1M338.5 436.3h1M367.9 432h1M343.2 432h1M351.5 439.8h1M358.1 432.8h1M363.4 434h1M375.5 440.7h1M377.8 439.8h1M361 445.8h1M346.7 433.3h1M329.4 438.5h1M340.4 433.7h1M330.2 436.6h1M324.4 431.7h1M330.6 435.3h1M335.5 431.6h1M377.8 429.2h1M352.8 436h1M343.7 430.4h1M351.5 428.2h1M322.5 421.3h1M337.6 443.8h1M358.8 445.4h1M353.5 444.1h1M330.7 443.3h1M368.9 433.3h1M371.8 439.2h1M362.8 433.2h1M353.5 429.8h1M353.4 420.9h1M349.3 429.7h1M365.4 452.7h1M334.3 430.9h1M336.4 440.8h1M351.9 433.2h1M330 444.3h1M340.5 426.7h1M344.8 424.5h1M362.1 442.5h1M362 441.3h1M358.1 429.5h1M336.7 438.4h1M356.3 443.6h1M354.4 437.4h1M338.3 445h1M341.9 432.9h1M390.9 439h1M348.2 438.8h1M364.5 430.5h1M357 426.9h1M332.1 431.2h1M342.1 449.6h1M345.8 451.2h1M343.3 440.6h1M351 423h1M403.7 439.9h1M328 434.9h1M329.6 433.3h1M376.4 451.5h1M339.7 446.2h1M309.8 385.7h1M312.5 386.4h1M334.9 427.7h1M312.3 377.2h1M305.4 354.5h1M304 408.2h1M317.5 387.1h1M304.8 352.2h1M297.5 374.6h1M303.7 345.8h1M294.9 376.5h1M306 417.2h1M330.4 389.6h1M322.9 409.8h1M317.9 408.3h1M304.2 379.1h1M317.9 371.3h1M296.7 355.8h1M301.3 379.4h1M296.1 377.4h1M309.6 388.2h1M308 393.5h1M301.6 410.5h1M295.4 417.9h1M323.7 376.8h1M318.1 360.2h1M307.2 361.1h1M306.2 366.2h1M304.1 409.5h1M325.7 378.1h1M311.1 368.1h1M310 365.5h1M314.1 390.6h1M327.1 400.2h1M301.8 379.2h1M302 397.9h1M322.4 438.7h1M316.5 392.6h1M308.3 393.4h1M303.2 371.9h1M325 382.3h1M334.1 382.6h1M311.3 414.3h1M313.2 419.9h1M309.7 391.4h1M322 363.7h1M313.8 353h1M314.6 369.2h1M318.7 357.7h1M308.8 392.9h1M315.9 401.8h1M309.9 413h1M321 398.2h1M308.1 374.2h1M308 398h1M338.5 383.3h1M293.8 359.1h1M302.5 381h1M304.5 368.3h1M314.6 371.4h1M319.2 381.2h1M304 372.8h1M302.2 412.7h1M314.5 389.1h1M315.4 372.4h1M324.8 405.2h1M331.9 415.1h1M326.5 361.8h1M325.3 436.3h1M298.7 388.4h1M306.3 388.9h1M309.8 386.8h1M303 378.5h1M323 380.8h1M299.6 396.4h1M309 418h1M317.6 400.3h1M340.2 350.8h1M302.2 370.6h1M303.6 374.8h1M321.4 392.9h1M306.5 379.7h1M315.6 367.1h1M330.4 371h1M297.1 400h1M320.4 377.1h1M304.6 400.6h1M313.6 363.2h1M322.1 384.4h1M320.1 407.5h1M318.6 382.6h1M312.5 396.6h1M331.3 408h1M321.9 383.6h1M323.5 395.6h1M319.2 351h1M317.9 357.3h1M290.7 355.1h1M313.3 391.1h1M295.7 399h1M335.6 354h1M311.1 368.1h1M324.3 392.3h1M300.4 384.9h1M302.7 385.4h1M320.8 389.2h1M302.1 373h1M321.9 404.7h1M339.2 379.4h1M298.5 393.1h1M312.6 386.3h1M318.6 439.1h1M296.9 398.5h1M310.9 415.2h1M329.8 384.6h1M297.1 357.8h1M305.9 380.7h1M295.5 384.3h1M322.8 358h1M302.2 390.9h1M297.3 401.4h1M306.6 348.8h1M304.6 450.2h1M334.3 393.2h1M334.2 415.3h1M308.5 372.1h1M308.8 416.5h1M319.5 359.8h1M323 377.3h1M309.1 419.9h1M302.5 385.5h1M306.6 375.6h1M302.3 422.4h1M306.7 397h1M299.4 383.3h1M304.7 378.2h1M310.5 406.7h1M298.7 359.5h1M305 434.4h1M310.1 404.5h1M307.4 421.7h1M299.8 393.7h1M297.8 383.9h1M319 378.7h1M311 425.5h1M331.4 379.4h1M293.3 388h1M324.4 417.8h1M325.9 355.8h1M324.9 384.8h1M304.3 377.8h1M296.8 407.8h1M324.8 354.3h1M323.7 422.3h1M324 427.2h1M317.2 372.6h1M318.9 383.7h1M321.3 393.1h1M336.7 380.2h1M304.9 379.4h1M325.4 393.4h1M303.1 411.8h1M317.3 359.7h1M316.1 401.2h1M331.2 367.7h1M322.2 393.4h1M322.9 393.3h1M301.9 369.7h1M348.5 380.9h1M305.9 385.8h1M313.7 387.1h1M316.3 427.1h1M316.3 377.4h1M309.7 372.5h1M302.5 386.7h1M299.4 396.8h1M319.2 376.6h1M308 391.5h1M314.4 358.7h1M313.6 368.4h1M311.1 385.3h1M307.4 386.9h1M320.9 385.8h1M333.8 363h1M315.1 384.9h1M304.6 388.4h1M297.1 356.4h1M300.2 416h1M307.5 387.3h1M292.7 378.8h1M295.7 382.4h1M303.1 365.5h1M320.9 359.5h1M314.9 360.7h1M304.1 368.2h1M317.3 366.1h1M315.3 407.1h1M314 384.3h1M311 371.8h1M300.9 396.1h1M314.5 372.8h1M318.7 394.4h1M326.9 384.3h1M309.5 385.9h1M326.6 398.9h1M309.7 359h1M317.4 397.7h1M331.6 390.7h1M300 361.1h1M304.3 391.7h1M325.5 350.4h1M331.8 374h1M305.4 379.3h1M325.5 346.6h1M311.4 384.9h1M325.3 401.7h1M322.7 387.4h1M318.5 402.6h1M324.3 377.5h1M337.5 370.8h1M322.4 422.3h1M319.3 408.6h1M288.7 392.6h1M289.7 400.8h1M290.2 402.5h1M293.6 430.7h1M312.9 388.2h1M326.2 402.6h1M316.6 399.9h1M291.1 375.1h1M316.8 378h1M319.2 393.8h1M303.8 391.4h1M327.4 363.9h1M303.1 406.8h1M318.6 398.7h1M300.7 369.1h1M314.1 376h1M329.2 364.7h1M323.7 387.5h1M313.2 355.3h1M324.6 381.2h1M300.6 418.9h1M334.9 421.1h1M321.5 385.4h1M306.8 391.3h1M299.1 412.1h1M314.2 397.3h1M313.1 385.8h1M299.4 414h1M312.9 371.8h1M326.2 413.4h1M314.2 406.6h1M320.4 413.9h1M301.4 422.6h1M314.2 381.3h1M330.5 382.4h1M330.4 387.9h1M311.1 381.6h1M304.4 401.5h1M308.2 388.4h1M300.2 364.7h1M315.4 369.6h1M301.2 391.2h1M328.9 359.5h1M313 384.2h1M301.5 384.3h1M312.4 389.1h1M313 417.3h1M306.8 384.7h1M310.3 380.7h1M307.6 386.8h1M293.6 415.3h1M317.1 396.8h1M311.6 399.3h1M303.1 364.1h1M319.3 390.4h1M295.9 360.4h1M298.7 401.7h1M302.4 373.4h1M314.8 379.6h1M318.8 386.9h1M342 408.2h1M310.8 405.8h1M309.6 349h1M301 360.3h1M336.5 375.6h1M329.5 416.2h1M306.1 400h1M305.1 361.2h1M325.6 365.5h1M289.7 396.1h1M319.1 361.6h1M327 361.7h1M299.2 405.4h1M319.8 367.8h1M326.8 380.8h1M319.2 380.9h1M311.8 365.7h1M307 395.5h1M304.3 387.5h1M326.4 386.6h1M317.4 393.3h1M316.9 386.2h1M303.4 399.2h1M321.8 346.5h1M303.2 411.5h1M303.2 386.8h1M291.7 374.5h1M303 390.5h1M308.9 402.8h1M320.8 360h1M317.7 371.3h1M350.5 424.5h1M320.8 378.7h1M301.4 387.2h1M301.4 374.6h1M311.7 385.6h1M302.5 372.1h1M327.7 363.5h1M321.3 395.4h1M315 371.5h1M318.4 372.9h1M341.9 397.8h1M311.2 399.1h1M311.9 412.7h1M313.7 394.2h1M316.7 385.8h1M320.4 383h1M296 392h1M315.3 367.6h1M307.6 409.9h1M304.7 378.3h1M316.6 372.2h1M319.8 421.1h1M310.2 356.7h1M305.7 402.4h1M312.7 363.5h1M309.1 390.5h1M315.8 387.7h1M313.2 395.4h1M314.2 356.9h1M325.6 375.5h1M315 398.8h1M325.4 392.1h1M315.5 373.2h1M322.1 387.5h1M313.9 391.2h1M328.8 363.7h1M310.2 400.9h1M314.2 393.4h1M325.7 388.4h1M306.1 391.5h1M329.2 392.4h1M344 374h1M317.9 426.1h1M338.2 386.9h1M292.3 368.5h1M309.8 374h1M312.8 362.5h1M306.1 365.4h1M323.7 377.2h1M299.5 373.8h1M326.7 356.5h1M322.5 421.8h1M320.1 407h1M308.6 402.1h1M318.2 372.4h1M319.4 421.6h1M323.2 428.1h1M306.7 346.2h1M312.5 423.1h1M330.1 353.7h1M306.6 397.8h1M315.1 386.6h1M307.9 392.7h1M328 399.2h1M316.2 362.2h1M328.6 385.9h1M326 367.5h1M315.8 396.3h1M305.7 350.6h1M341.4 419.5h1M314.7 416.5h1M305.9 384.9h1M315.7 404.9h1M298 425.7h1M297.3 411.9h1M306.4 400.8h1M316.3 364.7h1M293.2 381.9h1M327.3 391.8h1M311.5 400.2h1M342.1 384h1M311.3 411.1h1M331.5 431h1M315.9 372.9h1M307.4 404.3h1M304.5 401.7h1M309.2 401.1h1M318.3 378.2h1M295.2 430.1h1M337.7 344.8h1M307.4 369.2h1M322.3 404.8h1M300.3 389.6h1M313 400.1h1M315.2 380.5h1M306.1 366.8h1M294.2 383.2h1M303.8 364.9h1M317.2 379.5h1M293.5 386.2h1M314.9 413.3h1M345 407.7h1M315.7 396.5h1M321.1 370.4h1M324 363.2h1M322.3 431.5h1M301.2 391.7h1M304.6 371.1h1M324.5 408h1M316.2 402.6h1M302 377.4h1M306.2 390.4h1M328.8 420.6h1M308.5 372h1M315.1 376.6h1M296.2 380.2h1M328 375.1h1M310 395.3h1M316.2 380.6h1M303 373h1M323.9 375h1M316.5 391h1M320.4 378.7h1M314.8 406.8h1M313.7 382.3h1M330 387.3h1M324.5 380.1h1M310.4 412.2h1M310.6 375.3h1M320.1 428.1h1M299.9 392.6h1M308.7 368h1M300.7 375.5h1M312 404.3h1M324.1 388.6h1M319.5 367.7h1M309.7 383.8h1M332.3 380.7h1M315.2 426.3h1M308.1 381.5h1M314.9 385.6h1M295 356.2h1M319.6 400h1M315.1 406.4h1M343.2 396.6h1M316.8 405.9h1M311.5 373h1M327.2 370.9h1M306.3 389.3h1M327.5 387.4h1M316.4 354.2h1M301.8 383.5h1M322.5 380.4h1M296.6 396.9h1M291.2 353.1h1M324.8 383h1M317.5 351.2h1M321.8 412.5h1M312.4 370.1h1M308.6 394.9h1M308.1 379.1h1M311.4 372.1h1M329.1 377.7h1M319.4 410.1h1M327 376.9h1M329.6 383.6h1M320.7 358.8h1M306.3 378h1M301.4 396.3h1M324.4 408.9h1M311.4 368.9h1M338.1 375.6h1M317.6 392.9h1M320.2 417.1h1M310 405.3h1M313.4 369.9h1M335 385.1h1M326.6 405.5h1M313.3 414.1h1M314.2 370.8h1M307.3 414.9h1M299.8 413.5h1M324.5 378.1h1M315.2 391.8h1M305.1 355.6h1M302.3 362h1M316.3 387.4h1M327.4 382.5h1M296 387.1h1M315.1 360h1M312.9 411.3h1M300.4 396.5h1M328.4 382.3h1M311.2 395.7h1M333.1 375.3h1M313.2 369.7h1M319.4 380.9h1M316.4 387.2h1M309.1 411.1h1M304.1 379.6h1M309.2 353.1h1M322.2 384.6h1M315.5 364.9h1M305.6 412.7h1M301.8 425.8h1M311.2 405.6h1M323 370.9h1M301.9 407.3h1M298.2 359.2h1M319.7 395.6h1M309.3 382.7h1M333 386.3h1M323.4 420.6h1M292.4 362.9h1M307.4 446.2h1M329.5 381h1M308.2 387.4h1M321.7 377.2h1M303.2 411.7h1M313.2 371.2h1M296.8 351.8h1M306.4 384.8h1M313.4 370.6h1M308.5 402.1h1M303.2 387h1M300.4 398.6h1M334 390.2h1M323.5 424.7h1M322.5 377h1M297.8 354.9h1M326 363.2h1M306.9 361.8h1M307.8 429.6h1M299.7 386.2h1M319.8 358h1M310.3 365.2h1M319.9 361.4h1M319.3 371.1h1M307.1 406.6h1M326.7 402.4h1M313.2 399.1h1M310.7 366.7h1M316.6 404.6h1M306.2 373.5h1M331 395.6h1M303.6 388.2h1M327.7 438.6h1M316.8 353.8h1M324.5 383.5h1M298.3 394h1M331 425.6h1M317.5 413.7h1M311 380.8h1M325.4 354.8h1M313 402h1M301.1 366.9h1M311.9 374.5h1M318.4 400.2h1M320.8 389h1M327.2 415h1M327.6 390.7h1M325.1 419.7h1M314.2 402h1M312 364.2h1M309.6 392.8h1M299 395.3h1M320.8 393.8h1M320.6 373.5h1M315.2 378.8h1M323.1 380.2h1M313.3 382.2h1M309.6 394.2h1M295.4 378h1M308.8 383.1h1M315.4 411.2h1M319.2 381.3h1M310.9 372.1h1M309 398.2h1M308.5 363.5h1M317.2 437.7h1M307.5 402.3h1M308.1 364.8h1M304.6 380.6h1M310.2 400.2h1M307.3 401.5h1M308.7 366.7h1M332.4 379.3h1M311.5 376.6h1M289.6 401h1M312.5 386.9h1M324.1 418.6h1M334.1 397.2h1M304.1 397.1h1M314.1 407.7h1M309.5 363.5h1M311.6 359.3h1M318.9 396.4h1M322.2 395.6h1M313.7 421.9h1M312 359.8h1M308.6 426.3h1M333.3 367h1M308.2 422.8h1M311.8 398.8h1M327.7 389.1h1M319.4 363.4h1M315 386.5h1M317.1 403.2h1M324.6 405.8h1M319.7 373.1h1M309.2 398.2h1M341.1 402.8h1M303.9 367.1h1M316.7 353.4h1M307.4 416.8h1M316.9 389.2h1M304.5 379.8h1M326.8 423.2h1M319.3 398.8h1M308.7 389.5h1M314.8 357.8h1M302.1 408h1M317.4 356.1h1M320.8 393.2h1M297 395.5h1M305.2 413.4h1M307.1 377.7h1M295.8 382h1M318.2 371h1M302.6 369.5h1M313.8 397.4h1M346.3 405.8h1M327.8 383.9h1M315.2 366.7h1M321.5 373.5h1M329.4 385.2h1M302.5 379.5h1M305.6 386.1h1M311.9 388.7h1M318.1 430.6h1M315.9 387.3h1M319.4 384.8h1M316.5 363.6h1M309.9 393.3h1M314.8 393.3h1M315.5 359.5h1M313.4 372.5h1M312.4 358.6h1M315.7 365.1h1M312.4 377.5h1M317.1 418.8h1M311.7 367.5h1M309 360.4h1M312.2 397.4h1M313.4 406.9h1M309.2 392.8h1M307.3 386h1M314.5 400.3h1M312.7 409.6h1M315.2 382.6h1M316.9 396.9h1M312.3 400.4h1M315.5 373.3h1M314.8 398.5h1M318.3 392.8h1M311.8 381.4h1M307.9 366.4h1M307.5 395.8h1M317.3 380.6h1M312.6 384.7h1M315.2 387.2h1M312.5 393.5h1M313.9 379.1h1M317 354.2h1M313.3 388.5h1M314.6 346.9h1M318.4 382.6h1M314.2 396.1h1M310.9 398.8h1M313 400.7h1M311.4 377h1M313.2 441.2h1M311.2 397.6h1M311.4 404.9h1M313.9 354.6h1M313 396.8h1M313.3 422h1M314.8 420.5h1M310.2 351.4h1M307.6 415.3h1M317.8 355.5h1M321.3 405.2h1M318.7 385.9h1M318.9 396.9h1M311.5 384.9h1M318.8 409.8h1M312 367.2h1M311.8 392.7h1M316.8 399.1h1M317.3 400h1M312.7 411.7h1M314 404.7h1M313 364.7h1M315.4 387.7h1M314 357.3h1M312.4 380.9h1M312.7 379h1M309.5 384h1M312.2 365.5h1M309.9 385.5h1M314.7 409.3h1M314.2 427.7h1M313 400.2h1M314.1 418.6h1M313.2 400.7h1M311.2 360.2h1M314.4 374.5h1M315.9 423.5h1M317.7 397.9h1M311 389.9h1M314 409h1M310.3 393h1M316.5 390.7h1M310.3 410.4h1M313.4 394.5h1M310.8 358.1h1M314.7 401.2h1M313.9 378.7h1M317.1 376.4h1M315.7 370.7h1M312.4 384.9h1M310 406.2h1M317.1 374h1M317.5 407.2h1M314.3 409.6h1M321.6 411.4h1M309.9 363.8h1M313.7 371.2h1M317.6 371.5h1M308.1 420.8h1M310.6 391.9h1M319.1 354.6h1M313 397h1M313.3 401.4h1M312.3 366.7h1M317.6 408.4h1M313.1 390.3h1M314.3 363.8h1M309.3 359.3h1M313.5 416.9h1M315.2 372.5h1M314.2 364h1M310.2 385h1M311.3 364.7h1M313.6 369.3h1M313.8 423.1h1M312 419.5h1M316.5 427.3h1M319.8 397.6h1M313.4 414.8h1M311.3 414.7h1M309.1 402.3h1M309.5 366.3h1M310.9 423.6h1M308.2 396.8h1M311.6 392.9h1M309.8 358.6h1M318.4 406.9h1M315.6 398.6h1M308.7 395.8h1M313.5 381.7h1M314.6 379h1M312.6 391.2h1M312.9 385h1M313.8 380.4h1M315.8 353.2h1M319.7 360.9h1M310.4 384.7h1M311.7 387h1M309.9 351.7h1M317 405.5h1M313.7 408.8h1M307.1 391.2h1M313.6 376.4h1M316.3 405h1M308 381.8h1M319.1 398.4h1M317.8 371.3h1M313.6 394.1h1M314.6 372.5h1M307.8 389.9h1M310 357.7h1M309.1 400h1M314.3 414.7h1M316.9 394.4h1M318.6 375.3h1M314.8 389.6h1M309.2 360.2h1M314.6 392.8h1M312.5 387h1M314.1 412.4h1M317.6 389h1M315 402.3h1M313.4 360h1M313.3 373h1M310.2 378.4h1M320.6 420.1h1M314.5 393.7h1M322.6 371.7h1M311.1 376.6h1M314.2 408.8h1M314.6 418.7h1M316 382.6h1M317.9 406h1M314.2 378.8h1M311.1 384.9h1M307.5 421.5h1M312.8 385.1h1M315.4 387.7h1M315.4 403.8h1M310.6 416.1h1M307.5 363h1M315.3 389.9h1M313.4 391.9h1M317 392.8h1M316.4 374.1h1M318.1 378.8h1M315.8 380.5h1M315.8 423.6h1M316.4 403.1h1M314.9 377.3h1M313.8 366.4h1M314.9 384.1h1M315.2 393.4h1M364.7 414.2h1M357 404.4h1M370.2 399.5h1M343.2 399.1h1M340.2 385.6h1M347.6 357.1h1M347.9 407.3h1M348.5 364.8h1M373.9 380.9h1M353.8 411.2h1M350.1 373h1M358.8 408.4h1M333.7 387.3h1M324.4 397.7h1M329.8 405h1M359.9 390.4h1M355.2 436h1M351.9 396.3h1M345.6 380.1h1M340.6 399.6h1M335.1 424.8h1M336.6 396.1h1M349.3 367h1M330.7 387.3h1M322.2 369.9h1M340.2 384.4h1M337.2 352.6h1M335.7 357.3h1M350.8 403.8h1M347.4 425.1h1M344.6 405.4h1M340.3 371.7h1M346.6 367.1h1M337.4 417.3h1M335.3 424.9h1M349.9 398.6h1M332.3 390.3h1M364.2 392.7h1M344.6 376.3h1M333 372.4h1M338.2 422.4h1M360.4 397.1h1M358 388.3h1M307.9 374.3h1M345.1 374.9h1M316.4 394.1h1M351.8 418.5h1M351.7 390.7h1M328.9 392.1h1M342.6 398.4h1M344.1 350.1h1M333.6 378.2h1M335.4 398.2h1M341.3 381.1h1M351.5 359.3h1M333.4 390.9h1M350.6 400.3h1M330.6 385.7h1M351 372.1h1M335.7 405.4h1M353.3 380.4h1M373.4 418.9h1M327.4 389.3h1M350.4 385.5h1M359.6 380h1M351.7 391.6h1M364.3 384.6h1M350.1 395.7h1M325.6 371.4h1M346.5 408h1M354.9 403.9h1M360.8 378.1h1M368.3 359.5h1M330.7 392.2h1M371.5 398.4h1M399.1 353.9h1M344.6 408.9h1M331 430.8h1M331.3 402.5h1M351 419.6h1M368 373.2h1M325.5 403.1h1M367.6 367.5h1M336.9 413.1h1M347.7 370.4h1M337.2 370.2h1M345.6 409.6h1M333.9 375.1h1M346.7 374.5h1M357.5 367.4h1M347.8 398.6h1M340.2 368h1M368 384h1M373.8 368.9h1M368.6 393.5h1M337.7 438.8h1M344.9 422.5h1M348.3 367.6h1M347.5 347.5h1M337.7 389.8h1M339.4 393h1M343 371.7h1M334.9 402.4h1M350.5 403.4h1M361.1 394.8h1M331.6 435.3h1M338.5 386.5h1M329.5 387.8h1M359.5 379.9h1M373 366.3h1M328.3 365.4h1M347.3 394.1h1M334.1 380.9h1M357.4 347.5h1M329 392.5h1M349.3 387.8h1M366.3 398.6h1M361.6 369.7h1M347.2 387.7h1M349.6 368.1h1M340.9 397.3h1M351.4 394.7h1M371.2 381.4h1M359 381.3h1M371 388h1M344.7 354.2h1M367.2 398.7h1M331.9 386h1M327.8 368.9h1M370.1 359.4h1M323.6 401.1h1M330.3 420.3h1M358.3 399.1h1M347.1 382.6h1M345.3 372.4h1M360 381.4h1M328.8 381.2h1M343.9 394.5h1M315.4 385.9h1M326.8 387.5h1M333.9 366.1h1M352.5 379.9h1M345.5 402.8h1M332 410.7h1M343.8 368.1h1M344.2 372.8h1M333.6 364.4h1M337.2 402.8h1M347 393.4h1M323.3 382.1h1M349.4 423.3h1M332.9 424.3h1M367 347.3h1M329.1 383.3h1M338.6 414.9h1M348.4 364.2h1M348.4 357.7h1M382.6 355.5h1M333.7 384.7h1M337.9 405.6h1M348.8 408.1h1M346.2 388h1M373.6 438.2h1M334.4 369h1M355.8 417.1h1M381.1 389.3h1M366.8 346.2h1M336.9 377.4h1M356.8 377.6h1M350.7 389h1M341.2 433.2h1M358.2 377.4h1M343.7 399.5h1M312.2 383h1M347.8 381.2h1M333 404.6h1M348.2 407.3h1M352.7 373.5h1M365.3 395.8h1M348.9 382.7h1M334.7 380.1h1M331.1 390.8h1M337.4 398.2h1M349.5 381.5h1M364.7 393.6h1M364.8 353.9h1M315.9 406.3h1M365 357.9h1M343.3 372h1M332.4 409h1M348.4 396.2h1M350.5 382.8h1M340.8 375.5h1M343.4 365.9h1M323.7 379.8h1M360.5 381.9h1M310.7 360.7h1M349.4 402.1h1M339.9 380.7h1M367 376.6h1M361.6 386.3h1M352.4 356.7h1M334.5 351.4h1M335.2 433.2h1M339.7 364h1M346 388.2h1M340.4 425.5h1M319 397h1M350.5 352.6h1M332.3 406h1M347.5 392.2h1M332.6 374.5h1M353 391.8h1M340.4 383h1M335.4 390.7h1M354.6 397.7h1M346.7 384.3h1M352.1 356.6h1M318.9 364.4h1M346.1 383.5h1M349.1 369.2h1M342.5 378.7h1M337.8 366.7h1M346.8 390.4h1M334 423.5h1M348.3 362.8h1M323.5 364.1h1M343.5 393h1M339.1 397.8h1M341.8 419.6h1M330.7 385.9h1M351.4 407.2h1M365 444.1h1M321.7 402.5h1M363.4 369h1M339.1 373.5h1M334.6 380.5h1M355.7 356.4h1M328 371.1h1M344.2 381.1h1M350.1 388.5h1M343.6 423.7h1M372.8 373.9h1M338.7 350.8h1M350.7 388.6h1M323.7 420.6h1M373 392.9h1M332.9 376h1M322.6 379.7h1M355.3 435.4h1M345.3 373.8h1M343.3 377h1M330.3 353.6h1M352.2 389.9h1M334.8 396.8h1M339 382.4h1M346.6 374.7h1M336.9 396.8h1M339.6 382.5h1M342.7 359.9h1M346.3 409.5h1M332 399.4h1M339.9 424.6h1M352.5 430.4h1M324.5 416h1M333.2 388.9h1M333.6 419.8h1M342.2 367h1M336.5 380.3h1M334.9 383.1h1M368.4 347.9h1M339.2 360.4h1M330.3 414.5h1M344.3 376.8h1M357.1 407.4h1M351.2 395.9h1M342.4 408.4h1M345.4 421.3h1M334.7 393.5h1M359.9 405.5h1M400 436h1M392 440h1M399 430h1"/>
<line x1="109" y1="25.8" x2="109" y2="225" stroke="#555" stroke-width="1.2"/><line x1="59.7" y1="165.95" x2="258.85" y2="165.95" stroke="#555" stroke-width="1.2"/><rect x="59.7" y="25.8" width="199.15" height="199.2" fill="none" stroke="#454545" stroke-width="1.4"/>
<line x1="329.75" y1="25.3" x2="329.75" y2="224.4" stroke="#555" stroke-width="1.2"/><line x1="288.1" y1="183.45" x2="487.2" y2="183.45" stroke="#555" stroke-width="1.2"/><rect x="288.1" y="25.3" width="199.1" height="199.1" fill="none" stroke="#454545" stroke-width="1.4"/>
<line x1="115.35" y1="260.1" x2="115.35" y2="459.1" stroke="#555" stroke-width="1.2"/><line x1="58.2" y1="424.6" x2="257.35" y2="424.6" stroke="#555" stroke-width="1.2"/><rect x="58.2" y="260.1" width="199.15" height="199" fill="none" stroke="#454545" stroke-width="1.4"/>
<line x1="332" y1="259.9" x2="332" y2="459" stroke="#555" stroke-width="1.2"/><line x1="286.4" y1="416.9" x2="485.6" y2="416.9" stroke="#555" stroke-width="1.2"/><rect x="286.4" y="259.9" width="199.2" height="199.1" fill="none" stroke="#454545" stroke-width="1.4"/>
<line x1="49" y1="388.3" x2="49" y2="32.5" stroke="#5a5a5a" stroke-width="1.5"/><path d="M49 28.5l-1.9 7h3.8z" fill="#111"/>
<line x1="130.5" y1="233.8" x2="253.6" y2="233.8" stroke="#555" stroke-width="1.3"/><path d="M257.6 233.8l-7 -1.9v3.8z" fill="#111"/>
<line x1="359.5" y1="232.9" x2="483.3" y2="232.9" stroke="#555" stroke-width="1.3"/><path d="M487.3 232.9l-7 -1.9v3.8z" fill="#111"/>
<line x1="126" y1="468.6" x2="250.2" y2="468.6" stroke="#555" stroke-width="1.3"/><path d="M254.2 468.6l-7 -1.9v3.8z" fill="#111"/>
<line x1="340.5" y1="469.4" x2="480.5" y2="469.4" stroke="#555" stroke-width="1.3"/><path d="M484.5 469.4l-7 -1.9v3.8z" fill="#111"/>
<g stroke="#111" stroke-width=".35">
<text x="60.6" y="243" font-size="17.3" text-anchor="start">CD45RA</text>
<text x="297.6" y="241" font-size="17.3" text-anchor="start">CD25</text>
<text x="62.5" y="475.7" font-size="17.1" text-anchor="start">CD62L</text>
<text x="287.4" y="476.7" font-size="16.7" text-anchor="start">CCR7</text>
<text transform="translate(51.3 446) rotate(-90)" font-size="16.9">IFN-γ</text>
<text x="66.8" y="46.8" font-size="13.7" text-anchor="start">22.20</text>
<text x="247.9" y="43.8" font-size="13.7" text-anchor="end">2.21</text>
<text x="249.4" y="217.4" font-size="13.7" text-anchor="end">9.47</text>
<text x="293.1" y="40.2" font-size="13.7" text-anchor="start">20.00</text>
<text x="478.5" y="40.2" font-size="13.7" text-anchor="end">0.22</text>
<text x="480.9" y="217.3" font-size="13.7" text-anchor="end">0.29</text>
<text x="62.4" y="278.7" font-size="13.7" text-anchor="start">22.10</text>
<text x="247.9" y="276.5" font-size="13.7" text-anchor="end">0.32</text>
<text x="251.2" y="453.6" font-size="13.7" text-anchor="end">30.50</text>
<text x="291.1" y="276.6" font-size="13.7" text-anchor="start">16.20</text>
<text x="476.3" y="276.3" font-size="13.7" text-anchor="end">3.96</text>
<text x="480.2" y="453.6" font-size="13.7" text-anchor="end">12.60</text>
</g>
<path d="M113.8 566.6L113.80 507.00A59.6 59.6 0 0 1 156.67 525.20Z" fill="#999" stroke="#1c1c1c" stroke-width="1.15" stroke-linejoin="round"/><path d="M113.8 566.6L156.67 525.20A59.6 59.6 0 0 1 159.46 528.29Z" fill="#5e5e5e" stroke="#1c1c1c" stroke-width="1.15" stroke-linejoin="round"/><path d="M113.8 566.6L159.46 528.29A59.6 59.6 0 1 1 60.10 540.75Z" fill="#fff" stroke="#1c1c1c" stroke-width="1.15" stroke-linejoin="round"/><path d="M113.8 566.6L60.10 540.75A59.6 59.6 0 0 1 113.80 507.00Z" fill="url(#dots)" stroke="#1c1c1c" stroke-width="1.15" stroke-linejoin="round"/>
<path d="M360.7 564.7L360.70 505.80A58.9 58.9 0 0 1 416.72 546.50Z" fill="#999" stroke="#1c1c1c" stroke-width="1.15" stroke-linejoin="round"/><path d="M360.7 564.7L416.72 546.50A58.9 58.9 0 0 1 416.94 547.18Z" fill="#5e5e5e" stroke="#1c1c1c" stroke-width="1.15" stroke-linejoin="round"/><path d="M360.7 564.7L416.94 547.18A58.9 58.9 0 1 1 359.26 505.82Z" fill="#fff" stroke="#1c1c1c" stroke-width="1.15" stroke-linejoin="round"/><path d="M360.7 564.7L359.26 505.82A58.9 58.9 0 0 1 360.70 505.80Z" fill="url(#dots)" stroke="#1c1c1c" stroke-width="1.15" stroke-linejoin="round"/>
<path d="M114 709.2L114.00 650.50A58.7 58.7 0 0 1 161.97 675.36Z" fill="#999" stroke="#1c1c1c" stroke-width="1.15" stroke-linejoin="round"/><path d="M114 709.2L161.97 675.36A58.7 58.7 0 0 1 162.66 676.38Z" fill="#5e5e5e" stroke="#1c1c1c" stroke-width="1.15" stroke-linejoin="round"/><path d="M114 709.2L162.66 676.38A58.7 58.7 0 0 1 71.63 749.83Z" fill="#fff" stroke="#1c1c1c" stroke-width="1.15" stroke-linejoin="round"/><path d="M114 709.2L71.63 749.83A58.7 58.7 0 0 1 114.00 650.50Z" fill="url(#dots)" stroke="#1c1c1c" stroke-width="1.15" stroke-linejoin="round"/>
<path d="M361.4 709.2L361.40 649.70A59.5 59.5 0 0 1 401.21 664.98Z" fill="#999" stroke="#1c1c1c" stroke-width="1.15" stroke-linejoin="round"/><path d="M361.4 709.2L401.21 664.98A59.5 59.5 0 0 1 406.10 669.93Z" fill="#5e5e5e" stroke="#1c1c1c" stroke-width="1.15" stroke-linejoin="round"/><path d="M361.4 709.2L406.10 669.93A59.5 59.5 0 1 1 335.04 655.86Z" fill="#fff" stroke="#1c1c1c" stroke-width="1.15" stroke-linejoin="round"/><path d="M361.4 709.2L335.04 655.86A59.5 59.5 0 0 1 361.40 649.70Z" fill="url(#dots)" stroke="#1c1c1c" stroke-width="1.15" stroke-linejoin="round"/>
<g stroke="#111" stroke-width=".4">
<rect x="180.85" y="547.4" width="4.9" height="3.6" fill="#e4e4e4" stroke="#111" stroke-width="1.4"/><text transform="translate(191.9 552.5) scale(1.075 1)" font-size="11.2">IFN-γ+CD45RA-</text><rect x="180.85" y="561.5" width="4.9" height="4.6" fill="#505050" stroke="#111" stroke-width="1.4"/><text transform="translate(191.9 566.7) scale(1.075 1)" font-size="11.2">IFN-γ+CD45RA+</text><rect x="180.85" y="576.1" width="4.9" height="4" fill="#fff" stroke="#111" stroke-width="1.4"/><text transform="translate(191.9 581) scale(1.075 1)" font-size="11.2">IFN-γ-CD45RA-</text><rect x="180.85" y="589.6" width="4.9" height="4.2" fill="#f2f2f2" stroke="#111" stroke-width="1.4"/><text transform="translate(191.9 594.9) scale(1.075 1)" font-size="11.2">IFN-γ-CD45RA+</text>
<rect x="431.55" y="546.5" width="4.9" height="3.6" fill="#e4e4e4" stroke="#111" stroke-width="1.4"/><text transform="translate(442.5 551.6) scale(1.075 1)" font-size="11.2">IFN-γ+CD25-</text><rect x="431.55" y="560.5" width="4.9" height="4.6" fill="#505050" stroke="#111" stroke-width="1.4"/><text transform="translate(442.5 566.6) scale(1.075 1)" font-size="11.2">IFN-γ+CD25+</text><rect x="431.55" y="574.7" width="4.9" height="4" fill="#fff" stroke="#111" stroke-width="1.4"/><text transform="translate(442.5 580.8) scale(1.075 1)" font-size="11.2">IFN-γ-CD25-</text><rect x="431.55" y="588.8" width="4.9" height="4.2" fill="#f2f2f2" stroke="#111" stroke-width="1.4"/><text transform="translate(442.5 594.7) scale(1.075 1)" font-size="11.2">IFN-γ-CD25+</text>
<rect x="183.95" y="692.9" width="4.9" height="3.6" fill="#e4e4e4" stroke="#111" stroke-width="1.4"/><text transform="translate(194.6 698.2) scale(1.075 1)" font-size="11.2">IFN-γ+CD62L-</text><rect x="183.95" y="706.6" width="4.9" height="4.6" fill="#505050" stroke="#111" stroke-width="1.4"/><text transform="translate(194.6 712.1) scale(1.075 1)" font-size="11.2">IFN-γ+CD62L+</text><rect x="183.95" y="720.7" width="4.9" height="4" fill="#fff" stroke="#111" stroke-width="1.4"/><text transform="translate(194.6 725.9) scale(1.075 1)" font-size="11.2">IFN-γ-CD62L-</text><rect x="183.95" y="734.4" width="4.9" height="4.2" fill="#f2f2f2" stroke="#111" stroke-width="1.4"/><text transform="translate(194.6 739.7) scale(1.075 1)" font-size="11.2">IFN-γ-CD62L+</text>
<rect x="432.75" y="693" width="4.9" height="3.6" fill="#e4e4e4" stroke="#111" stroke-width="1.4"/><text transform="translate(443.2 697.8) scale(1.075 1)" font-size="11.2">IFN-γ+CCR7-</text><rect x="432.75" y="706.9" width="4.9" height="4.6" fill="#505050" stroke="#111" stroke-width="1.4"/><text transform="translate(443.2 712.2) scale(1.075 1)" font-size="11.2">IFN-γ+CCR7+</text><rect x="432.75" y="721.6" width="4.9" height="4" fill="#fff" stroke="#111" stroke-width="1.4"/><text transform="translate(443.2 725.6) scale(1.075 1)" font-size="11.2">IFN-γ-CCR7-</text><rect x="432.75" y="734.5" width="4.9" height="4.2" fill="#f2f2f2" stroke="#111" stroke-width="1.4"/><text transform="translate(443.2 739.5) scale(1.075 1)" font-size="11.2">IFN-γ-CCR7+</text>
</g>
</svg>
</body></html>
